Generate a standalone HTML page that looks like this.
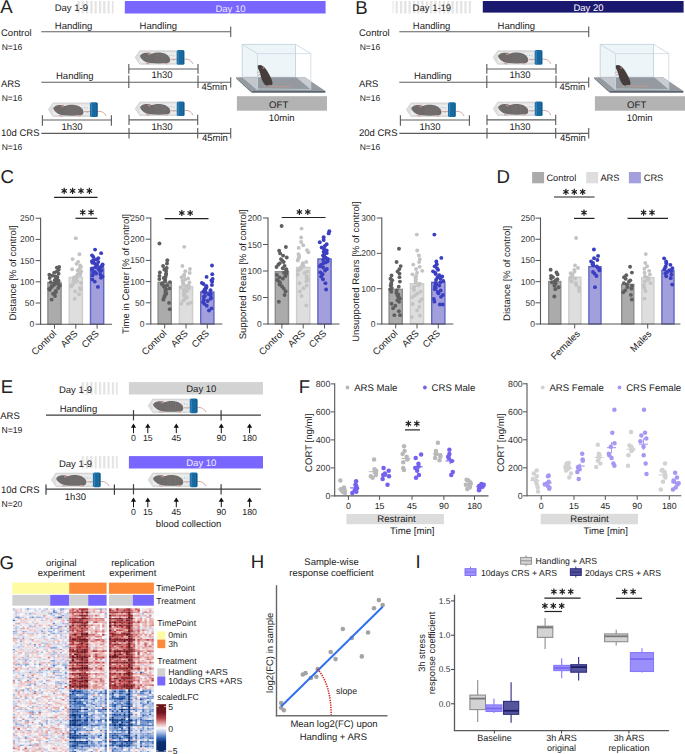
<!DOCTYPE html>
<html><head><meta charset="utf-8"><style>
html,body{margin:0;padding:0;background:#fff;width:685px;height:754px;overflow:hidden}
svg{display:block}
#wrap{width:685px;height:754px}
text{font-family:"Liberation Sans",sans-serif;text-rendering:geometricPrecision}
</style></head><body><div id="wrap">
<svg width="685" height="754" viewBox="0 0 685 754">
<defs>
<symbol id="tube" overflow="visible">
 <path d="M0.2,7.2 L4.8,0.5 L42,0.5 L42,14 L4.8,14 Z" fill="#dedede" stroke="#cacaca" stroke-width="0.6"/>
 <path d="M4.8,2 L41.5,2 L41.5,12.6 L4.8,12.6 Z" fill="#ebebeb"/>
 <path d="M36,9.2 L42,9.2 M49.4,9 C53.5,8.6 56.3,10 57.8,13.6" stroke="#c98d86" stroke-width="0.8" fill="none"/>
 <path d="M5,5.6 C6.5,3.8 8.5,2.6 11,2.6 C13,2.5 14.5,3.2 16.5,3.6 C19,2.6 22,2.3 25,2.4 C29,2.6 32.5,4.2 34.5,7 C36,9.5 35.5,12 33,12.8 C27,13.4 20,13.4 15,12.8 C11.5,12.3 8.5,10.8 7,9 C6,8 5.2,7 5,5.6 Z" fill="#6f6b6b"/>
 <path d="M20,3.6 v8.8 M22.5,3.2 v9.4 M25,3.1 v9.5 M27.5,3.4 v9.2 M30,4.2 v8.3" stroke="#7a7676" stroke-width="0.7"/>
 <circle cx="14.3" cy="3.7" r="1.4" fill="#b08a88"/>
 <path d="M11,13.1 L14.5,13.7 M29,13 L32.5,13.7" stroke="#d0a29c" stroke-width="1.1"/>
 <rect x="41.8" y="-0.1" width="7.8" height="14.7" rx="1.6" fill="#1b6ea6"/>
 <rect x="42.7" y="0.6" width="1.1" height="13.3" fill="#3686bc"/>
 <path d="M45,1 v12.6 M46.6,1 v12.6" stroke="#17618f" stroke-width="0.5"/>
 <rect x="48" y="0.6" width="1.1" height="13.3" fill="#145a88"/>
 <path d="M34,5 v1.2 M36.5,4.6 v1.2 M39,5 v1.2 M39,9.4 v1.2" stroke="#7fa6c2" stroke-width="0.6"/>
</symbol>
<symbol id="oft" overflow="visible">
 <polygon points="242.2,44.4 295.5,44.4 295.5,77.2 242.2,77.2" fill="#eef5f9" stroke="#b5c8d6" stroke-width="0.7"/>
 <polygon points="236.1,77.2 305,77.2 325.4,91.1 251.7,91.1" fill="#959aa0"/>
 <polygon points="242.4,77.3 258,77.3 258,90 257,90" fill="#c3c7cc"/>
 <polygon points="296.2,77.3 305,77.3 310.8,81.2 310.8,89.6" fill="#c9cdd1"/>
 <polygon points="251.7,91.1 325.4,91.1 325.4,92.7 251.7,92.7" fill="#5b636c"/>
 <polygon points="236.1,77.2 251.7,91.1 251.7,92.7 236.1,78.6" fill="#6d747b"/>
 <path d="M257.2,66 C258.5,64.5 261,64.6 263,66.2 C265.5,68 267.5,71 269.5,75 C271.5,79 273,82 272.4,84.6 C271,86 267,86 265,85 C262.5,82 261,77.5 260,73.5 C259.5,71 258,69 257.2,66 Z" fill="#463e3c"/>
 <circle cx="263.4" cy="67.9" r="1.1" fill="#9b6f6a"/>
 <path d="M259.8,71.5 L256.8,72.9 M260.4,74 L257.8,75.6" stroke="#c9958d" stroke-width="0.9"/>
 <path d="M268,85.3 C275,86.8 283,86.6 291.1,86.2" stroke="#c9958d" stroke-width="0.8" fill="none"/>
 <path d="M266,85.2 L263.5,87.5" stroke="#c9958d" stroke-width="0.9"/>
 <polygon points="257.5,53.6 310.8,53.6 310.8,89.6 257.5,88.9" fill="none" stroke="#c4d4e0" stroke-width="0.7"/>
 <path d="M242.2,44.4 L257.5,53.6 M295.5,44.4 L310.8,53.6 M242.2,77.2 L257.5,88.9" stroke="#bccdd9" stroke-width="0.7" fill="none"/>
</symbol>
<pattern id="stripes" width="4.3" height="20" patternUnits="userSpaceOnUse"><rect x="0" y="0" width="2.2" height="20" fill="#e3e3e3"/></pattern>

<filter id="gblur" filterUnits="userSpaceOnUse" x="0" y="0" width="685" height="754"><feConvolveMatrix order="3" kernelMatrix="0.012 0.065 0.012 0.065 0.692 0.065 0.012 0.065 0.012" edgeMode="duplicate" preserveAlpha="false"/></filter>
<filter id="hblur" x="-0.02" y="-0.02" width="1.04" height="1.04"><feGaussianBlur stdDeviation="0.35 0.25"/></filter>
<linearGradient id="lfc" x1="0" y1="0" x2="0" y2="1">
 <stop offset="0" stop-color="#6a1218"/><stop offset="0.18" stop-color="#701820"/><stop offset="0.3" stop-color="#b84448"/>
 <stop offset="0.42" stop-color="#e8b4b4"/><stop offset="0.5" stop-color="#fbfafc"/><stop offset="0.6" stop-color="#a8bce4"/>
 <stop offset="0.72" stop-color="#2c5cb0"/><stop offset="0.8" stop-color="#0c3070"/><stop offset="1" stop-color="#0a2a6a"/>
</linearGradient>
<pattern id="hmnoise" width="24" height="6" patternUnits="userSpaceOnUse">
 <rect x="0" y="0" width="24" height="1" fill="#ffffff" opacity="0.35"/>
 <rect x="3" y="2" width="9" height="1" fill="#ffffff" opacity="0.3"/>
 <rect x="14" y="3" width="8" height="1" fill="#ffffff" opacity="0.3"/>
 <rect x="0" y="4" width="5" height="1" fill="#ffffff" opacity="0.25"/>
</pattern>
</defs>
<rect width="685" height="754" fill="#fff"/>
<text x="0.30" y="12.70" font-size="18.6" text-anchor="start" fill="#222" >A</text>
<rect x="77.20" y="1.00" width="36.40" height="12.50" fill="url(#stripes)" />
<text x="54.70" y="11.20" font-size="9.5" text-anchor="start" fill="#222" >Day 1-9</text>
<rect x="124.80" y="1.00" width="200.80" height="12.50" fill="#7866fe" />
<text x="230.50" y="11.50" font-size="9.5" text-anchor="middle" fill="#ece9ff" >Day 10</text>
<text x="1.00" y="35.60" font-size="9.5" text-anchor="start" fill="#222" >Control</text>
<text x="1.70" y="49.80" font-size="8.5" text-anchor="start" fill="#222" >N=16</text>
<text x="54.80" y="28.60" font-size="9.5" text-anchor="start" fill="#222" >Handling</text>
<text x="139.60" y="28.60" font-size="9.5" text-anchor="start" fill="#222" >Handling</text>
<line x1="41.30" y1="31.70" x2="230.70" y2="31.70" stroke="#5e5e5e" stroke-width="1.15" />
<line x1="230.70" y1="26.40" x2="230.70" y2="36.90" stroke="#5e5e5e" stroke-width="1.15" />
<text x="0.90" y="86.60" font-size="9.5" text-anchor="start" fill="#222" >ARS</text>
<text x="1.70" y="100.60" font-size="8.5" text-anchor="start" fill="#222" >N=16</text>
<text x="56.00" y="78.80" font-size="9.5" text-anchor="start" fill="#222" >Handling</text>
<use href="#tube" x="134.9" y="50.2"/>
<line x1="128.80" y1="69.00" x2="198.00" y2="69.00" stroke="#5e5e5e" stroke-width="1.15" />
<line x1="128.80" y1="64.00" x2="128.80" y2="73.80" stroke="#5e5e5e" stroke-width="1.15" />
<line x1="198.00" y1="64.00" x2="198.00" y2="73.80" stroke="#5e5e5e" stroke-width="1.15" />
<text x="162.00" y="78.00" font-size="9.5" text-anchor="middle" fill="#222" >1h30</text>
<line x1="41.30" y1="82.20" x2="230.70" y2="82.20" stroke="#5e5e5e" stroke-width="1.15" />
<line x1="128.80" y1="75.50" x2="128.80" y2="88.00" stroke="#5e5e5e" stroke-width="1.15" />
<line x1="198.00" y1="75.50" x2="198.00" y2="88.00" stroke="#5e5e5e" stroke-width="1.15" />
<line x1="230.70" y1="77.20" x2="230.70" y2="87.40" stroke="#5e5e5e" stroke-width="1.15" />
<text x="201.50" y="90.30" font-size="9.5" text-anchor="start" fill="#222" >45min</text>
<text x="1.00" y="136.30" font-size="9.5" text-anchor="start" fill="#222" >10d CRS</text>
<text x="1.70" y="149.70" font-size="8.5" text-anchor="start" fill="#222" >N=16</text>
<use href="#tube" x="48.2" y="102.4"/>
<use href="#tube" x="135.0" y="101.5"/>
<line x1="42.40" y1="120.00" x2="111.40" y2="120.00" stroke="#5e5e5e" stroke-width="1.15" />
<line x1="42.40" y1="115.20" x2="42.40" y2="125.70" stroke="#5e5e5e" stroke-width="1.15" />
<line x1="111.40" y1="115.20" x2="111.40" y2="125.70" stroke="#5e5e5e" stroke-width="1.15" />
<text x="72.00" y="130.40" font-size="9.5" text-anchor="middle" fill="#222" >1h30</text>
<line x1="129.00" y1="119.80" x2="197.70" y2="119.80" stroke="#5e5e5e" stroke-width="1.15" />
<line x1="129.00" y1="114.70" x2="129.00" y2="125.10" stroke="#5e5e5e" stroke-width="1.15" />
<line x1="197.70" y1="114.70" x2="197.70" y2="125.10" stroke="#5e5e5e" stroke-width="1.15" />
<text x="162.00" y="130.40" font-size="9.5" text-anchor="middle" fill="#222" >1h30</text>
<line x1="41.30" y1="133.30" x2="230.70" y2="133.30" stroke="#5e5e5e" stroke-width="1.15" />
<line x1="129.00" y1="128.00" x2="129.00" y2="138.40" stroke="#5e5e5e" stroke-width="1.15" />
<line x1="197.70" y1="128.00" x2="197.70" y2="138.40" stroke="#5e5e5e" stroke-width="1.15" />
<line x1="230.70" y1="128.00" x2="230.70" y2="138.40" stroke="#5e5e5e" stroke-width="1.15" />
<text x="202.00" y="141.20" font-size="9.5" text-anchor="start" fill="#222" >45min</text>
<use href="#oft" x="0.0" y="0"/>
<rect x="236.90" y="96.20" width="90.10" height="14.50" fill="#b3b3b3" />
<text x="278.70" y="107.60" font-size="9.6" text-anchor="middle" fill="#222" >OFT</text>
<text x="281.60" y="121.00" font-size="9.5" text-anchor="middle" fill="#222" >10min</text>
<text x="355.30" y="13.60" font-size="18.6" text-anchor="start" fill="#222" >B</text>
<rect x="392.60" y="1.00" width="78.60" height="12.50" fill="url(#stripes)" />
<text x="412.60" y="11.20" font-size="9.5" text-anchor="start" fill="#222" >Day 1-19</text>
<rect x="482.80" y="1.00" width="200.80" height="11.60" fill="#1b196f" />
<text x="588.50" y="11.00" font-size="9.5" text-anchor="middle" fill="#ffffff" >Day 20</text>
<text x="359.00" y="35.60" font-size="9.5" text-anchor="start" fill="#222" >Control</text>
<text x="359.70" y="49.80" font-size="8.5" text-anchor="start" fill="#222" >N=16</text>
<text x="412.80" y="28.60" font-size="9.5" text-anchor="start" fill="#222" >Handling</text>
<text x="497.60" y="28.60" font-size="9.5" text-anchor="start" fill="#222" >Handling</text>
<line x1="399.30" y1="31.70" x2="588.70" y2="31.70" stroke="#5e5e5e" stroke-width="1.15" />
<line x1="588.70" y1="26.40" x2="588.70" y2="36.90" stroke="#5e5e5e" stroke-width="1.15" />
<text x="358.90" y="86.60" font-size="9.5" text-anchor="start" fill="#222" >ARS</text>
<text x="359.70" y="100.60" font-size="8.5" text-anchor="start" fill="#222" >N=16</text>
<text x="414.00" y="78.80" font-size="9.5" text-anchor="start" fill="#222" >Handling</text>
<use href="#tube" x="492.9" y="50.2"/>
<line x1="486.80" y1="69.00" x2="556.00" y2="69.00" stroke="#5e5e5e" stroke-width="1.15" />
<line x1="486.80" y1="64.00" x2="486.80" y2="73.80" stroke="#5e5e5e" stroke-width="1.15" />
<line x1="556.00" y1="64.00" x2="556.00" y2="73.80" stroke="#5e5e5e" stroke-width="1.15" />
<text x="520.00" y="78.00" font-size="9.5" text-anchor="middle" fill="#222" >1h30</text>
<line x1="399.30" y1="82.20" x2="588.70" y2="82.20" stroke="#5e5e5e" stroke-width="1.15" />
<line x1="486.80" y1="75.50" x2="486.80" y2="88.00" stroke="#5e5e5e" stroke-width="1.15" />
<line x1="556.00" y1="75.50" x2="556.00" y2="88.00" stroke="#5e5e5e" stroke-width="1.15" />
<line x1="588.70" y1="77.20" x2="588.70" y2="87.40" stroke="#5e5e5e" stroke-width="1.15" />
<text x="559.50" y="90.30" font-size="9.5" text-anchor="start" fill="#222" >45min</text>
<text x="359.00" y="136.30" font-size="9.5" text-anchor="start" fill="#222" >20d CRS</text>
<text x="359.70" y="149.70" font-size="8.5" text-anchor="start" fill="#222" >N=16</text>
<use href="#tube" x="406.2" y="102.4"/>
<use href="#tube" x="493.0" y="101.5"/>
<line x1="400.40" y1="120.00" x2="469.40" y2="120.00" stroke="#5e5e5e" stroke-width="1.15" />
<line x1="400.40" y1="115.20" x2="400.40" y2="125.70" stroke="#5e5e5e" stroke-width="1.15" />
<line x1="469.40" y1="115.20" x2="469.40" y2="125.70" stroke="#5e5e5e" stroke-width="1.15" />
<text x="430.00" y="130.40" font-size="9.5" text-anchor="middle" fill="#222" >1h30</text>
<line x1="487.00" y1="119.80" x2="555.70" y2="119.80" stroke="#5e5e5e" stroke-width="1.15" />
<line x1="487.00" y1="114.70" x2="487.00" y2="125.10" stroke="#5e5e5e" stroke-width="1.15" />
<line x1="555.70" y1="114.70" x2="555.70" y2="125.10" stroke="#5e5e5e" stroke-width="1.15" />
<text x="520.00" y="130.40" font-size="9.5" text-anchor="middle" fill="#222" >1h30</text>
<line x1="399.30" y1="133.30" x2="588.70" y2="133.30" stroke="#5e5e5e" stroke-width="1.15" />
<line x1="487.00" y1="128.00" x2="487.00" y2="138.40" stroke="#5e5e5e" stroke-width="1.15" />
<line x1="555.70" y1="128.00" x2="555.70" y2="138.40" stroke="#5e5e5e" stroke-width="1.15" />
<line x1="588.70" y1="128.00" x2="588.70" y2="138.40" stroke="#5e5e5e" stroke-width="1.15" />
<text x="560.00" y="141.20" font-size="9.5" text-anchor="start" fill="#222" >45min</text>
<use href="#oft" x="358.0" y="0"/>
<rect x="594.90" y="96.20" width="90.10" height="14.50" fill="#b3b3b3" />
<text x="636.70" y="107.60" font-size="9.6" text-anchor="middle" fill="#222" >OFT</text>
<text x="639.60" y="121.00" font-size="9.5" text-anchor="middle" fill="#222" >10min</text>
<text x="0.60" y="182.70" font-size="18.6" text-anchor="start" fill="#222" >C</text>
<rect x="47.90" y="282.50" width="13.20" height="41.70" fill="#ababab" stroke="#8c8c8c" stroke-width="1.4"/>
<rect x="69.20" y="277.41" width="13.20" height="46.79" fill="#dedede" stroke="#cdcdcd" stroke-width="1.4"/>
<rect x="90.50" y="268.08" width="13.20" height="56.12" fill="#a39fdd" stroke="#5f67c3" stroke-width="1.4"/>
<circle cx="51.62" cy="299.61" r="1.95" fill="#5f5f5f" />
<circle cx="54.99" cy="296.01" r="1.95" fill="#5f5f5f" />
<circle cx="53.07" cy="293.82" r="1.95" fill="#5f5f5f" />
<circle cx="55.64" cy="292.23" r="1.95" fill="#5f5f5f" />
<circle cx="55.88" cy="290.94" r="1.95" fill="#5f5f5f" />
<circle cx="49.72" cy="289.83" r="1.95" fill="#5f5f5f" />
<circle cx="49.14" cy="288.84" r="1.95" fill="#5f5f5f" />
<circle cx="58.21" cy="287.94" r="1.95" fill="#5f5f5f" />
<circle cx="51.85" cy="287.11" r="1.95" fill="#5f5f5f" />
<circle cx="51.58" cy="286.32" r="1.95" fill="#5f5f5f" />
<circle cx="59.95" cy="285.57" r="1.95" fill="#5f5f5f" />
<circle cx="54.17" cy="284.85" r="1.95" fill="#5f5f5f" />
<circle cx="58.20" cy="284.15" r="1.95" fill="#5f5f5f" />
<circle cx="54.24" cy="283.47" r="1.95" fill="#5f5f5f" />
<circle cx="56.03" cy="282.80" r="1.95" fill="#5f5f5f" />
<circle cx="50.66" cy="282.13" r="1.95" fill="#5f5f5f" />
<circle cx="55.98" cy="281.47" r="1.95" fill="#5f5f5f" />
<circle cx="58.55" cy="280.80" r="1.95" fill="#5f5f5f" />
<circle cx="54.75" cy="280.13" r="1.95" fill="#5f5f5f" />
<circle cx="57.15" cy="279.45" r="1.95" fill="#5f5f5f" />
<circle cx="56.39" cy="278.75" r="1.95" fill="#5f5f5f" />
<circle cx="49.70" cy="278.03" r="1.95" fill="#5f5f5f" />
<circle cx="57.34" cy="277.28" r="1.95" fill="#5f5f5f" />
<circle cx="55.50" cy="276.49" r="1.95" fill="#5f5f5f" />
<circle cx="52.31" cy="275.66" r="1.95" fill="#5f5f5f" />
<circle cx="49.34" cy="274.76" r="1.95" fill="#5f5f5f" />
<circle cx="58.52" cy="273.77" r="1.95" fill="#5f5f5f" />
<circle cx="54.20" cy="272.66" r="1.95" fill="#5f5f5f" />
<circle cx="56.91" cy="271.37" r="1.95" fill="#5f5f5f" />
<circle cx="58.67" cy="269.78" r="1.95" fill="#5f5f5f" />
<circle cx="56.86" cy="267.59" r="1.95" fill="#5f5f5f" />
<circle cx="59.13" cy="266.96" r="1.95" fill="#5f5f5f" />
<circle cx="74.64" cy="298.76" r="1.95" fill="#c3c3c3" />
<circle cx="79.11" cy="294.32" r="1.95" fill="#c3c3c3" />
<circle cx="75.19" cy="291.56" r="1.95" fill="#c3c3c3" />
<circle cx="80.59" cy="289.55" r="1.95" fill="#c3c3c3" />
<circle cx="79.97" cy="287.92" r="1.95" fill="#c3c3c3" />
<circle cx="71.37" cy="286.52" r="1.95" fill="#c3c3c3" />
<circle cx="71.80" cy="285.27" r="1.95" fill="#c3c3c3" />
<circle cx="72.69" cy="284.13" r="1.95" fill="#c3c3c3" />
<circle cx="80.92" cy="283.07" r="1.95" fill="#c3c3c3" />
<circle cx="75.10" cy="282.07" r="1.95" fill="#c3c3c3" />
<circle cx="77.19" cy="281.12" r="1.95" fill="#c3c3c3" />
<circle cx="73.61" cy="280.20" r="1.95" fill="#c3c3c3" />
<circle cx="75.88" cy="279.31" r="1.95" fill="#c3c3c3" />
<circle cx="74.54" cy="278.43" r="1.95" fill="#c3c3c3" />
<circle cx="74.16" cy="277.57" r="1.95" fill="#c3c3c3" />
<circle cx="76.74" cy="276.71" r="1.95" fill="#c3c3c3" />
<circle cx="76.73" cy="275.85" r="1.95" fill="#c3c3c3" />
<circle cx="80.25" cy="274.99" r="1.95" fill="#c3c3c3" />
<circle cx="77.80" cy="274.11" r="1.95" fill="#c3c3c3" />
<circle cx="80.52" cy="273.22" r="1.95" fill="#c3c3c3" />
<circle cx="79.72" cy="272.30" r="1.95" fill="#c3c3c3" />
<circle cx="81.20" cy="271.35" r="1.95" fill="#c3c3c3" />
<circle cx="77.68" cy="270.35" r="1.95" fill="#c3c3c3" />
<circle cx="72.09" cy="269.29" r="1.95" fill="#c3c3c3" />
<circle cx="79.77" cy="268.15" r="1.95" fill="#c3c3c3" />
<circle cx="80.91" cy="266.90" r="1.95" fill="#c3c3c3" />
<circle cx="80.25" cy="265.50" r="1.95" fill="#c3c3c3" />
<circle cx="76.56" cy="263.87" r="1.95" fill="#c3c3c3" />
<circle cx="78.15" cy="261.86" r="1.95" fill="#c3c3c3" />
<circle cx="72.62" cy="259.11" r="1.95" fill="#c3c3c3" />
<circle cx="79.45" cy="254.24" r="1.95" fill="#c3c3c3" />
<circle cx="75.80" cy="238.13" r="1.95" fill="#c3c3c3" />
<circle cx="97.91" cy="286.89" r="1.95" fill="#3a3ec0" />
<circle cx="94.73" cy="281.60" r="1.95" fill="#3a3ec0" />
<circle cx="92.30" cy="279.41" r="1.95" fill="#3a3ec0" />
<circle cx="100.99" cy="277.81" r="1.95" fill="#3a3ec0" />
<circle cx="102.49" cy="276.52" r="1.95" fill="#3a3ec0" />
<circle cx="92.57" cy="275.41" r="1.95" fill="#3a3ec0" />
<circle cx="100.41" cy="274.43" r="1.95" fill="#3a3ec0" />
<circle cx="96.12" cy="273.53" r="1.95" fill="#3a3ec0" />
<circle cx="93.26" cy="272.69" r="1.95" fill="#3a3ec0" />
<circle cx="94.83" cy="271.91" r="1.95" fill="#3a3ec0" />
<circle cx="100.06" cy="271.16" r="1.95" fill="#3a3ec0" />
<circle cx="101.20" cy="270.44" r="1.95" fill="#3a3ec0" />
<circle cx="92.09" cy="269.74" r="1.95" fill="#3a3ec0" />
<circle cx="98.36" cy="269.06" r="1.95" fill="#3a3ec0" />
<circle cx="92.09" cy="268.38" r="1.95" fill="#3a3ec0" />
<circle cx="99.50" cy="267.72" r="1.95" fill="#3a3ec0" />
<circle cx="95.24" cy="267.05" r="1.95" fill="#3a3ec0" />
<circle cx="101.29" cy="266.39" r="1.95" fill="#3a3ec0" />
<circle cx="102.39" cy="265.71" r="1.95" fill="#3a3ec0" />
<circle cx="97.16" cy="265.03" r="1.95" fill="#3a3ec0" />
<circle cx="102.58" cy="264.33" r="1.95" fill="#3a3ec0" />
<circle cx="95.01" cy="263.61" r="1.95" fill="#3a3ec0" />
<circle cx="92.45" cy="262.86" r="1.95" fill="#3a3ec0" />
<circle cx="98.20" cy="262.07" r="1.95" fill="#3a3ec0" />
<circle cx="91.95" cy="261.24" r="1.95" fill="#3a3ec0" />
<circle cx="93.77" cy="260.34" r="1.95" fill="#3a3ec0" />
<circle cx="96.09" cy="259.36" r="1.95" fill="#3a3ec0" />
<circle cx="98.32" cy="258.25" r="1.95" fill="#3a3ec0" />
<circle cx="93.32" cy="256.95" r="1.95" fill="#3a3ec0" />
<circle cx="92.07" cy="255.36" r="1.95" fill="#3a3ec0" />
<circle cx="101.15" cy="253.17" r="1.95" fill="#3a3ec0" />
<circle cx="95.05" cy="249.58" r="1.95" fill="#3a3ec0" />
<line x1="40.60" y1="217.70" x2="40.60" y2="324.70" stroke="#555" stroke-width="1.1" />
<line x1="40.60" y1="324.20" x2="112.10" y2="324.20" stroke="#555" stroke-width="1.1" />
<line x1="35.60" y1="324.20" x2="40.60" y2="324.20" stroke="#555" stroke-width="1" />
<text x="34.30" y="327.20" font-size="8.5" text-anchor="end" fill="#333" >0</text>
<line x1="35.60" y1="303.00" x2="40.60" y2="303.00" stroke="#555" stroke-width="1" />
<text x="34.30" y="306.00" font-size="8.5" text-anchor="end" fill="#333" >50</text>
<line x1="35.60" y1="281.80" x2="40.60" y2="281.80" stroke="#555" stroke-width="1" />
<text x="34.30" y="284.80" font-size="8.5" text-anchor="end" fill="#333" >100</text>
<line x1="35.60" y1="260.60" x2="40.60" y2="260.60" stroke="#555" stroke-width="1" />
<text x="34.30" y="263.60" font-size="8.5" text-anchor="end" fill="#333" >150</text>
<line x1="35.60" y1="239.40" x2="40.60" y2="239.40" stroke="#555" stroke-width="1" />
<text x="34.30" y="242.40" font-size="8.5" text-anchor="end" fill="#333" >200</text>
<line x1="35.60" y1="218.20" x2="40.60" y2="218.20" stroke="#555" stroke-width="1" />
<text x="34.30" y="221.20" font-size="8.5" text-anchor="end" fill="#333" >250</text>
<line x1="54.50" y1="324.20" x2="54.50" y2="328.70" stroke="#555" stroke-width="1" />
<line x1="75.80" y1="324.20" x2="75.80" y2="328.70" stroke="#555" stroke-width="1" />
<line x1="97.10" y1="324.20" x2="97.10" y2="328.70" stroke="#555" stroke-width="1" />
<text x="57.00" y="334.20" font-size="9.5" text-anchor="end" fill="#222" transform="rotate(-45 57.00 334.20)">Control</text>
<text x="78.30" y="334.20" font-size="9.5" text-anchor="end" fill="#222" transform="rotate(-45 78.30 334.20)">ARS</text>
<text x="99.60" y="334.20" font-size="9.5" text-anchor="end" fill="#222" transform="rotate(-45 99.60 334.20)">CRS</text>
<text x="16.20" y="272.90" font-size="9.5" text-anchor="middle" fill="#222" transform="rotate(-90 16.20 272.90)">Distance [% of control]</text>
<rect x="158.10" y="282.30" width="13.20" height="41.70" fill="#ababab" stroke="#8c8c8c" stroke-width="1.4"/>
<rect x="179.40" y="286.54" width="13.20" height="37.46" fill="#dedede" stroke="#cdcdcd" stroke-width="1.4"/>
<rect x="200.70" y="292.05" width="13.20" height="31.95" fill="#a39fdd" stroke="#5f67c3" stroke-width="1.4"/>
<circle cx="169.75" cy="309.16" r="1.95" fill="#5f5f5f" />
<circle cx="169.06" cy="302.92" r="1.95" fill="#5f5f5f" />
<circle cx="163.36" cy="299.63" r="1.95" fill="#5f5f5f" />
<circle cx="164.26" cy="297.24" r="1.95" fill="#5f5f5f" />
<circle cx="164.92" cy="295.31" r="1.95" fill="#5f5f5f" />
<circle cx="166.28" cy="293.64" r="1.95" fill="#5f5f5f" />
<circle cx="165.75" cy="292.16" r="1.95" fill="#5f5f5f" />
<circle cx="165.35" cy="290.82" r="1.95" fill="#5f5f5f" />
<circle cx="166.02" cy="289.56" r="1.95" fill="#5f5f5f" />
<circle cx="169.55" cy="288.38" r="1.95" fill="#5f5f5f" />
<circle cx="164.78" cy="287.26" r="1.95" fill="#5f5f5f" />
<circle cx="163.94" cy="286.18" r="1.95" fill="#5f5f5f" />
<circle cx="167.12" cy="285.13" r="1.95" fill="#5f5f5f" />
<circle cx="161.81" cy="284.11" r="1.95" fill="#5f5f5f" />
<circle cx="162.51" cy="283.10" r="1.95" fill="#5f5f5f" />
<circle cx="169.96" cy="282.10" r="1.95" fill="#5f5f5f" />
<circle cx="164.93" cy="281.10" r="1.95" fill="#5f5f5f" />
<circle cx="165.23" cy="280.10" r="1.95" fill="#5f5f5f" />
<circle cx="159.33" cy="279.09" r="1.95" fill="#5f5f5f" />
<circle cx="163.77" cy="278.07" r="1.95" fill="#5f5f5f" />
<circle cx="165.58" cy="277.02" r="1.95" fill="#5f5f5f" />
<circle cx="159.42" cy="275.94" r="1.95" fill="#5f5f5f" />
<circle cx="165.97" cy="274.82" r="1.95" fill="#5f5f5f" />
<circle cx="166.15" cy="273.64" r="1.95" fill="#5f5f5f" />
<circle cx="159.86" cy="272.38" r="1.95" fill="#5f5f5f" />
<circle cx="166.10" cy="271.04" r="1.95" fill="#5f5f5f" />
<circle cx="164.33" cy="269.56" r="1.95" fill="#5f5f5f" />
<circle cx="166.67" cy="267.89" r="1.95" fill="#5f5f5f" />
<circle cx="163.08" cy="265.96" r="1.95" fill="#5f5f5f" />
<circle cx="166.98" cy="263.57" r="1.95" fill="#5f5f5f" />
<circle cx="167.32" cy="260.28" r="1.95" fill="#5f5f5f" />
<circle cx="159.44" cy="243.44" r="1.95" fill="#5f5f5f" />
<circle cx="181.17" cy="303.65" r="1.95" fill="#c3c3c3" />
<circle cx="187.94" cy="303.65" r="1.95" fill="#c3c3c3" />
<circle cx="191.10" cy="302.67" r="1.95" fill="#c3c3c3" />
<circle cx="183.26" cy="300.44" r="1.95" fill="#c3c3c3" />
<circle cx="185.52" cy="298.63" r="1.95" fill="#c3c3c3" />
<circle cx="187.02" cy="297.08" r="1.95" fill="#c3c3c3" />
<circle cx="184.02" cy="295.70" r="1.95" fill="#c3c3c3" />
<circle cx="184.50" cy="294.44" r="1.95" fill="#c3c3c3" />
<circle cx="183.94" cy="293.27" r="1.95" fill="#c3c3c3" />
<circle cx="184.56" cy="292.17" r="1.95" fill="#c3c3c3" />
<circle cx="187.05" cy="291.12" r="1.95" fill="#c3c3c3" />
<circle cx="183.80" cy="290.12" r="1.95" fill="#c3c3c3" />
<circle cx="184.65" cy="289.14" r="1.95" fill="#c3c3c3" />
<circle cx="189.00" cy="288.18" r="1.95" fill="#c3c3c3" />
<circle cx="180.80" cy="287.24" r="1.95" fill="#c3c3c3" />
<circle cx="186.76" cy="286.31" r="1.95" fill="#c3c3c3" />
<circle cx="188.59" cy="285.37" r="1.95" fill="#c3c3c3" />
<circle cx="183.91" cy="284.44" r="1.95" fill="#c3c3c3" />
<circle cx="182.95" cy="283.50" r="1.95" fill="#c3c3c3" />
<circle cx="189.34" cy="282.54" r="1.95" fill="#c3c3c3" />
<circle cx="183.13" cy="281.56" r="1.95" fill="#c3c3c3" />
<circle cx="182.56" cy="280.56" r="1.95" fill="#c3c3c3" />
<circle cx="185.29" cy="279.51" r="1.95" fill="#c3c3c3" />
<circle cx="188.18" cy="278.41" r="1.95" fill="#c3c3c3" />
<circle cx="181.62" cy="277.24" r="1.95" fill="#c3c3c3" />
<circle cx="184.04" cy="275.98" r="1.95" fill="#c3c3c3" />
<circle cx="184.17" cy="274.60" r="1.95" fill="#c3c3c3" />
<circle cx="189.67" cy="273.05" r="1.95" fill="#c3c3c3" />
<circle cx="185.32" cy="271.24" r="1.95" fill="#c3c3c3" />
<circle cx="189.91" cy="269.01" r="1.95" fill="#c3c3c3" />
<circle cx="182.36" cy="265.94" r="1.95" fill="#c3c3c3" />
<circle cx="184.20" cy="246.83" r="1.95" fill="#c3c3c3" />
<circle cx="208.95" cy="310.43" r="1.95" fill="#3a3ec0" />
<circle cx="211.53" cy="308.41" r="1.95" fill="#3a3ec0" />
<circle cx="206.76" cy="305.78" r="1.95" fill="#3a3ec0" />
<circle cx="204.28" cy="303.87" r="1.95" fill="#3a3ec0" />
<circle cx="203.13" cy="302.32" r="1.95" fill="#3a3ec0" />
<circle cx="207.63" cy="300.99" r="1.95" fill="#3a3ec0" />
<circle cx="203.90" cy="299.80" r="1.95" fill="#3a3ec0" />
<circle cx="210.67" cy="298.72" r="1.95" fill="#3a3ec0" />
<circle cx="211.02" cy="297.72" r="1.95" fill="#3a3ec0" />
<circle cx="203.82" cy="296.78" r="1.95" fill="#3a3ec0" />
<circle cx="204.86" cy="295.88" r="1.95" fill="#3a3ec0" />
<circle cx="210.68" cy="295.02" r="1.95" fill="#3a3ec0" />
<circle cx="208.86" cy="294.18" r="1.95" fill="#3a3ec0" />
<circle cx="210.67" cy="293.36" r="1.95" fill="#3a3ec0" />
<circle cx="205.60" cy="292.55" r="1.95" fill="#3a3ec0" />
<circle cx="203.23" cy="291.75" r="1.95" fill="#3a3ec0" />
<circle cx="205.01" cy="290.95" r="1.95" fill="#3a3ec0" />
<circle cx="210.53" cy="290.15" r="1.95" fill="#3a3ec0" />
<circle cx="204.78" cy="289.35" r="1.95" fill="#3a3ec0" />
<circle cx="205.61" cy="288.53" r="1.95" fill="#3a3ec0" />
<circle cx="206.39" cy="287.69" r="1.95" fill="#3a3ec0" />
<circle cx="206.42" cy="286.82" r="1.95" fill="#3a3ec0" />
<circle cx="206.30" cy="285.92" r="1.95" fill="#3a3ec0" />
<circle cx="211.93" cy="284.98" r="1.95" fill="#3a3ec0" />
<circle cx="203.52" cy="283.98" r="1.95" fill="#3a3ec0" />
<circle cx="201.85" cy="282.90" r="1.95" fill="#3a3ec0" />
<circle cx="212.18" cy="281.72" r="1.95" fill="#3a3ec0" />
<circle cx="211.48" cy="280.39" r="1.95" fill="#3a3ec0" />
<circle cx="212.66" cy="278.84" r="1.95" fill="#3a3ec0" />
<circle cx="206.58" cy="276.92" r="1.95" fill="#3a3ec0" />
<circle cx="212.25" cy="274.30" r="1.95" fill="#3a3ec0" />
<circle cx="212.00" cy="265.49" r="1.95" fill="#3a3ec0" />
<line x1="150.80" y1="217.50" x2="150.80" y2="324.50" stroke="#555" stroke-width="1.1" />
<line x1="150.80" y1="324.00" x2="222.30" y2="324.00" stroke="#555" stroke-width="1.1" />
<line x1="145.80" y1="324.00" x2="150.80" y2="324.00" stroke="#555" stroke-width="1" />
<text x="144.50" y="327.00" font-size="8.5" text-anchor="end" fill="#333" >0</text>
<line x1="145.80" y1="302.80" x2="150.80" y2="302.80" stroke="#555" stroke-width="1" />
<text x="144.50" y="305.80" font-size="8.5" text-anchor="end" fill="#333" >50</text>
<line x1="145.80" y1="281.60" x2="150.80" y2="281.60" stroke="#555" stroke-width="1" />
<text x="144.50" y="284.60" font-size="8.5" text-anchor="end" fill="#333" >100</text>
<line x1="145.80" y1="260.40" x2="150.80" y2="260.40" stroke="#555" stroke-width="1" />
<text x="144.50" y="263.40" font-size="8.5" text-anchor="end" fill="#333" >150</text>
<line x1="145.80" y1="239.20" x2="150.80" y2="239.20" stroke="#555" stroke-width="1" />
<text x="144.50" y="242.20" font-size="8.5" text-anchor="end" fill="#333" >200</text>
<line x1="145.80" y1="218.00" x2="150.80" y2="218.00" stroke="#555" stroke-width="1" />
<text x="144.50" y="221.00" font-size="8.5" text-anchor="end" fill="#333" >250</text>
<line x1="164.70" y1="324.00" x2="164.70" y2="328.50" stroke="#555" stroke-width="1" />
<line x1="186.00" y1="324.00" x2="186.00" y2="328.50" stroke="#555" stroke-width="1" />
<line x1="207.30" y1="324.00" x2="207.30" y2="328.50" stroke="#555" stroke-width="1" />
<text x="167.20" y="334.00" font-size="9.5" text-anchor="end" fill="#222" transform="rotate(-45 167.20 334.00)">Control</text>
<text x="188.50" y="334.00" font-size="9.5" text-anchor="end" fill="#222" transform="rotate(-45 188.50 334.00)">ARS</text>
<text x="209.80" y="334.00" font-size="9.5" text-anchor="end" fill="#222" transform="rotate(-45 209.80 334.00)">CRS</text>
<text x="128.50" y="274.00" font-size="9.5" text-anchor="middle" fill="#222" transform="rotate(-90 128.50 274.00)">Time in Center [% of control]</text>
<rect x="275.30" y="271.70" width="13.20" height="52.30" fill="#ababab" stroke="#8c8c8c" stroke-width="1.4"/>
<rect x="296.60" y="267.46" width="13.20" height="56.54" fill="#dedede" stroke="#cdcdcd" stroke-width="1.4"/>
<rect x="317.90" y="258.98" width="13.20" height="65.02" fill="#a39fdd" stroke="#5f67c3" stroke-width="1.4"/>
<circle cx="278.84" cy="301.74" r="1.95" fill="#5f5f5f" />
<circle cx="284.60" cy="294.98" r="1.95" fill="#5f5f5f" />
<circle cx="285.60" cy="291.29" r="1.95" fill="#5f5f5f" />
<circle cx="283.69" cy="288.60" r="1.95" fill="#5f5f5f" />
<circle cx="282.11" cy="286.42" r="1.95" fill="#5f5f5f" />
<circle cx="279.58" cy="284.55" r="1.95" fill="#5f5f5f" />
<circle cx="280.15" cy="282.88" r="1.95" fill="#5f5f5f" />
<circle cx="278.90" cy="281.37" r="1.95" fill="#5f5f5f" />
<circle cx="277.15" cy="279.96" r="1.95" fill="#5f5f5f" />
<circle cx="282.88" cy="278.63" r="1.95" fill="#5f5f5f" />
<circle cx="279.56" cy="277.37" r="1.95" fill="#5f5f5f" />
<circle cx="285.31" cy="276.15" r="1.95" fill="#5f5f5f" />
<circle cx="276.90" cy="274.97" r="1.95" fill="#5f5f5f" />
<circle cx="286.34" cy="273.82" r="1.95" fill="#5f5f5f" />
<circle cx="284.03" cy="272.69" r="1.95" fill="#5f5f5f" />
<circle cx="286.56" cy="271.56" r="1.95" fill="#5f5f5f" />
<circle cx="286.26" cy="270.44" r="1.95" fill="#5f5f5f" />
<circle cx="286.30" cy="269.31" r="1.95" fill="#5f5f5f" />
<circle cx="282.75" cy="268.18" r="1.95" fill="#5f5f5f" />
<circle cx="276.54" cy="267.03" r="1.95" fill="#5f5f5f" />
<circle cx="284.60" cy="265.85" r="1.95" fill="#5f5f5f" />
<circle cx="278.29" cy="264.63" r="1.95" fill="#5f5f5f" />
<circle cx="279.70" cy="263.37" r="1.95" fill="#5f5f5f" />
<circle cx="283.69" cy="262.04" r="1.95" fill="#5f5f5f" />
<circle cx="282.17" cy="260.63" r="1.95" fill="#5f5f5f" />
<circle cx="280.95" cy="259.12" r="1.95" fill="#5f5f5f" />
<circle cx="286.73" cy="257.45" r="1.95" fill="#5f5f5f" />
<circle cx="283.13" cy="255.58" r="1.95" fill="#5f5f5f" />
<circle cx="280.15" cy="253.40" r="1.95" fill="#5f5f5f" />
<circle cx="279.18" cy="250.71" r="1.95" fill="#5f5f5f" />
<circle cx="285.88" cy="247.02" r="1.95" fill="#5f5f5f" />
<circle cx="281.65" cy="225.95" r="1.95" fill="#5f5f5f" />
<circle cx="306.31" cy="305.45" r="1.95" fill="#c3c3c3" />
<circle cx="301.57" cy="296.07" r="1.95" fill="#c3c3c3" />
<circle cx="299.87" cy="291.56" r="1.95" fill="#c3c3c3" />
<circle cx="303.58" cy="288.27" r="1.95" fill="#c3c3c3" />
<circle cx="306.68" cy="285.61" r="1.95" fill="#c3c3c3" />
<circle cx="299.58" cy="283.32" r="1.95" fill="#c3c3c3" />
<circle cx="306.41" cy="281.29" r="1.95" fill="#c3c3c3" />
<circle cx="307.84" cy="279.43" r="1.95" fill="#c3c3c3" />
<circle cx="306.57" cy="277.71" r="1.95" fill="#c3c3c3" />
<circle cx="306.76" cy="276.09" r="1.95" fill="#c3c3c3" />
<circle cx="297.78" cy="274.54" r="1.95" fill="#c3c3c3" />
<circle cx="304.61" cy="273.06" r="1.95" fill="#c3c3c3" />
<circle cx="307.19" cy="271.62" r="1.95" fill="#c3c3c3" />
<circle cx="298.25" cy="270.21" r="1.95" fill="#c3c3c3" />
<circle cx="300.69" cy="268.82" r="1.95" fill="#c3c3c3" />
<circle cx="300.65" cy="267.45" r="1.95" fill="#c3c3c3" />
<circle cx="303.50" cy="266.07" r="1.95" fill="#c3c3c3" />
<circle cx="302.35" cy="264.70" r="1.95" fill="#c3c3c3" />
<circle cx="302.90" cy="263.31" r="1.95" fill="#c3c3c3" />
<circle cx="306.24" cy="261.90" r="1.95" fill="#c3c3c3" />
<circle cx="297.72" cy="260.46" r="1.95" fill="#c3c3c3" />
<circle cx="298.30" cy="258.98" r="1.95" fill="#c3c3c3" />
<circle cx="299.10" cy="257.43" r="1.95" fill="#c3c3c3" />
<circle cx="299.07" cy="255.81" r="1.95" fill="#c3c3c3" />
<circle cx="298.45" cy="254.09" r="1.95" fill="#c3c3c3" />
<circle cx="308.42" cy="252.23" r="1.95" fill="#c3c3c3" />
<circle cx="307.10" cy="250.20" r="1.95" fill="#c3c3c3" />
<circle cx="298.65" cy="247.91" r="1.95" fill="#c3c3c3" />
<circle cx="303.22" cy="245.25" r="1.95" fill="#c3c3c3" />
<circle cx="301.17" cy="241.96" r="1.95" fill="#c3c3c3" />
<circle cx="301.16" cy="237.45" r="1.95" fill="#c3c3c3" />
<circle cx="301.56" cy="228.60" r="1.95" fill="#c3c3c3" />
<circle cx="326.12" cy="289.55" r="1.95" fill="#3a3ec0" />
<circle cx="325.45" cy="283.15" r="1.95" fill="#3a3ec0" />
<circle cx="322.97" cy="279.32" r="1.95" fill="#3a3ec0" />
<circle cx="321.10" cy="276.53" r="1.95" fill="#3a3ec0" />
<circle cx="322.62" cy="274.27" r="1.95" fill="#3a3ec0" />
<circle cx="320.36" cy="272.33" r="1.95" fill="#3a3ec0" />
<circle cx="325.11" cy="270.60" r="1.95" fill="#3a3ec0" />
<circle cx="326.88" cy="269.03" r="1.95" fill="#3a3ec0" />
<circle cx="323.18" cy="267.57" r="1.95" fill="#3a3ec0" />
<circle cx="319.88" cy="266.20" r="1.95" fill="#3a3ec0" />
<circle cx="320.96" cy="264.89" r="1.95" fill="#3a3ec0" />
<circle cx="323.11" cy="263.62" r="1.95" fill="#3a3ec0" />
<circle cx="325.65" cy="262.40" r="1.95" fill="#3a3ec0" />
<circle cx="327.61" cy="261.20" r="1.95" fill="#3a3ec0" />
<circle cx="323.18" cy="260.03" r="1.95" fill="#3a3ec0" />
<circle cx="327.81" cy="258.86" r="1.95" fill="#3a3ec0" />
<circle cx="325.85" cy="257.70" r="1.95" fill="#3a3ec0" />
<circle cx="323.75" cy="256.53" r="1.95" fill="#3a3ec0" />
<circle cx="323.10" cy="255.36" r="1.95" fill="#3a3ec0" />
<circle cx="324.46" cy="254.16" r="1.95" fill="#3a3ec0" />
<circle cx="326.73" cy="252.94" r="1.95" fill="#3a3ec0" />
<circle cx="323.63" cy="251.67" r="1.95" fill="#3a3ec0" />
<circle cx="326.64" cy="250.36" r="1.95" fill="#3a3ec0" />
<circle cx="324.07" cy="248.99" r="1.95" fill="#3a3ec0" />
<circle cx="321.70" cy="247.53" r="1.95" fill="#3a3ec0" />
<circle cx="324.89" cy="245.96" r="1.95" fill="#3a3ec0" />
<circle cx="326.65" cy="244.23" r="1.95" fill="#3a3ec0" />
<circle cx="319.79" cy="242.29" r="1.95" fill="#3a3ec0" />
<circle cx="323.67" cy="240.03" r="1.95" fill="#3a3ec0" />
<circle cx="323.68" cy="237.24" r="1.95" fill="#3a3ec0" />
<circle cx="328.68" cy="233.41" r="1.95" fill="#3a3ec0" />
<circle cx="329.30" cy="231.25" r="1.95" fill="#3a3ec0" />
<line x1="268.00" y1="217.50" x2="268.00" y2="324.50" stroke="#555" stroke-width="1.1" />
<line x1="268.00" y1="324.00" x2="339.50" y2="324.00" stroke="#555" stroke-width="1.1" />
<line x1="263.00" y1="324.00" x2="268.00" y2="324.00" stroke="#555" stroke-width="1" />
<text x="261.70" y="327.00" font-size="8.5" text-anchor="end" fill="#333" >0</text>
<line x1="263.00" y1="297.50" x2="268.00" y2="297.50" stroke="#555" stroke-width="1" />
<text x="261.70" y="300.50" font-size="8.5" text-anchor="end" fill="#333" >50</text>
<line x1="263.00" y1="271.00" x2="268.00" y2="271.00" stroke="#555" stroke-width="1" />
<text x="261.70" y="274.00" font-size="8.5" text-anchor="end" fill="#333" >100</text>
<line x1="263.00" y1="244.50" x2="268.00" y2="244.50" stroke="#555" stroke-width="1" />
<text x="261.70" y="247.50" font-size="8.5" text-anchor="end" fill="#333" >150</text>
<line x1="263.00" y1="218.00" x2="268.00" y2="218.00" stroke="#555" stroke-width="1" />
<text x="261.70" y="221.00" font-size="8.5" text-anchor="end" fill="#333" >200</text>
<line x1="281.90" y1="324.00" x2="281.90" y2="328.50" stroke="#555" stroke-width="1" />
<line x1="303.20" y1="324.00" x2="303.20" y2="328.50" stroke="#555" stroke-width="1" />
<line x1="324.50" y1="324.00" x2="324.50" y2="328.50" stroke="#555" stroke-width="1" />
<text x="284.40" y="334.00" font-size="9.5" text-anchor="end" fill="#222" transform="rotate(-45 284.40 334.00)">Control</text>
<text x="305.70" y="334.00" font-size="9.5" text-anchor="end" fill="#222" transform="rotate(-45 305.70 334.00)">ARS</text>
<text x="327.00" y="334.00" font-size="9.5" text-anchor="end" fill="#222" transform="rotate(-45 327.00 334.00)">CRS</text>
<text x="246.50" y="274.30" font-size="9.5" text-anchor="middle" fill="#222" transform="rotate(-90 246.50 274.30)">Supported Rears [% of control]</text>
<rect x="389.10" y="289.37" width="13.20" height="34.63" fill="#ababab" stroke="#8c8c8c" stroke-width="1.4"/>
<rect x="410.40" y="283.71" width="13.20" height="40.29" fill="#dedede" stroke="#cdcdcd" stroke-width="1.4"/>
<rect x="431.70" y="282.30" width="13.20" height="41.70" fill="#a39fdd" stroke="#5f67c3" stroke-width="1.4"/>
<circle cx="394.32" cy="315.17" r="1.95" fill="#5f5f5f" />
<circle cx="400.08" cy="315.17" r="1.95" fill="#5f5f5f" />
<circle cx="398.90" cy="311.21" r="1.95" fill="#5f5f5f" />
<circle cx="393.08" cy="308.22" r="1.95" fill="#5f5f5f" />
<circle cx="395.31" cy="305.80" r="1.95" fill="#5f5f5f" />
<circle cx="391.55" cy="303.72" r="1.95" fill="#5f5f5f" />
<circle cx="399.15" cy="301.87" r="1.95" fill="#5f5f5f" />
<circle cx="397.49" cy="300.19" r="1.95" fill="#5f5f5f" />
<circle cx="399.96" cy="298.62" r="1.95" fill="#5f5f5f" />
<circle cx="398.92" cy="297.15" r="1.95" fill="#5f5f5f" />
<circle cx="397.54" cy="295.74" r="1.95" fill="#5f5f5f" />
<circle cx="398.27" cy="294.39" r="1.95" fill="#5f5f5f" />
<circle cx="396.40" cy="293.08" r="1.95" fill="#5f5f5f" />
<circle cx="391.33" cy="291.80" r="1.95" fill="#5f5f5f" />
<circle cx="396.67" cy="290.54" r="1.95" fill="#5f5f5f" />
<circle cx="390.25" cy="289.29" r="1.95" fill="#5f5f5f" />
<circle cx="391.78" cy="288.04" r="1.95" fill="#5f5f5f" />
<circle cx="398.72" cy="286.79" r="1.95" fill="#5f5f5f" />
<circle cx="390.69" cy="285.53" r="1.95" fill="#5f5f5f" />
<circle cx="391.21" cy="284.25" r="1.95" fill="#5f5f5f" />
<circle cx="391.29" cy="282.94" r="1.95" fill="#5f5f5f" />
<circle cx="399.89" cy="281.59" r="1.95" fill="#5f5f5f" />
<circle cx="392.17" cy="280.19" r="1.95" fill="#5f5f5f" />
<circle cx="390.46" cy="278.71" r="1.95" fill="#5f5f5f" />
<circle cx="399.46" cy="277.15" r="1.95" fill="#5f5f5f" />
<circle cx="391.53" cy="275.46" r="1.95" fill="#5f5f5f" />
<circle cx="399.48" cy="273.61" r="1.95" fill="#5f5f5f" />
<circle cx="397.61" cy="271.53" r="1.95" fill="#5f5f5f" />
<circle cx="399.40" cy="269.11" r="1.95" fill="#5f5f5f" />
<circle cx="400.68" cy="266.12" r="1.95" fill="#5f5f5f" />
<circle cx="396.57" cy="262.02" r="1.95" fill="#5f5f5f" />
<circle cx="398.99" cy="248.74" r="1.95" fill="#5f5f5f" />
<circle cx="411.90" cy="316.93" r="1.95" fill="#c3c3c3" />
<circle cx="419.94" cy="315.58" r="1.95" fill="#c3c3c3" />
<circle cx="417.12" cy="310.57" r="1.95" fill="#c3c3c3" />
<circle cx="419.37" cy="306.91" r="1.95" fill="#c3c3c3" />
<circle cx="412.67" cy="303.95" r="1.95" fill="#c3c3c3" />
<circle cx="419.74" cy="301.41" r="1.95" fill="#c3c3c3" />
<circle cx="421.78" cy="299.15" r="1.95" fill="#c3c3c3" />
<circle cx="412.17" cy="297.09" r="1.95" fill="#c3c3c3" />
<circle cx="415.07" cy="295.18" r="1.95" fill="#c3c3c3" />
<circle cx="417.70" cy="293.38" r="1.95" fill="#c3c3c3" />
<circle cx="420.61" cy="291.66" r="1.95" fill="#c3c3c3" />
<circle cx="414.16" cy="290.01" r="1.95" fill="#c3c3c3" />
<circle cx="413.48" cy="288.41" r="1.95" fill="#c3c3c3" />
<circle cx="414.25" cy="286.84" r="1.95" fill="#c3c3c3" />
<circle cx="418.28" cy="285.30" r="1.95" fill="#c3c3c3" />
<circle cx="419.79" cy="283.77" r="1.95" fill="#c3c3c3" />
<circle cx="415.83" cy="282.25" r="1.95" fill="#c3c3c3" />
<circle cx="415.54" cy="280.72" r="1.95" fill="#c3c3c3" />
<circle cx="415.86" cy="279.18" r="1.95" fill="#c3c3c3" />
<circle cx="415.35" cy="277.62" r="1.95" fill="#c3c3c3" />
<circle cx="416.10" cy="276.01" r="1.95" fill="#c3c3c3" />
<circle cx="412.42" cy="274.36" r="1.95" fill="#c3c3c3" />
<circle cx="417.00" cy="272.65" r="1.95" fill="#c3c3c3" />
<circle cx="422.20" cy="270.85" r="1.95" fill="#c3c3c3" />
<circle cx="416.04" cy="268.93" r="1.95" fill="#c3c3c3" />
<circle cx="419.72" cy="266.87" r="1.95" fill="#c3c3c3" />
<circle cx="413.27" cy="264.61" r="1.95" fill="#c3c3c3" />
<circle cx="419.10" cy="262.07" r="1.95" fill="#c3c3c3" />
<circle cx="419.82" cy="259.11" r="1.95" fill="#c3c3c3" />
<circle cx="418.91" cy="255.46" r="1.95" fill="#c3c3c3" />
<circle cx="417.19" cy="250.44" r="1.95" fill="#c3c3c3" />
<circle cx="416.82" cy="234.61" r="1.95" fill="#c3c3c3" />
<circle cx="439.87" cy="304.57" r="1.95" fill="#3a3ec0" />
<circle cx="442.67" cy="304.57" r="1.95" fill="#3a3ec0" />
<circle cx="434.44" cy="301.64" r="1.95" fill="#3a3ec0" />
<circle cx="433.85" cy="298.98" r="1.95" fill="#3a3ec0" />
<circle cx="441.03" cy="296.83" r="1.95" fill="#3a3ec0" />
<circle cx="442.88" cy="294.98" r="1.95" fill="#3a3ec0" />
<circle cx="438.49" cy="293.34" r="1.95" fill="#3a3ec0" />
<circle cx="437.67" cy="291.84" r="1.95" fill="#3a3ec0" />
<circle cx="440.71" cy="290.45" r="1.95" fill="#3a3ec0" />
<circle cx="434.85" cy="289.14" r="1.95" fill="#3a3ec0" />
<circle cx="435.74" cy="287.89" r="1.95" fill="#3a3ec0" />
<circle cx="434.99" cy="286.69" r="1.95" fill="#3a3ec0" />
<circle cx="439.24" cy="285.52" r="1.95" fill="#3a3ec0" />
<circle cx="436.26" cy="284.39" r="1.95" fill="#3a3ec0" />
<circle cx="435.36" cy="283.26" r="1.95" fill="#3a3ec0" />
<circle cx="440.40" cy="282.15" r="1.95" fill="#3a3ec0" />
<circle cx="443.29" cy="281.05" r="1.95" fill="#3a3ec0" />
<circle cx="436.05" cy="279.94" r="1.95" fill="#3a3ec0" />
<circle cx="440.56" cy="278.81" r="1.95" fill="#3a3ec0" />
<circle cx="437.35" cy="277.68" r="1.95" fill="#3a3ec0" />
<circle cx="442.19" cy="276.51" r="1.95" fill="#3a3ec0" />
<circle cx="439.23" cy="275.31" r="1.95" fill="#3a3ec0" />
<circle cx="435.74" cy="274.06" r="1.95" fill="#3a3ec0" />
<circle cx="435.19" cy="272.75" r="1.95" fill="#3a3ec0" />
<circle cx="433.05" cy="271.36" r="1.95" fill="#3a3ec0" />
<circle cx="438.07" cy="269.86" r="1.95" fill="#3a3ec0" />
<circle cx="437.01" cy="268.22" r="1.95" fill="#3a3ec0" />
<circle cx="434.69" cy="266.37" r="1.95" fill="#3a3ec0" />
<circle cx="436.77" cy="264.22" r="1.95" fill="#3a3ec0" />
<circle cx="436.34" cy="261.56" r="1.95" fill="#3a3ec0" />
<circle cx="441.32" cy="257.91" r="1.95" fill="#3a3ec0" />
<circle cx="434.38" cy="234.61" r="1.95" fill="#3a3ec0" />
<line x1="381.80" y1="217.50" x2="381.80" y2="324.50" stroke="#555" stroke-width="1.1" />
<line x1="381.80" y1="324.00" x2="453.30" y2="324.00" stroke="#555" stroke-width="1.1" />
<line x1="376.80" y1="324.00" x2="381.80" y2="324.00" stroke="#555" stroke-width="1" />
<text x="375.50" y="327.00" font-size="8.5" text-anchor="end" fill="#333" >0</text>
<line x1="376.80" y1="288.67" x2="381.80" y2="288.67" stroke="#555" stroke-width="1" />
<text x="375.50" y="291.67" font-size="8.5" text-anchor="end" fill="#333" >100</text>
<line x1="376.80" y1="253.33" x2="381.80" y2="253.33" stroke="#555" stroke-width="1" />
<text x="375.50" y="256.33" font-size="8.5" text-anchor="end" fill="#333" >200</text>
<line x1="376.80" y1="218.00" x2="381.80" y2="218.00" stroke="#555" stroke-width="1" />
<text x="375.50" y="221.00" font-size="8.5" text-anchor="end" fill="#333" >300</text>
<line x1="395.70" y1="324.00" x2="395.70" y2="328.50" stroke="#555" stroke-width="1" />
<line x1="417.00" y1="324.00" x2="417.00" y2="328.50" stroke="#555" stroke-width="1" />
<line x1="438.30" y1="324.00" x2="438.30" y2="328.50" stroke="#555" stroke-width="1" />
<text x="398.20" y="334.00" font-size="9.5" text-anchor="end" fill="#222" transform="rotate(-45 398.20 334.00)">Control</text>
<text x="419.50" y="334.00" font-size="9.5" text-anchor="end" fill="#222" transform="rotate(-45 419.50 334.00)">ARS</text>
<text x="440.80" y="334.00" font-size="9.5" text-anchor="end" fill="#222" transform="rotate(-45 440.80 334.00)">CRS</text>
<text x="358.80" y="271.60" font-size="9.5" text-anchor="middle" fill="#222" transform="rotate(-90 358.80 271.60)">Unsupported Rears [% of control]</text>
<path d="M64.20,187.80L64.20,194.00M61.52,189.35L66.88,192.45M66.88,189.35L61.52,192.45" stroke="#222" stroke-width="1.2" fill="none"/>
<circle cx="64.20" cy="190.90" r="1.1" fill="#222" />
<path d="M72.60,187.80L72.60,194.00M69.92,189.35L75.28,192.45M75.28,189.35L69.92,192.45" stroke="#222" stroke-width="1.2" fill="none"/>
<circle cx="72.60" cy="190.90" r="1.1" fill="#222" />
<path d="M81.00,187.80L81.00,194.00M78.32,189.35L83.68,192.45M83.68,189.35L78.32,192.45" stroke="#222" stroke-width="1.2" fill="none"/>
<circle cx="81.00" cy="190.90" r="1.1" fill="#222" />
<path d="M89.40,187.80L89.40,194.00M86.72,189.35L92.08,192.45M92.08,189.35L86.72,192.45" stroke="#222" stroke-width="1.2" fill="none"/>
<circle cx="89.40" cy="190.90" r="1.1" fill="#222" />
<line x1="54.10" y1="197.30" x2="97.60" y2="197.30" stroke="#222" stroke-width="1.2" />
<path d="M82.70,209.30L82.70,215.50M80.02,210.85L85.38,213.95M85.38,210.85L80.02,213.95" stroke="#222" stroke-width="1.2" fill="none"/>
<circle cx="82.70" cy="212.40" r="1.1" fill="#222" />
<path d="M91.10,209.30L91.10,215.50M88.42,210.85L93.78,213.95M93.78,210.85L88.42,213.95" stroke="#222" stroke-width="1.2" fill="none"/>
<circle cx="91.10" cy="212.40" r="1.1" fill="#222" />
<line x1="75.50" y1="218.30" x2="97.30" y2="218.30" stroke="#222" stroke-width="1.2" />
<path d="M181.80,209.90L181.80,216.10M179.12,211.45L184.48,214.55M184.48,211.45L179.12,214.55" stroke="#222" stroke-width="1.2" fill="none"/>
<circle cx="181.80" cy="213.00" r="1.1" fill="#222" />
<path d="M190.20,209.90L190.20,216.10M187.52,211.45L192.88,214.55M192.88,211.45L187.52,214.55" stroke="#222" stroke-width="1.2" fill="none"/>
<circle cx="190.20" cy="213.00" r="1.1" fill="#222" />
<line x1="164.70" y1="218.70" x2="208.50" y2="218.70" stroke="#222" stroke-width="1.2" />
<path d="M299.40,208.90L299.40,215.10M296.72,210.45L302.08,213.55M302.08,210.45L296.72,213.55" stroke="#222" stroke-width="1.2" fill="none"/>
<circle cx="299.40" cy="212.00" r="1.1" fill="#222" />
<path d="M307.80,208.90L307.80,215.10M305.12,210.45L310.48,213.55M310.48,210.45L305.12,213.55" stroke="#222" stroke-width="1.2" fill="none"/>
<circle cx="307.80" cy="212.00" r="1.1" fill="#222" />
<line x1="281.70" y1="217.50" x2="325.50" y2="217.50" stroke="#222" stroke-width="1.2" />
<text x="496.50" y="183.00" font-size="18.6" text-anchor="start" fill="#222" >D</text>
<rect x="532.10" y="172.00" width="12.00" height="11.30" fill="#ababab" />
<text x="546.40" y="181.30" font-size="9.3" text-anchor="start" fill="#222" >Control</text>
<rect x="586.20" y="172.00" width="12.00" height="11.30" fill="#dedede" />
<text x="600.40" y="181.30" font-size="9.3" text-anchor="start" fill="#222" >ARS</text>
<rect x="628.90" y="172.00" width="12.00" height="11.30" fill="#a39fdd" />
<text x="643.70" y="181.30" font-size="9.3" text-anchor="start" fill="#222" >CRS</text>
<rect x="548.70" y="281.49" width="12.10" height="42.51" fill="#ababab" stroke="#8c8c8c" stroke-width="1.4"/>
<circle cx="554.32" cy="296.47" r="1.95" fill="#5f5f5f" />
<circle cx="555.29" cy="289.17" r="1.95" fill="#5f5f5f" />
<circle cx="558.57" cy="287.21" r="1.95" fill="#5f5f5f" />
<circle cx="554.44" cy="285.73" r="1.95" fill="#5f5f5f" />
<circle cx="554.82" cy="284.47" r="1.95" fill="#5f5f5f" />
<circle cx="555.54" cy="283.35" r="1.95" fill="#5f5f5f" />
<circle cx="551.91" cy="282.30" r="1.95" fill="#5f5f5f" />
<circle cx="554.86" cy="281.29" r="1.95" fill="#5f5f5f" />
<circle cx="555.92" cy="280.29" r="1.95" fill="#5f5f5f" />
<circle cx="557.39" cy="279.29" r="1.95" fill="#5f5f5f" />
<circle cx="551.10" cy="278.24" r="1.95" fill="#5f5f5f" />
<circle cx="552.98" cy="277.11" r="1.95" fill="#5f5f5f" />
<circle cx="551.07" cy="275.86" r="1.95" fill="#5f5f5f" />
<circle cx="557.54" cy="274.38" r="1.95" fill="#5f5f5f" />
<circle cx="556.49" cy="272.42" r="1.95" fill="#5f5f5f" />
<circle cx="550.63" cy="269.78" r="1.95" fill="#5f5f5f" />
<rect x="568.80" y="277.26" width="12.10" height="46.74" fill="#dedede" stroke="#cdcdcd" stroke-width="1.4"/>
<circle cx="579.19" cy="290.96" r="1.95" fill="#c3c3c3" />
<circle cx="579.03" cy="287.72" r="1.95" fill="#c3c3c3" />
<circle cx="576.24" cy="285.11" r="1.95" fill="#c3c3c3" />
<circle cx="575.89" cy="283.13" r="1.95" fill="#c3c3c3" />
<circle cx="571.77" cy="281.46" r="1.95" fill="#c3c3c3" />
<circle cx="570.49" cy="279.96" r="1.95" fill="#c3c3c3" />
<circle cx="575.11" cy="278.57" r="1.95" fill="#c3c3c3" />
<circle cx="570.89" cy="277.22" r="1.95" fill="#c3c3c3" />
<circle cx="572.06" cy="275.89" r="1.95" fill="#c3c3c3" />
<circle cx="572.53" cy="274.55" r="1.95" fill="#c3c3c3" />
<circle cx="570.62" cy="273.15" r="1.95" fill="#c3c3c3" />
<circle cx="574.53" cy="271.65" r="1.95" fill="#c3c3c3" />
<circle cx="574.31" cy="269.98" r="1.95" fill="#c3c3c3" />
<circle cx="577.93" cy="268.00" r="1.95" fill="#c3c3c3" />
<circle cx="575.02" cy="265.39" r="1.95" fill="#c3c3c3" />
<circle cx="576.11" cy="238.01" r="1.95" fill="#c3c3c3" />
<rect x="588.90" y="266.67" width="12.10" height="57.33" fill="#a39fdd" stroke="#5f67c3" stroke-width="1.4"/>
<circle cx="594.95" cy="287.15" r="1.95" fill="#3a3ec0" />
<circle cx="596.41" cy="276.02" r="1.95" fill="#3a3ec0" />
<circle cx="594.57" cy="273.67" r="1.95" fill="#3a3ec0" />
<circle cx="592.95" cy="271.89" r="1.95" fill="#3a3ec0" />
<circle cx="599.43" cy="270.38" r="1.95" fill="#3a3ec0" />
<circle cx="599.41" cy="269.03" r="1.95" fill="#3a3ec0" />
<circle cx="598.01" cy="267.78" r="1.95" fill="#3a3ec0" />
<circle cx="596.82" cy="266.56" r="1.95" fill="#3a3ec0" />
<circle cx="593.29" cy="265.37" r="1.95" fill="#3a3ec0" />
<circle cx="592.52" cy="264.16" r="1.95" fill="#3a3ec0" />
<circle cx="593.05" cy="262.90" r="1.95" fill="#3a3ec0" />
<circle cx="591.08" cy="261.55" r="1.95" fill="#3a3ec0" />
<circle cx="597.35" cy="260.05" r="1.95" fill="#3a3ec0" />
<circle cx="594.05" cy="258.27" r="1.95" fill="#3a3ec0" />
<circle cx="598.07" cy="255.92" r="1.95" fill="#3a3ec0" />
<circle cx="593.93" cy="249.45" r="1.95" fill="#3a3ec0" />
<rect x="621.70" y="284.46" width="12.10" height="39.54" fill="#ababab" stroke="#8c8c8c" stroke-width="1.4"/>
<circle cx="631.87" cy="299.43" r="1.95" fill="#5f5f5f" />
<circle cx="630.88" cy="294.92" r="1.95" fill="#5f5f5f" />
<circle cx="623.25" cy="292.31" r="1.95" fill="#5f5f5f" />
<circle cx="625.14" cy="290.34" r="1.95" fill="#5f5f5f" />
<circle cx="631.44" cy="288.66" r="1.95" fill="#5f5f5f" />
<circle cx="627.48" cy="287.17" r="1.95" fill="#5f5f5f" />
<circle cx="632.07" cy="285.77" r="1.95" fill="#5f5f5f" />
<circle cx="626.83" cy="284.42" r="1.95" fill="#5f5f5f" />
<circle cx="623.91" cy="283.09" r="1.95" fill="#5f5f5f" />
<circle cx="628.92" cy="281.75" r="1.95" fill="#5f5f5f" />
<circle cx="630.26" cy="280.35" r="1.95" fill="#5f5f5f" />
<circle cx="625.68" cy="278.85" r="1.95" fill="#5f5f5f" />
<circle cx="624.03" cy="277.18" r="1.95" fill="#5f5f5f" />
<circle cx="626.24" cy="275.20" r="1.95" fill="#5f5f5f" />
<circle cx="631.93" cy="272.59" r="1.95" fill="#5f5f5f" />
<circle cx="630.07" cy="266.81" r="1.95" fill="#5f5f5f" />
<rect x="641.80" y="277.68" width="12.10" height="46.32" fill="#dedede" stroke="#cdcdcd" stroke-width="1.4"/>
<circle cx="644.41" cy="298.58" r="1.95" fill="#c3c3c3" />
<circle cx="645.57" cy="290.94" r="1.95" fill="#c3c3c3" />
<circle cx="644.26" cy="287.68" r="1.95" fill="#c3c3c3" />
<circle cx="643.89" cy="285.20" r="1.95" fill="#c3c3c3" />
<circle cx="650.52" cy="283.11" r="1.95" fill="#c3c3c3" />
<circle cx="644.95" cy="281.24" r="1.95" fill="#c3c3c3" />
<circle cx="648.38" cy="279.49" r="1.95" fill="#c3c3c3" />
<circle cx="647.38" cy="277.81" r="1.95" fill="#c3c3c3" />
<circle cx="645.07" cy="276.15" r="1.95" fill="#c3c3c3" />
<circle cx="649.94" cy="274.47" r="1.95" fill="#c3c3c3" />
<circle cx="644.53" cy="272.72" r="1.95" fill="#c3c3c3" />
<circle cx="649.14" cy="270.85" r="1.95" fill="#c3c3c3" />
<circle cx="644.40" cy="268.76" r="1.95" fill="#c3c3c3" />
<circle cx="647.14" cy="266.28" r="1.95" fill="#c3c3c3" />
<circle cx="645.27" cy="263.02" r="1.95" fill="#c3c3c3" />
<circle cx="645.78" cy="254.11" r="1.95" fill="#c3c3c3" />
<rect x="661.90" y="270.48" width="12.10" height="53.52" fill="#a39fdd" stroke="#5f67c3" stroke-width="1.4"/>
<circle cx="672.19" cy="284.61" r="1.95" fill="#3a3ec0" />
<circle cx="670.68" cy="278.15" r="1.95" fill="#3a3ec0" />
<circle cx="666.19" cy="276.20" r="1.95" fill="#3a3ec0" />
<circle cx="671.41" cy="274.71" r="1.95" fill="#3a3ec0" />
<circle cx="665.35" cy="273.46" r="1.95" fill="#3a3ec0" />
<circle cx="667.00" cy="272.34" r="1.95" fill="#3a3ec0" />
<circle cx="671.14" cy="271.29" r="1.95" fill="#3a3ec0" />
<circle cx="669.23" cy="270.28" r="1.95" fill="#3a3ec0" />
<circle cx="664.35" cy="269.28" r="1.95" fill="#3a3ec0" />
<circle cx="672.35" cy="268.27" r="1.95" fill="#3a3ec0" />
<circle cx="665.37" cy="267.22" r="1.95" fill="#3a3ec0" />
<circle cx="665.77" cy="266.10" r="1.95" fill="#3a3ec0" />
<circle cx="670.40" cy="264.85" r="1.95" fill="#3a3ec0" />
<circle cx="666.41" cy="263.36" r="1.95" fill="#3a3ec0" />
<circle cx="666.12" cy="261.40" r="1.95" fill="#3a3ec0" />
<circle cx="664.11" cy="258.34" r="1.95" fill="#3a3ec0" />
<line x1="540.50" y1="217.60" x2="540.50" y2="324.50" stroke="#555" stroke-width="1.1" />
<line x1="540.50" y1="324.00" x2="680.40" y2="324.00" stroke="#555" stroke-width="1.1" />
<line x1="535.50" y1="324.00" x2="540.50" y2="324.00" stroke="#555" stroke-width="1" />
<text x="534.90" y="327.00" font-size="8.5" text-anchor="end" fill="#333" >0</text>
<line x1="535.50" y1="302.82" x2="540.50" y2="302.82" stroke="#555" stroke-width="1" />
<text x="534.90" y="305.82" font-size="8.5" text-anchor="end" fill="#333" >50</text>
<line x1="535.50" y1="281.64" x2="540.50" y2="281.64" stroke="#555" stroke-width="1" />
<text x="534.90" y="284.64" font-size="8.5" text-anchor="end" fill="#333" >100</text>
<line x1="535.50" y1="260.46" x2="540.50" y2="260.46" stroke="#555" stroke-width="1" />
<text x="534.90" y="263.46" font-size="8.5" text-anchor="end" fill="#333" >150</text>
<line x1="535.50" y1="239.28" x2="540.50" y2="239.28" stroke="#555" stroke-width="1" />
<text x="534.90" y="242.28" font-size="8.5" text-anchor="end" fill="#333" >200</text>
<line x1="535.50" y1="218.10" x2="540.50" y2="218.10" stroke="#555" stroke-width="1" />
<text x="534.90" y="221.10" font-size="8.5" text-anchor="end" fill="#333" >250</text>
<line x1="574.70" y1="324.00" x2="574.70" y2="328.50" stroke="#555" stroke-width="1" />
<line x1="647.70" y1="324.00" x2="647.70" y2="328.50" stroke="#555" stroke-width="1" />
<text x="580.50" y="334.50" font-size="9.5" text-anchor="end" fill="#222" transform="rotate(-45 580.50 334.50)">Females</text>
<text x="652.00" y="334.50" font-size="9.5" text-anchor="end" fill="#222" transform="rotate(-45 652.00 334.50)">Males</text>
<text x="510.3" y="273.4" font-size="9.5" text-anchor="middle" fill="#222" transform="rotate(-90 510.3 273.4)">Distance [% of control]</text>
<path d="M565.90,188.80L565.90,195.00M563.22,190.35L568.58,193.45M568.58,190.35L563.22,193.45" stroke="#222" stroke-width="1.2" fill="none"/>
<circle cx="565.90" cy="191.90" r="1.1" fill="#222" />
<path d="M574.30,188.80L574.30,195.00M571.62,190.35L576.98,193.45M576.98,190.35L571.62,193.45" stroke="#222" stroke-width="1.2" fill="none"/>
<circle cx="574.30" cy="191.90" r="1.1" fill="#222" />
<path d="M582.70,188.80L582.70,195.00M580.02,190.35L585.38,193.45M585.38,190.35L580.02,193.45" stroke="#222" stroke-width="1.2" fill="none"/>
<circle cx="582.70" cy="191.90" r="1.1" fill="#222" />
<line x1="554.00" y1="197.00" x2="594.50" y2="197.00" stroke="#222" stroke-width="1.2" />
<path d="M584.00,209.50L584.00,215.70M581.32,211.05L586.68,214.15M586.68,211.05L581.32,214.15" stroke="#222" stroke-width="1.2" fill="none"/>
<circle cx="584.00" cy="212.60" r="1.1" fill="#222" />
<line x1="574.00" y1="218.40" x2="594.50" y2="218.40" stroke="#222" stroke-width="1.2" />
<path d="M643.60,209.50L643.60,215.70M640.92,211.05L646.28,214.15M646.28,211.05L640.92,214.15" stroke="#222" stroke-width="1.2" fill="none"/>
<circle cx="643.60" cy="212.60" r="1.1" fill="#222" />
<path d="M652.00,209.50L652.00,215.70M649.32,211.05L654.68,214.15M654.68,211.05L649.32,214.15" stroke="#222" stroke-width="1.2" fill="none"/>
<circle cx="652.00" cy="212.60" r="1.1" fill="#222" />
<line x1="627.50" y1="218.40" x2="668.00" y2="218.40" stroke="#222" stroke-width="1.2" />
<text x="0.80" y="392.90" font-size="18.6" text-anchor="start" fill="#222" >E</text>
<rect x="80.70" y="382.10" width="37.00" height="12.40" fill="url(#stripes)" />
<text x="58.90" y="392.70" font-size="9.5" text-anchor="start" fill="#222" >Day 1-9</text>
<rect x="128.90" y="382.10" width="134.10" height="12.40" fill="#d3d3d3" />
<text x="201.30" y="392.40" font-size="9.5" text-anchor="middle" fill="#222" >Day 10</text>
<use href="#tube" x="148" y="398.6"/>
<line x1="46.00" y1="415.20" x2="260.90" y2="415.20" stroke="#3c3c3c" stroke-width="1.2" />
<line x1="133.50" y1="410.20" x2="133.50" y2="420.40" stroke="#3c3c3c" stroke-width="1.2" />
<line x1="221.10" y1="410.20" x2="221.10" y2="420.40" stroke="#3c3c3c" stroke-width="1.2" />
<text x="0.20" y="418.80" font-size="9.5" text-anchor="start" fill="#222" >ARS</text>
<text x="1.60" y="432.60" font-size="8.6" text-anchor="start" fill="#222" >N=19</text>
<path d="M130.90,427.80 L133.50,423.40 L136.10,427.80 Z" fill="#111"/>
<line x1="133.50" y1="426.40" x2="133.50" y2="433.20" stroke="#111" stroke-width="1" />
<text x="133.50" y="441.30" font-size="8.8" text-anchor="middle" fill="#222" >0</text>
<path d="M145.20,427.80 L147.80,423.40 L150.40,427.80 Z" fill="#111"/>
<line x1="147.80" y1="426.40" x2="147.80" y2="433.20" stroke="#111" stroke-width="1" />
<text x="147.80" y="441.30" font-size="8.8" text-anchor="middle" fill="#222" >15</text>
<path d="M173.70,427.80 L176.30,423.40 L178.90,427.80 Z" fill="#111"/>
<line x1="176.30" y1="426.40" x2="176.30" y2="433.20" stroke="#111" stroke-width="1" />
<text x="176.30" y="441.30" font-size="8.8" text-anchor="middle" fill="#222" >45</text>
<path d="M218.70,427.80 L221.30,423.40 L223.90,427.80 Z" fill="#111"/>
<line x1="221.30" y1="426.40" x2="221.30" y2="433.20" stroke="#111" stroke-width="1" />
<text x="221.30" y="441.30" font-size="8.8" text-anchor="middle" fill="#222" >90</text>
<path d="M247.00,427.80 L249.60,423.40 L252.20,427.80 Z" fill="#111"/>
<line x1="249.60" y1="426.40" x2="249.60" y2="433.20" stroke="#111" stroke-width="1" />
<text x="249.60" y="441.30" font-size="8.8" text-anchor="middle" fill="#222" >180</text>
<text x="59.70" y="412.10" font-size="9.5" text-anchor="start" fill="#222" >Handling</text>
<rect x="80.70" y="456.10" width="37.00" height="12.40" fill="url(#stripes)" />
<text x="58.90" y="466.70" font-size="9.5" text-anchor="start" fill="#222" >Day 1-9</text>
<rect x="128.90" y="456.10" width="134.10" height="12.40" fill="#7866fe" />
<text x="201.30" y="466.40" font-size="9.5" text-anchor="middle" fill="#f0eeff" >Day 10</text>
<use href="#tube" x="148" y="472.6"/>
<line x1="46.00" y1="489.20" x2="260.90" y2="489.20" stroke="#3c3c3c" stroke-width="1.2" />
<line x1="133.50" y1="484.20" x2="133.50" y2="494.40" stroke="#3c3c3c" stroke-width="1.2" />
<line x1="221.10" y1="484.20" x2="221.10" y2="494.40" stroke="#3c3c3c" stroke-width="1.2" />
<text x="1.00" y="492.80" font-size="9.5" text-anchor="start" fill="#222" >10d CRS</text>
<text x="1.60" y="507.40" font-size="8.6" text-anchor="start" fill="#222" >N=20</text>
<path d="M130.90,501.80 L133.50,497.40 L136.10,501.80 Z" fill="#111"/>
<line x1="133.50" y1="500.40" x2="133.50" y2="507.20" stroke="#111" stroke-width="1" />
<text x="133.50" y="515.30" font-size="8.8" text-anchor="middle" fill="#222" >0</text>
<path d="M145.20,501.80 L147.80,497.40 L150.40,501.80 Z" fill="#111"/>
<line x1="147.80" y1="500.40" x2="147.80" y2="507.20" stroke="#111" stroke-width="1" />
<text x="147.80" y="515.30" font-size="8.8" text-anchor="middle" fill="#222" >15</text>
<path d="M173.70,501.80 L176.30,497.40 L178.90,501.80 Z" fill="#111"/>
<line x1="176.30" y1="500.40" x2="176.30" y2="507.20" stroke="#111" stroke-width="1" />
<text x="176.30" y="515.30" font-size="8.8" text-anchor="middle" fill="#222" >45</text>
<path d="M218.70,501.80 L221.30,497.40 L223.90,501.80 Z" fill="#111"/>
<line x1="221.30" y1="500.40" x2="221.30" y2="507.20" stroke="#111" stroke-width="1" />
<text x="221.30" y="515.30" font-size="8.8" text-anchor="middle" fill="#222" >90</text>
<path d="M247.00,501.80 L249.60,497.40 L252.20,501.80 Z" fill="#111"/>
<line x1="249.60" y1="500.40" x2="249.60" y2="507.20" stroke="#111" stroke-width="1" />
<text x="249.60" y="515.30" font-size="8.8" text-anchor="middle" fill="#222" >180</text>
<use href="#tube" x="51.1" y="472.6"/>
<line x1="46.00" y1="484.60" x2="46.00" y2="494.80" stroke="#3c3c3c" stroke-width="1.2" />
<line x1="114.40" y1="484.60" x2="114.40" y2="494.80" stroke="#3c3c3c" stroke-width="1.2" />
<text x="75.40" y="500.30" font-size="9.5" text-anchor="middle" fill="#222" >1h30</text>
<text x="188.60" y="527.20" font-size="9.5" text-anchor="middle" fill="#222" >blood collection</text>
<text x="298.80" y="392.60" font-size="18.6" text-anchor="start" fill="#222" >F</text>
<line x1="334.70" y1="496.40" x2="334.70" y2="383.30" stroke="#555" stroke-width="1.1" />
<line x1="334.70" y1="495.90" x2="488.50" y2="495.90" stroke="#555" stroke-width="1.1" />
<line x1="330.70" y1="495.90" x2="334.70" y2="495.90" stroke="#555" stroke-width="1" />
<text x="330.40" y="499.00" font-size="8.8" text-anchor="end" fill="#333" >0</text>
<line x1="330.70" y1="467.90" x2="334.70" y2="467.90" stroke="#555" stroke-width="1" />
<text x="330.40" y="471.00" font-size="8.8" text-anchor="end" fill="#333" >200</text>
<line x1="330.70" y1="439.90" x2="334.70" y2="439.90" stroke="#555" stroke-width="1" />
<text x="330.40" y="443.00" font-size="8.8" text-anchor="end" fill="#333" >400</text>
<line x1="330.70" y1="411.90" x2="334.70" y2="411.90" stroke="#555" stroke-width="1" />
<text x="330.40" y="415.00" font-size="8.8" text-anchor="end" fill="#333" >600</text>
<line x1="330.70" y1="383.90" x2="334.70" y2="383.90" stroke="#555" stroke-width="1" />
<text x="330.40" y="387.00" font-size="8.8" text-anchor="end" fill="#333" >800</text>
<line x1="348.40" y1="495.90" x2="348.40" y2="499.90" stroke="#555" stroke-width="1" />
<text x="348.40" y="509.00" font-size="8.8" text-anchor="middle" fill="#222" >0</text>
<line x1="379.60" y1="495.90" x2="379.60" y2="499.90" stroke="#555" stroke-width="1" />
<text x="379.60" y="509.00" font-size="8.8" text-anchor="middle" fill="#222" >15</text>
<line x1="412.00" y1="495.90" x2="412.00" y2="499.90" stroke="#555" stroke-width="1" />
<text x="412.00" y="509.00" font-size="8.8" text-anchor="middle" fill="#222" >45</text>
<line x1="443.90" y1="495.90" x2="443.90" y2="499.90" stroke="#555" stroke-width="1" />
<text x="443.90" y="509.00" font-size="8.8" text-anchor="middle" fill="#222" >90</text>
<line x1="474.50" y1="495.90" x2="474.50" y2="499.90" stroke="#555" stroke-width="1" />
<text x="474.50" y="509.00" font-size="8.8" text-anchor="middle" fill="#222" >180</text>
<circle cx="347.50" cy="387.50" r="1.9" fill="#b9b9b9" />
<text x="354.20" y="391.00" font-size="9.6" text-anchor="start" fill="#222" >ARS Male</text>
<circle cx="424.90" cy="387.50" r="1.9" fill="#7462ee" />
<text x="431.60" y="391.00" font-size="9.6" text-anchor="start" fill="#222" >CRS Male</text>
<circle cx="344.92" cy="493.10" r="2.25" fill="#b9b9b9" />
<circle cx="342.55" cy="491.70" r="2.25" fill="#b9b9b9" />
<circle cx="344.74" cy="491.00" r="2.25" fill="#b9b9b9" />
<circle cx="341.69" cy="490.30" r="2.25" fill="#b9b9b9" />
<circle cx="341.30" cy="489.60" r="2.25" fill="#b9b9b9" />
<circle cx="341.22" cy="488.90" r="2.25" fill="#b9b9b9" />
<circle cx="344.00" cy="487.50" r="2.25" fill="#b9b9b9" />
<circle cx="340.34" cy="480.50" r="2.25" fill="#b9b9b9" />
<line x1="337.70" y1="489.07" x2="346.70" y2="489.07" stroke="#b9b9b9" stroke-width="1.1" />
<line x1="342.20" y1="487.80" x2="342.20" y2="490.35" stroke="#b9b9b9" stroke-width="1" />
<circle cx="352.33" cy="493.10" r="2.25" fill="#7462ee" />
<circle cx="356.34" cy="491.70" r="2.25" fill="#7462ee" />
<circle cx="354.82" cy="490.30" r="2.25" fill="#7462ee" />
<circle cx="356.98" cy="488.20" r="2.25" fill="#7462ee" />
<circle cx="356.25" cy="486.10" r="2.25" fill="#7462ee" />
<circle cx="355.46" cy="484.70" r="2.25" fill="#7462ee" />
<circle cx="356.12" cy="481.20" r="2.25" fill="#7462ee" />
<line x1="350.10" y1="487.90" x2="359.10" y2="487.90" stroke="#7462ee" stroke-width="1.1" />
<line x1="354.60" y1="486.43" x2="354.60" y2="489.37" stroke="#7462ee" stroke-width="1" />
<circle cx="372.61" cy="477.70" r="2.25" fill="#b9b9b9" />
<circle cx="370.86" cy="476.30" r="2.25" fill="#b9b9b9" />
<circle cx="375.90" cy="474.90" r="2.25" fill="#b9b9b9" />
<circle cx="376.00" cy="473.50" r="2.25" fill="#b9b9b9" />
<circle cx="376.11" cy="470.70" r="2.25" fill="#b9b9b9" />
<circle cx="374.55" cy="469.30" r="2.25" fill="#b9b9b9" />
<circle cx="374.08" cy="459.50" r="2.25" fill="#b9b9b9" />
<line x1="368.90" y1="471.70" x2="377.90" y2="471.70" stroke="#b9b9b9" stroke-width="1.1" />
<line x1="373.40" y1="469.55" x2="373.40" y2="473.85" stroke="#b9b9b9" stroke-width="1" />
<circle cx="387.53" cy="484.70" r="2.25" fill="#7462ee" />
<circle cx="382.64" cy="479.10" r="2.25" fill="#7462ee" />
<circle cx="389.00" cy="476.30" r="2.25" fill="#7462ee" />
<circle cx="383.25" cy="474.90" r="2.25" fill="#7462ee" />
<circle cx="384.95" cy="473.50" r="2.25" fill="#7462ee" />
<circle cx="388.72" cy="470.70" r="2.25" fill="#7462ee" />
<circle cx="383.56" cy="467.90" r="2.25" fill="#7462ee" />
<line x1="381.30" y1="475.30" x2="390.30" y2="475.30" stroke="#7462ee" stroke-width="1.1" />
<line x1="385.80" y1="473.37" x2="385.80" y2="477.23" stroke="#7462ee" stroke-width="1" />
<circle cx="403.97" cy="470.00" r="2.25" fill="#b9b9b9" />
<circle cx="403.15" cy="467.90" r="2.25" fill="#b9b9b9" />
<circle cx="403.22" cy="462.30" r="2.25" fill="#b9b9b9" />
<circle cx="407.50" cy="459.50" r="2.25" fill="#b9b9b9" />
<circle cx="406.67" cy="456.70" r="2.25" fill="#b9b9b9" />
<circle cx="402.61" cy="453.90" r="2.25" fill="#b9b9b9" />
<circle cx="404.56" cy="451.10" r="2.25" fill="#b9b9b9" />
<circle cx="404.07" cy="446.20" r="2.25" fill="#b9b9b9" />
<line x1="401.30" y1="458.45" x2="410.30" y2="458.45" stroke="#b9b9b9" stroke-width="1.1" />
<line x1="405.80" y1="455.75" x2="405.80" y2="461.15" stroke="#b9b9b9" stroke-width="1" />
<circle cx="416.02" cy="477.70" r="2.25" fill="#7462ee" />
<circle cx="418.94" cy="474.90" r="2.25" fill="#7462ee" />
<circle cx="417.16" cy="470.70" r="2.25" fill="#7462ee" />
<circle cx="415.33" cy="467.90" r="2.25" fill="#7462ee" />
<circle cx="418.57" cy="466.50" r="2.25" fill="#7462ee" />
<circle cx="418.42" cy="463.70" r="2.25" fill="#7462ee" />
<circle cx="415.67" cy="458.10" r="2.25" fill="#7462ee" />
<circle cx="421.12" cy="454.60" r="2.25" fill="#7462ee" />
<line x1="413.70" y1="466.76" x2="422.70" y2="466.76" stroke="#7462ee" stroke-width="1.1" />
<line x1="418.20" y1="464.16" x2="418.20" y2="469.37" stroke="#7462ee" stroke-width="1" />
<circle cx="439.52" cy="460.20" r="2.25" fill="#b9b9b9" />
<circle cx="435.09" cy="458.10" r="2.25" fill="#b9b9b9" />
<circle cx="440.41" cy="456.70" r="2.25" fill="#b9b9b9" />
<circle cx="440.18" cy="455.30" r="2.25" fill="#b9b9b9" />
<circle cx="435.65" cy="453.90" r="2.25" fill="#b9b9b9" />
<circle cx="435.97" cy="451.10" r="2.25" fill="#b9b9b9" />
<circle cx="437.88" cy="442.70" r="2.25" fill="#b9b9b9" />
<line x1="433.20" y1="454.00" x2="442.20" y2="454.00" stroke="#b9b9b9" stroke-width="1.1" />
<line x1="437.70" y1="451.98" x2="437.70" y2="456.02" stroke="#b9b9b9" stroke-width="1" />
<circle cx="451.23" cy="474.90" r="2.25" fill="#7462ee" />
<circle cx="452.81" cy="472.10" r="2.25" fill="#7462ee" />
<circle cx="451.78" cy="460.90" r="2.25" fill="#7462ee" />
<circle cx="448.74" cy="458.10" r="2.25" fill="#7462ee" />
<circle cx="448.14" cy="456.70" r="2.25" fill="#7462ee" />
<circle cx="449.38" cy="453.90" r="2.25" fill="#7462ee" />
<circle cx="449.38" cy="449.70" r="2.25" fill="#7462ee" />
<line x1="445.60" y1="460.90" x2="454.60" y2="460.90" stroke="#7462ee" stroke-width="1.1" />
<line x1="450.10" y1="457.64" x2="450.10" y2="464.16" stroke="#7462ee" stroke-width="1" />
<circle cx="467.22" cy="488.90" r="2.25" fill="#b9b9b9" />
<circle cx="469.70" cy="487.50" r="2.25" fill="#b9b9b9" />
<circle cx="470.10" cy="486.10" r="2.25" fill="#b9b9b9" />
<circle cx="465.94" cy="484.70" r="2.25" fill="#b9b9b9" />
<circle cx="470.69" cy="483.30" r="2.25" fill="#b9b9b9" />
<circle cx="469.85" cy="481.90" r="2.25" fill="#b9b9b9" />
<circle cx="468.36" cy="480.50" r="2.25" fill="#b9b9b9" />
<circle cx="466.63" cy="479.80" r="2.25" fill="#b9b9b9" />
<line x1="463.80" y1="484.09" x2="472.80" y2="484.09" stroke="#b9b9b9" stroke-width="1.1" />
<line x1="468.30" y1="483.00" x2="468.30" y2="485.18" stroke="#b9b9b9" stroke-width="1" />
<circle cx="479.00" cy="490.30" r="2.25" fill="#7462ee" />
<circle cx="479.10" cy="488.90" r="2.25" fill="#7462ee" />
<circle cx="480.30" cy="487.50" r="2.25" fill="#7462ee" />
<circle cx="482.47" cy="486.80" r="2.25" fill="#7462ee" />
<circle cx="479.20" cy="486.10" r="2.25" fill="#7462ee" />
<circle cx="480.83" cy="485.40" r="2.25" fill="#7462ee" />
<circle cx="483.74" cy="484.70" r="2.25" fill="#7462ee" />
<circle cx="481.44" cy="484.00" r="2.25" fill="#7462ee" />
<line x1="476.20" y1="486.71" x2="485.20" y2="486.71" stroke="#7462ee" stroke-width="1.1" />
<line x1="480.70" y1="486.01" x2="480.70" y2="487.42" stroke="#7462ee" stroke-width="1" />
<text x="311.50" y="442.75" font-size="9.6" text-anchor="middle" fill="#222" transform="rotate(-90 311.50 442.75)">CORT [ng/ml]</text>
<rect x="346.40" y="514.00" width="97.50" height="10.20" fill="#dcdcdc" />
<text x="396.50" y="522.30" font-size="9.6" text-anchor="middle" fill="#222" >Restraint</text>
<text x="390.10" y="533.90" font-size="9.6" text-anchor="start" fill="#222" >Time [min]</text>
<path d="M408.40,420.50L408.40,426.70M405.72,422.05L411.08,425.15M411.08,422.05L405.72,425.15" stroke="#222" stroke-width="1.2" fill="none"/>
<circle cx="408.40" cy="423.60" r="1.1" fill="#222" />
<path d="M416.80,420.50L416.80,426.70M414.12,422.05L419.48,425.15M419.48,422.05L414.12,425.15" stroke="#222" stroke-width="1.2" fill="none"/>
<circle cx="416.80" cy="423.60" r="1.1" fill="#222" />
<line x1="405.00" y1="429.90" x2="420.00" y2="429.90" stroke="#222" stroke-width="1.2" />
<line x1="527.00" y1="496.30" x2="527.00" y2="383.30" stroke="#555" stroke-width="1.1" />
<line x1="527.00" y1="495.80" x2="681.30" y2="495.80" stroke="#555" stroke-width="1.1" />
<line x1="523.00" y1="495.80" x2="527.00" y2="495.80" stroke="#555" stroke-width="1" />
<text x="522.70" y="498.90" font-size="8.8" text-anchor="end" fill="#333" >0</text>
<line x1="523.00" y1="467.80" x2="527.00" y2="467.80" stroke="#555" stroke-width="1" />
<text x="522.70" y="470.90" font-size="8.8" text-anchor="end" fill="#333" >200</text>
<line x1="523.00" y1="439.80" x2="527.00" y2="439.80" stroke="#555" stroke-width="1" />
<text x="522.70" y="442.90" font-size="8.8" text-anchor="end" fill="#333" >400</text>
<line x1="523.00" y1="411.80" x2="527.00" y2="411.80" stroke="#555" stroke-width="1" />
<text x="522.70" y="414.90" font-size="8.8" text-anchor="end" fill="#333" >600</text>
<line x1="523.00" y1="383.80" x2="527.00" y2="383.80" stroke="#555" stroke-width="1" />
<text x="522.70" y="386.90" font-size="8.8" text-anchor="end" fill="#333" >800</text>
<line x1="541.20" y1="495.80" x2="541.20" y2="499.80" stroke="#555" stroke-width="1" />
<text x="541.20" y="509.00" font-size="8.8" text-anchor="middle" fill="#222" >0</text>
<line x1="574.00" y1="495.80" x2="574.00" y2="499.80" stroke="#555" stroke-width="1" />
<text x="574.00" y="509.00" font-size="8.8" text-anchor="middle" fill="#222" >15</text>
<line x1="605.30" y1="495.80" x2="605.30" y2="499.80" stroke="#555" stroke-width="1" />
<text x="605.30" y="509.00" font-size="8.8" text-anchor="middle" fill="#222" >45</text>
<line x1="637.20" y1="495.80" x2="637.20" y2="499.80" stroke="#555" stroke-width="1" />
<text x="637.20" y="509.00" font-size="8.8" text-anchor="middle" fill="#222" >90</text>
<line x1="669.30" y1="495.80" x2="669.30" y2="499.80" stroke="#555" stroke-width="1" />
<text x="669.30" y="509.00" font-size="8.8" text-anchor="middle" fill="#222" >180</text>
<circle cx="542.70" cy="387.50" r="1.9" fill="#d2d2d2" />
<text x="549.40" y="391.00" font-size="9.6" text-anchor="start" fill="#222" >ARS Female</text>
<circle cx="619.50" cy="387.50" r="1.9" fill="#a597f3" />
<text x="626.20" y="391.00" font-size="9.6" text-anchor="start" fill="#222" >CRS Female</text>
<circle cx="538.06" cy="491.60" r="2.25" fill="#d2d2d2" />
<circle cx="537.75" cy="487.40" r="2.25" fill="#d2d2d2" />
<circle cx="536.84" cy="484.60" r="2.25" fill="#d2d2d2" />
<circle cx="536.13" cy="481.80" r="2.25" fill="#d2d2d2" />
<circle cx="536.11" cy="480.40" r="2.25" fill="#d2d2d2" />
<circle cx="532.83" cy="479.00" r="2.25" fill="#d2d2d2" />
<circle cx="536.75" cy="476.20" r="2.25" fill="#d2d2d2" />
<circle cx="533.80" cy="473.40" r="2.25" fill="#d2d2d2" />
<circle cx="536.66" cy="470.60" r="2.25" fill="#d2d2d2" />
<line x1="530.50" y1="480.56" x2="539.50" y2="480.56" stroke="#d2d2d2" stroke-width="1.1" />
<line x1="535.00" y1="478.45" x2="535.00" y2="482.66" stroke="#d2d2d2" stroke-width="1" />
<circle cx="549.21" cy="488.80" r="2.25" fill="#a597f3" />
<circle cx="549.43" cy="487.40" r="2.25" fill="#a597f3" />
<circle cx="547.83" cy="486.00" r="2.25" fill="#a597f3" />
<circle cx="544.81" cy="484.60" r="2.25" fill="#a597f3" />
<circle cx="547.20" cy="483.20" r="2.25" fill="#a597f3" />
<circle cx="548.75" cy="481.80" r="2.25" fill="#a597f3" />
<circle cx="547.99" cy="476.20" r="2.25" fill="#a597f3" />
<circle cx="548.67" cy="475.50" r="2.25" fill="#a597f3" />
<line x1="542.90" y1="482.94" x2="551.90" y2="482.94" stroke="#a597f3" stroke-width="1.1" />
<line x1="547.40" y1="481.31" x2="547.40" y2="484.56" stroke="#a597f3" stroke-width="1" />
<circle cx="569.25" cy="477.60" r="2.25" fill="#d2d2d2" />
<circle cx="570.95" cy="473.40" r="2.25" fill="#d2d2d2" />
<circle cx="566.03" cy="470.60" r="2.25" fill="#d2d2d2" />
<circle cx="567.54" cy="469.20" r="2.25" fill="#d2d2d2" />
<circle cx="569.19" cy="467.80" r="2.25" fill="#d2d2d2" />
<circle cx="565.49" cy="466.40" r="2.25" fill="#d2d2d2" />
<circle cx="568.01" cy="465.00" r="2.25" fill="#d2d2d2" />
<circle cx="566.61" cy="463.60" r="2.25" fill="#d2d2d2" />
<circle cx="568.80" cy="462.90" r="2.25" fill="#d2d2d2" />
<line x1="563.30" y1="468.50" x2="572.30" y2="468.50" stroke="#d2d2d2" stroke-width="1.1" />
<line x1="567.80" y1="466.99" x2="567.80" y2="470.01" stroke="#d2d2d2" stroke-width="1" />
<circle cx="578.73" cy="479.00" r="2.25" fill="#a597f3" />
<circle cx="577.31" cy="472.00" r="2.25" fill="#a597f3" />
<circle cx="579.56" cy="469.20" r="2.25" fill="#a597f3" />
<circle cx="578.05" cy="467.80" r="2.25" fill="#a597f3" />
<circle cx="579.06" cy="466.40" r="2.25" fill="#a597f3" />
<circle cx="582.78" cy="460.80" r="2.25" fill="#a597f3" />
<circle cx="582.64" cy="459.40" r="2.25" fill="#a597f3" />
<circle cx="582.21" cy="453.80" r="2.25" fill="#a597f3" />
<line x1="575.70" y1="466.05" x2="584.70" y2="466.05" stroke="#a597f3" stroke-width="1.1" />
<line x1="580.20" y1="463.43" x2="580.20" y2="468.67" stroke="#a597f3" stroke-width="1" />
<circle cx="596.19" cy="467.10" r="2.25" fill="#d2d2d2" />
<circle cx="600.40" cy="463.60" r="2.25" fill="#d2d2d2" />
<circle cx="597.91" cy="460.80" r="2.25" fill="#d2d2d2" />
<circle cx="599.02" cy="458.00" r="2.25" fill="#d2d2d2" />
<circle cx="598.61" cy="456.60" r="2.25" fill="#d2d2d2" />
<circle cx="599.48" cy="455.20" r="2.25" fill="#d2d2d2" />
<circle cx="598.83" cy="453.80" r="2.25" fill="#d2d2d2" />
<circle cx="597.80" cy="444.70" r="2.25" fill="#d2d2d2" />
<line x1="594.60" y1="457.48" x2="603.60" y2="457.48" stroke="#d2d2d2" stroke-width="1.1" />
<line x1="599.10" y1="455.22" x2="599.10" y2="459.73" stroke="#d2d2d2" stroke-width="1" />
<circle cx="614.41" cy="465.70" r="2.25" fill="#a597f3" />
<circle cx="613.41" cy="463.60" r="2.25" fill="#a597f3" />
<circle cx="611.54" cy="458.00" r="2.25" fill="#a597f3" />
<circle cx="609.25" cy="455.20" r="2.25" fill="#a597f3" />
<circle cx="608.80" cy="453.80" r="2.25" fill="#a597f3" />
<circle cx="610.81" cy="446.80" r="2.25" fill="#a597f3" />
<circle cx="614.47" cy="443.30" r="2.25" fill="#a597f3" />
<circle cx="612.32" cy="432.80" r="2.25" fill="#a597f3" />
<circle cx="614.39" cy="409.70" r="2.25" fill="#a597f3" />
<line x1="607.00" y1="447.66" x2="616.00" y2="447.66" stroke="#a597f3" stroke-width="1.1" />
<line x1="611.50" y1="442.14" x2="611.50" y2="453.17" stroke="#a597f3" stroke-width="1" />
<circle cx="627.96" cy="465.70" r="2.25" fill="#d2d2d2" />
<circle cx="628.45" cy="455.20" r="2.25" fill="#d2d2d2" />
<circle cx="631.37" cy="451.00" r="2.25" fill="#d2d2d2" />
<circle cx="632.76" cy="449.60" r="2.25" fill="#d2d2d2" />
<circle cx="631.72" cy="448.20" r="2.25" fill="#d2d2d2" />
<circle cx="631.21" cy="446.80" r="2.25" fill="#d2d2d2" />
<circle cx="629.44" cy="445.40" r="2.25" fill="#d2d2d2" />
<circle cx="631.04" cy="432.10" r="2.25" fill="#d2d2d2" />
<line x1="626.50" y1="449.25" x2="635.50" y2="449.25" stroke="#d2d2d2" stroke-width="1.1" />
<line x1="631.00" y1="446.12" x2="631.00" y2="452.38" stroke="#d2d2d2" stroke-width="1" />
<circle cx="646.53" cy="474.10" r="2.25" fill="#a597f3" />
<circle cx="645.63" cy="463.60" r="2.25" fill="#a597f3" />
<circle cx="643.69" cy="455.20" r="2.25" fill="#a597f3" />
<circle cx="643.53" cy="446.80" r="2.25" fill="#a597f3" />
<circle cx="640.34" cy="441.20" r="2.25" fill="#a597f3" />
<circle cx="646.27" cy="438.40" r="2.25" fill="#a597f3" />
<circle cx="641.31" cy="435.60" r="2.25" fill="#a597f3" />
<circle cx="645.04" cy="432.80" r="2.25" fill="#a597f3" />
<circle cx="643.98" cy="409.70" r="2.25" fill="#a597f3" />
<line x1="638.90" y1="444.16" x2="647.90" y2="444.16" stroke="#a597f3" stroke-width="1.1" />
<line x1="643.40" y1="438.24" x2="643.40" y2="450.07" stroke="#a597f3" stroke-width="1" />
<circle cx="660.81" cy="489.50" r="2.25" fill="#d2d2d2" />
<circle cx="662.94" cy="481.80" r="2.25" fill="#d2d2d2" />
<circle cx="665.43" cy="477.60" r="2.25" fill="#d2d2d2" />
<circle cx="665.25" cy="474.80" r="2.25" fill="#d2d2d2" />
<circle cx="664.60" cy="472.00" r="2.25" fill="#d2d2d2" />
<circle cx="661.71" cy="470.60" r="2.25" fill="#d2d2d2" />
<circle cx="662.42" cy="469.90" r="2.25" fill="#d2d2d2" />
<circle cx="665.07" cy="463.60" r="2.25" fill="#d2d2d2" />
<line x1="658.60" y1="474.98" x2="667.60" y2="474.98" stroke="#d2d2d2" stroke-width="1.1" />
<line x1="663.10" y1="472.33" x2="663.10" y2="477.62" stroke="#d2d2d2" stroke-width="1" />
<circle cx="672.95" cy="489.50" r="2.25" fill="#a597f3" />
<circle cx="675.74" cy="487.40" r="2.25" fill="#a597f3" />
<circle cx="677.57" cy="484.60" r="2.25" fill="#a597f3" />
<circle cx="678.65" cy="483.20" r="2.25" fill="#a597f3" />
<circle cx="674.04" cy="481.80" r="2.25" fill="#a597f3" />
<circle cx="673.61" cy="480.40" r="2.25" fill="#a597f3" />
<circle cx="676.95" cy="477.60" r="2.25" fill="#a597f3" />
<circle cx="675.12" cy="472.70" r="2.25" fill="#a597f3" />
<line x1="671.00" y1="482.15" x2="680.00" y2="482.15" stroke="#a597f3" stroke-width="1.1" />
<line x1="675.50" y1="480.37" x2="675.50" y2="483.93" stroke="#a597f3" stroke-width="1" />
<text x="503.80" y="442.70" font-size="9.6" text-anchor="middle" fill="#222" transform="rotate(-90 503.80 442.70)">CORT [ng/ml]</text>
<rect x="540.70" y="513.80" width="97.30" height="10.50" fill="#dcdcdc" />
<text x="589.50" y="522.30" font-size="9.6" text-anchor="middle" fill="#222" >Restraint</text>
<text x="583.40" y="533.90" font-size="9.6" text-anchor="start" fill="#222" >Time [min]</text>
<text x="-0.50" y="569.00" font-size="18.6" text-anchor="start" fill="#222" >G</text>
<text x="61.30" y="565.70" font-size="9.5" text-anchor="middle" fill="#222" >original</text>
<text x="61.30" y="575.90" font-size="9.5" text-anchor="middle" fill="#222" >experiment</text>
<text x="132.80" y="565.70" font-size="9.5" text-anchor="middle" fill="#222" >replication</text>
<text x="132.80" y="575.90" font-size="9.5" text-anchor="middle" fill="#222" >experiment</text>
<rect x="12.30" y="582.60" width="56.90" height="11.20" fill="#fffba2" />
<rect x="69.20" y="582.60" width="37.40" height="11.20" fill="#fd8a3b" />
<rect x="108.90" y="582.60" width="45.00" height="11.20" fill="#fd8a3b" />
<rect x="12.30" y="594.90" width="37.90" height="10.80" fill="#d0d0d0" />
<rect x="50.20" y="594.90" width="19.00" height="10.80" fill="#7866fd" />
<rect x="69.20" y="594.90" width="19.00" height="10.80" fill="#d0d0d0" />
<rect x="88.20" y="594.90" width="18.40" height="10.80" fill="#7866fd" />
<rect x="108.90" y="594.90" width="23.90" height="10.80" fill="#d0d0d0" />
<rect x="132.80" y="594.90" width="21.10" height="10.80" fill="#7866fd" />
<text x="156.20" y="591.10" font-size="8.7" text-anchor="start" fill="#222" >TimePoint</text>
<text x="156.20" y="603.60" font-size="8.7" text-anchor="start" fill="#222" >Treatment</text>
<g filter="url(#hblur)"><path fill="#0a2a6e" d="M128.1 692.4h2.4v1.7h-2.4zM128.1 705.4h2.4v1.7h-2.4zM128.1 729.7h2.4v1.7h-2.4zM128.1 734.6h2.4v1.7h-2.4z"/>
<path fill="#0a2b6f" d="M69.2 741.0h2.4v1.7h-2.4zM85.8 741.0h2.4v1.7h-2.4zM128.1 702.2h2.4v1.7h-2.4zM128.1 710.3h2.4v1.7h-2.4zM128.1 731.3h2.4v1.7h-2.4z"/>
<path fill="#0a2c70" d="M69.2 720.0h2.4v1.7h-2.4zM74.0 724.8h2.4v1.7h-2.4zM76.3 720.0h2.4v1.7h-2.4zM128.1 689.2h2.4v1.7h-2.4zM128.1 690.8h2.4v1.7h-2.4zM128.1 694.1h2.4v1.7h-2.4zM128.1 703.8h2.4v1.7h-2.4zM128.1 721.6h2.4v1.7h-2.4zM128.1 724.8h2.4v1.7h-2.4zM128.1 736.2h2.4v1.7h-2.4zM128.1 739.4h2.4v1.7h-2.4z"/>
<path fill="#0b2d72" d="M118.6 724.8h2.4v1.7h-2.4zM128.1 695.7h2.4v1.7h-2.4zM128.1 708.6h2.4v1.7h-2.4zM128.1 713.5h2.4v1.7h-2.4zM128.1 715.1h2.4v1.7h-2.4zM128.1 716.7h2.4v1.7h-2.4zM128.1 723.2h2.4v1.7h-2.4zM128.1 728.1h2.4v1.7h-2.4zM128.1 737.8h2.4v1.7h-2.4z"/>
<path fill="#0b2e73" d="M69.2 736.2h2.4v1.7h-2.4zM71.6 720.0h2.4v1.7h-2.4zM71.6 723.2h2.4v1.7h-2.4zM74.0 720.0h2.4v1.7h-2.4zM76.3 734.6h2.4v1.7h-2.4zM76.3 741.0h2.4v1.7h-2.4zM81.1 741.0h2.4v1.7h-2.4zM111.5 718.4h2.4v1.7h-2.4zM121.0 718.4h2.4v1.7h-2.4zM128.1 697.3h2.4v1.7h-2.4zM128.1 698.9h2.4v1.7h-2.4zM128.1 711.9h2.4v1.7h-2.4zM128.1 718.4h2.4v1.7h-2.4zM128.1 720.0h2.4v1.7h-2.4zM128.1 732.9h2.4v1.7h-2.4zM128.1 741.0h2.4v1.7h-2.4zM130.4 720.0h2.4v1.7h-2.4z"/>
<path fill="#0b2f75" d="M69.2 723.2h2.4v1.7h-2.4zM71.6 708.6h2.4v1.7h-2.4zM71.6 736.2h2.4v1.7h-2.4zM74.0 716.7h2.4v1.7h-2.4zM74.0 741.0h2.4v1.7h-2.4zM78.7 708.6h2.4v1.7h-2.4zM104.4 708.6h2.4v1.7h-2.4zM111.5 692.4h2.4v1.7h-2.4zM111.5 716.7h2.4v1.7h-2.4zM111.5 720.0h2.4v1.7h-2.4zM111.5 741.0h2.4v1.7h-2.4zM113.8 724.8h2.4v1.7h-2.4zM121.0 708.6h2.4v1.7h-2.4zM123.3 724.8h2.4v1.7h-2.4zM123.3 744.3h2.4v1.7h-2.4zM128.1 700.5h2.4v1.7h-2.4zM128.1 707.0h2.4v1.7h-2.4zM128.1 726.5h2.4v1.7h-2.4z"/>
<path fill="#0e337a" d="M69.2 724.8h2.4v1.7h-2.4zM71.6 690.8h2.4v1.7h-2.4zM71.6 715.1h2.4v1.7h-2.4zM74.0 700.5h2.4v1.7h-2.4zM74.0 713.5h2.4v1.7h-2.4zM74.0 715.1h2.4v1.7h-2.4zM74.0 734.6h2.4v1.7h-2.4zM76.3 724.8h2.4v1.7h-2.4zM78.7 723.2h2.4v1.7h-2.4zM78.7 724.8h2.4v1.7h-2.4zM78.7 741.0h2.4v1.7h-2.4zM83.5 708.6h2.4v1.7h-2.4zM83.5 734.6h2.4v1.7h-2.4zM85.8 708.6h2.4v1.7h-2.4zM116.2 720.0h2.4v1.7h-2.4zM118.6 723.2h2.4v1.7h-2.4zM121.0 697.3h2.4v1.7h-2.4zM123.3 708.6h2.4v1.7h-2.4zM123.3 713.5h2.4v1.7h-2.4zM123.3 741.0h2.4v1.7h-2.4zM125.7 741.0h2.4v1.7h-2.4zM128.1 744.3h2.4v1.7h-2.4z"/>
<path fill="#143d86" d="M69.2 694.1h2.4v1.7h-2.4zM69.2 708.6h2.4v1.7h-2.4zM69.2 729.7h2.4v1.7h-2.4zM69.2 732.9h2.4v1.7h-2.4zM69.2 734.6h2.4v1.7h-2.4zM71.6 713.5h2.4v1.7h-2.4zM74.0 708.6h2.4v1.7h-2.4zM74.0 718.4h2.4v1.7h-2.4zM74.0 721.6h2.4v1.7h-2.4zM74.0 723.2h2.4v1.7h-2.4zM76.3 690.8h2.4v1.7h-2.4zM76.3 710.3h2.4v1.7h-2.4zM76.3 736.2h2.4v1.7h-2.4zM78.7 690.8h2.4v1.7h-2.4zM78.7 720.0h2.4v1.7h-2.4zM81.1 697.3h2.4v1.7h-2.4zM83.5 720.0h2.4v1.7h-2.4zM85.8 720.0h2.4v1.7h-2.4zM104.4 692.4h2.4v1.7h-2.4zM111.5 721.6h2.4v1.7h-2.4zM111.5 734.6h2.4v1.7h-2.4zM113.8 713.5h2.4v1.7h-2.4zM113.8 723.2h2.4v1.7h-2.4zM113.8 741.0h2.4v1.7h-2.4zM118.6 737.8h2.4v1.7h-2.4zM118.6 744.3h2.4v1.7h-2.4zM121.0 721.6h2.4v1.7h-2.4zM121.0 724.8h2.4v1.7h-2.4zM123.3 715.1h2.4v1.7h-2.4zM130.4 723.2h2.4v1.7h-2.4zM130.4 724.8h2.4v1.7h-2.4zM130.4 741.0h2.4v1.7h-2.4z"/>
<path fill="#1b4692" d="M69.2 700.5h2.4v1.7h-2.4zM69.2 715.1h2.4v1.7h-2.4zM69.2 721.6h2.4v1.7h-2.4zM71.6 724.8h2.4v1.7h-2.4zM71.6 741.0h2.4v1.7h-2.4zM71.6 745.9h2.4v1.7h-2.4zM74.0 689.2h2.4v1.7h-2.4zM74.0 697.3h2.4v1.7h-2.4zM74.0 729.7h2.4v1.7h-2.4zM74.0 736.2h2.4v1.7h-2.4zM74.0 737.8h2.4v1.7h-2.4zM74.0 744.3h2.4v1.7h-2.4zM76.3 697.3h2.4v1.7h-2.4zM76.3 708.6h2.4v1.7h-2.4zM76.3 742.7h2.4v1.7h-2.4zM78.7 715.1h2.4v1.7h-2.4zM78.7 716.7h2.4v1.7h-2.4zM81.1 723.2h2.4v1.7h-2.4zM81.1 745.9h2.4v1.7h-2.4zM85.8 713.5h2.4v1.7h-2.4zM85.8 718.4h2.4v1.7h-2.4zM85.8 723.2h2.4v1.7h-2.4zM104.4 720.0h2.4v1.7h-2.4zM104.4 736.2h2.4v1.7h-2.4zM111.5 695.7h2.4v1.7h-2.4zM111.5 744.3h2.4v1.7h-2.4zM113.8 690.8h2.4v1.7h-2.4zM116.2 721.6h2.4v1.7h-2.4zM116.2 734.6h2.4v1.7h-2.4zM118.6 708.6h2.4v1.7h-2.4zM118.6 713.5h2.4v1.7h-2.4zM118.6 720.0h2.4v1.7h-2.4zM121.0 710.3h2.4v1.7h-2.4zM121.0 745.9h2.4v1.7h-2.4zM123.3 697.3h2.4v1.7h-2.4zM123.3 734.6h2.4v1.7h-2.4zM125.7 734.6h2.4v1.7h-2.4zM139.8 698.9h2.4v1.7h-2.4z"/>
<path fill="#21509e" d="M69.2 697.3h2.4v1.7h-2.4zM69.2 705.4h2.4v1.7h-2.4zM69.2 713.5h2.4v1.7h-2.4zM69.2 716.7h2.4v1.7h-2.4zM69.2 737.8h2.4v1.7h-2.4zM71.6 744.3h2.4v1.7h-2.4zM74.0 698.9h2.4v1.7h-2.4zM74.0 731.3h2.4v1.7h-2.4zM74.0 745.9h2.4v1.7h-2.4zM76.3 692.4h2.4v1.7h-2.4zM76.3 713.5h2.4v1.7h-2.4zM76.3 723.2h2.4v1.7h-2.4zM76.3 744.3h2.4v1.7h-2.4zM78.7 736.2h2.4v1.7h-2.4zM83.5 713.5h2.4v1.7h-2.4zM83.5 741.0h2.4v1.7h-2.4zM85.8 716.7h2.4v1.7h-2.4zM85.8 734.6h2.4v1.7h-2.4zM90.5 718.4h2.4v1.7h-2.4zM109.1 718.4h2.4v1.7h-2.4zM109.1 741.0h2.4v1.7h-2.4zM111.5 697.3h2.4v1.7h-2.4zM111.5 710.3h2.4v1.7h-2.4zM113.8 720.0h2.4v1.7h-2.4zM116.2 710.3h2.4v1.7h-2.4zM116.2 718.4h2.4v1.7h-2.4zM116.2 724.8h2.4v1.7h-2.4zM116.2 736.2h2.4v1.7h-2.4zM116.2 744.3h2.4v1.7h-2.4zM118.6 692.4h2.4v1.7h-2.4zM118.6 698.9h2.4v1.7h-2.4zM118.6 745.9h2.4v1.7h-2.4zM121.0 690.8h2.4v1.7h-2.4zM121.0 720.0h2.4v1.7h-2.4zM121.0 723.2h2.4v1.7h-2.4zM121.0 741.0h2.4v1.7h-2.4zM123.3 718.4h2.4v1.7h-2.4zM125.7 736.2h2.4v1.7h-2.4zM125.7 745.9h2.4v1.7h-2.4zM130.4 713.5h2.4v1.7h-2.4zM135.1 734.6h2.4v1.7h-2.4zM149.1 713.5h2.4v1.7h-2.4z"/>
<path fill="#285aaa" d="M69.2 690.8h2.4v1.7h-2.4zM69.2 695.7h2.4v1.7h-2.4zM69.2 702.2h2.4v1.7h-2.4zM69.2 745.9h2.4v1.7h-2.4zM71.6 692.4h2.4v1.7h-2.4zM71.6 721.6h2.4v1.7h-2.4zM71.6 734.6h2.4v1.7h-2.4zM71.6 737.8h2.4v1.7h-2.4zM74.0 690.8h2.4v1.7h-2.4zM74.0 732.9h2.4v1.7h-2.4zM74.0 747.5h2.4v1.7h-2.4zM74.0 750.8h2.4v1.1h-2.4zM76.3 702.2h2.4v1.7h-2.4zM76.3 715.1h2.4v1.7h-2.4zM78.7 692.4h2.4v1.7h-2.4zM78.7 697.3h2.4v1.7h-2.4zM78.7 700.5h2.4v1.7h-2.4zM78.7 702.2h2.4v1.7h-2.4zM78.7 713.5h2.4v1.7h-2.4zM78.7 732.9h2.4v1.7h-2.4zM81.1 721.6h2.4v1.7h-2.4zM81.1 734.6h2.4v1.7h-2.4zM81.1 742.7h2.4v1.7h-2.4zM83.5 697.3h2.4v1.7h-2.4zM83.5 715.1h2.4v1.7h-2.4zM83.5 724.8h2.4v1.7h-2.4zM83.5 742.7h2.4v1.7h-2.4zM85.8 697.3h2.4v1.7h-2.4zM85.8 737.8h2.4v1.7h-2.4zM85.8 742.7h2.4v1.7h-2.4zM90.5 720.0h2.4v1.7h-2.4zM90.5 724.8h2.4v1.7h-2.4zM97.5 720.0h2.4v1.7h-2.4zM97.5 736.2h2.4v1.7h-2.4zM99.8 734.6h2.4v1.7h-2.4zM102.1 708.6h2.4v1.7h-2.4zM104.4 698.9h2.4v1.7h-2.4zM104.4 732.9h2.4v1.7h-2.4zM104.4 741.0h2.4v1.7h-2.4zM104.4 744.3h2.4v1.7h-2.4zM104.4 745.9h2.4v1.7h-2.4zM109.1 708.6h2.4v1.7h-2.4zM111.5 713.5h2.4v1.7h-2.4zM111.5 723.2h2.4v1.7h-2.4zM111.5 724.8h2.4v1.7h-2.4zM111.5 736.2h2.4v1.7h-2.4zM111.5 737.8h2.4v1.7h-2.4zM113.8 697.3h2.4v1.7h-2.4zM113.8 703.8h2.4v1.7h-2.4zM113.8 705.4h2.4v1.7h-2.4zM113.8 718.4h2.4v1.7h-2.4zM113.8 721.6h2.4v1.7h-2.4zM113.8 732.9h2.4v1.7h-2.4zM113.8 742.7h2.4v1.7h-2.4zM116.2 697.3h2.4v1.7h-2.4zM116.2 715.1h2.4v1.7h-2.4zM116.2 741.0h2.4v1.7h-2.4zM118.6 690.8h2.4v1.7h-2.4zM118.6 697.3h2.4v1.7h-2.4zM118.6 726.5h2.4v1.7h-2.4zM121.0 728.1h2.4v1.7h-2.4zM121.0 742.7h2.4v1.7h-2.4zM121.0 744.3h2.4v1.7h-2.4zM123.3 690.8h2.4v1.7h-2.4zM123.3 716.7h2.4v1.7h-2.4zM123.3 720.0h2.4v1.7h-2.4zM123.3 729.7h2.4v1.7h-2.4zM123.3 736.2h2.4v1.7h-2.4zM125.7 694.1h2.4v1.7h-2.4zM125.7 702.2h2.4v1.7h-2.4zM125.7 708.6h2.4v1.7h-2.4zM125.7 721.6h2.4v1.7h-2.4zM125.7 724.8h2.4v1.7h-2.4zM125.7 742.7h2.4v1.7h-2.4zM139.8 741.0h2.4v1.7h-2.4zM139.8 745.9h2.4v1.7h-2.4zM142.1 715.1h2.4v1.7h-2.4zM144.4 745.9h2.4v1.7h-2.4zM149.1 720.0h2.4v1.7h-2.4z"/>
<path fill="#3c69b3" d="M57.3 616.3h2.4v1.7h-2.4zM59.7 616.3h2.4v1.7h-2.4zM69.2 689.2h2.4v1.7h-2.4zM69.2 726.5h2.4v1.7h-2.4zM69.2 744.3h2.4v1.7h-2.4zM71.6 694.1h2.4v1.7h-2.4zM71.6 697.3h2.4v1.7h-2.4zM71.6 700.5h2.4v1.7h-2.4zM71.6 710.3h2.4v1.7h-2.4zM71.6 711.9h2.4v1.7h-2.4zM71.6 729.7h2.4v1.7h-2.4zM71.6 732.9h2.4v1.7h-2.4zM74.0 702.2h2.4v1.7h-2.4zM74.0 710.3h2.4v1.7h-2.4zM74.0 742.7h2.4v1.7h-2.4zM76.3 700.5h2.4v1.7h-2.4zM76.3 711.9h2.4v1.7h-2.4zM76.3 718.4h2.4v1.7h-2.4zM76.3 721.6h2.4v1.7h-2.4zM76.3 728.1h2.4v1.7h-2.4zM76.3 729.7h2.4v1.7h-2.4zM76.3 737.8h2.4v1.7h-2.4zM78.7 705.4h2.4v1.7h-2.4zM78.7 718.4h2.4v1.7h-2.4zM78.7 734.6h2.4v1.7h-2.4zM78.7 742.7h2.4v1.7h-2.4zM81.1 702.2h2.4v1.7h-2.4zM81.1 703.8h2.4v1.7h-2.4zM81.1 724.8h2.4v1.7h-2.4zM83.5 703.8h2.4v1.7h-2.4zM83.5 705.4h2.4v1.7h-2.4zM83.5 718.4h2.4v1.7h-2.4zM83.5 721.6h2.4v1.7h-2.4zM83.5 723.2h2.4v1.7h-2.4zM85.8 694.1h2.4v1.7h-2.4zM85.8 702.2h2.4v1.7h-2.4zM85.8 721.6h2.4v1.7h-2.4zM85.8 724.8h2.4v1.7h-2.4zM88.2 745.9h2.4v1.7h-2.4zM90.5 715.1h2.4v1.7h-2.4zM90.5 741.0h2.4v1.7h-2.4zM92.8 698.9h2.4v1.7h-2.4zM97.5 708.6h2.4v1.7h-2.4zM104.4 690.8h2.4v1.7h-2.4zM104.4 702.2h2.4v1.7h-2.4zM104.4 713.5h2.4v1.7h-2.4zM104.4 715.1h2.4v1.7h-2.4zM104.4 718.4h2.4v1.7h-2.4zM104.4 729.7h2.4v1.7h-2.4zM104.4 734.6h2.4v1.7h-2.4zM104.4 737.8h2.4v1.7h-2.4zM109.1 723.2h2.4v1.7h-2.4zM109.1 724.8h2.4v1.7h-2.4zM109.1 744.3h2.4v1.7h-2.4zM111.5 694.1h2.4v1.7h-2.4zM111.5 742.7h2.4v1.7h-2.4zM113.8 700.5h2.4v1.7h-2.4zM113.8 708.6h2.4v1.7h-2.4zM113.8 715.1h2.4v1.7h-2.4zM113.8 734.6h2.4v1.7h-2.4zM113.8 737.8h2.4v1.7h-2.4zM116.2 698.9h2.4v1.7h-2.4zM116.2 713.5h2.4v1.7h-2.4zM116.2 729.7h2.4v1.7h-2.4zM118.6 695.7h2.4v1.7h-2.4zM118.6 736.2h2.4v1.7h-2.4zM118.6 741.0h2.4v1.7h-2.4zM121.0 692.4h2.4v1.7h-2.4zM121.0 695.7h2.4v1.7h-2.4zM121.0 698.9h2.4v1.7h-2.4zM121.0 705.4h2.4v1.7h-2.4zM121.0 729.7h2.4v1.7h-2.4zM123.3 695.7h2.4v1.7h-2.4zM123.3 705.4h2.4v1.7h-2.4zM123.3 723.2h2.4v1.7h-2.4zM125.7 705.4h2.4v1.7h-2.4zM125.7 744.3h2.4v1.7h-2.4zM128.1 742.7h2.4v1.7h-2.4zM128.1 745.9h2.4v1.7h-2.4zM130.4 705.4h2.4v1.7h-2.4zM130.4 718.4h2.4v1.7h-2.4zM130.4 736.2h2.4v1.7h-2.4zM130.4 737.8h2.4v1.7h-2.4zM130.4 742.7h2.4v1.7h-2.4zM132.8 708.6h2.4v1.7h-2.4zM135.1 720.0h2.4v1.7h-2.4zM135.1 736.2h2.4v1.7h-2.4zM139.8 671.4h2.4v1.7h-2.4zM139.8 690.8h2.4v1.7h-2.4zM139.8 718.4h2.4v1.7h-2.4zM139.8 729.7h2.4v1.7h-2.4zM142.1 690.8h2.4v1.7h-2.4zM142.1 736.2h2.4v1.7h-2.4zM144.4 720.0h2.4v1.7h-2.4zM146.7 720.0h2.4v1.7h-2.4zM149.1 724.8h2.4v1.7h-2.4zM149.1 737.8h2.4v1.7h-2.4zM151.4 741.0h2.4v1.7h-2.4z"/>
<path fill="#5078bc" d="M12.8 619.5h2.4v1.7h-2.4zM52.6 664.9h2.4v1.7h-2.4zM64.5 666.5h2.4v1.7h-2.4zM69.2 710.3h2.4v1.7h-2.4zM71.6 703.8h2.4v1.7h-2.4zM71.6 716.7h2.4v1.7h-2.4zM71.6 718.4h2.4v1.7h-2.4zM71.6 728.1h2.4v1.7h-2.4zM71.6 750.8h2.4v1.1h-2.4zM74.0 692.4h2.4v1.7h-2.4zM74.0 703.8h2.4v1.7h-2.4zM74.0 705.4h2.4v1.7h-2.4zM74.0 739.4h2.4v1.7h-2.4zM76.3 695.7h2.4v1.7h-2.4zM76.3 703.8h2.4v1.7h-2.4zM76.3 716.7h2.4v1.7h-2.4zM76.3 745.9h2.4v1.7h-2.4zM78.7 689.2h2.4v1.7h-2.4zM78.7 703.8h2.4v1.7h-2.4zM78.7 728.1h2.4v1.7h-2.4zM78.7 737.8h2.4v1.7h-2.4zM81.1 690.8h2.4v1.7h-2.4zM81.1 692.4h2.4v1.7h-2.4zM81.1 700.5h2.4v1.7h-2.4zM81.1 713.5h2.4v1.7h-2.4zM81.1 736.2h2.4v1.7h-2.4zM83.5 692.4h2.4v1.7h-2.4zM83.5 711.9h2.4v1.7h-2.4zM83.5 736.2h2.4v1.7h-2.4zM83.5 749.1h2.4v1.7h-2.4zM85.8 692.4h2.4v1.7h-2.4zM85.8 715.1h2.4v1.7h-2.4zM85.8 729.7h2.4v1.7h-2.4zM85.8 744.3h2.4v1.7h-2.4zM90.5 729.7h2.4v1.7h-2.4zM90.5 742.7h2.4v1.7h-2.4zM92.8 703.8h2.4v1.7h-2.4zM92.8 724.8h2.4v1.7h-2.4zM95.1 705.4h2.4v1.7h-2.4zM95.1 724.8h2.4v1.7h-2.4zM97.5 724.8h2.4v1.7h-2.4zM97.5 734.6h2.4v1.7h-2.4zM97.5 741.0h2.4v1.7h-2.4zM99.8 718.4h2.4v1.7h-2.4zM99.8 720.0h2.4v1.7h-2.4zM99.8 729.7h2.4v1.7h-2.4zM104.4 689.2h2.4v1.7h-2.4zM104.4 723.2h2.4v1.7h-2.4zM104.4 724.8h2.4v1.7h-2.4zM104.4 739.4h2.4v1.7h-2.4zM109.1 720.0h2.4v1.7h-2.4zM109.1 732.9h2.4v1.7h-2.4zM109.1 736.2h2.4v1.7h-2.4zM111.5 702.2h2.4v1.7h-2.4zM111.5 703.8h2.4v1.7h-2.4zM111.5 705.4h2.4v1.7h-2.4zM111.5 715.1h2.4v1.7h-2.4zM111.5 749.1h2.4v1.7h-2.4zM111.5 750.8h2.4v1.1h-2.4zM113.8 726.5h2.4v1.7h-2.4zM113.8 747.5h2.4v1.7h-2.4zM116.2 703.8h2.4v1.7h-2.4zM116.2 723.2h2.4v1.7h-2.4zM118.6 702.2h2.4v1.7h-2.4zM118.6 715.1h2.4v1.7h-2.4zM118.6 718.4h2.4v1.7h-2.4zM118.6 729.7h2.4v1.7h-2.4zM121.0 703.8h2.4v1.7h-2.4zM121.0 715.1h2.4v1.7h-2.4zM121.0 726.5h2.4v1.7h-2.4zM121.0 734.6h2.4v1.7h-2.4zM121.0 737.8h2.4v1.7h-2.4zM123.3 702.2h2.4v1.7h-2.4zM123.3 711.9h2.4v1.7h-2.4zM123.3 721.6h2.4v1.7h-2.4zM125.7 703.8h2.4v1.7h-2.4zM125.7 715.1h2.4v1.7h-2.4zM125.7 720.0h2.4v1.7h-2.4zM130.4 690.8h2.4v1.7h-2.4zM130.4 698.9h2.4v1.7h-2.4zM130.4 703.8h2.4v1.7h-2.4zM130.4 708.6h2.4v1.7h-2.4zM132.8 741.0h2.4v1.7h-2.4zM135.1 718.4h2.4v1.7h-2.4zM135.1 721.6h2.4v1.7h-2.4zM135.1 737.8h2.4v1.7h-2.4zM139.8 692.4h2.4v1.7h-2.4zM139.8 702.2h2.4v1.7h-2.4zM139.8 742.7h2.4v1.7h-2.4zM142.1 708.6h2.4v1.7h-2.4zM142.1 710.3h2.4v1.7h-2.4zM142.1 720.0h2.4v1.7h-2.4zM142.1 723.2h2.4v1.7h-2.4zM142.1 741.0h2.4v1.7h-2.4zM144.4 690.8h2.4v1.7h-2.4zM146.7 697.3h2.4v1.7h-2.4zM146.7 700.5h2.4v1.7h-2.4zM146.7 702.2h2.4v1.7h-2.4zM146.7 721.6h2.4v1.7h-2.4zM146.7 724.8h2.4v1.7h-2.4zM146.7 728.1h2.4v1.7h-2.4zM146.7 741.0h2.4v1.7h-2.4zM149.1 690.8h2.4v1.7h-2.4zM149.1 692.4h2.4v1.7h-2.4zM151.4 720.0h2.4v1.7h-2.4zM151.4 737.8h2.4v1.7h-2.4zM151.4 742.7h2.4v1.7h-2.4z"/>
<path fill="#6488c5" d="M29.2 744.3h2.4v1.7h-2.4zM31.5 616.3h2.4v1.7h-2.4zM38.5 663.3h2.4v1.7h-2.4zM50.2 627.6h2.4v1.7h-2.4zM52.6 622.8h2.4v1.7h-2.4zM64.5 682.7h2.4v1.7h-2.4zM69.2 703.8h2.4v1.7h-2.4zM69.2 711.9h2.4v1.7h-2.4zM69.2 728.1h2.4v1.7h-2.4zM69.2 731.3h2.4v1.7h-2.4zM69.2 747.5h2.4v1.7h-2.4zM71.6 689.2h2.4v1.7h-2.4zM71.6 695.7h2.4v1.7h-2.4zM71.6 742.7h2.4v1.7h-2.4zM74.0 694.1h2.4v1.7h-2.4zM74.0 695.7h2.4v1.7h-2.4zM74.0 711.9h2.4v1.7h-2.4zM74.0 726.5h2.4v1.7h-2.4zM76.3 689.2h2.4v1.7h-2.4zM76.3 705.4h2.4v1.7h-2.4zM76.3 747.5h2.4v1.7h-2.4zM78.7 698.9h2.4v1.7h-2.4zM78.7 707.0h2.4v1.7h-2.4zM78.7 711.9h2.4v1.7h-2.4zM78.7 721.6h2.4v1.7h-2.4zM78.7 729.7h2.4v1.7h-2.4zM78.7 745.9h2.4v1.7h-2.4zM81.1 689.2h2.4v1.7h-2.4zM81.1 695.7h2.4v1.7h-2.4zM81.1 705.4h2.4v1.7h-2.4zM81.1 708.6h2.4v1.7h-2.4zM81.1 718.4h2.4v1.7h-2.4zM81.1 720.0h2.4v1.7h-2.4zM83.5 694.1h2.4v1.7h-2.4zM83.5 695.7h2.4v1.7h-2.4zM83.5 698.9h2.4v1.7h-2.4zM83.5 728.1h2.4v1.7h-2.4zM83.5 744.3h2.4v1.7h-2.4zM83.5 745.9h2.4v1.7h-2.4zM85.8 690.8h2.4v1.7h-2.4zM85.8 695.7h2.4v1.7h-2.4zM85.8 700.5h2.4v1.7h-2.4zM85.8 711.9h2.4v1.7h-2.4zM85.8 736.2h2.4v1.7h-2.4zM85.8 745.9h2.4v1.7h-2.4zM88.2 716.7h2.4v1.7h-2.4zM88.2 744.3h2.4v1.7h-2.4zM90.5 689.2h2.4v1.7h-2.4zM90.5 698.9h2.4v1.7h-2.4zM90.5 702.2h2.4v1.7h-2.4zM90.5 736.2h2.4v1.7h-2.4zM90.5 750.8h2.4v1.1h-2.4zM92.8 720.0h2.4v1.7h-2.4zM92.8 736.2h2.4v1.7h-2.4zM95.1 697.3h2.4v1.7h-2.4zM97.5 692.4h2.4v1.7h-2.4zM97.5 710.3h2.4v1.7h-2.4zM99.8 690.8h2.4v1.7h-2.4zM99.8 692.4h2.4v1.7h-2.4zM99.8 708.6h2.4v1.7h-2.4zM99.8 710.3h2.4v1.7h-2.4zM99.8 741.0h2.4v1.7h-2.4zM99.8 744.3h2.4v1.7h-2.4zM104.4 749.1h2.4v1.7h-2.4zM109.1 697.3h2.4v1.7h-2.4zM109.1 734.6h2.4v1.7h-2.4zM111.5 690.8h2.4v1.7h-2.4zM111.5 729.7h2.4v1.7h-2.4zM111.5 732.9h2.4v1.7h-2.4zM111.5 745.9h2.4v1.7h-2.4zM113.8 698.9h2.4v1.7h-2.4zM113.8 728.1h2.4v1.7h-2.4zM113.8 736.2h2.4v1.7h-2.4zM113.8 744.3h2.4v1.7h-2.4zM116.2 702.2h2.4v1.7h-2.4zM116.2 716.7h2.4v1.7h-2.4zM116.2 726.5h2.4v1.7h-2.4zM116.2 728.1h2.4v1.7h-2.4zM116.2 732.9h2.4v1.7h-2.4zM118.6 689.2h2.4v1.7h-2.4zM118.6 700.5h2.4v1.7h-2.4zM118.6 732.9h2.4v1.7h-2.4zM118.6 739.4h2.4v1.7h-2.4zM121.0 689.2h2.4v1.7h-2.4zM121.0 700.5h2.4v1.7h-2.4zM121.0 747.5h2.4v1.7h-2.4zM123.3 745.9h2.4v1.7h-2.4zM125.7 700.5h2.4v1.7h-2.4zM128.1 749.1h2.4v1.7h-2.4zM130.4 695.7h2.4v1.7h-2.4zM130.4 729.7h2.4v1.7h-2.4zM130.4 744.3h2.4v1.7h-2.4zM132.8 724.8h2.4v1.7h-2.4zM135.1 697.3h2.4v1.7h-2.4zM135.1 723.2h2.4v1.7h-2.4zM135.1 724.8h2.4v1.7h-2.4zM135.1 741.0h2.4v1.7h-2.4zM137.4 724.8h2.4v1.7h-2.4zM139.8 697.3h2.4v1.7h-2.4zM139.8 716.7h2.4v1.7h-2.4zM139.8 720.0h2.4v1.7h-2.4zM139.8 723.2h2.4v1.7h-2.4zM139.8 724.8h2.4v1.7h-2.4zM139.8 736.2h2.4v1.7h-2.4zM139.8 737.8h2.4v1.7h-2.4zM139.8 744.3h2.4v1.7h-2.4zM142.1 689.2h2.4v1.7h-2.4zM142.1 692.4h2.4v1.7h-2.4zM142.1 698.9h2.4v1.7h-2.4zM142.1 703.8h2.4v1.7h-2.4zM142.1 705.4h2.4v1.7h-2.4zM142.1 713.5h2.4v1.7h-2.4zM142.1 724.8h2.4v1.7h-2.4zM144.4 703.8h2.4v1.7h-2.4zM144.4 723.2h2.4v1.7h-2.4zM144.4 724.8h2.4v1.7h-2.4zM144.4 741.0h2.4v1.7h-2.4zM146.7 732.9h2.4v1.7h-2.4zM146.7 745.9h2.4v1.7h-2.4zM149.1 710.3h2.4v1.7h-2.4zM149.1 736.2h2.4v1.7h-2.4zM149.1 741.0h2.4v1.7h-2.4zM151.4 695.7h2.4v1.7h-2.4zM151.4 708.6h2.4v1.7h-2.4zM151.4 723.2h2.4v1.7h-2.4zM151.4 724.8h2.4v1.7h-2.4zM151.4 736.2h2.4v1.7h-2.4z"/>
<path fill="#7897ce" d="M12.8 648.7h2.4v1.7h-2.4zM15.1 616.3h2.4v1.7h-2.4zM17.5 616.3h2.4v1.7h-2.4zM17.5 663.3h2.4v1.7h-2.4zM22.2 637.4h2.4v1.7h-2.4zM22.2 674.6h2.4v1.7h-2.4zM22.2 689.2h2.4v1.7h-2.4zM24.5 736.2h2.4v1.7h-2.4zM24.5 737.8h2.4v1.7h-2.4zM26.8 608.2h2.4v1.7h-2.4zM26.8 679.5h2.4v1.7h-2.4zM29.2 671.4h2.4v1.7h-2.4zM31.5 711.9h2.4v1.7h-2.4zM31.5 721.6h2.4v1.7h-2.4zM33.8 643.8h2.4v1.7h-2.4zM33.8 690.8h2.4v1.7h-2.4zM38.5 669.8h2.4v1.7h-2.4zM43.2 682.7h2.4v1.7h-2.4zM50.2 613.1h2.4v1.7h-2.4zM50.2 647.1h2.4v1.7h-2.4zM50.2 716.7h2.4v1.7h-2.4zM52.6 609.8h2.4v1.7h-2.4zM52.6 611.4h2.4v1.7h-2.4zM52.6 632.5h2.4v1.7h-2.4zM52.6 647.1h2.4v1.7h-2.4zM52.6 671.4h2.4v1.7h-2.4zM55.0 611.4h2.4v1.7h-2.4zM57.3 681.1h2.4v1.7h-2.4zM59.7 630.9h2.4v1.7h-2.4zM59.7 682.7h2.4v1.7h-2.4zM62.1 608.2h2.4v1.7h-2.4zM62.1 614.7h2.4v1.7h-2.4zM64.5 626.0h2.4v1.7h-2.4zM64.5 671.4h2.4v1.7h-2.4zM64.5 673.0h2.4v1.7h-2.4zM66.8 736.2h2.4v1.7h-2.4zM69.2 698.9h2.4v1.7h-2.4zM69.2 718.4h2.4v1.7h-2.4zM69.2 742.7h2.4v1.7h-2.4zM69.2 750.8h2.4v1.1h-2.4zM71.6 698.9h2.4v1.7h-2.4zM71.6 702.2h2.4v1.7h-2.4zM71.6 747.5h2.4v1.7h-2.4zM71.6 749.1h2.4v1.7h-2.4zM74.0 707.0h2.4v1.7h-2.4zM76.3 698.9h2.4v1.7h-2.4zM76.3 707.0h2.4v1.7h-2.4zM76.3 726.5h2.4v1.7h-2.4zM78.7 710.3h2.4v1.7h-2.4zM78.7 749.1h2.4v1.7h-2.4zM81.1 711.9h2.4v1.7h-2.4zM81.1 716.7h2.4v1.7h-2.4zM81.1 737.8h2.4v1.7h-2.4zM81.1 744.3h2.4v1.7h-2.4zM81.1 747.5h2.4v1.7h-2.4zM83.5 690.8h2.4v1.7h-2.4zM83.5 700.5h2.4v1.7h-2.4zM83.5 716.7h2.4v1.7h-2.4zM83.5 737.8h2.4v1.7h-2.4zM85.8 698.9h2.4v1.7h-2.4zM88.2 692.4h2.4v1.7h-2.4zM88.2 723.2h2.4v1.7h-2.4zM88.2 732.9h2.4v1.7h-2.4zM88.2 739.4h2.4v1.7h-2.4zM90.5 703.8h2.4v1.7h-2.4zM90.5 708.6h2.4v1.7h-2.4zM90.5 710.3h2.4v1.7h-2.4zM90.5 734.6h2.4v1.7h-2.4zM90.5 744.3h2.4v1.7h-2.4zM92.8 695.7h2.4v1.7h-2.4zM92.8 713.5h2.4v1.7h-2.4zM92.8 721.6h2.4v1.7h-2.4zM92.8 737.8h2.4v1.7h-2.4zM92.8 742.7h2.4v1.7h-2.4zM92.8 744.3h2.4v1.7h-2.4zM92.8 745.9h2.4v1.7h-2.4zM95.1 708.6h2.4v1.7h-2.4zM95.1 723.2h2.4v1.7h-2.4zM97.5 723.2h2.4v1.7h-2.4zM97.5 742.7h2.4v1.7h-2.4zM99.8 705.4h2.4v1.7h-2.4zM99.8 723.2h2.4v1.7h-2.4zM102.1 692.4h2.4v1.7h-2.4zM102.1 718.4h2.4v1.7h-2.4zM102.1 739.4h2.4v1.7h-2.4zM104.4 694.1h2.4v1.7h-2.4zM104.4 695.7h2.4v1.7h-2.4zM104.4 697.3h2.4v1.7h-2.4zM104.4 700.5h2.4v1.7h-2.4zM104.4 705.4h2.4v1.7h-2.4zM104.4 710.3h2.4v1.7h-2.4zM104.4 726.5h2.4v1.7h-2.4zM104.4 731.3h2.4v1.7h-2.4zM104.4 747.5h2.4v1.7h-2.4zM109.1 692.4h2.4v1.7h-2.4zM109.1 694.1h2.4v1.7h-2.4zM109.1 698.9h2.4v1.7h-2.4zM109.1 703.8h2.4v1.7h-2.4zM109.1 713.5h2.4v1.7h-2.4zM109.1 716.7h2.4v1.7h-2.4zM111.5 698.9h2.4v1.7h-2.4zM111.5 728.1h2.4v1.7h-2.4zM113.8 689.2h2.4v1.7h-2.4zM113.8 692.4h2.4v1.7h-2.4zM113.8 695.7h2.4v1.7h-2.4zM113.8 707.0h2.4v1.7h-2.4zM113.8 711.9h2.4v1.7h-2.4zM113.8 716.7h2.4v1.7h-2.4zM113.8 749.1h2.4v1.7h-2.4zM116.2 700.5h2.4v1.7h-2.4zM116.2 711.9h2.4v1.7h-2.4zM116.2 737.8h2.4v1.7h-2.4zM116.2 745.9h2.4v1.7h-2.4zM116.2 749.1h2.4v1.7h-2.4zM118.6 694.1h2.4v1.7h-2.4zM118.6 703.8h2.4v1.7h-2.4zM118.6 716.7h2.4v1.7h-2.4zM118.6 742.7h2.4v1.7h-2.4zM118.6 750.8h2.4v1.1h-2.4zM121.0 716.7h2.4v1.7h-2.4zM121.0 732.9h2.4v1.7h-2.4zM123.3 689.2h2.4v1.7h-2.4zM123.3 692.4h2.4v1.7h-2.4zM123.3 698.9h2.4v1.7h-2.4zM123.3 742.7h2.4v1.7h-2.4zM125.7 692.4h2.4v1.7h-2.4zM125.7 698.9h2.4v1.7h-2.4zM125.7 713.5h2.4v1.7h-2.4zM125.7 723.2h2.4v1.7h-2.4zM125.7 729.7h2.4v1.7h-2.4zM125.7 737.8h2.4v1.7h-2.4zM130.4 692.4h2.4v1.7h-2.4zM130.4 702.2h2.4v1.7h-2.4zM130.4 732.9h2.4v1.7h-2.4zM132.8 720.0h2.4v1.7h-2.4zM132.8 723.2h2.4v1.7h-2.4zM132.8 744.3h2.4v1.7h-2.4zM135.1 690.8h2.4v1.7h-2.4zM135.1 708.6h2.4v1.7h-2.4zM135.1 710.3h2.4v1.7h-2.4zM135.1 713.5h2.4v1.7h-2.4zM135.1 747.5h2.4v1.7h-2.4zM139.8 721.6h2.4v1.7h-2.4zM142.1 697.3h2.4v1.7h-2.4zM142.1 721.6h2.4v1.7h-2.4zM142.1 726.5h2.4v1.7h-2.4zM142.1 728.1h2.4v1.7h-2.4zM144.4 697.3h2.4v1.7h-2.4zM144.4 713.5h2.4v1.7h-2.4zM144.4 715.1h2.4v1.7h-2.4zM144.4 721.6h2.4v1.7h-2.4zM144.4 734.6h2.4v1.7h-2.4zM146.7 715.1h2.4v1.7h-2.4zM146.7 723.2h2.4v1.7h-2.4zM146.7 734.6h2.4v1.7h-2.4zM146.7 736.2h2.4v1.7h-2.4zM146.7 739.4h2.4v1.7h-2.4zM146.7 744.3h2.4v1.7h-2.4zM146.7 750.8h2.4v1.1h-2.4zM149.1 689.2h2.4v1.7h-2.4zM149.1 695.7h2.4v1.7h-2.4zM149.1 700.5h2.4v1.7h-2.4zM149.1 721.6h2.4v1.7h-2.4zM149.1 732.9h2.4v1.7h-2.4zM151.4 702.2h2.4v1.7h-2.4zM151.4 710.3h2.4v1.7h-2.4zM151.4 715.1h2.4v1.7h-2.4zM151.4 721.6h2.4v1.7h-2.4zM151.4 728.1h2.4v1.7h-2.4zM151.4 745.9h2.4v1.7h-2.4z"/>
<path fill="#8ca6d8" d="M12.8 630.9h2.4v1.7h-2.4zM12.8 669.8h2.4v1.7h-2.4zM12.8 679.5h2.4v1.7h-2.4zM15.1 689.2h2.4v1.7h-2.4zM15.1 723.2h2.4v1.7h-2.4zM17.5 679.5h2.4v1.7h-2.4zM19.8 640.6h2.4v1.7h-2.4zM19.8 744.3h2.4v1.7h-2.4zM22.2 630.9h2.4v1.7h-2.4zM24.5 660.0h2.4v1.7h-2.4zM24.5 663.3h2.4v1.7h-2.4zM24.5 664.9h2.4v1.7h-2.4zM24.5 697.3h2.4v1.7h-2.4zM24.5 708.6h2.4v1.7h-2.4zM26.8 663.3h2.4v1.7h-2.4zM26.8 720.0h2.4v1.7h-2.4zM29.2 613.1h2.4v1.7h-2.4zM29.2 677.9h2.4v1.7h-2.4zM31.5 710.3h2.4v1.7h-2.4zM31.5 716.7h2.4v1.7h-2.4zM36.2 616.3h2.4v1.7h-2.4zM40.9 630.9h2.4v1.7h-2.4zM40.9 723.2h2.4v1.7h-2.4zM40.9 724.8h2.4v1.7h-2.4zM43.2 627.6h2.4v1.7h-2.4zM43.2 632.5h2.4v1.7h-2.4zM45.5 679.5h2.4v1.7h-2.4zM45.5 720.0h2.4v1.7h-2.4zM45.5 741.0h2.4v1.7h-2.4zM47.9 634.1h2.4v1.7h-2.4zM50.2 626.0h2.4v1.7h-2.4zM50.2 630.9h2.4v1.7h-2.4zM50.2 660.0h2.4v1.7h-2.4zM52.6 660.0h2.4v1.7h-2.4zM52.6 692.4h2.4v1.7h-2.4zM52.6 710.3h2.4v1.7h-2.4zM55.0 647.1h2.4v1.7h-2.4zM57.3 626.0h2.4v1.7h-2.4zM57.3 669.8h2.4v1.7h-2.4zM57.3 687.6h2.4v1.7h-2.4zM59.7 608.2h2.4v1.7h-2.4zM59.7 626.0h2.4v1.7h-2.4zM59.7 648.7h2.4v1.7h-2.4zM59.7 721.6h2.4v1.7h-2.4zM62.1 687.6h2.4v1.7h-2.4zM62.1 708.6h2.4v1.7h-2.4zM64.5 664.9h2.4v1.7h-2.4zM64.5 668.1h2.4v1.7h-2.4zM64.5 676.2h2.4v1.7h-2.4zM66.8 619.5h2.4v1.7h-2.4zM66.8 630.9h2.4v1.7h-2.4zM66.8 724.8h2.4v1.7h-2.4zM69.2 692.4h2.4v1.7h-2.4zM69.2 707.0h2.4v1.7h-2.4zM71.6 705.4h2.4v1.7h-2.4zM71.6 707.0h2.4v1.7h-2.4zM74.0 728.1h2.4v1.7h-2.4zM78.7 695.7h2.4v1.7h-2.4zM78.7 726.5h2.4v1.7h-2.4zM78.7 744.3h2.4v1.7h-2.4zM81.1 726.5h2.4v1.7h-2.4zM81.1 728.1h2.4v1.7h-2.4zM81.1 729.7h2.4v1.7h-2.4zM81.1 749.1h2.4v1.7h-2.4zM83.5 689.2h2.4v1.7h-2.4zM83.5 710.3h2.4v1.7h-2.4zM83.5 729.7h2.4v1.7h-2.4zM83.5 732.9h2.4v1.7h-2.4zM85.8 689.2h2.4v1.7h-2.4zM85.8 707.0h2.4v1.7h-2.4zM85.8 710.3h2.4v1.7h-2.4zM88.2 702.2h2.4v1.7h-2.4zM88.2 710.3h2.4v1.7h-2.4zM88.2 715.1h2.4v1.7h-2.4zM88.2 721.6h2.4v1.7h-2.4zM88.2 729.7h2.4v1.7h-2.4zM88.2 736.2h2.4v1.7h-2.4zM88.2 741.0h2.4v1.7h-2.4zM90.5 713.5h2.4v1.7h-2.4zM90.5 716.7h2.4v1.7h-2.4zM90.5 723.2h2.4v1.7h-2.4zM90.5 726.5h2.4v1.7h-2.4zM90.5 728.1h2.4v1.7h-2.4zM90.5 737.8h2.4v1.7h-2.4zM92.8 692.4h2.4v1.7h-2.4zM92.8 700.5h2.4v1.7h-2.4zM92.8 708.6h2.4v1.7h-2.4zM92.8 710.3h2.4v1.7h-2.4zM92.8 716.7h2.4v1.7h-2.4zM95.1 690.8h2.4v1.7h-2.4zM95.1 744.3h2.4v1.7h-2.4zM97.5 694.1h2.4v1.7h-2.4zM97.5 700.5h2.4v1.7h-2.4zM97.5 713.5h2.4v1.7h-2.4zM97.5 721.6h2.4v1.7h-2.4zM99.8 608.2h2.4v1.7h-2.4zM99.8 697.3h2.4v1.7h-2.4zM99.8 702.2h2.4v1.7h-2.4zM99.8 721.6h2.4v1.7h-2.4zM99.8 745.9h2.4v1.7h-2.4zM99.8 750.8h2.4v1.1h-2.4zM102.1 700.5h2.4v1.7h-2.4zM102.1 710.3h2.4v1.7h-2.4zM102.1 711.9h2.4v1.7h-2.4zM102.1 713.5h2.4v1.7h-2.4zM102.1 723.2h2.4v1.7h-2.4zM104.4 613.1h2.4v1.7h-2.4zM104.4 703.8h2.4v1.7h-2.4zM104.4 707.0h2.4v1.7h-2.4zM104.4 716.7h2.4v1.7h-2.4zM104.4 721.6h2.4v1.7h-2.4zM104.4 750.8h2.4v1.1h-2.4zM109.1 705.4h2.4v1.7h-2.4zM109.1 728.1h2.4v1.7h-2.4zM111.5 689.2h2.4v1.7h-2.4zM111.5 708.6h2.4v1.7h-2.4zM111.5 726.5h2.4v1.7h-2.4zM111.5 731.3h2.4v1.7h-2.4zM111.5 747.5h2.4v1.7h-2.4zM113.8 729.7h2.4v1.7h-2.4zM113.8 750.8h2.4v1.1h-2.4zM116.2 690.8h2.4v1.7h-2.4zM116.2 692.4h2.4v1.7h-2.4zM116.2 742.7h2.4v1.7h-2.4zM116.2 750.8h2.4v1.1h-2.4zM118.6 711.9h2.4v1.7h-2.4zM118.6 734.6h2.4v1.7h-2.4zM121.0 694.1h2.4v1.7h-2.4zM121.0 707.0h2.4v1.7h-2.4zM121.0 711.9h2.4v1.7h-2.4zM121.0 713.5h2.4v1.7h-2.4zM121.0 731.3h2.4v1.7h-2.4zM121.0 739.4h2.4v1.7h-2.4zM121.0 749.1h2.4v1.7h-2.4zM123.3 694.1h2.4v1.7h-2.4zM123.3 700.5h2.4v1.7h-2.4zM123.3 703.8h2.4v1.7h-2.4zM123.3 710.3h2.4v1.7h-2.4zM123.3 731.3h2.4v1.7h-2.4zM123.3 732.9h2.4v1.7h-2.4zM123.3 737.8h2.4v1.7h-2.4zM123.3 750.8h2.4v1.1h-2.4zM125.7 695.7h2.4v1.7h-2.4zM125.7 697.3h2.4v1.7h-2.4zM125.7 710.3h2.4v1.7h-2.4zM125.7 711.9h2.4v1.7h-2.4zM125.7 716.7h2.4v1.7h-2.4zM125.7 726.5h2.4v1.7h-2.4zM125.7 732.9h2.4v1.7h-2.4zM128.1 747.5h2.4v1.7h-2.4zM128.1 750.8h2.4v1.1h-2.4zM130.4 694.1h2.4v1.7h-2.4zM130.4 711.9h2.4v1.7h-2.4zM130.4 728.1h2.4v1.7h-2.4zM135.1 698.9h2.4v1.7h-2.4zM135.1 707.0h2.4v1.7h-2.4zM135.1 729.7h2.4v1.7h-2.4zM135.1 739.4h2.4v1.7h-2.4zM135.1 744.3h2.4v1.7h-2.4zM135.1 745.9h2.4v1.7h-2.4zM137.4 692.4h2.4v1.7h-2.4zM139.8 694.1h2.4v1.7h-2.4zM139.8 711.9h2.4v1.7h-2.4zM139.8 731.3h2.4v1.7h-2.4zM139.8 734.6h2.4v1.7h-2.4zM139.8 750.8h2.4v1.1h-2.4zM142.1 671.4h2.4v1.7h-2.4zM142.1 694.1h2.4v1.7h-2.4zM142.1 702.2h2.4v1.7h-2.4zM142.1 718.4h2.4v1.7h-2.4zM142.1 729.7h2.4v1.7h-2.4zM142.1 732.9h2.4v1.7h-2.4zM142.1 734.6h2.4v1.7h-2.4zM142.1 737.8h2.4v1.7h-2.4zM144.4 689.2h2.4v1.7h-2.4zM144.4 694.1h2.4v1.7h-2.4zM144.4 708.6h2.4v1.7h-2.4zM144.4 736.2h2.4v1.7h-2.4zM144.4 742.7h2.4v1.7h-2.4zM146.7 689.2h2.4v1.7h-2.4zM146.7 737.8h2.4v1.7h-2.4zM146.7 742.7h2.4v1.7h-2.4zM149.1 697.3h2.4v1.7h-2.4zM149.1 705.4h2.4v1.7h-2.4zM149.1 708.6h2.4v1.7h-2.4zM149.1 711.9h2.4v1.7h-2.4zM149.1 728.1h2.4v1.7h-2.4zM149.1 734.6h2.4v1.7h-2.4zM149.1 745.9h2.4v1.7h-2.4zM151.4 697.3h2.4v1.7h-2.4zM151.4 703.8h2.4v1.7h-2.4zM151.4 734.6h2.4v1.7h-2.4z"/>
<path fill="#a2b6df" d="M12.8 694.1h2.4v1.7h-2.4zM12.8 713.5h2.4v1.7h-2.4zM12.8 720.0h2.4v1.7h-2.4zM12.8 728.1h2.4v1.7h-2.4zM12.8 741.0h2.4v1.7h-2.4zM15.1 622.8h2.4v1.7h-2.4zM15.1 627.6h2.4v1.7h-2.4zM15.1 630.9h2.4v1.7h-2.4zM15.1 637.4h2.4v1.7h-2.4zM15.1 663.3h2.4v1.7h-2.4zM15.1 697.3h2.4v1.7h-2.4zM15.1 721.6h2.4v1.7h-2.4zM17.5 658.4h2.4v1.7h-2.4zM17.5 723.2h2.4v1.7h-2.4zM17.5 737.8h2.4v1.7h-2.4zM19.8 664.9h2.4v1.7h-2.4zM19.8 720.0h2.4v1.7h-2.4zM19.8 724.8h2.4v1.7h-2.4zM22.2 656.8h2.4v1.7h-2.4zM22.2 724.8h2.4v1.7h-2.4zM22.2 744.3h2.4v1.7h-2.4zM24.5 630.9h2.4v1.7h-2.4zM24.5 658.4h2.4v1.7h-2.4zM24.5 720.0h2.4v1.7h-2.4zM26.8 655.2h2.4v1.7h-2.4zM26.8 676.2h2.4v1.7h-2.4zM26.8 684.3h2.4v1.7h-2.4zM26.8 687.6h2.4v1.7h-2.4zM26.8 689.2h2.4v1.7h-2.4zM26.8 729.7h2.4v1.7h-2.4zM29.2 616.3h2.4v1.7h-2.4zM29.2 624.4h2.4v1.7h-2.4zM29.2 626.0h2.4v1.7h-2.4zM29.2 660.0h2.4v1.7h-2.4zM29.2 682.7h2.4v1.7h-2.4zM29.2 684.3h2.4v1.7h-2.4zM29.2 710.3h2.4v1.7h-2.4zM29.2 715.1h2.4v1.7h-2.4zM29.2 716.7h2.4v1.7h-2.4zM29.2 729.7h2.4v1.7h-2.4zM29.2 741.0h2.4v1.7h-2.4zM31.5 705.4h2.4v1.7h-2.4zM33.8 645.5h2.4v1.7h-2.4zM33.8 663.3h2.4v1.7h-2.4zM33.8 682.7h2.4v1.7h-2.4zM33.8 684.3h2.4v1.7h-2.4zM33.8 702.2h2.4v1.7h-2.4zM33.8 718.4h2.4v1.7h-2.4zM36.2 632.5h2.4v1.7h-2.4zM36.2 647.1h2.4v1.7h-2.4zM36.2 671.4h2.4v1.7h-2.4zM36.2 698.9h2.4v1.7h-2.4zM36.2 716.7h2.4v1.7h-2.4zM38.5 616.3h2.4v1.7h-2.4zM38.5 689.2h2.4v1.7h-2.4zM38.5 710.3h2.4v1.7h-2.4zM38.5 721.6h2.4v1.7h-2.4zM38.5 723.2h2.4v1.7h-2.4zM40.9 642.2h2.4v1.7h-2.4zM40.9 651.9h2.4v1.7h-2.4zM40.9 671.4h2.4v1.7h-2.4zM43.2 635.7h2.4v1.7h-2.4zM43.2 645.5h2.4v1.7h-2.4zM43.2 658.4h2.4v1.7h-2.4zM45.5 608.2h2.4v1.7h-2.4zM45.5 669.8h2.4v1.7h-2.4zM45.5 721.6h2.4v1.7h-2.4zM45.5 723.2h2.4v1.7h-2.4zM45.5 734.6h2.4v1.7h-2.4zM47.9 630.9h2.4v1.7h-2.4zM47.9 703.8h2.4v1.7h-2.4zM47.9 729.7h2.4v1.7h-2.4zM50.2 632.5h2.4v1.7h-2.4zM50.2 637.4h2.4v1.7h-2.4zM50.2 653.6h2.4v1.7h-2.4zM50.2 666.5h2.4v1.7h-2.4zM50.2 676.2h2.4v1.7h-2.4zM50.2 721.6h2.4v1.7h-2.4zM52.6 614.7h2.4v1.7h-2.4zM52.6 629.3h2.4v1.7h-2.4zM52.6 637.4h2.4v1.7h-2.4zM52.6 663.3h2.4v1.7h-2.4zM52.6 669.8h2.4v1.7h-2.4zM55.0 616.3h2.4v1.7h-2.4zM55.0 624.4h2.4v1.7h-2.4zM55.0 627.6h2.4v1.7h-2.4zM55.0 651.9h2.4v1.7h-2.4zM55.0 669.8h2.4v1.7h-2.4zM55.0 674.6h2.4v1.7h-2.4zM57.3 613.1h2.4v1.7h-2.4zM57.3 627.6h2.4v1.7h-2.4zM57.3 632.5h2.4v1.7h-2.4zM57.3 655.2h2.4v1.7h-2.4zM57.3 663.3h2.4v1.7h-2.4zM57.3 674.6h2.4v1.7h-2.4zM57.3 682.7h2.4v1.7h-2.4zM57.3 710.3h2.4v1.7h-2.4zM57.3 724.8h2.4v1.7h-2.4zM59.7 609.8h2.4v1.7h-2.4zM59.7 634.1h2.4v1.7h-2.4zM59.7 651.9h2.4v1.7h-2.4zM59.7 674.6h2.4v1.7h-2.4zM62.1 622.8h2.4v1.7h-2.4zM62.1 663.3h2.4v1.7h-2.4zM62.1 664.9h2.4v1.7h-2.4zM62.1 681.1h2.4v1.7h-2.4zM62.1 692.4h2.4v1.7h-2.4zM62.1 734.6h2.4v1.7h-2.4zM64.5 642.2h2.4v1.7h-2.4zM64.5 645.5h2.4v1.7h-2.4zM64.5 663.3h2.4v1.7h-2.4zM64.5 720.0h2.4v1.7h-2.4zM66.8 622.8h2.4v1.7h-2.4zM66.8 645.5h2.4v1.7h-2.4zM69.2 739.4h2.4v1.7h-2.4zM69.2 749.1h2.4v1.7h-2.4zM71.6 726.5h2.4v1.7h-2.4zM71.6 739.4h2.4v1.7h-2.4zM76.3 731.3h2.4v1.7h-2.4zM78.7 694.1h2.4v1.7h-2.4zM78.7 747.5h2.4v1.7h-2.4zM81.1 694.1h2.4v1.7h-2.4zM81.1 750.8h2.4v1.1h-2.4zM83.5 707.0h2.4v1.7h-2.4zM85.8 705.4h2.4v1.7h-2.4zM85.8 732.9h2.4v1.7h-2.4zM85.8 739.4h2.4v1.7h-2.4zM88.2 690.8h2.4v1.7h-2.4zM88.2 705.4h2.4v1.7h-2.4zM88.2 707.0h2.4v1.7h-2.4zM88.2 720.0h2.4v1.7h-2.4zM88.2 724.8h2.4v1.7h-2.4zM90.5 692.4h2.4v1.7h-2.4zM90.5 694.1h2.4v1.7h-2.4zM90.5 721.6h2.4v1.7h-2.4zM90.5 745.9h2.4v1.7h-2.4zM92.8 690.8h2.4v1.7h-2.4zM92.8 697.3h2.4v1.7h-2.4zM92.8 707.0h2.4v1.7h-2.4zM92.8 711.9h2.4v1.7h-2.4zM92.8 718.4h2.4v1.7h-2.4zM92.8 734.6h2.4v1.7h-2.4zM92.8 741.0h2.4v1.7h-2.4zM92.8 749.1h2.4v1.7h-2.4zM95.1 702.2h2.4v1.7h-2.4zM95.1 703.8h2.4v1.7h-2.4zM95.1 720.0h2.4v1.7h-2.4zM95.1 732.9h2.4v1.7h-2.4zM95.1 734.6h2.4v1.7h-2.4zM97.5 608.2h2.4v1.7h-2.4zM97.5 705.4h2.4v1.7h-2.4zM97.5 715.1h2.4v1.7h-2.4zM97.5 728.1h2.4v1.7h-2.4zM99.8 695.7h2.4v1.7h-2.4zM99.8 698.9h2.4v1.7h-2.4zM99.8 700.5h2.4v1.7h-2.4zM99.8 703.8h2.4v1.7h-2.4zM99.8 713.5h2.4v1.7h-2.4zM99.8 715.1h2.4v1.7h-2.4zM99.8 716.7h2.4v1.7h-2.4zM99.8 724.8h2.4v1.7h-2.4zM99.8 732.9h2.4v1.7h-2.4zM99.8 737.8h2.4v1.7h-2.4zM99.8 742.7h2.4v1.7h-2.4zM102.1 716.7h2.4v1.7h-2.4zM102.1 726.5h2.4v1.7h-2.4zM104.4 608.2h2.4v1.7h-2.4zM104.4 616.3h2.4v1.7h-2.4zM104.4 728.1h2.4v1.7h-2.4zM109.1 690.8h2.4v1.7h-2.4zM109.1 710.3h2.4v1.7h-2.4zM109.1 726.5h2.4v1.7h-2.4zM109.1 729.7h2.4v1.7h-2.4zM109.1 737.8h2.4v1.7h-2.4zM109.1 745.9h2.4v1.7h-2.4zM111.5 707.0h2.4v1.7h-2.4zM111.5 711.9h2.4v1.7h-2.4zM111.5 739.4h2.4v1.7h-2.4zM113.8 710.3h2.4v1.7h-2.4zM116.2 689.2h2.4v1.7h-2.4zM116.2 705.4h2.4v1.7h-2.4zM116.2 708.6h2.4v1.7h-2.4zM116.2 731.3h2.4v1.7h-2.4zM116.2 739.4h2.4v1.7h-2.4zM116.2 747.5h2.4v1.7h-2.4zM118.6 747.5h2.4v1.7h-2.4zM118.6 749.1h2.4v1.7h-2.4zM121.0 736.2h2.4v1.7h-2.4zM123.3 728.1h2.4v1.7h-2.4zM125.7 728.1h2.4v1.7h-2.4zM125.7 750.8h2.4v1.1h-2.4zM130.4 689.2h2.4v1.7h-2.4zM130.4 700.5h2.4v1.7h-2.4zM130.4 715.1h2.4v1.7h-2.4zM130.4 721.6h2.4v1.7h-2.4zM130.4 739.4h2.4v1.7h-2.4zM130.4 745.9h2.4v1.7h-2.4zM130.4 747.5h2.4v1.7h-2.4zM132.8 692.4h2.4v1.7h-2.4zM132.8 734.6h2.4v1.7h-2.4zM132.8 736.2h2.4v1.7h-2.4zM135.1 671.4h2.4v1.7h-2.4zM135.1 689.2h2.4v1.7h-2.4zM135.1 692.4h2.4v1.7h-2.4zM135.1 732.9h2.4v1.7h-2.4zM135.1 750.8h2.4v1.1h-2.4zM137.4 708.6h2.4v1.7h-2.4zM137.4 716.7h2.4v1.7h-2.4zM137.4 718.4h2.4v1.7h-2.4zM137.4 747.5h2.4v1.7h-2.4zM139.8 708.6h2.4v1.7h-2.4zM139.8 713.5h2.4v1.7h-2.4zM139.8 728.1h2.4v1.7h-2.4zM139.8 732.9h2.4v1.7h-2.4zM142.1 613.1h2.4v1.7h-2.4zM142.1 700.5h2.4v1.7h-2.4zM142.1 711.9h2.4v1.7h-2.4zM142.1 716.7h2.4v1.7h-2.4zM142.1 744.3h2.4v1.7h-2.4zM142.1 745.9h2.4v1.7h-2.4zM142.1 749.1h2.4v1.7h-2.4zM144.4 698.9h2.4v1.7h-2.4zM144.4 710.3h2.4v1.7h-2.4zM144.4 711.9h2.4v1.7h-2.4zM144.4 718.4h2.4v1.7h-2.4zM144.4 732.9h2.4v1.7h-2.4zM144.4 744.3h2.4v1.7h-2.4zM146.7 690.8h2.4v1.7h-2.4zM146.7 694.1h2.4v1.7h-2.4zM146.7 695.7h2.4v1.7h-2.4zM146.7 708.6h2.4v1.7h-2.4zM146.7 711.9h2.4v1.7h-2.4zM146.7 716.7h2.4v1.7h-2.4zM149.1 698.9h2.4v1.7h-2.4zM149.1 703.8h2.4v1.7h-2.4zM149.1 707.0h2.4v1.7h-2.4zM149.1 729.7h2.4v1.7h-2.4zM149.1 742.7h2.4v1.7h-2.4zM151.4 694.1h2.4v1.7h-2.4zM151.4 705.4h2.4v1.7h-2.4zM151.4 718.4h2.4v1.7h-2.4zM151.4 731.3h2.4v1.7h-2.4zM151.4 732.9h2.4v1.7h-2.4z"/>
<path fill="#b7c6e5" d="M12.8 608.2h2.4v1.7h-2.4zM12.8 632.5h2.4v1.7h-2.4zM12.8 651.9h2.4v1.7h-2.4zM12.8 700.5h2.4v1.7h-2.4zM12.8 703.8h2.4v1.7h-2.4zM12.8 732.9h2.4v1.7h-2.4zM12.8 734.6h2.4v1.7h-2.4zM12.8 739.4h2.4v1.7h-2.4zM12.8 745.9h2.4v1.7h-2.4zM15.1 613.1h2.4v1.7h-2.4zM15.1 626.0h2.4v1.7h-2.4zM15.1 629.3h2.4v1.7h-2.4zM15.1 632.5h2.4v1.7h-2.4zM15.1 660.0h2.4v1.7h-2.4zM15.1 664.9h2.4v1.7h-2.4zM15.1 690.8h2.4v1.7h-2.4zM15.1 702.2h2.4v1.7h-2.4zM15.1 708.6h2.4v1.7h-2.4zM15.1 724.8h2.4v1.7h-2.4zM17.5 637.4h2.4v1.7h-2.4zM17.5 645.5h2.4v1.7h-2.4zM17.5 647.1h2.4v1.7h-2.4zM17.5 673.0h2.4v1.7h-2.4zM17.5 677.9h2.4v1.7h-2.4zM17.5 697.3h2.4v1.7h-2.4zM17.5 705.4h2.4v1.7h-2.4zM17.5 708.6h2.4v1.7h-2.4zM17.5 739.4h2.4v1.7h-2.4zM19.8 617.9h2.4v1.7h-2.4zM19.8 627.6h2.4v1.7h-2.4zM19.8 643.8h2.4v1.7h-2.4zM19.8 708.6h2.4v1.7h-2.4zM19.8 716.7h2.4v1.7h-2.4zM19.8 723.2h2.4v1.7h-2.4zM19.8 729.7h2.4v1.7h-2.4zM22.2 616.3h2.4v1.7h-2.4zM22.2 635.7h2.4v1.7h-2.4zM22.2 663.3h2.4v1.7h-2.4zM22.2 690.8h2.4v1.7h-2.4zM24.5 613.1h2.4v1.7h-2.4zM24.5 651.9h2.4v1.7h-2.4zM24.5 687.6h2.4v1.7h-2.4zM24.5 723.2h2.4v1.7h-2.4zM24.5 741.0h2.4v1.7h-2.4zM26.8 632.5h2.4v1.7h-2.4zM26.8 658.4h2.4v1.7h-2.4zM26.8 697.3h2.4v1.7h-2.4zM26.8 705.4h2.4v1.7h-2.4zM26.8 724.8h2.4v1.7h-2.4zM26.8 726.5h2.4v1.7h-2.4zM26.8 749.1h2.4v1.7h-2.4zM29.2 639.0h2.4v1.7h-2.4zM29.2 642.2h2.4v1.7h-2.4zM29.2 643.8h2.4v1.7h-2.4zM29.2 666.5h2.4v1.7h-2.4zM29.2 690.8h2.4v1.7h-2.4zM29.2 707.0h2.4v1.7h-2.4zM29.2 713.5h2.4v1.7h-2.4zM29.2 724.8h2.4v1.7h-2.4zM29.2 734.6h2.4v1.7h-2.4zM31.5 621.2h2.4v1.7h-2.4zM31.5 626.0h2.4v1.7h-2.4zM31.5 632.5h2.4v1.7h-2.4zM31.5 650.3h2.4v1.7h-2.4zM31.5 676.2h2.4v1.7h-2.4zM31.5 689.2h2.4v1.7h-2.4zM31.5 692.4h2.4v1.7h-2.4zM31.5 697.3h2.4v1.7h-2.4zM31.5 745.9h2.4v1.7h-2.4zM33.8 624.4h2.4v1.7h-2.4zM33.8 666.5h2.4v1.7h-2.4zM33.8 711.9h2.4v1.7h-2.4zM33.8 742.7h2.4v1.7h-2.4zM33.8 744.3h2.4v1.7h-2.4zM36.2 622.8h2.4v1.7h-2.4zM36.2 651.9h2.4v1.7h-2.4zM36.2 697.3h2.4v1.7h-2.4zM36.2 705.4h2.4v1.7h-2.4zM36.2 713.5h2.4v1.7h-2.4zM36.2 729.7h2.4v1.7h-2.4zM36.2 736.2h2.4v1.7h-2.4zM36.2 742.7h2.4v1.7h-2.4zM38.5 608.2h2.4v1.7h-2.4zM38.5 645.5h2.4v1.7h-2.4zM38.5 664.9h2.4v1.7h-2.4zM38.5 671.4h2.4v1.7h-2.4zM38.5 681.1h2.4v1.7h-2.4zM38.5 692.4h2.4v1.7h-2.4zM38.5 703.8h2.4v1.7h-2.4zM38.5 741.0h2.4v1.7h-2.4zM38.5 749.1h2.4v1.7h-2.4zM40.9 619.5h2.4v1.7h-2.4zM40.9 629.3h2.4v1.7h-2.4zM40.9 681.1h2.4v1.7h-2.4zM40.9 690.8h2.4v1.7h-2.4zM40.9 692.4h2.4v1.7h-2.4zM40.9 695.7h2.4v1.7h-2.4zM40.9 729.7h2.4v1.7h-2.4zM43.2 616.3h2.4v1.7h-2.4zM43.2 630.9h2.4v1.7h-2.4zM43.2 642.2h2.4v1.7h-2.4zM43.2 648.7h2.4v1.7h-2.4zM43.2 708.6h2.4v1.7h-2.4zM43.2 734.6h2.4v1.7h-2.4zM43.2 749.1h2.4v1.7h-2.4zM45.5 642.2h2.4v1.7h-2.4zM45.5 650.3h2.4v1.7h-2.4zM45.5 663.3h2.4v1.7h-2.4zM45.5 716.7h2.4v1.7h-2.4zM45.5 749.1h2.4v1.7h-2.4zM47.9 613.1h2.4v1.7h-2.4zM47.9 700.5h2.4v1.7h-2.4zM47.9 708.6h2.4v1.7h-2.4zM47.9 737.8h2.4v1.7h-2.4zM50.2 643.8h2.4v1.7h-2.4zM50.2 655.2h2.4v1.7h-2.4zM50.2 663.3h2.4v1.7h-2.4zM50.2 708.6h2.4v1.7h-2.4zM50.2 710.3h2.4v1.7h-2.4zM50.2 724.8h2.4v1.7h-2.4zM52.6 608.2h2.4v1.7h-2.4zM52.6 627.6h2.4v1.7h-2.4zM52.6 642.2h2.4v1.7h-2.4zM52.6 651.9h2.4v1.7h-2.4zM52.6 653.6h2.4v1.7h-2.4zM52.6 656.8h2.4v1.7h-2.4zM52.6 661.7h2.4v1.7h-2.4zM52.6 666.5h2.4v1.7h-2.4zM52.6 676.2h2.4v1.7h-2.4zM55.0 663.3h2.4v1.7h-2.4zM55.0 664.9h2.4v1.7h-2.4zM55.0 671.4h2.4v1.7h-2.4zM55.0 681.1h2.4v1.7h-2.4zM55.0 682.7h2.4v1.7h-2.4zM55.0 697.3h2.4v1.7h-2.4zM55.0 710.3h2.4v1.7h-2.4zM55.0 711.9h2.4v1.7h-2.4zM55.0 720.0h2.4v1.7h-2.4zM55.0 737.8h2.4v1.7h-2.4zM57.3 629.3h2.4v1.7h-2.4zM57.3 630.9h2.4v1.7h-2.4zM57.3 642.2h2.4v1.7h-2.4zM57.3 643.8h2.4v1.7h-2.4zM57.3 671.4h2.4v1.7h-2.4zM57.3 708.6h2.4v1.7h-2.4zM57.3 718.4h2.4v1.7h-2.4zM57.3 720.0h2.4v1.7h-2.4zM57.3 736.2h2.4v1.7h-2.4zM57.3 744.3h2.4v1.7h-2.4zM59.7 613.1h2.4v1.7h-2.4zM59.7 617.9h2.4v1.7h-2.4zM59.7 637.4h2.4v1.7h-2.4zM59.7 668.1h2.4v1.7h-2.4zM59.7 671.4h2.4v1.7h-2.4zM59.7 676.2h2.4v1.7h-2.4zM59.7 684.3h2.4v1.7h-2.4zM59.7 687.6h2.4v1.7h-2.4zM59.7 690.8h2.4v1.7h-2.4zM59.7 697.3h2.4v1.7h-2.4zM59.7 729.7h2.4v1.7h-2.4zM59.7 736.2h2.4v1.7h-2.4zM62.1 629.3h2.4v1.7h-2.4zM62.1 655.2h2.4v1.7h-2.4zM62.1 658.4h2.4v1.7h-2.4zM62.1 677.9h2.4v1.7h-2.4zM62.1 718.4h2.4v1.7h-2.4zM64.5 608.2h2.4v1.7h-2.4zM64.5 616.3h2.4v1.7h-2.4zM64.5 622.8h2.4v1.7h-2.4zM64.5 632.5h2.4v1.7h-2.4zM64.5 635.7h2.4v1.7h-2.4zM64.5 637.4h2.4v1.7h-2.4zM64.5 653.6h2.4v1.7h-2.4zM64.5 661.7h2.4v1.7h-2.4zM64.5 697.3h2.4v1.7h-2.4zM64.5 716.7h2.4v1.7h-2.4zM64.5 723.2h2.4v1.7h-2.4zM64.5 724.8h2.4v1.7h-2.4zM64.5 728.1h2.4v1.7h-2.4zM66.8 613.1h2.4v1.7h-2.4zM66.8 617.9h2.4v1.7h-2.4zM66.8 624.4h2.4v1.7h-2.4zM66.8 627.6h2.4v1.7h-2.4zM66.8 643.8h2.4v1.7h-2.4zM66.8 656.8h2.4v1.7h-2.4zM66.8 660.0h2.4v1.7h-2.4zM66.8 684.3h2.4v1.7h-2.4zM66.8 723.2h2.4v1.7h-2.4zM66.8 726.5h2.4v1.7h-2.4zM66.8 749.1h2.4v1.7h-2.4zM71.6 731.3h2.4v1.7h-2.4zM76.3 732.9h2.4v1.7h-2.4zM76.3 749.1h2.4v1.7h-2.4zM78.7 739.4h2.4v1.7h-2.4zM81.1 715.1h2.4v1.7h-2.4zM83.5 747.5h2.4v1.7h-2.4zM85.8 703.8h2.4v1.7h-2.4zM85.8 726.5h2.4v1.7h-2.4zM85.8 731.3h2.4v1.7h-2.4zM85.8 747.5h2.4v1.7h-2.4zM85.8 749.1h2.4v1.7h-2.4zM88.2 694.1h2.4v1.7h-2.4zM88.2 698.9h2.4v1.7h-2.4zM88.2 718.4h2.4v1.7h-2.4zM88.2 726.5h2.4v1.7h-2.4zM88.2 734.6h2.4v1.7h-2.4zM88.2 742.7h2.4v1.7h-2.4zM88.2 750.8h2.4v1.1h-2.4zM90.5 616.3h2.4v1.7h-2.4zM90.5 697.3h2.4v1.7h-2.4zM90.5 700.5h2.4v1.7h-2.4zM90.5 705.4h2.4v1.7h-2.4zM90.5 707.0h2.4v1.7h-2.4zM92.8 647.1h2.4v1.7h-2.4zM92.8 715.1h2.4v1.7h-2.4zM92.8 723.2h2.4v1.7h-2.4zM92.8 726.5h2.4v1.7h-2.4zM95.1 689.2h2.4v1.7h-2.4zM95.1 695.7h2.4v1.7h-2.4zM95.1 698.9h2.4v1.7h-2.4zM95.1 713.5h2.4v1.7h-2.4zM95.1 718.4h2.4v1.7h-2.4zM95.1 736.2h2.4v1.7h-2.4zM95.1 741.0h2.4v1.7h-2.4zM95.1 745.9h2.4v1.7h-2.4zM97.5 690.8h2.4v1.7h-2.4zM97.5 695.7h2.4v1.7h-2.4zM97.5 702.2h2.4v1.7h-2.4zM97.5 703.8h2.4v1.7h-2.4zM97.5 718.4h2.4v1.7h-2.4zM97.5 726.5h2.4v1.7h-2.4zM97.5 744.3h2.4v1.7h-2.4zM97.5 745.9h2.4v1.7h-2.4zM97.5 747.5h2.4v1.7h-2.4zM99.8 711.9h2.4v1.7h-2.4zM99.8 736.2h2.4v1.7h-2.4zM102.1 690.8h2.4v1.7h-2.4zM102.1 694.1h2.4v1.7h-2.4zM102.1 697.3h2.4v1.7h-2.4zM102.1 702.2h2.4v1.7h-2.4zM102.1 724.8h2.4v1.7h-2.4zM102.1 741.0h2.4v1.7h-2.4zM102.1 744.3h2.4v1.7h-2.4zM102.1 745.9h2.4v1.7h-2.4zM104.4 622.8h2.4v1.7h-2.4zM104.4 634.1h2.4v1.7h-2.4zM104.4 642.2h2.4v1.7h-2.4zM104.4 671.4h2.4v1.7h-2.4zM104.4 674.6h2.4v1.7h-2.4zM104.4 682.7h2.4v1.7h-2.4zM104.4 711.9h2.4v1.7h-2.4zM104.4 742.7h2.4v1.7h-2.4zM109.1 695.7h2.4v1.7h-2.4zM109.1 702.2h2.4v1.7h-2.4zM109.1 715.1h2.4v1.7h-2.4zM109.1 742.7h2.4v1.7h-2.4zM111.5 700.5h2.4v1.7h-2.4zM113.8 702.2h2.4v1.7h-2.4zM116.2 707.0h2.4v1.7h-2.4zM118.6 705.4h2.4v1.7h-2.4zM118.6 707.0h2.4v1.7h-2.4zM118.6 710.3h2.4v1.7h-2.4zM118.6 721.6h2.4v1.7h-2.4zM118.6 728.1h2.4v1.7h-2.4zM121.0 702.2h2.4v1.7h-2.4zM121.0 750.8h2.4v1.1h-2.4zM123.3 739.4h2.4v1.7h-2.4zM125.7 690.8h2.4v1.7h-2.4zM125.7 707.0h2.4v1.7h-2.4zM130.4 697.3h2.4v1.7h-2.4zM130.4 716.7h2.4v1.7h-2.4zM130.4 726.5h2.4v1.7h-2.4zM130.4 734.6h2.4v1.7h-2.4zM132.8 695.7h2.4v1.7h-2.4zM132.8 716.7h2.4v1.7h-2.4zM132.8 718.4h2.4v1.7h-2.4zM132.8 728.1h2.4v1.7h-2.4zM132.8 742.7h2.4v1.7h-2.4zM135.1 627.6h2.4v1.7h-2.4zM135.1 630.9h2.4v1.7h-2.4zM135.1 695.7h2.4v1.7h-2.4zM135.1 702.2h2.4v1.7h-2.4zM135.1 703.8h2.4v1.7h-2.4zM135.1 705.4h2.4v1.7h-2.4zM135.1 715.1h2.4v1.7h-2.4zM135.1 716.7h2.4v1.7h-2.4zM137.4 728.1h2.4v1.7h-2.4zM137.4 732.9h2.4v1.7h-2.4zM137.4 737.8h2.4v1.7h-2.4zM139.8 616.3h2.4v1.7h-2.4zM139.8 700.5h2.4v1.7h-2.4zM139.8 705.4h2.4v1.7h-2.4zM139.8 715.1h2.4v1.7h-2.4zM142.1 663.3h2.4v1.7h-2.4zM142.1 707.0h2.4v1.7h-2.4zM142.1 739.4h2.4v1.7h-2.4zM142.1 750.8h2.4v1.1h-2.4zM144.4 674.6h2.4v1.7h-2.4zM144.4 702.2h2.4v1.7h-2.4zM144.4 716.7h2.4v1.7h-2.4zM144.4 729.7h2.4v1.7h-2.4zM144.4 731.3h2.4v1.7h-2.4zM144.4 737.8h2.4v1.7h-2.4zM146.7 692.4h2.4v1.7h-2.4zM146.7 703.8h2.4v1.7h-2.4zM146.7 705.4h2.4v1.7h-2.4zM146.7 726.5h2.4v1.7h-2.4zM146.7 729.7h2.4v1.7h-2.4zM146.7 747.5h2.4v1.7h-2.4zM149.1 616.3h2.4v1.7h-2.4zM149.1 702.2h2.4v1.7h-2.4zM149.1 715.1h2.4v1.7h-2.4zM149.1 744.3h2.4v1.7h-2.4zM151.4 637.4h2.4v1.7h-2.4zM151.4 726.5h2.4v1.7h-2.4zM151.4 744.3h2.4v1.7h-2.4zM151.4 747.5h2.4v1.7h-2.4z"/>
<path fill="#cdd6eb" d="M12.8 609.8h2.4v1.7h-2.4zM12.8 617.9h2.4v1.7h-2.4zM12.8 627.6h2.4v1.7h-2.4zM12.8 634.1h2.4v1.7h-2.4zM12.8 645.5h2.4v1.7h-2.4zM12.8 650.3h2.4v1.7h-2.4zM12.8 671.4h2.4v1.7h-2.4zM12.8 673.0h2.4v1.7h-2.4zM12.8 676.2h2.4v1.7h-2.4zM12.8 695.7h2.4v1.7h-2.4zM12.8 702.2h2.4v1.7h-2.4zM12.8 705.4h2.4v1.7h-2.4zM12.8 708.6h2.4v1.7h-2.4zM12.8 715.1h2.4v1.7h-2.4zM12.8 718.4h2.4v1.7h-2.4zM12.8 750.8h2.4v1.1h-2.4zM15.1 614.7h2.4v1.7h-2.4zM15.1 619.5h2.4v1.7h-2.4zM15.1 647.1h2.4v1.7h-2.4zM15.1 671.4h2.4v1.7h-2.4zM15.1 703.8h2.4v1.7h-2.4zM15.1 718.4h2.4v1.7h-2.4zM15.1 720.0h2.4v1.7h-2.4zM15.1 736.2h2.4v1.7h-2.4zM15.1 737.8h2.4v1.7h-2.4zM15.1 744.3h2.4v1.7h-2.4zM17.5 611.4h2.4v1.7h-2.4zM17.5 626.0h2.4v1.7h-2.4zM17.5 634.1h2.4v1.7h-2.4zM17.5 635.7h2.4v1.7h-2.4zM17.5 642.2h2.4v1.7h-2.4zM17.5 653.6h2.4v1.7h-2.4zM17.5 671.4h2.4v1.7h-2.4zM17.5 682.7h2.4v1.7h-2.4zM17.5 729.7h2.4v1.7h-2.4zM17.5 736.2h2.4v1.7h-2.4zM17.5 741.0h2.4v1.7h-2.4zM17.5 744.3h2.4v1.7h-2.4zM19.8 608.2h2.4v1.7h-2.4zM19.8 609.8h2.4v1.7h-2.4zM19.8 616.3h2.4v1.7h-2.4zM19.8 619.5h2.4v1.7h-2.4zM19.8 624.4h2.4v1.7h-2.4zM19.8 629.3h2.4v1.7h-2.4zM19.8 645.5h2.4v1.7h-2.4zM19.8 663.3h2.4v1.7h-2.4zM19.8 674.6h2.4v1.7h-2.4zM19.8 677.9h2.4v1.7h-2.4zM19.8 679.5h2.4v1.7h-2.4zM19.8 702.2h2.4v1.7h-2.4zM19.8 741.0h2.4v1.7h-2.4zM22.2 648.7h2.4v1.7h-2.4zM22.2 660.0h2.4v1.7h-2.4zM22.2 668.1h2.4v1.7h-2.4zM22.2 673.0h2.4v1.7h-2.4zM22.2 676.2h2.4v1.7h-2.4zM22.2 677.9h2.4v1.7h-2.4zM22.2 692.4h2.4v1.7h-2.4zM22.2 708.6h2.4v1.7h-2.4zM22.2 736.2h2.4v1.7h-2.4zM24.5 608.2h2.4v1.7h-2.4zM24.5 622.8h2.4v1.7h-2.4zM24.5 647.1h2.4v1.7h-2.4zM24.5 655.2h2.4v1.7h-2.4zM24.5 668.1h2.4v1.7h-2.4zM24.5 702.2h2.4v1.7h-2.4zM24.5 710.3h2.4v1.7h-2.4zM24.5 713.5h2.4v1.7h-2.4zM24.5 729.7h2.4v1.7h-2.4zM24.5 745.9h2.4v1.7h-2.4zM26.8 622.8h2.4v1.7h-2.4zM26.8 651.9h2.4v1.7h-2.4zM26.8 653.6h2.4v1.7h-2.4zM26.8 656.8h2.4v1.7h-2.4zM26.8 671.4h2.4v1.7h-2.4zM26.8 692.4h2.4v1.7h-2.4zM26.8 708.6h2.4v1.7h-2.4zM26.8 710.3h2.4v1.7h-2.4zM26.8 723.2h2.4v1.7h-2.4zM26.8 736.2h2.4v1.7h-2.4zM26.8 741.0h2.4v1.7h-2.4zM26.8 744.3h2.4v1.7h-2.4zM29.2 608.2h2.4v1.7h-2.4zM29.2 632.5h2.4v1.7h-2.4zM29.2 648.7h2.4v1.7h-2.4zM29.2 669.8h2.4v1.7h-2.4zM29.2 679.5h2.4v1.7h-2.4zM31.5 611.4h2.4v1.7h-2.4zM31.5 613.1h2.4v1.7h-2.4zM31.5 666.5h2.4v1.7h-2.4zM31.5 669.8h2.4v1.7h-2.4zM31.5 671.4h2.4v1.7h-2.4zM31.5 736.2h2.4v1.7h-2.4zM33.8 608.2h2.4v1.7h-2.4zM33.8 609.8h2.4v1.7h-2.4zM33.8 616.3h2.4v1.7h-2.4zM33.8 637.4h2.4v1.7h-2.4zM33.8 640.6h2.4v1.7h-2.4zM33.8 656.8h2.4v1.7h-2.4zM33.8 705.4h2.4v1.7h-2.4zM33.8 713.5h2.4v1.7h-2.4zM36.2 609.8h2.4v1.7h-2.4zM36.2 627.6h2.4v1.7h-2.4zM36.2 630.9h2.4v1.7h-2.4zM36.2 686.0h2.4v1.7h-2.4zM36.2 690.8h2.4v1.7h-2.4zM36.2 700.5h2.4v1.7h-2.4zM36.2 710.3h2.4v1.7h-2.4zM36.2 728.1h2.4v1.7h-2.4zM38.5 626.0h2.4v1.7h-2.4zM38.5 629.3h2.4v1.7h-2.4zM38.5 637.4h2.4v1.7h-2.4zM38.5 647.1h2.4v1.7h-2.4zM38.5 660.0h2.4v1.7h-2.4zM38.5 673.0h2.4v1.7h-2.4zM38.5 708.6h2.4v1.7h-2.4zM38.5 744.3h2.4v1.7h-2.4zM38.5 745.9h2.4v1.7h-2.4zM40.9 609.8h2.4v1.7h-2.4zM40.9 611.4h2.4v1.7h-2.4zM40.9 616.3h2.4v1.7h-2.4zM40.9 617.9h2.4v1.7h-2.4zM40.9 635.7h2.4v1.7h-2.4zM40.9 645.5h2.4v1.7h-2.4zM40.9 669.8h2.4v1.7h-2.4zM40.9 674.6h2.4v1.7h-2.4zM40.9 679.5h2.4v1.7h-2.4zM40.9 684.3h2.4v1.7h-2.4zM40.9 711.9h2.4v1.7h-2.4zM40.9 716.7h2.4v1.7h-2.4zM40.9 720.0h2.4v1.7h-2.4zM40.9 726.5h2.4v1.7h-2.4zM40.9 728.1h2.4v1.7h-2.4zM40.9 732.9h2.4v1.7h-2.4zM43.2 608.2h2.4v1.7h-2.4zM43.2 619.5h2.4v1.7h-2.4zM43.2 639.0h2.4v1.7h-2.4zM43.2 643.8h2.4v1.7h-2.4zM43.2 664.9h2.4v1.7h-2.4zM43.2 669.8h2.4v1.7h-2.4zM43.2 687.6h2.4v1.7h-2.4zM43.2 700.5h2.4v1.7h-2.4zM43.2 703.8h2.4v1.7h-2.4zM43.2 718.4h2.4v1.7h-2.4zM43.2 732.9h2.4v1.7h-2.4zM43.2 741.0h2.4v1.7h-2.4zM43.2 747.5h2.4v1.7h-2.4zM45.5 647.1h2.4v1.7h-2.4zM45.5 673.0h2.4v1.7h-2.4zM45.5 674.6h2.4v1.7h-2.4zM45.5 676.2h2.4v1.7h-2.4zM45.5 686.0h2.4v1.7h-2.4zM45.5 687.6h2.4v1.7h-2.4zM47.9 617.9h2.4v1.7h-2.4zM47.9 627.6h2.4v1.7h-2.4zM47.9 629.3h2.4v1.7h-2.4zM47.9 640.6h2.4v1.7h-2.4zM47.9 669.8h2.4v1.7h-2.4zM47.9 681.1h2.4v1.7h-2.4zM47.9 694.1h2.4v1.7h-2.4zM47.9 734.6h2.4v1.7h-2.4zM47.9 739.4h2.4v1.7h-2.4zM47.9 742.7h2.4v1.7h-2.4zM50.2 608.2h2.4v1.7h-2.4zM50.2 611.4h2.4v1.7h-2.4zM50.2 614.7h2.4v1.7h-2.4zM50.2 624.4h2.4v1.7h-2.4zM50.2 648.7h2.4v1.7h-2.4zM50.2 664.9h2.4v1.7h-2.4zM50.2 669.8h2.4v1.7h-2.4zM50.2 671.4h2.4v1.7h-2.4zM50.2 674.6h2.4v1.7h-2.4zM50.2 687.6h2.4v1.7h-2.4zM50.2 711.9h2.4v1.7h-2.4zM50.2 720.0h2.4v1.7h-2.4zM50.2 732.9h2.4v1.7h-2.4zM50.2 736.2h2.4v1.7h-2.4zM50.2 739.4h2.4v1.7h-2.4zM50.2 750.8h2.4v1.1h-2.4zM52.6 613.1h2.4v1.7h-2.4zM52.6 616.3h2.4v1.7h-2.4zM52.6 621.2h2.4v1.7h-2.4zM52.6 639.0h2.4v1.7h-2.4zM52.6 645.5h2.4v1.7h-2.4zM52.6 658.4h2.4v1.7h-2.4zM52.6 718.4h2.4v1.7h-2.4zM52.6 721.6h2.4v1.7h-2.4zM52.6 732.9h2.4v1.7h-2.4zM52.6 736.2h2.4v1.7h-2.4zM52.6 742.7h2.4v1.7h-2.4zM55.0 609.8h2.4v1.7h-2.4zM55.0 613.1h2.4v1.7h-2.4zM55.0 632.5h2.4v1.7h-2.4zM55.0 634.1h2.4v1.7h-2.4zM55.0 645.5h2.4v1.7h-2.4zM55.0 648.7h2.4v1.7h-2.4zM55.0 653.6h2.4v1.7h-2.4zM55.0 660.0h2.4v1.7h-2.4zM55.0 690.8h2.4v1.7h-2.4zM55.0 723.2h2.4v1.7h-2.4zM55.0 729.7h2.4v1.7h-2.4zM55.0 739.4h2.4v1.7h-2.4zM55.0 741.0h2.4v1.7h-2.4zM57.3 608.2h2.4v1.7h-2.4zM57.3 647.1h2.4v1.7h-2.4zM57.3 666.5h2.4v1.7h-2.4zM57.3 673.0h2.4v1.7h-2.4zM57.3 677.9h2.4v1.7h-2.4zM57.3 684.3h2.4v1.7h-2.4zM57.3 697.3h2.4v1.7h-2.4zM57.3 713.5h2.4v1.7h-2.4zM59.7 621.2h2.4v1.7h-2.4zM59.7 632.5h2.4v1.7h-2.4zM59.7 635.7h2.4v1.7h-2.4zM59.7 643.8h2.4v1.7h-2.4zM59.7 660.0h2.4v1.7h-2.4zM59.7 677.9h2.4v1.7h-2.4zM59.7 686.0h2.4v1.7h-2.4zM59.7 692.4h2.4v1.7h-2.4zM59.7 702.2h2.4v1.7h-2.4zM59.7 710.3h2.4v1.7h-2.4zM59.7 716.7h2.4v1.7h-2.4zM59.7 720.0h2.4v1.7h-2.4zM59.7 723.2h2.4v1.7h-2.4zM59.7 734.6h2.4v1.7h-2.4zM59.7 741.0h2.4v1.7h-2.4zM62.1 609.8h2.4v1.7h-2.4zM62.1 611.4h2.4v1.7h-2.4zM62.1 630.9h2.4v1.7h-2.4zM62.1 635.7h2.4v1.7h-2.4zM62.1 640.6h2.4v1.7h-2.4zM62.1 642.2h2.4v1.7h-2.4zM62.1 645.5h2.4v1.7h-2.4zM62.1 647.1h2.4v1.7h-2.4zM62.1 653.6h2.4v1.7h-2.4zM62.1 656.8h2.4v1.7h-2.4zM62.1 661.7h2.4v1.7h-2.4zM62.1 674.6h2.4v1.7h-2.4zM62.1 682.7h2.4v1.7h-2.4zM62.1 720.0h2.4v1.7h-2.4zM62.1 723.2h2.4v1.7h-2.4zM64.5 613.1h2.4v1.7h-2.4zM64.5 614.7h2.4v1.7h-2.4zM64.5 617.9h2.4v1.7h-2.4zM64.5 629.3h2.4v1.7h-2.4zM64.5 647.1h2.4v1.7h-2.4zM64.5 677.9h2.4v1.7h-2.4zM64.5 679.5h2.4v1.7h-2.4zM64.5 731.3h2.4v1.7h-2.4zM64.5 742.7h2.4v1.7h-2.4zM66.8 608.2h2.4v1.7h-2.4zM66.8 611.4h2.4v1.7h-2.4zM66.8 614.7h2.4v1.7h-2.4zM66.8 616.3h2.4v1.7h-2.4zM66.8 629.3h2.4v1.7h-2.4zM66.8 632.5h2.4v1.7h-2.4zM66.8 639.0h2.4v1.7h-2.4zM66.8 640.6h2.4v1.7h-2.4zM66.8 647.1h2.4v1.7h-2.4zM66.8 650.3h2.4v1.7h-2.4zM66.8 655.2h2.4v1.7h-2.4zM66.8 658.4h2.4v1.7h-2.4zM66.8 663.3h2.4v1.7h-2.4zM66.8 669.8h2.4v1.7h-2.4zM66.8 673.0h2.4v1.7h-2.4zM66.8 682.7h2.4v1.7h-2.4zM66.8 700.5h2.4v1.7h-2.4zM66.8 713.5h2.4v1.7h-2.4zM66.8 720.0h2.4v1.7h-2.4zM66.8 734.6h2.4v1.7h-2.4zM66.8 741.0h2.4v1.7h-2.4zM66.8 742.7h2.4v1.7h-2.4zM66.8 744.3h2.4v1.7h-2.4zM74.0 749.1h2.4v1.7h-2.4zM76.3 694.1h2.4v1.7h-2.4zM76.3 739.4h2.4v1.7h-2.4zM76.3 750.8h2.4v1.1h-2.4zM78.7 731.3h2.4v1.7h-2.4zM81.1 698.9h2.4v1.7h-2.4zM81.1 710.3h2.4v1.7h-2.4zM81.1 732.9h2.4v1.7h-2.4zM83.5 702.2h2.4v1.7h-2.4zM83.5 750.8h2.4v1.1h-2.4zM85.8 728.1h2.4v1.7h-2.4zM88.2 613.1h2.4v1.7h-2.4zM88.2 697.3h2.4v1.7h-2.4zM88.2 700.5h2.4v1.7h-2.4zM88.2 703.8h2.4v1.7h-2.4zM88.2 711.9h2.4v1.7h-2.4zM88.2 728.1h2.4v1.7h-2.4zM90.5 645.5h2.4v1.7h-2.4zM90.5 664.9h2.4v1.7h-2.4zM90.5 669.8h2.4v1.7h-2.4zM90.5 711.9h2.4v1.7h-2.4zM90.5 732.9h2.4v1.7h-2.4zM90.5 739.4h2.4v1.7h-2.4zM90.5 747.5h2.4v1.7h-2.4zM92.8 689.2h2.4v1.7h-2.4zM92.8 702.2h2.4v1.7h-2.4zM92.8 729.7h2.4v1.7h-2.4zM92.8 747.5h2.4v1.7h-2.4zM95.1 715.1h2.4v1.7h-2.4zM95.1 728.1h2.4v1.7h-2.4zM95.1 742.7h2.4v1.7h-2.4zM97.5 613.1h2.4v1.7h-2.4zM97.5 627.6h2.4v1.7h-2.4zM97.5 698.9h2.4v1.7h-2.4zM97.5 707.0h2.4v1.7h-2.4zM97.5 716.7h2.4v1.7h-2.4zM97.5 731.3h2.4v1.7h-2.4zM97.5 737.8h2.4v1.7h-2.4zM99.8 660.0h2.4v1.7h-2.4zM99.8 728.1h2.4v1.7h-2.4zM102.1 689.2h2.4v1.7h-2.4zM102.1 698.9h2.4v1.7h-2.4zM102.1 721.6h2.4v1.7h-2.4zM102.1 728.1h2.4v1.7h-2.4zM102.1 729.7h2.4v1.7h-2.4zM102.1 736.2h2.4v1.7h-2.4zM102.1 737.8h2.4v1.7h-2.4zM102.1 749.1h2.4v1.7h-2.4zM102.1 750.8h2.4v1.1h-2.4zM104.4 609.8h2.4v1.7h-2.4zM104.4 627.6h2.4v1.7h-2.4zM104.4 630.9h2.4v1.7h-2.4zM104.4 637.4h2.4v1.7h-2.4zM104.4 639.0h2.4v1.7h-2.4zM104.4 648.7h2.4v1.7h-2.4zM104.4 658.4h2.4v1.7h-2.4zM104.4 660.0h2.4v1.7h-2.4zM109.1 689.2h2.4v1.7h-2.4zM109.1 700.5h2.4v1.7h-2.4zM113.8 694.1h2.4v1.7h-2.4zM113.8 731.3h2.4v1.7h-2.4zM113.8 745.9h2.4v1.7h-2.4zM116.2 694.1h2.4v1.7h-2.4zM116.2 695.7h2.4v1.7h-2.4zM118.6 731.3h2.4v1.7h-2.4zM123.3 747.5h2.4v1.7h-2.4zM125.7 749.1h2.4v1.7h-2.4zM130.4 731.3h2.4v1.7h-2.4zM130.4 750.8h2.4v1.1h-2.4zM132.8 689.2h2.4v1.7h-2.4zM132.8 700.5h2.4v1.7h-2.4zM132.8 702.2h2.4v1.7h-2.4zM132.8 710.3h2.4v1.7h-2.4zM132.8 731.3h2.4v1.7h-2.4zM132.8 732.9h2.4v1.7h-2.4zM132.8 745.9h2.4v1.7h-2.4zM135.1 700.5h2.4v1.7h-2.4zM135.1 731.3h2.4v1.7h-2.4zM135.1 742.7h2.4v1.7h-2.4zM137.4 720.0h2.4v1.7h-2.4zM137.4 734.6h2.4v1.7h-2.4zM137.4 736.2h2.4v1.7h-2.4zM139.8 613.1h2.4v1.7h-2.4zM139.8 703.8h2.4v1.7h-2.4zM139.8 739.4h2.4v1.7h-2.4zM139.8 749.1h2.4v1.7h-2.4zM142.1 627.6h2.4v1.7h-2.4zM142.1 664.9h2.4v1.7h-2.4zM142.1 695.7h2.4v1.7h-2.4zM142.1 731.3h2.4v1.7h-2.4zM142.1 742.7h2.4v1.7h-2.4zM144.4 627.6h2.4v1.7h-2.4zM144.4 635.7h2.4v1.7h-2.4zM144.4 692.4h2.4v1.7h-2.4zM144.4 728.1h2.4v1.7h-2.4zM144.4 749.1h2.4v1.7h-2.4zM144.4 750.8h2.4v1.1h-2.4zM146.7 613.1h2.4v1.7h-2.4zM146.7 630.9h2.4v1.7h-2.4zM146.7 676.2h2.4v1.7h-2.4zM146.7 707.0h2.4v1.7h-2.4zM146.7 710.3h2.4v1.7h-2.4zM146.7 713.5h2.4v1.7h-2.4zM146.7 718.4h2.4v1.7h-2.4zM146.7 731.3h2.4v1.7h-2.4zM149.1 663.3h2.4v1.7h-2.4zM149.1 716.7h2.4v1.7h-2.4zM149.1 723.2h2.4v1.7h-2.4zM151.4 627.6h2.4v1.7h-2.4zM151.4 629.3h2.4v1.7h-2.4zM151.4 651.9h2.4v1.7h-2.4zM151.4 666.5h2.4v1.7h-2.4zM151.4 689.2h2.4v1.7h-2.4zM151.4 690.8h2.4v1.7h-2.4zM151.4 707.0h2.4v1.7h-2.4zM151.4 711.9h2.4v1.7h-2.4zM151.4 713.5h2.4v1.7h-2.4zM151.4 716.7h2.4v1.7h-2.4zM151.4 739.4h2.4v1.7h-2.4z"/>
<path fill="#e2e6f1" d="M12.8 613.1h2.4v1.7h-2.4zM12.8 616.3h2.4v1.7h-2.4zM12.8 626.0h2.4v1.7h-2.4zM12.8 647.1h2.4v1.7h-2.4zM12.8 660.0h2.4v1.7h-2.4zM12.8 664.9h2.4v1.7h-2.4zM12.8 686.0h2.4v1.7h-2.4zM12.8 723.2h2.4v1.7h-2.4zM12.8 724.8h2.4v1.7h-2.4zM12.8 731.3h2.4v1.7h-2.4zM12.8 737.8h2.4v1.7h-2.4zM15.1 624.4h2.4v1.7h-2.4zM15.1 643.8h2.4v1.7h-2.4zM15.1 645.5h2.4v1.7h-2.4zM15.1 653.6h2.4v1.7h-2.4zM15.1 682.7h2.4v1.7h-2.4zM15.1 686.0h2.4v1.7h-2.4zM15.1 687.6h2.4v1.7h-2.4zM15.1 694.1h2.4v1.7h-2.4zM15.1 698.9h2.4v1.7h-2.4zM15.1 710.3h2.4v1.7h-2.4zM15.1 713.5h2.4v1.7h-2.4zM15.1 742.7h2.4v1.7h-2.4zM17.5 613.1h2.4v1.7h-2.4zM17.5 627.6h2.4v1.7h-2.4zM17.5 632.5h2.4v1.7h-2.4zM17.5 639.0h2.4v1.7h-2.4zM17.5 648.7h2.4v1.7h-2.4zM17.5 676.2h2.4v1.7h-2.4zM17.5 687.6h2.4v1.7h-2.4zM17.5 689.2h2.4v1.7h-2.4zM17.5 698.9h2.4v1.7h-2.4zM17.5 716.7h2.4v1.7h-2.4zM17.5 742.7h2.4v1.7h-2.4zM19.8 622.8h2.4v1.7h-2.4zM19.8 632.5h2.4v1.7h-2.4zM19.8 642.2h2.4v1.7h-2.4zM19.8 647.1h2.4v1.7h-2.4zM19.8 653.6h2.4v1.7h-2.4zM19.8 660.0h2.4v1.7h-2.4zM19.8 671.4h2.4v1.7h-2.4zM19.8 673.0h2.4v1.7h-2.4zM19.8 690.8h2.4v1.7h-2.4zM19.8 697.3h2.4v1.7h-2.4zM19.8 700.5h2.4v1.7h-2.4zM19.8 703.8h2.4v1.7h-2.4zM19.8 710.3h2.4v1.7h-2.4zM19.8 726.5h2.4v1.7h-2.4zM19.8 734.6h2.4v1.7h-2.4zM22.2 611.4h2.4v1.7h-2.4zM22.2 634.1h2.4v1.7h-2.4zM22.2 643.8h2.4v1.7h-2.4zM22.2 647.1h2.4v1.7h-2.4zM22.2 671.4h2.4v1.7h-2.4zM22.2 700.5h2.4v1.7h-2.4zM22.2 747.5h2.4v1.7h-2.4zM24.5 616.3h2.4v1.7h-2.4zM24.5 627.6h2.4v1.7h-2.4zM24.5 637.4h2.4v1.7h-2.4zM24.5 643.8h2.4v1.7h-2.4zM24.5 669.8h2.4v1.7h-2.4zM24.5 673.0h2.4v1.7h-2.4zM24.5 682.7h2.4v1.7h-2.4zM24.5 698.9h2.4v1.7h-2.4zM24.5 700.5h2.4v1.7h-2.4zM24.5 715.1h2.4v1.7h-2.4zM24.5 718.4h2.4v1.7h-2.4zM24.5 731.3h2.4v1.7h-2.4zM24.5 742.7h2.4v1.7h-2.4zM26.8 609.8h2.4v1.7h-2.4zM26.8 611.4h2.4v1.7h-2.4zM26.8 613.1h2.4v1.7h-2.4zM26.8 614.7h2.4v1.7h-2.4zM26.8 617.9h2.4v1.7h-2.4zM26.8 619.5h2.4v1.7h-2.4zM26.8 624.4h2.4v1.7h-2.4zM26.8 629.3h2.4v1.7h-2.4zM26.8 634.1h2.4v1.7h-2.4zM26.8 639.0h2.4v1.7h-2.4zM26.8 648.7h2.4v1.7h-2.4zM26.8 660.0h2.4v1.7h-2.4zM26.8 664.9h2.4v1.7h-2.4zM26.8 669.8h2.4v1.7h-2.4zM26.8 673.0h2.4v1.7h-2.4zM26.8 690.8h2.4v1.7h-2.4zM26.8 695.7h2.4v1.7h-2.4zM26.8 713.5h2.4v1.7h-2.4zM26.8 716.7h2.4v1.7h-2.4zM26.8 718.4h2.4v1.7h-2.4zM26.8 747.5h2.4v1.7h-2.4zM29.2 611.4h2.4v1.7h-2.4zM29.2 614.7h2.4v1.7h-2.4zM29.2 619.5h2.4v1.7h-2.4zM29.2 630.9h2.4v1.7h-2.4zM29.2 663.3h2.4v1.7h-2.4zM29.2 720.0h2.4v1.7h-2.4zM29.2 728.1h2.4v1.7h-2.4zM29.2 736.2h2.4v1.7h-2.4zM31.5 608.2h2.4v1.7h-2.4zM31.5 614.7h2.4v1.7h-2.4zM31.5 617.9h2.4v1.7h-2.4zM31.5 622.8h2.4v1.7h-2.4zM31.5 627.6h2.4v1.7h-2.4zM31.5 648.7h2.4v1.7h-2.4zM31.5 658.4h2.4v1.7h-2.4zM31.5 661.7h2.4v1.7h-2.4zM31.5 728.1h2.4v1.7h-2.4zM31.5 734.6h2.4v1.7h-2.4zM33.8 632.5h2.4v1.7h-2.4zM33.8 655.2h2.4v1.7h-2.4zM33.8 668.1h2.4v1.7h-2.4zM33.8 671.4h2.4v1.7h-2.4zM33.8 676.2h2.4v1.7h-2.4zM33.8 679.5h2.4v1.7h-2.4zM33.8 686.0h2.4v1.7h-2.4zM33.8 689.2h2.4v1.7h-2.4zM33.8 694.1h2.4v1.7h-2.4zM33.8 710.3h2.4v1.7h-2.4zM33.8 720.0h2.4v1.7h-2.4zM33.8 724.8h2.4v1.7h-2.4zM33.8 734.6h2.4v1.7h-2.4zM36.2 613.1h2.4v1.7h-2.4zM36.2 614.7h2.4v1.7h-2.4zM36.2 626.0h2.4v1.7h-2.4zM36.2 629.3h2.4v1.7h-2.4zM36.2 634.1h2.4v1.7h-2.4zM36.2 635.7h2.4v1.7h-2.4zM36.2 658.4h2.4v1.7h-2.4zM36.2 660.0h2.4v1.7h-2.4zM36.2 663.3h2.4v1.7h-2.4zM36.2 668.1h2.4v1.7h-2.4zM36.2 676.2h2.4v1.7h-2.4zM36.2 682.7h2.4v1.7h-2.4zM36.2 718.4h2.4v1.7h-2.4zM36.2 734.6h2.4v1.7h-2.4zM36.2 747.5h2.4v1.7h-2.4zM38.5 613.1h2.4v1.7h-2.4zM38.5 614.7h2.4v1.7h-2.4zM38.5 619.5h2.4v1.7h-2.4zM38.5 651.9h2.4v1.7h-2.4zM38.5 653.6h2.4v1.7h-2.4zM38.5 658.4h2.4v1.7h-2.4zM38.5 666.5h2.4v1.7h-2.4zM38.5 677.9h2.4v1.7h-2.4zM38.5 687.6h2.4v1.7h-2.4zM40.9 613.1h2.4v1.7h-2.4zM40.9 622.8h2.4v1.7h-2.4zM40.9 626.0h2.4v1.7h-2.4zM40.9 634.1h2.4v1.7h-2.4zM40.9 637.4h2.4v1.7h-2.4zM40.9 639.0h2.4v1.7h-2.4zM40.9 640.6h2.4v1.7h-2.4zM40.9 647.1h2.4v1.7h-2.4zM40.9 656.8h2.4v1.7h-2.4zM40.9 658.4h2.4v1.7h-2.4zM40.9 664.9h2.4v1.7h-2.4zM40.9 673.0h2.4v1.7h-2.4zM40.9 676.2h2.4v1.7h-2.4zM40.9 682.7h2.4v1.7h-2.4zM40.9 686.0h2.4v1.7h-2.4zM40.9 694.1h2.4v1.7h-2.4zM40.9 703.8h2.4v1.7h-2.4zM40.9 708.6h2.4v1.7h-2.4zM40.9 710.3h2.4v1.7h-2.4zM40.9 718.4h2.4v1.7h-2.4zM43.2 611.4h2.4v1.7h-2.4zM43.2 613.1h2.4v1.7h-2.4zM43.2 621.2h2.4v1.7h-2.4zM43.2 634.1h2.4v1.7h-2.4zM43.2 653.6h2.4v1.7h-2.4zM43.2 671.4h2.4v1.7h-2.4zM43.2 684.3h2.4v1.7h-2.4zM43.2 690.8h2.4v1.7h-2.4zM43.2 711.9h2.4v1.7h-2.4zM43.2 716.7h2.4v1.7h-2.4zM43.2 724.8h2.4v1.7h-2.4zM43.2 729.7h2.4v1.7h-2.4zM43.2 742.7h2.4v1.7h-2.4zM43.2 744.3h2.4v1.7h-2.4zM45.5 609.8h2.4v1.7h-2.4zM45.5 611.4h2.4v1.7h-2.4zM45.5 613.1h2.4v1.7h-2.4zM45.5 614.7h2.4v1.7h-2.4zM45.5 629.3h2.4v1.7h-2.4zM45.5 635.7h2.4v1.7h-2.4zM45.5 637.4h2.4v1.7h-2.4zM45.5 640.6h2.4v1.7h-2.4zM45.5 661.7h2.4v1.7h-2.4zM45.5 668.1h2.4v1.7h-2.4zM45.5 671.4h2.4v1.7h-2.4zM45.5 682.7h2.4v1.7h-2.4zM45.5 705.4h2.4v1.7h-2.4zM45.5 715.1h2.4v1.7h-2.4zM45.5 728.1h2.4v1.7h-2.4zM45.5 750.8h2.4v1.1h-2.4zM47.9 621.2h2.4v1.7h-2.4zM47.9 639.0h2.4v1.7h-2.4zM47.9 658.4h2.4v1.7h-2.4zM47.9 684.3h2.4v1.7h-2.4zM47.9 692.4h2.4v1.7h-2.4zM47.9 720.0h2.4v1.7h-2.4zM47.9 732.9h2.4v1.7h-2.4zM47.9 741.0h2.4v1.7h-2.4zM50.2 629.3h2.4v1.7h-2.4zM50.2 650.3h2.4v1.7h-2.4zM50.2 677.9h2.4v1.7h-2.4zM50.2 681.1h2.4v1.7h-2.4zM50.2 689.2h2.4v1.7h-2.4zM50.2 700.5h2.4v1.7h-2.4zM50.2 705.4h2.4v1.7h-2.4zM50.2 718.4h2.4v1.7h-2.4zM50.2 723.2h2.4v1.7h-2.4zM50.2 728.1h2.4v1.7h-2.4zM50.2 731.3h2.4v1.7h-2.4zM50.2 737.8h2.4v1.7h-2.4zM50.2 741.0h2.4v1.7h-2.4zM50.2 744.3h2.4v1.7h-2.4zM50.2 745.9h2.4v1.7h-2.4zM52.6 619.5h2.4v1.7h-2.4zM52.6 630.9h2.4v1.7h-2.4zM52.6 643.8h2.4v1.7h-2.4zM52.6 681.1h2.4v1.7h-2.4zM52.6 684.3h2.4v1.7h-2.4zM52.6 686.0h2.4v1.7h-2.4zM52.6 694.1h2.4v1.7h-2.4zM52.6 695.7h2.4v1.7h-2.4zM52.6 715.1h2.4v1.7h-2.4zM52.6 720.0h2.4v1.7h-2.4zM52.6 723.2h2.4v1.7h-2.4zM55.0 619.5h2.4v1.7h-2.4zM55.0 622.8h2.4v1.7h-2.4zM55.0 637.4h2.4v1.7h-2.4zM55.0 642.2h2.4v1.7h-2.4zM55.0 650.3h2.4v1.7h-2.4zM55.0 658.4h2.4v1.7h-2.4zM55.0 676.2h2.4v1.7h-2.4zM55.0 732.9h2.4v1.7h-2.4zM55.0 742.7h2.4v1.7h-2.4zM55.0 744.3h2.4v1.7h-2.4zM55.0 750.8h2.4v1.1h-2.4zM57.3 614.7h2.4v1.7h-2.4zM57.3 622.8h2.4v1.7h-2.4zM57.3 624.4h2.4v1.7h-2.4zM57.3 637.4h2.4v1.7h-2.4zM57.3 650.3h2.4v1.7h-2.4zM57.3 651.9h2.4v1.7h-2.4zM57.3 658.4h2.4v1.7h-2.4zM57.3 660.0h2.4v1.7h-2.4zM57.3 705.4h2.4v1.7h-2.4zM57.3 721.6h2.4v1.7h-2.4zM57.3 726.5h2.4v1.7h-2.4zM57.3 734.6h2.4v1.7h-2.4zM57.3 742.7h2.4v1.7h-2.4zM59.7 619.5h2.4v1.7h-2.4zM59.7 622.8h2.4v1.7h-2.4zM59.7 624.4h2.4v1.7h-2.4zM59.7 645.5h2.4v1.7h-2.4zM59.7 661.7h2.4v1.7h-2.4zM59.7 664.9h2.4v1.7h-2.4zM59.7 673.0h2.4v1.7h-2.4zM59.7 679.5h2.4v1.7h-2.4zM59.7 689.2h2.4v1.7h-2.4zM59.7 705.4h2.4v1.7h-2.4zM59.7 711.9h2.4v1.7h-2.4zM59.7 715.1h2.4v1.7h-2.4zM59.7 744.3h2.4v1.7h-2.4zM59.7 745.9h2.4v1.7h-2.4zM62.1 613.1h2.4v1.7h-2.4zM62.1 624.4h2.4v1.7h-2.4zM62.1 637.4h2.4v1.7h-2.4zM62.1 660.0h2.4v1.7h-2.4zM62.1 673.0h2.4v1.7h-2.4zM62.1 689.2h2.4v1.7h-2.4zM62.1 695.7h2.4v1.7h-2.4zM62.1 731.3h2.4v1.7h-2.4zM64.5 619.5h2.4v1.7h-2.4zM64.5 640.6h2.4v1.7h-2.4zM64.5 648.7h2.4v1.7h-2.4zM64.5 658.4h2.4v1.7h-2.4zM64.5 669.8h2.4v1.7h-2.4zM64.5 674.6h2.4v1.7h-2.4zM64.5 687.6h2.4v1.7h-2.4zM64.5 713.5h2.4v1.7h-2.4zM64.5 734.6h2.4v1.7h-2.4zM64.5 736.2h2.4v1.7h-2.4zM64.5 741.0h2.4v1.7h-2.4zM64.5 747.5h2.4v1.7h-2.4zM66.8 661.7h2.4v1.7h-2.4zM66.8 674.6h2.4v1.7h-2.4zM66.8 681.1h2.4v1.7h-2.4zM66.8 692.4h2.4v1.7h-2.4zM66.8 694.1h2.4v1.7h-2.4zM66.8 721.6h2.4v1.7h-2.4zM81.1 731.3h2.4v1.7h-2.4zM81.1 739.4h2.4v1.7h-2.4zM83.5 739.4h2.4v1.7h-2.4zM88.2 630.9h2.4v1.7h-2.4zM88.2 689.2h2.4v1.7h-2.4zM88.2 695.7h2.4v1.7h-2.4zM88.2 708.6h2.4v1.7h-2.4zM88.2 713.5h2.4v1.7h-2.4zM88.2 737.8h2.4v1.7h-2.4zM90.5 613.1h2.4v1.7h-2.4zM90.5 622.8h2.4v1.7h-2.4zM90.5 637.4h2.4v1.7h-2.4zM90.5 647.1h2.4v1.7h-2.4zM90.5 660.0h2.4v1.7h-2.4zM90.5 690.8h2.4v1.7h-2.4zM90.5 695.7h2.4v1.7h-2.4zM92.8 705.4h2.4v1.7h-2.4zM92.8 731.3h2.4v1.7h-2.4zM92.8 732.9h2.4v1.7h-2.4zM92.8 739.4h2.4v1.7h-2.4zM92.8 750.8h2.4v1.1h-2.4zM95.1 609.8h2.4v1.7h-2.4zM95.1 692.4h2.4v1.7h-2.4zM95.1 700.5h2.4v1.7h-2.4zM95.1 716.7h2.4v1.7h-2.4zM95.1 747.5h2.4v1.7h-2.4zM97.5 663.3h2.4v1.7h-2.4zM97.5 689.2h2.4v1.7h-2.4zM97.5 697.3h2.4v1.7h-2.4zM97.5 711.9h2.4v1.7h-2.4zM97.5 732.9h2.4v1.7h-2.4zM99.8 613.1h2.4v1.7h-2.4zM99.8 634.1h2.4v1.7h-2.4zM99.8 689.2h2.4v1.7h-2.4zM99.8 726.5h2.4v1.7h-2.4zM102.1 609.8h2.4v1.7h-2.4zM102.1 705.4h2.4v1.7h-2.4zM102.1 715.1h2.4v1.7h-2.4zM102.1 732.9h2.4v1.7h-2.4zM102.1 734.6h2.4v1.7h-2.4zM102.1 742.7h2.4v1.7h-2.4zM104.4 647.1h2.4v1.7h-2.4zM104.4 666.5h2.4v1.7h-2.4zM104.4 669.8h2.4v1.7h-2.4zM104.4 679.5h2.4v1.7h-2.4zM104.4 686.0h2.4v1.7h-2.4zM104.4 687.6h2.4v1.7h-2.4zM109.1 749.1h2.4v1.7h-2.4zM113.8 739.4h2.4v1.7h-2.4zM123.3 726.5h2.4v1.7h-2.4zM125.7 718.4h2.4v1.7h-2.4zM125.7 731.3h2.4v1.7h-2.4zM125.7 747.5h2.4v1.7h-2.4zM130.4 707.0h2.4v1.7h-2.4zM130.4 710.3h2.4v1.7h-2.4zM132.8 616.3h2.4v1.7h-2.4zM132.8 690.8h2.4v1.7h-2.4zM132.8 703.8h2.4v1.7h-2.4zM132.8 729.7h2.4v1.7h-2.4zM132.8 737.8h2.4v1.7h-2.4zM135.1 613.1h2.4v1.7h-2.4zM135.1 660.0h2.4v1.7h-2.4zM135.1 681.1h2.4v1.7h-2.4zM135.1 694.1h2.4v1.7h-2.4zM135.1 726.5h2.4v1.7h-2.4zM135.1 728.1h2.4v1.7h-2.4zM137.4 700.5h2.4v1.7h-2.4zM137.4 702.2h2.4v1.7h-2.4zM137.4 703.8h2.4v1.7h-2.4zM137.4 705.4h2.4v1.7h-2.4zM137.4 710.3h2.4v1.7h-2.4zM137.4 723.2h2.4v1.7h-2.4zM137.4 729.7h2.4v1.7h-2.4zM137.4 731.3h2.4v1.7h-2.4zM137.4 742.7h2.4v1.7h-2.4zM137.4 744.3h2.4v1.7h-2.4zM139.8 609.8h2.4v1.7h-2.4zM139.8 622.8h2.4v1.7h-2.4zM139.8 626.0h2.4v1.7h-2.4zM139.8 627.6h2.4v1.7h-2.4zM139.8 651.9h2.4v1.7h-2.4zM139.8 687.6h2.4v1.7h-2.4zM139.8 695.7h2.4v1.7h-2.4zM139.8 710.3h2.4v1.7h-2.4zM139.8 726.5h2.4v1.7h-2.4zM142.1 608.2h2.4v1.7h-2.4zM142.1 637.4h2.4v1.7h-2.4zM142.1 677.9h2.4v1.7h-2.4zM142.1 679.5h2.4v1.7h-2.4zM144.4 616.3h2.4v1.7h-2.4zM144.4 700.5h2.4v1.7h-2.4zM144.4 726.5h2.4v1.7h-2.4zM146.7 626.0h2.4v1.7h-2.4zM146.7 627.6h2.4v1.7h-2.4zM146.7 634.1h2.4v1.7h-2.4zM146.7 698.9h2.4v1.7h-2.4zM149.1 643.8h2.4v1.7h-2.4zM149.1 694.1h2.4v1.7h-2.4zM149.1 718.4h2.4v1.7h-2.4zM149.1 726.5h2.4v1.7h-2.4zM149.1 747.5h2.4v1.7h-2.4zM149.1 749.1h2.4v1.7h-2.4zM149.1 750.8h2.4v1.1h-2.4zM151.4 613.1h2.4v1.7h-2.4zM151.4 669.8h2.4v1.7h-2.4zM151.4 671.4h2.4v1.7h-2.4zM151.4 729.7h2.4v1.7h-2.4z"/>
<path fill="#f8f6f8" d="M12.8 611.4h2.4v1.7h-2.4zM12.8 622.8h2.4v1.7h-2.4zM12.8 642.2h2.4v1.7h-2.4zM12.8 674.6h2.4v1.7h-2.4zM12.8 684.3h2.4v1.7h-2.4zM12.8 687.6h2.4v1.7h-2.4zM12.8 749.1h2.4v1.7h-2.4zM15.1 617.9h2.4v1.7h-2.4zM15.1 635.7h2.4v1.7h-2.4zM15.1 648.7h2.4v1.7h-2.4zM15.1 651.9h2.4v1.7h-2.4zM15.1 658.4h2.4v1.7h-2.4zM15.1 673.0h2.4v1.7h-2.4zM15.1 679.5h2.4v1.7h-2.4zM15.1 681.1h2.4v1.7h-2.4zM15.1 684.3h2.4v1.7h-2.4zM15.1 707.0h2.4v1.7h-2.4zM15.1 732.9h2.4v1.7h-2.4zM17.5 619.5h2.4v1.7h-2.4zM17.5 621.2h2.4v1.7h-2.4zM17.5 624.4h2.4v1.7h-2.4zM17.5 640.6h2.4v1.7h-2.4zM17.5 643.8h2.4v1.7h-2.4zM17.5 668.1h2.4v1.7h-2.4zM17.5 695.7h2.4v1.7h-2.4zM17.5 703.8h2.4v1.7h-2.4zM17.5 710.3h2.4v1.7h-2.4zM17.5 715.1h2.4v1.7h-2.4zM17.5 718.4h2.4v1.7h-2.4zM17.5 732.9h2.4v1.7h-2.4zM17.5 734.6h2.4v1.7h-2.4zM17.5 750.8h2.4v1.1h-2.4zM19.8 613.1h2.4v1.7h-2.4zM19.8 614.7h2.4v1.7h-2.4zM19.8 626.0h2.4v1.7h-2.4zM19.8 655.2h2.4v1.7h-2.4zM19.8 661.7h2.4v1.7h-2.4zM19.8 669.8h2.4v1.7h-2.4zM19.8 687.6h2.4v1.7h-2.4zM19.8 692.4h2.4v1.7h-2.4zM19.8 705.4h2.4v1.7h-2.4zM19.8 711.9h2.4v1.7h-2.4zM19.8 713.5h2.4v1.7h-2.4zM19.8 718.4h2.4v1.7h-2.4zM19.8 728.1h2.4v1.7h-2.4zM19.8 736.2h2.4v1.7h-2.4zM19.8 739.4h2.4v1.7h-2.4zM19.8 742.7h2.4v1.7h-2.4zM19.8 747.5h2.4v1.7h-2.4zM19.8 749.1h2.4v1.7h-2.4zM19.8 750.8h2.4v1.1h-2.4zM22.2 608.2h2.4v1.7h-2.4zM22.2 609.8h2.4v1.7h-2.4zM22.2 613.1h2.4v1.7h-2.4zM22.2 624.4h2.4v1.7h-2.4zM22.2 651.9h2.4v1.7h-2.4zM22.2 653.6h2.4v1.7h-2.4zM22.2 664.9h2.4v1.7h-2.4zM22.2 666.5h2.4v1.7h-2.4zM22.2 669.8h2.4v1.7h-2.4zM22.2 679.5h2.4v1.7h-2.4zM22.2 681.1h2.4v1.7h-2.4zM22.2 686.0h2.4v1.7h-2.4zM22.2 687.6h2.4v1.7h-2.4zM22.2 697.3h2.4v1.7h-2.4zM22.2 703.8h2.4v1.7h-2.4zM22.2 705.4h2.4v1.7h-2.4zM22.2 715.1h2.4v1.7h-2.4zM22.2 720.0h2.4v1.7h-2.4zM22.2 739.4h2.4v1.7h-2.4zM22.2 742.7h2.4v1.7h-2.4zM22.2 745.9h2.4v1.7h-2.4zM22.2 750.8h2.4v1.1h-2.4zM24.5 626.0h2.4v1.7h-2.4zM24.5 634.1h2.4v1.7h-2.4zM24.5 640.6h2.4v1.7h-2.4zM24.5 645.5h2.4v1.7h-2.4zM24.5 666.5h2.4v1.7h-2.4zM24.5 674.6h2.4v1.7h-2.4zM24.5 679.5h2.4v1.7h-2.4zM24.5 690.8h2.4v1.7h-2.4zM24.5 705.4h2.4v1.7h-2.4zM24.5 716.7h2.4v1.7h-2.4zM24.5 724.8h2.4v1.7h-2.4zM24.5 734.6h2.4v1.7h-2.4zM24.5 739.4h2.4v1.7h-2.4zM26.8 616.3h2.4v1.7h-2.4zM26.8 642.2h2.4v1.7h-2.4zM26.8 686.0h2.4v1.7h-2.4zM26.8 698.9h2.4v1.7h-2.4zM26.8 707.0h2.4v1.7h-2.4zM26.8 715.1h2.4v1.7h-2.4zM26.8 728.1h2.4v1.7h-2.4zM26.8 742.7h2.4v1.7h-2.4zM29.2 609.8h2.4v1.7h-2.4zM29.2 621.2h2.4v1.7h-2.4zM29.2 640.6h2.4v1.7h-2.4zM29.2 655.2h2.4v1.7h-2.4zM29.2 658.4h2.4v1.7h-2.4zM29.2 661.7h2.4v1.7h-2.4zM29.2 668.1h2.4v1.7h-2.4zM29.2 674.6h2.4v1.7h-2.4zM29.2 697.3h2.4v1.7h-2.4zM29.2 705.4h2.4v1.7h-2.4zM29.2 708.6h2.4v1.7h-2.4zM29.2 718.4h2.4v1.7h-2.4zM29.2 723.2h2.4v1.7h-2.4zM29.2 745.9h2.4v1.7h-2.4zM31.5 609.8h2.4v1.7h-2.4zM31.5 637.4h2.4v1.7h-2.4zM31.5 642.2h2.4v1.7h-2.4zM31.5 660.0h2.4v1.7h-2.4zM31.5 663.3h2.4v1.7h-2.4zM31.5 664.9h2.4v1.7h-2.4zM31.5 684.3h2.4v1.7h-2.4zM31.5 686.0h2.4v1.7h-2.4zM31.5 687.6h2.4v1.7h-2.4zM31.5 698.9h2.4v1.7h-2.4zM31.5 700.5h2.4v1.7h-2.4zM31.5 715.1h2.4v1.7h-2.4zM31.5 724.8h2.4v1.7h-2.4zM31.5 731.3h2.4v1.7h-2.4zM31.5 741.0h2.4v1.7h-2.4zM33.8 614.7h2.4v1.7h-2.4zM33.8 621.2h2.4v1.7h-2.4zM33.8 635.7h2.4v1.7h-2.4zM33.8 639.0h2.4v1.7h-2.4zM33.8 647.1h2.4v1.7h-2.4zM33.8 653.6h2.4v1.7h-2.4zM33.8 658.4h2.4v1.7h-2.4zM33.8 674.6h2.4v1.7h-2.4zM33.8 695.7h2.4v1.7h-2.4zM33.8 700.5h2.4v1.7h-2.4zM33.8 721.6h2.4v1.7h-2.4zM33.8 728.1h2.4v1.7h-2.4zM33.8 732.9h2.4v1.7h-2.4zM33.8 737.8h2.4v1.7h-2.4zM33.8 739.4h2.4v1.7h-2.4zM33.8 741.0h2.4v1.7h-2.4zM36.2 608.2h2.4v1.7h-2.4zM36.2 619.5h2.4v1.7h-2.4zM36.2 645.5h2.4v1.7h-2.4zM36.2 648.7h2.4v1.7h-2.4zM36.2 661.7h2.4v1.7h-2.4zM36.2 664.9h2.4v1.7h-2.4zM36.2 666.5h2.4v1.7h-2.4zM36.2 679.5h2.4v1.7h-2.4zM36.2 689.2h2.4v1.7h-2.4zM36.2 695.7h2.4v1.7h-2.4zM36.2 711.9h2.4v1.7h-2.4zM36.2 720.0h2.4v1.7h-2.4zM36.2 721.6h2.4v1.7h-2.4zM36.2 724.8h2.4v1.7h-2.4zM36.2 726.5h2.4v1.7h-2.4zM36.2 732.9h2.4v1.7h-2.4zM36.2 741.0h2.4v1.7h-2.4zM38.5 609.8h2.4v1.7h-2.4zM38.5 621.2h2.4v1.7h-2.4zM38.5 634.1h2.4v1.7h-2.4zM38.5 635.7h2.4v1.7h-2.4zM38.5 648.7h2.4v1.7h-2.4zM38.5 655.2h2.4v1.7h-2.4zM38.5 682.7h2.4v1.7h-2.4zM38.5 694.1h2.4v1.7h-2.4zM38.5 695.7h2.4v1.7h-2.4zM38.5 698.9h2.4v1.7h-2.4zM38.5 702.2h2.4v1.7h-2.4zM38.5 720.0h2.4v1.7h-2.4zM38.5 724.8h2.4v1.7h-2.4zM40.9 608.2h2.4v1.7h-2.4zM40.9 643.8h2.4v1.7h-2.4zM40.9 648.7h2.4v1.7h-2.4zM40.9 653.6h2.4v1.7h-2.4zM40.9 655.2h2.4v1.7h-2.4zM40.9 677.9h2.4v1.7h-2.4zM40.9 689.2h2.4v1.7h-2.4zM40.9 713.5h2.4v1.7h-2.4zM40.9 736.2h2.4v1.7h-2.4zM40.9 741.0h2.4v1.7h-2.4zM43.2 617.9h2.4v1.7h-2.4zM43.2 624.4h2.4v1.7h-2.4zM43.2 626.0h2.4v1.7h-2.4zM43.2 650.3h2.4v1.7h-2.4zM43.2 651.9h2.4v1.7h-2.4zM43.2 656.8h2.4v1.7h-2.4zM43.2 660.0h2.4v1.7h-2.4zM43.2 663.3h2.4v1.7h-2.4zM43.2 673.0h2.4v1.7h-2.4zM43.2 674.6h2.4v1.7h-2.4zM43.2 679.5h2.4v1.7h-2.4zM43.2 681.1h2.4v1.7h-2.4zM43.2 692.4h2.4v1.7h-2.4zM43.2 698.9h2.4v1.7h-2.4zM43.2 707.0h2.4v1.7h-2.4zM43.2 710.3h2.4v1.7h-2.4zM43.2 723.2h2.4v1.7h-2.4zM43.2 728.1h2.4v1.7h-2.4zM43.2 737.8h2.4v1.7h-2.4zM43.2 739.4h2.4v1.7h-2.4zM43.2 745.9h2.4v1.7h-2.4zM45.5 692.4h2.4v1.7h-2.4zM45.5 694.1h2.4v1.7h-2.4zM45.5 700.5h2.4v1.7h-2.4zM45.5 724.8h2.4v1.7h-2.4zM45.5 739.4h2.4v1.7h-2.4zM45.5 745.9h2.4v1.7h-2.4zM47.9 608.2h2.4v1.7h-2.4zM47.9 614.7h2.4v1.7h-2.4zM47.9 622.8h2.4v1.7h-2.4zM47.9 632.5h2.4v1.7h-2.4zM47.9 635.7h2.4v1.7h-2.4zM47.9 637.4h2.4v1.7h-2.4zM47.9 648.7h2.4v1.7h-2.4zM47.9 660.0h2.4v1.7h-2.4zM47.9 663.3h2.4v1.7h-2.4zM47.9 664.9h2.4v1.7h-2.4zM47.9 671.4h2.4v1.7h-2.4zM47.9 674.6h2.4v1.7h-2.4zM47.9 677.9h2.4v1.7h-2.4zM47.9 682.7h2.4v1.7h-2.4zM47.9 690.8h2.4v1.7h-2.4zM47.9 697.3h2.4v1.7h-2.4zM47.9 702.2h2.4v1.7h-2.4zM47.9 707.0h2.4v1.7h-2.4zM47.9 713.5h2.4v1.7h-2.4zM47.9 715.1h2.4v1.7h-2.4zM47.9 718.4h2.4v1.7h-2.4zM47.9 721.6h2.4v1.7h-2.4zM47.9 726.5h2.4v1.7h-2.4zM47.9 731.3h2.4v1.7h-2.4zM47.9 744.3h2.4v1.7h-2.4zM47.9 745.9h2.4v1.7h-2.4zM47.9 747.5h2.4v1.7h-2.4zM47.9 749.1h2.4v1.7h-2.4zM50.2 609.8h2.4v1.7h-2.4zM50.2 635.7h2.4v1.7h-2.4zM50.2 656.8h2.4v1.7h-2.4zM50.2 658.4h2.4v1.7h-2.4zM50.2 673.0h2.4v1.7h-2.4zM50.2 682.7h2.4v1.7h-2.4zM50.2 692.4h2.4v1.7h-2.4zM50.2 702.2h2.4v1.7h-2.4zM50.2 713.5h2.4v1.7h-2.4zM50.2 749.1h2.4v1.7h-2.4zM52.6 674.6h2.4v1.7h-2.4zM52.6 679.5h2.4v1.7h-2.4zM52.6 682.7h2.4v1.7h-2.4zM52.6 697.3h2.4v1.7h-2.4zM52.6 698.9h2.4v1.7h-2.4zM52.6 703.8h2.4v1.7h-2.4zM52.6 708.6h2.4v1.7h-2.4zM52.6 711.9h2.4v1.7h-2.4zM52.6 745.9h2.4v1.7h-2.4zM55.0 608.2h2.4v1.7h-2.4zM55.0 614.7h2.4v1.7h-2.4zM55.0 621.2h2.4v1.7h-2.4zM55.0 626.0h2.4v1.7h-2.4zM55.0 629.3h2.4v1.7h-2.4zM55.0 630.9h2.4v1.7h-2.4zM55.0 640.6h2.4v1.7h-2.4zM55.0 655.2h2.4v1.7h-2.4zM55.0 666.5h2.4v1.7h-2.4zM55.0 677.9h2.4v1.7h-2.4zM55.0 687.6h2.4v1.7h-2.4zM55.0 713.5h2.4v1.7h-2.4zM55.0 736.2h2.4v1.7h-2.4zM57.3 609.8h2.4v1.7h-2.4zM57.3 619.5h2.4v1.7h-2.4zM57.3 634.1h2.4v1.7h-2.4zM57.3 635.7h2.4v1.7h-2.4zM57.3 645.5h2.4v1.7h-2.4zM57.3 664.9h2.4v1.7h-2.4zM57.3 679.5h2.4v1.7h-2.4zM57.3 692.4h2.4v1.7h-2.4zM57.3 695.7h2.4v1.7h-2.4zM57.3 698.9h2.4v1.7h-2.4zM57.3 716.7h2.4v1.7h-2.4zM57.3 737.8h2.4v1.7h-2.4zM57.3 749.1h2.4v1.7h-2.4zM59.7 639.0h2.4v1.7h-2.4zM59.7 647.1h2.4v1.7h-2.4zM59.7 666.5h2.4v1.7h-2.4zM59.7 669.8h2.4v1.7h-2.4zM59.7 695.7h2.4v1.7h-2.4zM59.7 707.0h2.4v1.7h-2.4zM59.7 708.6h2.4v1.7h-2.4zM59.7 718.4h2.4v1.7h-2.4zM59.7 724.8h2.4v1.7h-2.4zM59.7 726.5h2.4v1.7h-2.4zM59.7 732.9h2.4v1.7h-2.4zM59.7 749.1h2.4v1.7h-2.4zM62.1 651.9h2.4v1.7h-2.4zM62.1 666.5h2.4v1.7h-2.4zM62.1 668.1h2.4v1.7h-2.4zM62.1 671.4h2.4v1.7h-2.4zM62.1 686.0h2.4v1.7h-2.4zM62.1 690.8h2.4v1.7h-2.4zM62.1 697.3h2.4v1.7h-2.4zM62.1 700.5h2.4v1.7h-2.4zM62.1 705.4h2.4v1.7h-2.4zM62.1 707.0h2.4v1.7h-2.4zM62.1 724.8h2.4v1.7h-2.4zM62.1 726.5h2.4v1.7h-2.4zM62.1 728.1h2.4v1.7h-2.4zM62.1 741.0h2.4v1.7h-2.4zM62.1 750.8h2.4v1.1h-2.4zM64.5 609.8h2.4v1.7h-2.4zM64.5 611.4h2.4v1.7h-2.4zM64.5 621.2h2.4v1.7h-2.4zM64.5 627.6h2.4v1.7h-2.4zM64.5 630.9h2.4v1.7h-2.4zM64.5 639.0h2.4v1.7h-2.4zM64.5 650.3h2.4v1.7h-2.4zM64.5 684.3h2.4v1.7h-2.4zM64.5 690.8h2.4v1.7h-2.4zM64.5 698.9h2.4v1.7h-2.4zM64.5 702.2h2.4v1.7h-2.4zM64.5 708.6h2.4v1.7h-2.4zM64.5 711.9h2.4v1.7h-2.4zM64.5 721.6h2.4v1.7h-2.4zM64.5 744.3h2.4v1.7h-2.4zM66.8 609.8h2.4v1.7h-2.4zM66.8 634.1h2.4v1.7h-2.4zM66.8 637.4h2.4v1.7h-2.4zM66.8 642.2h2.4v1.7h-2.4zM66.8 671.4h2.4v1.7h-2.4zM66.8 679.5h2.4v1.7h-2.4zM66.8 690.8h2.4v1.7h-2.4zM66.8 697.3h2.4v1.7h-2.4zM66.8 705.4h2.4v1.7h-2.4zM66.8 728.1h2.4v1.7h-2.4zM66.8 729.7h2.4v1.7h-2.4zM66.8 745.9h2.4v1.7h-2.4zM78.7 750.8h2.4v1.1h-2.4zM83.5 726.5h2.4v1.7h-2.4zM88.2 622.8h2.4v1.7h-2.4zM88.2 749.1h2.4v1.7h-2.4zM90.5 621.2h2.4v1.7h-2.4zM90.5 642.2h2.4v1.7h-2.4zM90.5 671.4h2.4v1.7h-2.4zM90.5 682.7h2.4v1.7h-2.4zM90.5 749.1h2.4v1.7h-2.4zM92.8 626.0h2.4v1.7h-2.4zM92.8 627.6h2.4v1.7h-2.4zM92.8 671.4h2.4v1.7h-2.4zM92.8 674.6h2.4v1.7h-2.4zM92.8 728.1h2.4v1.7h-2.4zM95.1 637.4h2.4v1.7h-2.4zM95.1 664.9h2.4v1.7h-2.4zM95.1 710.3h2.4v1.7h-2.4zM95.1 711.9h2.4v1.7h-2.4zM95.1 721.6h2.4v1.7h-2.4zM95.1 726.5h2.4v1.7h-2.4zM95.1 731.3h2.4v1.7h-2.4zM97.5 609.8h2.4v1.7h-2.4zM97.5 632.5h2.4v1.7h-2.4zM97.5 671.4h2.4v1.7h-2.4zM97.5 729.7h2.4v1.7h-2.4zM97.5 739.4h2.4v1.7h-2.4zM99.8 614.7h2.4v1.7h-2.4zM99.8 622.8h2.4v1.7h-2.4zM99.8 624.4h2.4v1.7h-2.4zM99.8 626.0h2.4v1.7h-2.4zM99.8 627.6h2.4v1.7h-2.4zM99.8 632.5h2.4v1.7h-2.4zM99.8 645.5h2.4v1.7h-2.4zM99.8 694.1h2.4v1.7h-2.4zM99.8 707.0h2.4v1.7h-2.4zM99.8 739.4h2.4v1.7h-2.4zM99.8 747.5h2.4v1.7h-2.4zM102.1 613.1h2.4v1.7h-2.4zM102.1 616.3h2.4v1.7h-2.4zM102.1 627.6h2.4v1.7h-2.4zM102.1 635.7h2.4v1.7h-2.4zM102.1 637.4h2.4v1.7h-2.4zM102.1 658.4h2.4v1.7h-2.4zM102.1 720.0h2.4v1.7h-2.4zM102.1 747.5h2.4v1.7h-2.4zM104.4 617.9h2.4v1.7h-2.4zM104.4 619.5h2.4v1.7h-2.4zM104.4 632.5h2.4v1.7h-2.4zM104.4 635.7h2.4v1.7h-2.4zM104.4 643.8h2.4v1.7h-2.4zM104.4 651.9h2.4v1.7h-2.4zM104.4 684.3h2.4v1.7h-2.4zM109.1 721.6h2.4v1.7h-2.4zM111.5 616.3h2.4v1.7h-2.4zM123.3 707.0h2.4v1.7h-2.4zM123.3 749.1h2.4v1.7h-2.4zM125.7 689.2h2.4v1.7h-2.4zM130.4 749.1h2.4v1.7h-2.4zM132.8 613.1h2.4v1.7h-2.4zM132.8 671.4h2.4v1.7h-2.4zM132.8 674.6h2.4v1.7h-2.4zM132.8 705.4h2.4v1.7h-2.4zM132.8 721.6h2.4v1.7h-2.4zM132.8 726.5h2.4v1.7h-2.4zM135.1 617.9h2.4v1.7h-2.4zM135.1 642.2h2.4v1.7h-2.4zM135.1 647.1h2.4v1.7h-2.4zM135.1 651.9h2.4v1.7h-2.4zM135.1 711.9h2.4v1.7h-2.4zM135.1 749.1h2.4v1.7h-2.4zM137.4 690.8h2.4v1.7h-2.4zM137.4 695.7h2.4v1.7h-2.4zM137.4 711.9h2.4v1.7h-2.4zM137.4 713.5h2.4v1.7h-2.4zM137.4 721.6h2.4v1.7h-2.4zM137.4 741.0h2.4v1.7h-2.4zM137.4 745.9h2.4v1.7h-2.4zM139.8 608.2h2.4v1.7h-2.4zM139.8 611.4h2.4v1.7h-2.4zM139.8 624.4h2.4v1.7h-2.4zM139.8 648.7h2.4v1.7h-2.4zM139.8 653.6h2.4v1.7h-2.4zM139.8 658.4h2.4v1.7h-2.4zM139.8 681.1h2.4v1.7h-2.4zM139.8 689.2h2.4v1.7h-2.4zM142.1 616.3h2.4v1.7h-2.4zM142.1 619.5h2.4v1.7h-2.4zM142.1 634.1h2.4v1.7h-2.4zM142.1 669.8h2.4v1.7h-2.4zM142.1 676.2h2.4v1.7h-2.4zM144.4 613.1h2.4v1.7h-2.4zM144.4 630.9h2.4v1.7h-2.4zM144.4 695.7h2.4v1.7h-2.4zM146.7 609.8h2.4v1.7h-2.4zM146.7 614.7h2.4v1.7h-2.4zM146.7 617.9h2.4v1.7h-2.4zM146.7 619.5h2.4v1.7h-2.4zM146.7 637.4h2.4v1.7h-2.4zM146.7 651.9h2.4v1.7h-2.4zM146.7 669.8h2.4v1.7h-2.4zM146.7 686.0h2.4v1.7h-2.4zM146.7 749.1h2.4v1.7h-2.4zM149.1 632.5h2.4v1.7h-2.4zM149.1 642.2h2.4v1.7h-2.4zM149.1 739.4h2.4v1.7h-2.4zM151.4 614.7h2.4v1.7h-2.4zM151.4 616.3h2.4v1.7h-2.4zM151.4 660.0h2.4v1.7h-2.4zM151.4 664.9h2.4v1.7h-2.4zM151.4 673.0h2.4v1.7h-2.4zM151.4 682.7h2.4v1.7h-2.4zM151.4 692.4h2.4v1.7h-2.4zM151.4 698.9h2.4v1.7h-2.4zM151.4 700.5h2.4v1.7h-2.4zM151.4 749.1h2.4v1.7h-2.4zM151.4 750.8h2.4v1.1h-2.4z"/>
<path fill="#f3e4e5" d="M12.8 614.7h2.4v1.7h-2.4zM12.8 621.2h2.4v1.7h-2.4zM12.8 629.3h2.4v1.7h-2.4zM12.8 635.7h2.4v1.7h-2.4zM12.8 643.8h2.4v1.7h-2.4zM12.8 668.1h2.4v1.7h-2.4zM12.8 677.9h2.4v1.7h-2.4zM12.8 690.8h2.4v1.7h-2.4zM12.8 692.4h2.4v1.7h-2.4zM12.8 698.9h2.4v1.7h-2.4zM12.8 711.9h2.4v1.7h-2.4zM12.8 729.7h2.4v1.7h-2.4zM15.1 608.2h2.4v1.7h-2.4zM15.1 621.2h2.4v1.7h-2.4zM15.1 640.6h2.4v1.7h-2.4zM15.1 666.5h2.4v1.7h-2.4zM15.1 692.4h2.4v1.7h-2.4zM15.1 700.5h2.4v1.7h-2.4zM15.1 711.9h2.4v1.7h-2.4zM15.1 728.1h2.4v1.7h-2.4zM15.1 739.4h2.4v1.7h-2.4zM15.1 741.0h2.4v1.7h-2.4zM15.1 745.9h2.4v1.7h-2.4zM15.1 749.1h2.4v1.7h-2.4zM15.1 750.8h2.4v1.1h-2.4zM17.5 608.2h2.4v1.7h-2.4zM17.5 609.8h2.4v1.7h-2.4zM17.5 614.7h2.4v1.7h-2.4zM17.5 629.3h2.4v1.7h-2.4zM17.5 630.9h2.4v1.7h-2.4zM17.5 650.3h2.4v1.7h-2.4zM17.5 655.2h2.4v1.7h-2.4zM17.5 656.8h2.4v1.7h-2.4zM17.5 660.0h2.4v1.7h-2.4zM17.5 664.9h2.4v1.7h-2.4zM17.5 674.6h2.4v1.7h-2.4zM17.5 681.1h2.4v1.7h-2.4zM17.5 702.2h2.4v1.7h-2.4zM17.5 721.6h2.4v1.7h-2.4zM17.5 731.3h2.4v1.7h-2.4zM19.8 630.9h2.4v1.7h-2.4zM19.8 635.7h2.4v1.7h-2.4zM19.8 637.4h2.4v1.7h-2.4zM19.8 650.3h2.4v1.7h-2.4zM19.8 676.2h2.4v1.7h-2.4zM19.8 698.9h2.4v1.7h-2.4zM19.8 721.6h2.4v1.7h-2.4zM19.8 732.9h2.4v1.7h-2.4zM19.8 745.9h2.4v1.7h-2.4zM22.2 614.7h2.4v1.7h-2.4zM22.2 617.9h2.4v1.7h-2.4zM22.2 622.8h2.4v1.7h-2.4zM22.2 629.3h2.4v1.7h-2.4zM22.2 655.2h2.4v1.7h-2.4zM22.2 694.1h2.4v1.7h-2.4zM22.2 695.7h2.4v1.7h-2.4zM22.2 702.2h2.4v1.7h-2.4zM22.2 710.3h2.4v1.7h-2.4zM22.2 711.9h2.4v1.7h-2.4zM22.2 716.7h2.4v1.7h-2.4zM22.2 721.6h2.4v1.7h-2.4zM22.2 729.7h2.4v1.7h-2.4zM22.2 737.8h2.4v1.7h-2.4zM22.2 741.0h2.4v1.7h-2.4zM24.5 609.8h2.4v1.7h-2.4zM24.5 611.4h2.4v1.7h-2.4zM24.5 614.7h2.4v1.7h-2.4zM24.5 624.4h2.4v1.7h-2.4zM24.5 629.3h2.4v1.7h-2.4zM24.5 632.5h2.4v1.7h-2.4zM24.5 635.7h2.4v1.7h-2.4zM24.5 639.0h2.4v1.7h-2.4zM24.5 642.2h2.4v1.7h-2.4zM24.5 648.7h2.4v1.7h-2.4zM24.5 650.3h2.4v1.7h-2.4zM24.5 676.2h2.4v1.7h-2.4zM24.5 677.9h2.4v1.7h-2.4zM24.5 686.0h2.4v1.7h-2.4zM24.5 689.2h2.4v1.7h-2.4zM24.5 692.4h2.4v1.7h-2.4zM24.5 703.8h2.4v1.7h-2.4zM24.5 711.9h2.4v1.7h-2.4zM24.5 732.9h2.4v1.7h-2.4zM24.5 744.3h2.4v1.7h-2.4zM26.8 621.2h2.4v1.7h-2.4zM26.8 626.0h2.4v1.7h-2.4zM26.8 630.9h2.4v1.7h-2.4zM26.8 635.7h2.4v1.7h-2.4zM26.8 637.4h2.4v1.7h-2.4zM26.8 640.6h2.4v1.7h-2.4zM26.8 647.1h2.4v1.7h-2.4zM26.8 666.5h2.4v1.7h-2.4zM26.8 677.9h2.4v1.7h-2.4zM26.8 700.5h2.4v1.7h-2.4zM26.8 703.8h2.4v1.7h-2.4zM26.8 734.6h2.4v1.7h-2.4zM26.8 739.4h2.4v1.7h-2.4zM26.8 745.9h2.4v1.7h-2.4zM29.2 622.8h2.4v1.7h-2.4zM29.2 627.6h2.4v1.7h-2.4zM29.2 635.7h2.4v1.7h-2.4zM29.2 645.5h2.4v1.7h-2.4zM29.2 647.1h2.4v1.7h-2.4zM29.2 650.3h2.4v1.7h-2.4zM29.2 653.6h2.4v1.7h-2.4zM29.2 664.9h2.4v1.7h-2.4zM29.2 686.0h2.4v1.7h-2.4zM29.2 692.4h2.4v1.7h-2.4zM29.2 695.7h2.4v1.7h-2.4zM29.2 721.6h2.4v1.7h-2.4zM29.2 749.1h2.4v1.7h-2.4zM29.2 750.8h2.4v1.1h-2.4zM31.5 619.5h2.4v1.7h-2.4zM31.5 624.4h2.4v1.7h-2.4zM31.5 630.9h2.4v1.7h-2.4zM31.5 635.7h2.4v1.7h-2.4zM31.5 645.5h2.4v1.7h-2.4zM31.5 656.8h2.4v1.7h-2.4zM31.5 677.9h2.4v1.7h-2.4zM31.5 681.1h2.4v1.7h-2.4zM31.5 703.8h2.4v1.7h-2.4zM31.5 708.6h2.4v1.7h-2.4zM31.5 726.5h2.4v1.7h-2.4zM31.5 729.7h2.4v1.7h-2.4zM31.5 732.9h2.4v1.7h-2.4zM31.5 737.8h2.4v1.7h-2.4zM31.5 742.7h2.4v1.7h-2.4zM33.8 611.4h2.4v1.7h-2.4zM33.8 627.6h2.4v1.7h-2.4zM33.8 634.1h2.4v1.7h-2.4zM33.8 642.2h2.4v1.7h-2.4zM33.8 650.3h2.4v1.7h-2.4zM33.8 664.9h2.4v1.7h-2.4zM33.8 677.9h2.4v1.7h-2.4zM33.8 697.3h2.4v1.7h-2.4zM33.8 698.9h2.4v1.7h-2.4zM33.8 703.8h2.4v1.7h-2.4zM33.8 707.0h2.4v1.7h-2.4zM33.8 708.6h2.4v1.7h-2.4zM33.8 715.1h2.4v1.7h-2.4zM33.8 726.5h2.4v1.7h-2.4zM33.8 729.7h2.4v1.7h-2.4zM36.2 611.4h2.4v1.7h-2.4zM36.2 617.9h2.4v1.7h-2.4zM36.2 624.4h2.4v1.7h-2.4zM36.2 637.4h2.4v1.7h-2.4zM36.2 639.0h2.4v1.7h-2.4zM36.2 642.2h2.4v1.7h-2.4zM36.2 643.8h2.4v1.7h-2.4zM36.2 669.8h2.4v1.7h-2.4zM36.2 673.0h2.4v1.7h-2.4zM36.2 674.6h2.4v1.7h-2.4zM36.2 681.1h2.4v1.7h-2.4zM36.2 687.6h2.4v1.7h-2.4zM36.2 702.2h2.4v1.7h-2.4zM36.2 708.6h2.4v1.7h-2.4zM36.2 715.1h2.4v1.7h-2.4zM36.2 723.2h2.4v1.7h-2.4zM36.2 750.8h2.4v1.1h-2.4zM38.5 611.4h2.4v1.7h-2.4zM38.5 617.9h2.4v1.7h-2.4zM38.5 622.8h2.4v1.7h-2.4zM38.5 627.6h2.4v1.7h-2.4zM38.5 630.9h2.4v1.7h-2.4zM38.5 632.5h2.4v1.7h-2.4zM38.5 639.0h2.4v1.7h-2.4zM38.5 642.2h2.4v1.7h-2.4zM38.5 650.3h2.4v1.7h-2.4zM38.5 676.2h2.4v1.7h-2.4zM38.5 679.5h2.4v1.7h-2.4zM38.5 684.3h2.4v1.7h-2.4zM38.5 705.4h2.4v1.7h-2.4zM38.5 715.1h2.4v1.7h-2.4zM38.5 716.7h2.4v1.7h-2.4zM38.5 731.3h2.4v1.7h-2.4zM38.5 736.2h2.4v1.7h-2.4zM38.5 750.8h2.4v1.1h-2.4zM40.9 614.7h2.4v1.7h-2.4zM40.9 621.2h2.4v1.7h-2.4zM40.9 627.6h2.4v1.7h-2.4zM40.9 660.0h2.4v1.7h-2.4zM40.9 666.5h2.4v1.7h-2.4zM40.9 687.6h2.4v1.7h-2.4zM40.9 697.3h2.4v1.7h-2.4zM40.9 700.5h2.4v1.7h-2.4zM40.9 702.2h2.4v1.7h-2.4zM40.9 705.4h2.4v1.7h-2.4zM40.9 715.1h2.4v1.7h-2.4zM40.9 721.6h2.4v1.7h-2.4zM40.9 737.8h2.4v1.7h-2.4zM40.9 742.7h2.4v1.7h-2.4zM40.9 744.3h2.4v1.7h-2.4zM40.9 745.9h2.4v1.7h-2.4zM43.2 622.8h2.4v1.7h-2.4zM43.2 629.3h2.4v1.7h-2.4zM43.2 640.6h2.4v1.7h-2.4zM43.2 676.2h2.4v1.7h-2.4zM43.2 689.2h2.4v1.7h-2.4zM43.2 694.1h2.4v1.7h-2.4zM43.2 697.3h2.4v1.7h-2.4zM43.2 702.2h2.4v1.7h-2.4zM43.2 713.5h2.4v1.7h-2.4zM43.2 715.1h2.4v1.7h-2.4zM43.2 731.3h2.4v1.7h-2.4zM43.2 750.8h2.4v1.1h-2.4zM45.5 616.3h2.4v1.7h-2.4zM45.5 621.2h2.4v1.7h-2.4zM45.5 622.8h2.4v1.7h-2.4zM45.5 626.0h2.4v1.7h-2.4zM45.5 627.6h2.4v1.7h-2.4zM45.5 630.9h2.4v1.7h-2.4zM45.5 632.5h2.4v1.7h-2.4zM45.5 634.1h2.4v1.7h-2.4zM45.5 651.9h2.4v1.7h-2.4zM45.5 655.2h2.4v1.7h-2.4zM45.5 656.8h2.4v1.7h-2.4zM45.5 658.4h2.4v1.7h-2.4zM45.5 660.0h2.4v1.7h-2.4zM45.5 677.9h2.4v1.7h-2.4zM45.5 698.9h2.4v1.7h-2.4zM45.5 708.6h2.4v1.7h-2.4zM45.5 710.3h2.4v1.7h-2.4zM45.5 713.5h2.4v1.7h-2.4zM45.5 744.3h2.4v1.7h-2.4zM45.5 747.5h2.4v1.7h-2.4zM47.9 609.8h2.4v1.7h-2.4zM47.9 616.3h2.4v1.7h-2.4zM47.9 619.5h2.4v1.7h-2.4zM47.9 626.0h2.4v1.7h-2.4zM47.9 650.3h2.4v1.7h-2.4zM47.9 655.2h2.4v1.7h-2.4zM47.9 673.0h2.4v1.7h-2.4zM47.9 687.6h2.4v1.7h-2.4zM47.9 711.9h2.4v1.7h-2.4zM47.9 723.2h2.4v1.7h-2.4zM47.9 724.8h2.4v1.7h-2.4zM47.9 736.2h2.4v1.7h-2.4zM50.2 616.3h2.4v1.7h-2.4zM50.2 617.9h2.4v1.7h-2.4zM50.2 622.8h2.4v1.7h-2.4zM50.2 634.1h2.4v1.7h-2.4zM50.2 639.0h2.4v1.7h-2.4zM50.2 642.2h2.4v1.7h-2.4zM50.2 645.5h2.4v1.7h-2.4zM50.2 661.7h2.4v1.7h-2.4zM50.2 679.5h2.4v1.7h-2.4zM50.2 686.0h2.4v1.7h-2.4zM50.2 694.1h2.4v1.7h-2.4zM50.2 695.7h2.4v1.7h-2.4zM50.2 715.1h2.4v1.7h-2.4zM52.6 626.0h2.4v1.7h-2.4zM52.6 634.1h2.4v1.7h-2.4zM52.6 635.7h2.4v1.7h-2.4zM52.6 648.7h2.4v1.7h-2.4zM52.6 668.1h2.4v1.7h-2.4zM52.6 689.2h2.4v1.7h-2.4zM52.6 702.2h2.4v1.7h-2.4zM52.6 713.5h2.4v1.7h-2.4zM52.6 724.8h2.4v1.7h-2.4zM52.6 729.7h2.4v1.7h-2.4zM52.6 734.6h2.4v1.7h-2.4zM52.6 737.8h2.4v1.7h-2.4zM52.6 741.0h2.4v1.7h-2.4zM52.6 749.1h2.4v1.7h-2.4zM52.6 750.8h2.4v1.1h-2.4zM55.0 661.7h2.4v1.7h-2.4zM55.0 673.0h2.4v1.7h-2.4zM55.0 679.5h2.4v1.7h-2.4zM55.0 698.9h2.4v1.7h-2.4zM55.0 705.4h2.4v1.7h-2.4zM55.0 718.4h2.4v1.7h-2.4zM55.0 721.6h2.4v1.7h-2.4zM55.0 724.8h2.4v1.7h-2.4zM55.0 726.5h2.4v1.7h-2.4zM55.0 734.6h2.4v1.7h-2.4zM57.3 621.2h2.4v1.7h-2.4zM57.3 639.0h2.4v1.7h-2.4zM57.3 676.2h2.4v1.7h-2.4zM57.3 686.0h2.4v1.7h-2.4zM57.3 700.5h2.4v1.7h-2.4zM57.3 703.8h2.4v1.7h-2.4zM57.3 711.9h2.4v1.7h-2.4zM57.3 731.3h2.4v1.7h-2.4zM57.3 745.9h2.4v1.7h-2.4zM57.3 747.5h2.4v1.7h-2.4zM59.7 640.6h2.4v1.7h-2.4zM59.7 642.2h2.4v1.7h-2.4zM59.7 650.3h2.4v1.7h-2.4zM59.7 656.8h2.4v1.7h-2.4zM59.7 663.3h2.4v1.7h-2.4zM59.7 700.5h2.4v1.7h-2.4zM59.7 742.7h2.4v1.7h-2.4zM62.1 627.6h2.4v1.7h-2.4zM62.1 643.8h2.4v1.7h-2.4zM62.1 648.7h2.4v1.7h-2.4zM62.1 676.2h2.4v1.7h-2.4zM62.1 679.5h2.4v1.7h-2.4zM62.1 684.3h2.4v1.7h-2.4zM62.1 702.2h2.4v1.7h-2.4zM62.1 710.3h2.4v1.7h-2.4zM62.1 711.9h2.4v1.7h-2.4zM62.1 715.1h2.4v1.7h-2.4zM62.1 721.6h2.4v1.7h-2.4zM62.1 729.7h2.4v1.7h-2.4zM62.1 739.4h2.4v1.7h-2.4zM62.1 744.3h2.4v1.7h-2.4zM62.1 747.5h2.4v1.7h-2.4zM64.5 634.1h2.4v1.7h-2.4zM64.5 651.9h2.4v1.7h-2.4zM64.5 689.2h2.4v1.7h-2.4zM64.5 737.8h2.4v1.7h-2.4zM66.8 626.0h2.4v1.7h-2.4zM66.8 635.7h2.4v1.7h-2.4zM66.8 648.7h2.4v1.7h-2.4zM66.8 651.9h2.4v1.7h-2.4zM66.8 653.6h2.4v1.7h-2.4zM66.8 676.2h2.4v1.7h-2.4zM66.8 686.0h2.4v1.7h-2.4zM66.8 707.0h2.4v1.7h-2.4zM66.8 737.8h2.4v1.7h-2.4zM66.8 750.8h2.4v1.1h-2.4zM81.1 707.0h2.4v1.7h-2.4zM85.8 671.4h2.4v1.7h-2.4zM85.8 750.8h2.4v1.1h-2.4zM88.2 632.5h2.4v1.7h-2.4zM88.2 664.9h2.4v1.7h-2.4zM88.2 681.1h2.4v1.7h-2.4zM90.5 626.0h2.4v1.7h-2.4zM90.5 648.7h2.4v1.7h-2.4zM90.5 655.2h2.4v1.7h-2.4zM90.5 656.8h2.4v1.7h-2.4zM90.5 681.1h2.4v1.7h-2.4zM90.5 731.3h2.4v1.7h-2.4zM92.8 613.1h2.4v1.7h-2.4zM92.8 616.3h2.4v1.7h-2.4zM92.8 643.8h2.4v1.7h-2.4zM92.8 645.5h2.4v1.7h-2.4zM92.8 658.4h2.4v1.7h-2.4zM92.8 676.2h2.4v1.7h-2.4zM92.8 682.7h2.4v1.7h-2.4zM95.1 613.1h2.4v1.7h-2.4zM95.1 616.3h2.4v1.7h-2.4zM95.1 622.8h2.4v1.7h-2.4zM95.1 671.4h2.4v1.7h-2.4zM95.1 694.1h2.4v1.7h-2.4zM95.1 707.0h2.4v1.7h-2.4zM95.1 729.7h2.4v1.7h-2.4zM95.1 737.8h2.4v1.7h-2.4zM95.1 739.4h2.4v1.7h-2.4zM97.5 616.3h2.4v1.7h-2.4zM97.5 622.8h2.4v1.7h-2.4zM97.5 640.6h2.4v1.7h-2.4zM97.5 643.8h2.4v1.7h-2.4zM97.5 648.7h2.4v1.7h-2.4zM97.5 658.4h2.4v1.7h-2.4zM97.5 676.2h2.4v1.7h-2.4zM97.5 749.1h2.4v1.7h-2.4zM97.5 750.8h2.4v1.1h-2.4zM99.8 616.3h2.4v1.7h-2.4zM99.8 629.3h2.4v1.7h-2.4zM99.8 648.7h2.4v1.7h-2.4zM99.8 749.1h2.4v1.7h-2.4zM102.1 614.7h2.4v1.7h-2.4zM102.1 660.0h2.4v1.7h-2.4zM102.1 663.3h2.4v1.7h-2.4zM102.1 671.4h2.4v1.7h-2.4zM104.4 663.3h2.4v1.7h-2.4zM104.4 664.9h2.4v1.7h-2.4zM104.4 668.1h2.4v1.7h-2.4zM104.4 673.0h2.4v1.7h-2.4zM104.4 677.9h2.4v1.7h-2.4zM104.4 681.1h2.4v1.7h-2.4zM109.1 707.0h2.4v1.7h-2.4zM109.1 711.9h2.4v1.7h-2.4zM109.1 731.3h2.4v1.7h-2.4zM109.1 750.8h2.4v1.1h-2.4zM111.5 682.7h2.4v1.7h-2.4zM118.6 642.2h2.4v1.7h-2.4zM125.7 739.4h2.4v1.7h-2.4zM132.8 694.1h2.4v1.7h-2.4zM132.8 698.9h2.4v1.7h-2.4zM132.8 711.9h2.4v1.7h-2.4zM132.8 747.5h2.4v1.7h-2.4zM132.8 750.8h2.4v1.1h-2.4zM135.1 616.3h2.4v1.7h-2.4zM135.1 619.5h2.4v1.7h-2.4zM135.1 643.8h2.4v1.7h-2.4zM135.1 653.6h2.4v1.7h-2.4zM135.1 655.2h2.4v1.7h-2.4zM135.1 663.3h2.4v1.7h-2.4zM135.1 669.8h2.4v1.7h-2.4zM137.4 616.3h2.4v1.7h-2.4zM137.4 671.4h2.4v1.7h-2.4zM137.4 674.6h2.4v1.7h-2.4zM137.4 697.3h2.4v1.7h-2.4zM137.4 715.1h2.4v1.7h-2.4zM137.4 739.4h2.4v1.7h-2.4zM137.4 750.8h2.4v1.1h-2.4zM139.8 630.9h2.4v1.7h-2.4zM139.8 635.7h2.4v1.7h-2.4zM139.8 642.2h2.4v1.7h-2.4zM139.8 643.8h2.4v1.7h-2.4zM139.8 674.6h2.4v1.7h-2.4zM139.8 676.2h2.4v1.7h-2.4zM139.8 707.0h2.4v1.7h-2.4zM142.1 609.8h2.4v1.7h-2.4zM142.1 617.9h2.4v1.7h-2.4zM142.1 642.2h2.4v1.7h-2.4zM142.1 658.4h2.4v1.7h-2.4zM142.1 666.5h2.4v1.7h-2.4zM144.4 608.2h2.4v1.7h-2.4zM144.4 632.5h2.4v1.7h-2.4zM144.4 640.6h2.4v1.7h-2.4zM144.4 663.3h2.4v1.7h-2.4zM144.4 671.4h2.4v1.7h-2.4zM144.4 707.0h2.4v1.7h-2.4zM144.4 739.4h2.4v1.7h-2.4zM144.4 747.5h2.4v1.7h-2.4zM146.7 622.8h2.4v1.7h-2.4zM146.7 660.0h2.4v1.7h-2.4zM146.7 671.4h2.4v1.7h-2.4zM146.7 677.9h2.4v1.7h-2.4zM146.7 687.6h2.4v1.7h-2.4zM149.1 629.3h2.4v1.7h-2.4zM149.1 630.9h2.4v1.7h-2.4zM149.1 664.9h2.4v1.7h-2.4zM149.1 686.0h2.4v1.7h-2.4zM149.1 731.3h2.4v1.7h-2.4zM151.4 608.2h2.4v1.7h-2.4zM151.4 609.8h2.4v1.7h-2.4zM151.4 626.0h2.4v1.7h-2.4zM151.4 634.1h2.4v1.7h-2.4zM151.4 663.3h2.4v1.7h-2.4zM151.4 687.6h2.4v1.7h-2.4z"/>
<path fill="#efd2d3" d="M12.8 653.6h2.4v1.7h-2.4zM12.8 655.2h2.4v1.7h-2.4zM12.8 689.2h2.4v1.7h-2.4zM12.8 736.2h2.4v1.7h-2.4zM12.8 744.3h2.4v1.7h-2.4zM15.1 634.1h2.4v1.7h-2.4zM15.1 655.2h2.4v1.7h-2.4zM15.1 656.8h2.4v1.7h-2.4zM15.1 661.7h2.4v1.7h-2.4zM15.1 669.8h2.4v1.7h-2.4zM15.1 674.6h2.4v1.7h-2.4zM15.1 695.7h2.4v1.7h-2.4zM15.1 715.1h2.4v1.7h-2.4zM15.1 716.7h2.4v1.7h-2.4zM15.1 729.7h2.4v1.7h-2.4zM17.5 661.7h2.4v1.7h-2.4zM17.5 684.3h2.4v1.7h-2.4zM17.5 686.0h2.4v1.7h-2.4zM17.5 707.0h2.4v1.7h-2.4zM17.5 713.5h2.4v1.7h-2.4zM17.5 724.8h2.4v1.7h-2.4zM17.5 726.5h2.4v1.7h-2.4zM19.8 611.4h2.4v1.7h-2.4zM19.8 621.2h2.4v1.7h-2.4zM19.8 656.8h2.4v1.7h-2.4zM19.8 658.4h2.4v1.7h-2.4zM19.8 684.3h2.4v1.7h-2.4zM19.8 686.0h2.4v1.7h-2.4zM19.8 694.1h2.4v1.7h-2.4zM19.8 715.1h2.4v1.7h-2.4zM19.8 731.3h2.4v1.7h-2.4zM19.8 737.8h2.4v1.7h-2.4zM22.2 619.5h2.4v1.7h-2.4zM22.2 621.2h2.4v1.7h-2.4zM22.2 626.0h2.4v1.7h-2.4zM22.2 640.6h2.4v1.7h-2.4zM22.2 642.2h2.4v1.7h-2.4zM22.2 650.3h2.4v1.7h-2.4zM22.2 684.3h2.4v1.7h-2.4zM22.2 707.0h2.4v1.7h-2.4zM22.2 713.5h2.4v1.7h-2.4zM22.2 723.2h2.4v1.7h-2.4zM22.2 728.1h2.4v1.7h-2.4zM22.2 732.9h2.4v1.7h-2.4zM22.2 734.6h2.4v1.7h-2.4zM24.5 619.5h2.4v1.7h-2.4zM24.5 621.2h2.4v1.7h-2.4zM24.5 656.8h2.4v1.7h-2.4zM24.5 671.4h2.4v1.7h-2.4zM24.5 684.3h2.4v1.7h-2.4zM24.5 707.0h2.4v1.7h-2.4zM24.5 726.5h2.4v1.7h-2.4zM26.8 645.5h2.4v1.7h-2.4zM26.8 650.3h2.4v1.7h-2.4zM26.8 661.7h2.4v1.7h-2.4zM26.8 674.6h2.4v1.7h-2.4zM26.8 682.7h2.4v1.7h-2.4zM26.8 702.2h2.4v1.7h-2.4zM26.8 731.3h2.4v1.7h-2.4zM29.2 617.9h2.4v1.7h-2.4zM29.2 637.4h2.4v1.7h-2.4zM29.2 689.2h2.4v1.7h-2.4zM29.2 694.1h2.4v1.7h-2.4zM29.2 698.9h2.4v1.7h-2.4zM29.2 732.9h2.4v1.7h-2.4zM29.2 737.8h2.4v1.7h-2.4zM29.2 742.7h2.4v1.7h-2.4zM29.2 747.5h2.4v1.7h-2.4zM31.5 629.3h2.4v1.7h-2.4zM31.5 640.6h2.4v1.7h-2.4zM31.5 643.8h2.4v1.7h-2.4zM31.5 647.1h2.4v1.7h-2.4zM31.5 653.6h2.4v1.7h-2.4zM31.5 655.2h2.4v1.7h-2.4zM31.5 668.1h2.4v1.7h-2.4zM31.5 673.0h2.4v1.7h-2.4zM31.5 679.5h2.4v1.7h-2.4zM31.5 690.8h2.4v1.7h-2.4zM31.5 694.1h2.4v1.7h-2.4zM31.5 718.4h2.4v1.7h-2.4zM31.5 720.0h2.4v1.7h-2.4zM31.5 723.2h2.4v1.7h-2.4zM31.5 747.5h2.4v1.7h-2.4zM31.5 749.1h2.4v1.7h-2.4zM33.8 617.9h2.4v1.7h-2.4zM33.8 619.5h2.4v1.7h-2.4zM33.8 629.3h2.4v1.7h-2.4zM33.8 661.7h2.4v1.7h-2.4zM33.8 669.8h2.4v1.7h-2.4zM33.8 687.6h2.4v1.7h-2.4zM33.8 716.7h2.4v1.7h-2.4zM33.8 723.2h2.4v1.7h-2.4zM33.8 745.9h2.4v1.7h-2.4zM33.8 747.5h2.4v1.7h-2.4zM36.2 621.2h2.4v1.7h-2.4zM36.2 655.2h2.4v1.7h-2.4zM36.2 656.8h2.4v1.7h-2.4zM36.2 684.3h2.4v1.7h-2.4zM36.2 692.4h2.4v1.7h-2.4zM36.2 703.8h2.4v1.7h-2.4zM36.2 707.0h2.4v1.7h-2.4zM36.2 737.8h2.4v1.7h-2.4zM36.2 745.9h2.4v1.7h-2.4zM38.5 640.6h2.4v1.7h-2.4zM38.5 661.7h2.4v1.7h-2.4zM38.5 668.1h2.4v1.7h-2.4zM38.5 674.6h2.4v1.7h-2.4zM38.5 690.8h2.4v1.7h-2.4zM38.5 718.4h2.4v1.7h-2.4zM38.5 729.7h2.4v1.7h-2.4zM40.9 624.4h2.4v1.7h-2.4zM40.9 632.5h2.4v1.7h-2.4zM40.9 650.3h2.4v1.7h-2.4zM40.9 698.9h2.4v1.7h-2.4zM40.9 707.0h2.4v1.7h-2.4zM40.9 739.4h2.4v1.7h-2.4zM40.9 749.1h2.4v1.7h-2.4zM43.2 647.1h2.4v1.7h-2.4zM43.2 655.2h2.4v1.7h-2.4zM43.2 677.9h2.4v1.7h-2.4zM43.2 686.0h2.4v1.7h-2.4zM43.2 721.6h2.4v1.7h-2.4zM45.5 619.5h2.4v1.7h-2.4zM45.5 624.4h2.4v1.7h-2.4zM45.5 645.5h2.4v1.7h-2.4zM45.5 653.6h2.4v1.7h-2.4zM45.5 664.9h2.4v1.7h-2.4zM45.5 666.5h2.4v1.7h-2.4zM45.5 681.1h2.4v1.7h-2.4zM45.5 689.2h2.4v1.7h-2.4zM45.5 690.8h2.4v1.7h-2.4zM45.5 697.3h2.4v1.7h-2.4zM45.5 703.8h2.4v1.7h-2.4zM45.5 711.9h2.4v1.7h-2.4zM45.5 718.4h2.4v1.7h-2.4zM45.5 736.2h2.4v1.7h-2.4zM47.9 642.2h2.4v1.7h-2.4zM47.9 647.1h2.4v1.7h-2.4zM47.9 653.6h2.4v1.7h-2.4zM47.9 686.0h2.4v1.7h-2.4zM47.9 689.2h2.4v1.7h-2.4zM47.9 710.3h2.4v1.7h-2.4zM50.2 621.2h2.4v1.7h-2.4zM50.2 640.6h2.4v1.7h-2.4zM50.2 651.9h2.4v1.7h-2.4zM50.2 668.1h2.4v1.7h-2.4zM50.2 684.3h2.4v1.7h-2.4zM50.2 697.3h2.4v1.7h-2.4zM50.2 707.0h2.4v1.7h-2.4zM50.2 729.7h2.4v1.7h-2.4zM50.2 747.5h2.4v1.7h-2.4zM52.6 617.9h2.4v1.7h-2.4zM52.6 677.9h2.4v1.7h-2.4zM52.6 705.4h2.4v1.7h-2.4zM52.6 731.3h2.4v1.7h-2.4zM52.6 739.4h2.4v1.7h-2.4zM52.6 744.3h2.4v1.7h-2.4zM55.0 643.8h2.4v1.7h-2.4zM55.0 656.8h2.4v1.7h-2.4zM55.0 692.4h2.4v1.7h-2.4zM55.0 694.1h2.4v1.7h-2.4zM55.0 695.7h2.4v1.7h-2.4zM55.0 700.5h2.4v1.7h-2.4zM55.0 703.8h2.4v1.7h-2.4zM55.0 745.9h2.4v1.7h-2.4zM57.3 611.4h2.4v1.7h-2.4zM57.3 689.2h2.4v1.7h-2.4zM57.3 690.8h2.4v1.7h-2.4zM57.3 694.1h2.4v1.7h-2.4zM57.3 715.1h2.4v1.7h-2.4zM57.3 741.0h2.4v1.7h-2.4zM57.3 750.8h2.4v1.1h-2.4zM59.7 653.6h2.4v1.7h-2.4zM59.7 655.2h2.4v1.7h-2.4zM59.7 658.4h2.4v1.7h-2.4zM59.7 681.1h2.4v1.7h-2.4zM59.7 694.1h2.4v1.7h-2.4zM59.7 698.9h2.4v1.7h-2.4zM59.7 728.1h2.4v1.7h-2.4zM59.7 737.8h2.4v1.7h-2.4zM59.7 739.4h2.4v1.7h-2.4zM62.1 616.3h2.4v1.7h-2.4zM62.1 617.9h2.4v1.7h-2.4zM62.1 626.0h2.4v1.7h-2.4zM62.1 632.5h2.4v1.7h-2.4zM62.1 634.1h2.4v1.7h-2.4zM62.1 639.0h2.4v1.7h-2.4zM62.1 669.8h2.4v1.7h-2.4zM62.1 703.8h2.4v1.7h-2.4zM62.1 716.7h2.4v1.7h-2.4zM62.1 742.7h2.4v1.7h-2.4zM62.1 745.9h2.4v1.7h-2.4zM64.5 643.8h2.4v1.7h-2.4zM64.5 655.2h2.4v1.7h-2.4zM64.5 681.1h2.4v1.7h-2.4zM64.5 692.4h2.4v1.7h-2.4zM64.5 694.1h2.4v1.7h-2.4zM64.5 695.7h2.4v1.7h-2.4zM64.5 700.5h2.4v1.7h-2.4zM64.5 703.8h2.4v1.7h-2.4zM64.5 710.3h2.4v1.7h-2.4zM64.5 715.1h2.4v1.7h-2.4zM64.5 718.4h2.4v1.7h-2.4zM64.5 726.5h2.4v1.7h-2.4zM64.5 732.9h2.4v1.7h-2.4zM64.5 745.9h2.4v1.7h-2.4zM64.5 749.1h2.4v1.7h-2.4zM66.8 621.2h2.4v1.7h-2.4zM66.8 666.5h2.4v1.7h-2.4zM66.8 689.2h2.4v1.7h-2.4zM66.8 702.2h2.4v1.7h-2.4zM66.8 703.8h2.4v1.7h-2.4zM66.8 716.7h2.4v1.7h-2.4zM66.8 747.5h2.4v1.7h-2.4zM69.2 658.4h2.4v1.7h-2.4zM69.2 671.4h2.4v1.7h-2.4zM71.6 687.6h2.4v1.7h-2.4zM78.7 616.3h2.4v1.7h-2.4zM83.5 731.3h2.4v1.7h-2.4zM88.2 609.8h2.4v1.7h-2.4zM88.2 627.6h2.4v1.7h-2.4zM88.2 640.6h2.4v1.7h-2.4zM88.2 642.2h2.4v1.7h-2.4zM88.2 645.5h2.4v1.7h-2.4zM88.2 671.4h2.4v1.7h-2.4zM90.5 608.2h2.4v1.7h-2.4zM90.5 611.4h2.4v1.7h-2.4zM90.5 643.8h2.4v1.7h-2.4zM90.5 653.6h2.4v1.7h-2.4zM90.5 663.3h2.4v1.7h-2.4zM90.5 674.6h2.4v1.7h-2.4zM90.5 676.2h2.4v1.7h-2.4zM90.5 684.3h2.4v1.7h-2.4zM90.5 687.6h2.4v1.7h-2.4zM92.8 622.8h2.4v1.7h-2.4zM92.8 632.5h2.4v1.7h-2.4zM92.8 635.7h2.4v1.7h-2.4zM92.8 642.2h2.4v1.7h-2.4zM92.8 651.9h2.4v1.7h-2.4zM92.8 663.3h2.4v1.7h-2.4zM92.8 666.5h2.4v1.7h-2.4zM92.8 668.1h2.4v1.7h-2.4zM95.1 611.4h2.4v1.7h-2.4zM95.1 642.2h2.4v1.7h-2.4zM95.1 682.7h2.4v1.7h-2.4zM97.5 637.4h2.4v1.7h-2.4zM97.5 642.2h2.4v1.7h-2.4zM97.5 645.5h2.4v1.7h-2.4zM97.5 651.9h2.4v1.7h-2.4zM97.5 660.0h2.4v1.7h-2.4zM97.5 669.8h2.4v1.7h-2.4zM97.5 679.5h2.4v1.7h-2.4zM97.5 684.3h2.4v1.7h-2.4zM99.8 642.2h2.4v1.7h-2.4zM99.8 671.4h2.4v1.7h-2.4zM99.8 674.6h2.4v1.7h-2.4zM99.8 676.2h2.4v1.7h-2.4zM99.8 684.3h2.4v1.7h-2.4zM99.8 687.6h2.4v1.7h-2.4zM99.8 731.3h2.4v1.7h-2.4zM102.1 645.5h2.4v1.7h-2.4zM102.1 666.5h2.4v1.7h-2.4zM102.1 676.2h2.4v1.7h-2.4zM102.1 686.0h2.4v1.7h-2.4zM102.1 695.7h2.4v1.7h-2.4zM102.1 703.8h2.4v1.7h-2.4zM104.4 624.4h2.4v1.7h-2.4zM104.4 626.0h2.4v1.7h-2.4zM104.4 629.3h2.4v1.7h-2.4zM104.4 653.6h2.4v1.7h-2.4zM111.5 622.8h2.4v1.7h-2.4zM111.5 626.0h2.4v1.7h-2.4zM111.5 663.3h2.4v1.7h-2.4zM121.0 616.3h2.4v1.7h-2.4zM123.3 616.3h2.4v1.7h-2.4zM132.8 622.8h2.4v1.7h-2.4zM132.8 713.5h2.4v1.7h-2.4zM132.8 715.1h2.4v1.7h-2.4zM132.8 749.1h2.4v1.7h-2.4zM135.1 626.0h2.4v1.7h-2.4zM135.1 639.0h2.4v1.7h-2.4zM135.1 640.6h2.4v1.7h-2.4zM135.1 645.5h2.4v1.7h-2.4zM135.1 674.6h2.4v1.7h-2.4zM135.1 682.7h2.4v1.7h-2.4zM137.4 663.3h2.4v1.7h-2.4zM137.4 689.2h2.4v1.7h-2.4zM137.4 707.0h2.4v1.7h-2.4zM137.4 749.1h2.4v1.7h-2.4zM139.8 614.7h2.4v1.7h-2.4zM139.8 632.5h2.4v1.7h-2.4zM139.8 640.6h2.4v1.7h-2.4zM139.8 647.1h2.4v1.7h-2.4zM139.8 660.0h2.4v1.7h-2.4zM139.8 664.9h2.4v1.7h-2.4zM139.8 666.5h2.4v1.7h-2.4zM139.8 669.8h2.4v1.7h-2.4zM139.8 679.5h2.4v1.7h-2.4zM139.8 682.7h2.4v1.7h-2.4zM139.8 747.5h2.4v1.7h-2.4zM142.1 626.0h2.4v1.7h-2.4zM142.1 635.7h2.4v1.7h-2.4zM142.1 645.5h2.4v1.7h-2.4zM142.1 648.7h2.4v1.7h-2.4zM142.1 656.8h2.4v1.7h-2.4zM142.1 668.1h2.4v1.7h-2.4zM142.1 684.3h2.4v1.7h-2.4zM142.1 747.5h2.4v1.7h-2.4zM144.4 609.8h2.4v1.7h-2.4zM144.4 637.4h2.4v1.7h-2.4zM144.4 650.3h2.4v1.7h-2.4zM144.4 653.6h2.4v1.7h-2.4zM144.4 655.2h2.4v1.7h-2.4zM144.4 658.4h2.4v1.7h-2.4zM144.4 660.0h2.4v1.7h-2.4zM144.4 686.0h2.4v1.7h-2.4zM144.4 705.4h2.4v1.7h-2.4zM146.7 608.2h2.4v1.7h-2.4zM146.7 621.2h2.4v1.7h-2.4zM146.7 624.4h2.4v1.7h-2.4zM146.7 632.5h2.4v1.7h-2.4zM146.7 640.6h2.4v1.7h-2.4zM146.7 663.3h2.4v1.7h-2.4zM146.7 664.9h2.4v1.7h-2.4zM146.7 668.1h2.4v1.7h-2.4zM146.7 673.0h2.4v1.7h-2.4zM149.1 613.1h2.4v1.7h-2.4zM149.1 647.1h2.4v1.7h-2.4zM149.1 648.7h2.4v1.7h-2.4zM149.1 669.8h2.4v1.7h-2.4zM149.1 681.1h2.4v1.7h-2.4zM151.4 645.5h2.4v1.7h-2.4zM151.4 648.7h2.4v1.7h-2.4zM151.4 653.6h2.4v1.7h-2.4zM151.4 676.2h2.4v1.7h-2.4zM151.4 681.1h2.4v1.7h-2.4zM151.4 686.0h2.4v1.7h-2.4z"/>
<path fill="#ebc0c1" d="M12.8 624.4h2.4v1.7h-2.4zM12.8 639.0h2.4v1.7h-2.4zM12.8 640.6h2.4v1.7h-2.4zM12.8 658.4h2.4v1.7h-2.4zM12.8 663.3h2.4v1.7h-2.4zM12.8 666.5h2.4v1.7h-2.4zM12.8 682.7h2.4v1.7h-2.4zM12.8 697.3h2.4v1.7h-2.4zM12.8 710.3h2.4v1.7h-2.4zM12.8 721.6h2.4v1.7h-2.4zM15.1 609.8h2.4v1.7h-2.4zM15.1 611.4h2.4v1.7h-2.4zM15.1 639.0h2.4v1.7h-2.4zM15.1 642.2h2.4v1.7h-2.4zM15.1 650.3h2.4v1.7h-2.4zM15.1 676.2h2.4v1.7h-2.4zM15.1 677.9h2.4v1.7h-2.4zM15.1 726.5h2.4v1.7h-2.4zM17.5 651.9h2.4v1.7h-2.4zM17.5 666.5h2.4v1.7h-2.4zM17.5 669.8h2.4v1.7h-2.4zM17.5 694.1h2.4v1.7h-2.4zM17.5 711.9h2.4v1.7h-2.4zM17.5 720.0h2.4v1.7h-2.4zM17.5 747.5h2.4v1.7h-2.4zM19.8 648.7h2.4v1.7h-2.4zM19.8 666.5h2.4v1.7h-2.4zM19.8 668.1h2.4v1.7h-2.4zM19.8 682.7h2.4v1.7h-2.4zM22.2 639.0h2.4v1.7h-2.4zM22.2 645.5h2.4v1.7h-2.4zM22.2 658.4h2.4v1.7h-2.4zM22.2 661.7h2.4v1.7h-2.4zM22.2 682.7h2.4v1.7h-2.4zM22.2 698.9h2.4v1.7h-2.4zM22.2 726.5h2.4v1.7h-2.4zM24.5 653.6h2.4v1.7h-2.4zM24.5 661.7h2.4v1.7h-2.4zM24.5 694.1h2.4v1.7h-2.4zM24.5 728.1h2.4v1.7h-2.4zM24.5 749.1h2.4v1.7h-2.4zM26.8 643.8h2.4v1.7h-2.4zM26.8 694.1h2.4v1.7h-2.4zM26.8 711.9h2.4v1.7h-2.4zM26.8 732.9h2.4v1.7h-2.4zM26.8 737.8h2.4v1.7h-2.4zM29.2 629.3h2.4v1.7h-2.4zM29.2 634.1h2.4v1.7h-2.4zM29.2 651.9h2.4v1.7h-2.4zM29.2 656.8h2.4v1.7h-2.4zM29.2 673.0h2.4v1.7h-2.4zM29.2 676.2h2.4v1.7h-2.4zM29.2 700.5h2.4v1.7h-2.4zM29.2 702.2h2.4v1.7h-2.4zM29.2 703.8h2.4v1.7h-2.4zM29.2 726.5h2.4v1.7h-2.4zM31.5 634.1h2.4v1.7h-2.4zM31.5 651.9h2.4v1.7h-2.4zM31.5 682.7h2.4v1.7h-2.4zM31.5 695.7h2.4v1.7h-2.4zM33.8 613.1h2.4v1.7h-2.4zM33.8 622.8h2.4v1.7h-2.4zM33.8 626.0h2.4v1.7h-2.4zM33.8 630.9h2.4v1.7h-2.4zM33.8 648.7h2.4v1.7h-2.4zM33.8 651.9h2.4v1.7h-2.4zM33.8 660.0h2.4v1.7h-2.4zM33.8 673.0h2.4v1.7h-2.4zM33.8 681.1h2.4v1.7h-2.4zM33.8 731.3h2.4v1.7h-2.4zM33.8 749.1h2.4v1.7h-2.4zM33.8 750.8h2.4v1.1h-2.4zM36.2 640.6h2.4v1.7h-2.4zM36.2 653.6h2.4v1.7h-2.4zM36.2 694.1h2.4v1.7h-2.4zM36.2 731.3h2.4v1.7h-2.4zM38.5 686.0h2.4v1.7h-2.4zM38.5 697.3h2.4v1.7h-2.4zM38.5 700.5h2.4v1.7h-2.4zM38.5 707.0h2.4v1.7h-2.4zM38.5 728.1h2.4v1.7h-2.4zM38.5 732.9h2.4v1.7h-2.4zM38.5 734.6h2.4v1.7h-2.4zM38.5 737.8h2.4v1.7h-2.4zM38.5 742.7h2.4v1.7h-2.4zM40.9 661.7h2.4v1.7h-2.4zM40.9 663.3h2.4v1.7h-2.4zM40.9 731.3h2.4v1.7h-2.4zM40.9 747.5h2.4v1.7h-2.4zM43.2 609.8h2.4v1.7h-2.4zM43.2 637.4h2.4v1.7h-2.4zM43.2 666.5h2.4v1.7h-2.4zM43.2 668.1h2.4v1.7h-2.4zM43.2 705.4h2.4v1.7h-2.4zM43.2 720.0h2.4v1.7h-2.4zM45.5 639.0h2.4v1.7h-2.4zM45.5 648.7h2.4v1.7h-2.4zM45.5 684.3h2.4v1.7h-2.4zM45.5 702.2h2.4v1.7h-2.4zM45.5 726.5h2.4v1.7h-2.4zM45.5 729.7h2.4v1.7h-2.4zM45.5 742.7h2.4v1.7h-2.4zM47.9 611.4h2.4v1.7h-2.4zM47.9 643.8h2.4v1.7h-2.4zM47.9 651.9h2.4v1.7h-2.4zM47.9 666.5h2.4v1.7h-2.4zM47.9 676.2h2.4v1.7h-2.4zM47.9 695.7h2.4v1.7h-2.4zM47.9 698.9h2.4v1.7h-2.4zM47.9 705.4h2.4v1.7h-2.4zM47.9 716.7h2.4v1.7h-2.4zM47.9 728.1h2.4v1.7h-2.4zM47.9 750.8h2.4v1.1h-2.4zM50.2 690.8h2.4v1.7h-2.4zM50.2 698.9h2.4v1.7h-2.4zM50.2 703.8h2.4v1.7h-2.4zM50.2 734.6h2.4v1.7h-2.4zM50.2 742.7h2.4v1.7h-2.4zM52.6 624.4h2.4v1.7h-2.4zM52.6 640.6h2.4v1.7h-2.4zM52.6 655.2h2.4v1.7h-2.4zM52.6 687.6h2.4v1.7h-2.4zM52.6 690.8h2.4v1.7h-2.4zM52.6 700.5h2.4v1.7h-2.4zM52.6 728.1h2.4v1.7h-2.4zM55.0 617.9h2.4v1.7h-2.4zM55.0 635.7h2.4v1.7h-2.4zM55.0 639.0h2.4v1.7h-2.4zM55.0 668.1h2.4v1.7h-2.4zM55.0 684.3h2.4v1.7h-2.4zM55.0 702.2h2.4v1.7h-2.4zM55.0 708.6h2.4v1.7h-2.4zM55.0 747.5h2.4v1.7h-2.4zM55.0 749.1h2.4v1.7h-2.4zM57.3 648.7h2.4v1.7h-2.4zM57.3 653.6h2.4v1.7h-2.4zM57.3 656.8h2.4v1.7h-2.4zM57.3 729.7h2.4v1.7h-2.4zM59.7 611.4h2.4v1.7h-2.4zM59.7 614.7h2.4v1.7h-2.4zM59.7 627.6h2.4v1.7h-2.4zM59.7 629.3h2.4v1.7h-2.4zM59.7 703.8h2.4v1.7h-2.4zM59.7 713.5h2.4v1.7h-2.4zM59.7 747.5h2.4v1.7h-2.4zM59.7 750.8h2.4v1.1h-2.4zM62.1 621.2h2.4v1.7h-2.4zM62.1 650.3h2.4v1.7h-2.4zM62.1 713.5h2.4v1.7h-2.4zM62.1 736.2h2.4v1.7h-2.4zM62.1 749.1h2.4v1.7h-2.4zM64.5 624.4h2.4v1.7h-2.4zM64.5 656.8h2.4v1.7h-2.4zM64.5 660.0h2.4v1.7h-2.4zM64.5 705.4h2.4v1.7h-2.4zM64.5 729.7h2.4v1.7h-2.4zM66.8 668.1h2.4v1.7h-2.4zM66.8 687.6h2.4v1.7h-2.4zM66.8 698.9h2.4v1.7h-2.4zM66.8 739.4h2.4v1.7h-2.4zM69.2 614.7h2.4v1.7h-2.4zM71.6 653.6h2.4v1.7h-2.4zM71.6 671.4h2.4v1.7h-2.4zM71.6 676.2h2.4v1.7h-2.4zM74.0 609.8h2.4v1.7h-2.4zM74.0 613.1h2.4v1.7h-2.4zM74.0 630.9h2.4v1.7h-2.4zM74.0 663.3h2.4v1.7h-2.4zM76.3 642.2h2.4v1.7h-2.4zM85.8 630.9h2.4v1.7h-2.4zM88.2 608.2h2.4v1.7h-2.4zM88.2 629.3h2.4v1.7h-2.4zM88.2 658.4h2.4v1.7h-2.4zM88.2 660.0h2.4v1.7h-2.4zM88.2 674.6h2.4v1.7h-2.4zM88.2 747.5h2.4v1.7h-2.4zM90.5 609.8h2.4v1.7h-2.4zM90.5 627.6h2.4v1.7h-2.4zM90.5 629.3h2.4v1.7h-2.4zM90.5 630.9h2.4v1.7h-2.4zM90.5 639.0h2.4v1.7h-2.4zM90.5 651.9h2.4v1.7h-2.4zM90.5 658.4h2.4v1.7h-2.4zM90.5 666.5h2.4v1.7h-2.4zM90.5 679.5h2.4v1.7h-2.4zM90.5 686.0h2.4v1.7h-2.4zM92.8 608.2h2.4v1.7h-2.4zM92.8 614.7h2.4v1.7h-2.4zM92.8 629.3h2.4v1.7h-2.4zM92.8 630.9h2.4v1.7h-2.4zM92.8 637.4h2.4v1.7h-2.4zM95.1 624.4h2.4v1.7h-2.4zM95.1 626.0h2.4v1.7h-2.4zM95.1 634.1h2.4v1.7h-2.4zM95.1 645.5h2.4v1.7h-2.4zM95.1 651.9h2.4v1.7h-2.4zM95.1 669.8h2.4v1.7h-2.4zM95.1 750.8h2.4v1.1h-2.4zM97.5 611.4h2.4v1.7h-2.4zM97.5 647.1h2.4v1.7h-2.4zM97.5 666.5h2.4v1.7h-2.4zM97.5 681.1h2.4v1.7h-2.4zM99.8 647.1h2.4v1.7h-2.4zM99.8 664.9h2.4v1.7h-2.4zM99.8 682.7h2.4v1.7h-2.4zM102.1 608.2h2.4v1.7h-2.4zM102.1 622.8h2.4v1.7h-2.4zM102.1 632.5h2.4v1.7h-2.4zM102.1 647.1h2.4v1.7h-2.4zM102.1 648.7h2.4v1.7h-2.4zM102.1 651.9h2.4v1.7h-2.4zM102.1 653.6h2.4v1.7h-2.4zM102.1 674.6h2.4v1.7h-2.4zM102.1 677.9h2.4v1.7h-2.4zM102.1 731.3h2.4v1.7h-2.4zM104.4 611.4h2.4v1.7h-2.4zM104.4 614.7h2.4v1.7h-2.4zM104.4 640.6h2.4v1.7h-2.4zM104.4 645.5h2.4v1.7h-2.4zM104.4 661.7h2.4v1.7h-2.4zM104.4 676.2h2.4v1.7h-2.4zM111.5 608.2h2.4v1.7h-2.4zM111.5 676.2h2.4v1.7h-2.4zM113.8 616.3h2.4v1.7h-2.4zM113.8 627.6h2.4v1.7h-2.4zM113.8 629.3h2.4v1.7h-2.4zM113.8 645.5h2.4v1.7h-2.4zM116.2 616.3h2.4v1.7h-2.4zM116.2 627.6h2.4v1.7h-2.4zM116.2 630.9h2.4v1.7h-2.4zM121.0 658.4h2.4v1.7h-2.4zM121.0 671.4h2.4v1.7h-2.4zM123.3 613.1h2.4v1.7h-2.4zM123.3 642.2h2.4v1.7h-2.4zM132.8 608.2h2.4v1.7h-2.4zM132.8 619.5h2.4v1.7h-2.4zM132.8 626.0h2.4v1.7h-2.4zM132.8 666.5h2.4v1.7h-2.4zM132.8 681.1h2.4v1.7h-2.4zM132.8 697.3h2.4v1.7h-2.4zM135.1 637.4h2.4v1.7h-2.4zM135.1 677.9h2.4v1.7h-2.4zM135.1 686.0h2.4v1.7h-2.4zM137.4 613.1h2.4v1.7h-2.4zM137.4 617.9h2.4v1.7h-2.4zM137.4 645.5h2.4v1.7h-2.4zM137.4 673.0h2.4v1.7h-2.4zM137.4 698.9h2.4v1.7h-2.4zM137.4 726.5h2.4v1.7h-2.4zM139.8 629.3h2.4v1.7h-2.4zM139.8 645.5h2.4v1.7h-2.4zM139.8 663.3h2.4v1.7h-2.4zM139.8 686.0h2.4v1.7h-2.4zM142.1 614.7h2.4v1.7h-2.4zM142.1 622.8h2.4v1.7h-2.4zM142.1 624.4h2.4v1.7h-2.4zM142.1 630.9h2.4v1.7h-2.4zM142.1 643.8h2.4v1.7h-2.4zM142.1 651.9h2.4v1.7h-2.4zM142.1 682.7h2.4v1.7h-2.4zM142.1 687.6h2.4v1.7h-2.4zM144.4 617.9h2.4v1.7h-2.4zM144.4 647.1h2.4v1.7h-2.4zM144.4 648.7h2.4v1.7h-2.4zM144.4 666.5h2.4v1.7h-2.4zM144.4 676.2h2.4v1.7h-2.4zM144.4 679.5h2.4v1.7h-2.4zM144.4 682.7h2.4v1.7h-2.4zM146.7 629.3h2.4v1.7h-2.4zM146.7 635.7h2.4v1.7h-2.4zM146.7 642.2h2.4v1.7h-2.4zM146.7 643.8h2.4v1.7h-2.4zM146.7 647.1h2.4v1.7h-2.4zM146.7 648.7h2.4v1.7h-2.4zM146.7 655.2h2.4v1.7h-2.4zM146.7 661.7h2.4v1.7h-2.4zM146.7 666.5h2.4v1.7h-2.4zM146.7 682.7h2.4v1.7h-2.4zM149.1 608.2h2.4v1.7h-2.4zM149.1 622.8h2.4v1.7h-2.4zM149.1 627.6h2.4v1.7h-2.4zM149.1 637.4h2.4v1.7h-2.4zM149.1 640.6h2.4v1.7h-2.4zM149.1 655.2h2.4v1.7h-2.4zM149.1 656.8h2.4v1.7h-2.4zM149.1 660.0h2.4v1.7h-2.4zM149.1 679.5h2.4v1.7h-2.4zM149.1 682.7h2.4v1.7h-2.4zM149.1 687.6h2.4v1.7h-2.4zM151.4 611.4h2.4v1.7h-2.4zM151.4 617.9h2.4v1.7h-2.4zM151.4 630.9h2.4v1.7h-2.4zM151.4 655.2h2.4v1.7h-2.4zM151.4 658.4h2.4v1.7h-2.4z"/>
<path fill="#e7aeae" d="M12.8 656.8h2.4v1.7h-2.4zM12.8 661.7h2.4v1.7h-2.4zM12.8 742.7h2.4v1.7h-2.4zM15.1 731.3h2.4v1.7h-2.4zM15.1 734.6h2.4v1.7h-2.4zM15.1 747.5h2.4v1.7h-2.4zM17.5 617.9h2.4v1.7h-2.4zM17.5 690.8h2.4v1.7h-2.4zM17.5 692.4h2.4v1.7h-2.4zM17.5 749.1h2.4v1.7h-2.4zM19.8 634.1h2.4v1.7h-2.4zM19.8 639.0h2.4v1.7h-2.4zM19.8 651.9h2.4v1.7h-2.4zM19.8 681.1h2.4v1.7h-2.4zM19.8 689.2h2.4v1.7h-2.4zM19.8 695.7h2.4v1.7h-2.4zM19.8 707.0h2.4v1.7h-2.4zM22.2 632.5h2.4v1.7h-2.4zM22.2 731.3h2.4v1.7h-2.4zM22.2 749.1h2.4v1.7h-2.4zM24.5 617.9h2.4v1.7h-2.4zM24.5 681.1h2.4v1.7h-2.4zM24.5 695.7h2.4v1.7h-2.4zM24.5 721.6h2.4v1.7h-2.4zM24.5 750.8h2.4v1.1h-2.4zM26.8 627.6h2.4v1.7h-2.4zM26.8 668.1h2.4v1.7h-2.4zM26.8 681.1h2.4v1.7h-2.4zM26.8 750.8h2.4v1.1h-2.4zM29.2 681.1h2.4v1.7h-2.4zM29.2 687.6h2.4v1.7h-2.4zM29.2 731.3h2.4v1.7h-2.4zM29.2 739.4h2.4v1.7h-2.4zM31.5 702.2h2.4v1.7h-2.4zM31.5 707.0h2.4v1.7h-2.4zM31.5 739.4h2.4v1.7h-2.4zM31.5 744.3h2.4v1.7h-2.4zM31.5 750.8h2.4v1.1h-2.4zM33.8 736.2h2.4v1.7h-2.4zM36.2 650.3h2.4v1.7h-2.4zM36.2 739.4h2.4v1.7h-2.4zM36.2 749.1h2.4v1.7h-2.4zM38.5 624.4h2.4v1.7h-2.4zM38.5 656.8h2.4v1.7h-2.4zM38.5 713.5h2.4v1.7h-2.4zM38.5 726.5h2.4v1.7h-2.4zM38.5 739.4h2.4v1.7h-2.4zM40.9 734.6h2.4v1.7h-2.4zM40.9 750.8h2.4v1.1h-2.4zM43.2 661.7h2.4v1.7h-2.4zM43.2 695.7h2.4v1.7h-2.4zM43.2 726.5h2.4v1.7h-2.4zM43.2 736.2h2.4v1.7h-2.4zM45.5 617.9h2.4v1.7h-2.4zM45.5 643.8h2.4v1.7h-2.4zM45.5 695.7h2.4v1.7h-2.4zM45.5 732.9h2.4v1.7h-2.4zM47.9 624.4h2.4v1.7h-2.4zM47.9 645.5h2.4v1.7h-2.4zM47.9 661.7h2.4v1.7h-2.4zM47.9 679.5h2.4v1.7h-2.4zM50.2 619.5h2.4v1.7h-2.4zM50.2 726.5h2.4v1.7h-2.4zM52.6 650.3h2.4v1.7h-2.4zM52.6 707.0h2.4v1.7h-2.4zM52.6 716.7h2.4v1.7h-2.4zM52.6 726.5h2.4v1.7h-2.4zM55.0 689.2h2.4v1.7h-2.4zM55.0 707.0h2.4v1.7h-2.4zM55.0 715.1h2.4v1.7h-2.4zM57.3 640.6h2.4v1.7h-2.4zM57.3 661.7h2.4v1.7h-2.4zM57.3 668.1h2.4v1.7h-2.4zM57.3 702.2h2.4v1.7h-2.4zM57.3 707.0h2.4v1.7h-2.4zM57.3 723.2h2.4v1.7h-2.4zM57.3 728.1h2.4v1.7h-2.4zM57.3 732.9h2.4v1.7h-2.4zM57.3 739.4h2.4v1.7h-2.4zM59.7 731.3h2.4v1.7h-2.4zM62.1 619.5h2.4v1.7h-2.4zM62.1 737.8h2.4v1.7h-2.4zM64.5 750.8h2.4v1.1h-2.4zM66.8 664.9h2.4v1.7h-2.4zM66.8 695.7h2.4v1.7h-2.4zM66.8 710.3h2.4v1.7h-2.4zM66.8 711.9h2.4v1.7h-2.4zM66.8 715.1h2.4v1.7h-2.4zM66.8 718.4h2.4v1.7h-2.4zM69.2 608.2h2.4v1.7h-2.4zM69.2 613.1h2.4v1.7h-2.4zM69.2 622.8h2.4v1.7h-2.4zM69.2 663.3h2.4v1.7h-2.4zM69.2 666.5h2.4v1.7h-2.4zM71.6 645.5h2.4v1.7h-2.4zM74.0 671.4h2.4v1.7h-2.4zM76.3 608.2h2.4v1.7h-2.4zM76.3 616.3h2.4v1.7h-2.4zM76.3 669.8h2.4v1.7h-2.4zM78.7 609.8h2.4v1.7h-2.4zM83.5 613.1h2.4v1.7h-2.4zM85.8 616.3h2.4v1.7h-2.4zM88.2 621.2h2.4v1.7h-2.4zM88.2 650.3h2.4v1.7h-2.4zM88.2 656.8h2.4v1.7h-2.4zM88.2 677.9h2.4v1.7h-2.4zM88.2 684.3h2.4v1.7h-2.4zM88.2 687.6h2.4v1.7h-2.4zM88.2 731.3h2.4v1.7h-2.4zM90.5 635.7h2.4v1.7h-2.4zM90.5 673.0h2.4v1.7h-2.4zM92.8 609.8h2.4v1.7h-2.4zM92.8 611.4h2.4v1.7h-2.4zM92.8 619.5h2.4v1.7h-2.4zM92.8 624.4h2.4v1.7h-2.4zM92.8 648.7h2.4v1.7h-2.4zM92.8 661.7h2.4v1.7h-2.4zM92.8 664.9h2.4v1.7h-2.4zM92.8 669.8h2.4v1.7h-2.4zM92.8 679.5h2.4v1.7h-2.4zM92.8 681.1h2.4v1.7h-2.4zM92.8 694.1h2.4v1.7h-2.4zM95.1 608.2h2.4v1.7h-2.4zM95.1 627.6h2.4v1.7h-2.4zM95.1 643.8h2.4v1.7h-2.4zM95.1 648.7h2.4v1.7h-2.4zM95.1 660.0h2.4v1.7h-2.4zM95.1 663.3h2.4v1.7h-2.4zM95.1 674.6h2.4v1.7h-2.4zM95.1 676.2h2.4v1.7h-2.4zM95.1 679.5h2.4v1.7h-2.4zM97.5 614.7h2.4v1.7h-2.4zM97.5 621.2h2.4v1.7h-2.4zM97.5 626.0h2.4v1.7h-2.4zM97.5 629.3h2.4v1.7h-2.4zM97.5 630.9h2.4v1.7h-2.4zM97.5 634.1h2.4v1.7h-2.4zM97.5 655.2h2.4v1.7h-2.4zM97.5 674.6h2.4v1.7h-2.4zM97.5 682.7h2.4v1.7h-2.4zM97.5 687.6h2.4v1.7h-2.4zM99.8 621.2h2.4v1.7h-2.4zM99.8 630.9h2.4v1.7h-2.4zM99.8 637.4h2.4v1.7h-2.4zM99.8 653.6h2.4v1.7h-2.4zM99.8 663.3h2.4v1.7h-2.4zM99.8 669.8h2.4v1.7h-2.4zM102.1 611.4h2.4v1.7h-2.4zM102.1 621.2h2.4v1.7h-2.4zM102.1 642.2h2.4v1.7h-2.4zM102.1 668.1h2.4v1.7h-2.4zM104.4 621.2h2.4v1.7h-2.4zM104.4 655.2h2.4v1.7h-2.4zM104.4 656.8h2.4v1.7h-2.4zM109.1 747.5h2.4v1.7h-2.4zM111.5 642.2h2.4v1.7h-2.4zM111.5 648.7h2.4v1.7h-2.4zM111.5 671.4h2.4v1.7h-2.4zM113.8 608.2h2.4v1.7h-2.4zM113.8 663.3h2.4v1.7h-2.4zM113.8 669.8h2.4v1.7h-2.4zM116.2 647.1h2.4v1.7h-2.4zM116.2 671.4h2.4v1.7h-2.4zM118.6 613.1h2.4v1.7h-2.4zM118.6 632.5h2.4v1.7h-2.4zM118.6 671.4h2.4v1.7h-2.4zM121.0 630.9h2.4v1.7h-2.4zM121.0 651.9h2.4v1.7h-2.4zM121.0 664.9h2.4v1.7h-2.4zM123.3 635.7h2.4v1.7h-2.4zM123.3 658.4h2.4v1.7h-2.4zM123.3 671.4h2.4v1.7h-2.4zM125.7 629.3h2.4v1.7h-2.4zM132.8 609.8h2.4v1.7h-2.4zM132.8 614.7h2.4v1.7h-2.4zM132.8 624.4h2.4v1.7h-2.4zM132.8 627.6h2.4v1.7h-2.4zM132.8 640.6h2.4v1.7h-2.4zM132.8 651.9h2.4v1.7h-2.4zM132.8 658.4h2.4v1.7h-2.4zM132.8 663.3h2.4v1.7h-2.4zM132.8 669.8h2.4v1.7h-2.4zM132.8 707.0h2.4v1.7h-2.4zM132.8 739.4h2.4v1.7h-2.4zM135.1 609.8h2.4v1.7h-2.4zM135.1 614.7h2.4v1.7h-2.4zM135.1 622.8h2.4v1.7h-2.4zM135.1 632.5h2.4v1.7h-2.4zM135.1 635.7h2.4v1.7h-2.4zM135.1 648.7h2.4v1.7h-2.4zM135.1 658.4h2.4v1.7h-2.4zM135.1 661.7h2.4v1.7h-2.4zM135.1 664.9h2.4v1.7h-2.4zM135.1 673.0h2.4v1.7h-2.4zM137.4 622.8h2.4v1.7h-2.4zM137.4 634.1h2.4v1.7h-2.4zM137.4 637.4h2.4v1.7h-2.4zM137.4 647.1h2.4v1.7h-2.4zM137.4 648.7h2.4v1.7h-2.4zM137.4 677.9h2.4v1.7h-2.4zM137.4 682.7h2.4v1.7h-2.4zM139.8 621.2h2.4v1.7h-2.4zM139.8 655.2h2.4v1.7h-2.4zM139.8 656.8h2.4v1.7h-2.4zM139.8 677.9h2.4v1.7h-2.4zM142.1 611.4h2.4v1.7h-2.4zM142.1 621.2h2.4v1.7h-2.4zM142.1 640.6h2.4v1.7h-2.4zM142.1 650.3h2.4v1.7h-2.4zM142.1 653.6h2.4v1.7h-2.4zM142.1 655.2h2.4v1.7h-2.4zM142.1 660.0h2.4v1.7h-2.4zM142.1 674.6h2.4v1.7h-2.4zM142.1 681.1h2.4v1.7h-2.4zM144.4 614.7h2.4v1.7h-2.4zM144.4 622.8h2.4v1.7h-2.4zM144.4 626.0h2.4v1.7h-2.4zM144.4 629.3h2.4v1.7h-2.4zM144.4 664.9h2.4v1.7h-2.4zM146.7 611.4h2.4v1.7h-2.4zM146.7 616.3h2.4v1.7h-2.4zM146.7 645.5h2.4v1.7h-2.4zM149.1 609.8h2.4v1.7h-2.4zM149.1 611.4h2.4v1.7h-2.4zM149.1 617.9h2.4v1.7h-2.4zM149.1 619.5h2.4v1.7h-2.4zM149.1 626.0h2.4v1.7h-2.4zM149.1 651.9h2.4v1.7h-2.4zM149.1 653.6h2.4v1.7h-2.4zM149.1 671.4h2.4v1.7h-2.4zM149.1 673.0h2.4v1.7h-2.4zM149.1 674.6h2.4v1.7h-2.4zM151.4 619.5h2.4v1.7h-2.4zM151.4 621.2h2.4v1.7h-2.4zM151.4 635.7h2.4v1.7h-2.4zM151.4 642.2h2.4v1.7h-2.4zM151.4 647.1h2.4v1.7h-2.4z"/>
<path fill="#e29c9c" d="M12.8 637.4h2.4v1.7h-2.4zM12.8 681.1h2.4v1.7h-2.4zM12.8 707.0h2.4v1.7h-2.4zM12.8 726.5h2.4v1.7h-2.4zM17.5 622.8h2.4v1.7h-2.4zM17.5 700.5h2.4v1.7h-2.4zM17.5 745.9h2.4v1.7h-2.4zM22.2 627.6h2.4v1.7h-2.4zM26.8 721.6h2.4v1.7h-2.4zM31.5 639.0h2.4v1.7h-2.4zM38.5 643.8h2.4v1.7h-2.4zM38.5 747.5h2.4v1.7h-2.4zM43.2 614.7h2.4v1.7h-2.4zM45.5 707.0h2.4v1.7h-2.4zM45.5 731.3h2.4v1.7h-2.4zM45.5 737.8h2.4v1.7h-2.4zM52.6 673.0h2.4v1.7h-2.4zM55.0 686.0h2.4v1.7h-2.4zM55.0 716.7h2.4v1.7h-2.4zM55.0 728.1h2.4v1.7h-2.4zM55.0 731.3h2.4v1.7h-2.4zM57.3 617.9h2.4v1.7h-2.4zM62.1 694.1h2.4v1.7h-2.4zM64.5 707.0h2.4v1.7h-2.4zM64.5 739.4h2.4v1.7h-2.4zM66.8 677.9h2.4v1.7h-2.4zM66.8 708.6h2.4v1.7h-2.4zM66.8 731.3h2.4v1.7h-2.4zM66.8 732.9h2.4v1.7h-2.4zM69.2 616.3h2.4v1.7h-2.4zM69.2 630.9h2.4v1.7h-2.4zM69.2 645.5h2.4v1.7h-2.4zM69.2 674.6h2.4v1.7h-2.4zM69.2 682.7h2.4v1.7h-2.4zM74.0 642.2h2.4v1.7h-2.4zM74.0 645.5h2.4v1.7h-2.4zM74.0 648.7h2.4v1.7h-2.4zM76.3 613.1h2.4v1.7h-2.4zM76.3 671.4h2.4v1.7h-2.4zM76.3 674.6h2.4v1.7h-2.4zM78.7 671.4h2.4v1.7h-2.4zM85.8 626.0h2.4v1.7h-2.4zM85.8 637.4h2.4v1.7h-2.4zM85.8 663.3h2.4v1.7h-2.4zM88.2 614.7h2.4v1.7h-2.4zM88.2 616.3h2.4v1.7h-2.4zM88.2 624.4h2.4v1.7h-2.4zM88.2 626.0h2.4v1.7h-2.4zM88.2 635.7h2.4v1.7h-2.4zM88.2 643.8h2.4v1.7h-2.4zM88.2 647.1h2.4v1.7h-2.4zM88.2 648.7h2.4v1.7h-2.4zM88.2 651.9h2.4v1.7h-2.4zM88.2 666.5h2.4v1.7h-2.4zM88.2 682.7h2.4v1.7h-2.4zM88.2 686.0h2.4v1.7h-2.4zM90.5 614.7h2.4v1.7h-2.4zM90.5 617.9h2.4v1.7h-2.4zM90.5 619.5h2.4v1.7h-2.4zM90.5 632.5h2.4v1.7h-2.4zM92.8 617.9h2.4v1.7h-2.4zM92.8 639.0h2.4v1.7h-2.4zM92.8 653.6h2.4v1.7h-2.4zM92.8 656.8h2.4v1.7h-2.4zM92.8 660.0h2.4v1.7h-2.4zM92.8 673.0h2.4v1.7h-2.4zM92.8 677.9h2.4v1.7h-2.4zM92.8 684.3h2.4v1.7h-2.4zM92.8 687.6h2.4v1.7h-2.4zM95.1 619.5h2.4v1.7h-2.4zM95.1 629.3h2.4v1.7h-2.4zM95.1 632.5h2.4v1.7h-2.4zM95.1 640.6h2.4v1.7h-2.4zM95.1 647.1h2.4v1.7h-2.4zM95.1 677.9h2.4v1.7h-2.4zM95.1 687.6h2.4v1.7h-2.4zM95.1 749.1h2.4v1.7h-2.4zM97.5 619.5h2.4v1.7h-2.4zM97.5 624.4h2.4v1.7h-2.4zM97.5 664.9h2.4v1.7h-2.4zM97.5 673.0h2.4v1.7h-2.4zM97.5 686.0h2.4v1.7h-2.4zM99.8 609.8h2.4v1.7h-2.4zM99.8 619.5h2.4v1.7h-2.4zM99.8 635.7h2.4v1.7h-2.4zM99.8 640.6h2.4v1.7h-2.4zM99.8 651.9h2.4v1.7h-2.4zM99.8 655.2h2.4v1.7h-2.4zM99.8 661.7h2.4v1.7h-2.4zM99.8 673.0h2.4v1.7h-2.4zM99.8 686.0h2.4v1.7h-2.4zM102.1 626.0h2.4v1.7h-2.4zM102.1 643.8h2.4v1.7h-2.4zM102.1 655.2h2.4v1.7h-2.4zM102.1 669.8h2.4v1.7h-2.4zM102.1 673.0h2.4v1.7h-2.4zM102.1 682.7h2.4v1.7h-2.4zM102.1 684.3h2.4v1.7h-2.4zM102.1 687.6h2.4v1.7h-2.4zM111.5 619.5h2.4v1.7h-2.4zM111.5 660.0h2.4v1.7h-2.4zM111.5 679.5h2.4v1.7h-2.4zM113.8 609.8h2.4v1.7h-2.4zM113.8 658.4h2.4v1.7h-2.4zM113.8 674.6h2.4v1.7h-2.4zM116.2 613.1h2.4v1.7h-2.4zM116.2 681.1h2.4v1.7h-2.4zM118.6 627.6h2.4v1.7h-2.4zM118.6 630.9h2.4v1.7h-2.4zM118.6 648.7h2.4v1.7h-2.4zM118.6 663.3h2.4v1.7h-2.4zM121.0 613.1h2.4v1.7h-2.4zM123.3 653.6h2.4v1.7h-2.4zM125.7 616.3h2.4v1.7h-2.4zM125.7 635.7h2.4v1.7h-2.4zM125.7 637.4h2.4v1.7h-2.4zM130.4 608.2h2.4v1.7h-2.4zM130.4 613.1h2.4v1.7h-2.4zM130.4 632.5h2.4v1.7h-2.4zM130.4 669.8h2.4v1.7h-2.4zM132.8 629.3h2.4v1.7h-2.4zM132.8 637.4h2.4v1.7h-2.4zM132.8 642.2h2.4v1.7h-2.4zM132.8 655.2h2.4v1.7h-2.4zM132.8 660.0h2.4v1.7h-2.4zM132.8 682.7h2.4v1.7h-2.4zM135.1 611.4h2.4v1.7h-2.4zM135.1 621.2h2.4v1.7h-2.4zM135.1 624.4h2.4v1.7h-2.4zM135.1 629.3h2.4v1.7h-2.4zM135.1 666.5h2.4v1.7h-2.4zM135.1 676.2h2.4v1.7h-2.4zM135.1 684.3h2.4v1.7h-2.4zM137.4 614.7h2.4v1.7h-2.4zM137.4 619.5h2.4v1.7h-2.4zM137.4 624.4h2.4v1.7h-2.4zM137.4 627.6h2.4v1.7h-2.4zM137.4 643.8h2.4v1.7h-2.4zM137.4 655.2h2.4v1.7h-2.4zM137.4 658.4h2.4v1.7h-2.4zM137.4 660.0h2.4v1.7h-2.4zM137.4 664.9h2.4v1.7h-2.4zM137.4 694.1h2.4v1.7h-2.4zM139.8 617.9h2.4v1.7h-2.4zM139.8 619.5h2.4v1.7h-2.4zM139.8 634.1h2.4v1.7h-2.4zM139.8 668.1h2.4v1.7h-2.4zM142.1 632.5h2.4v1.7h-2.4zM142.1 639.0h2.4v1.7h-2.4zM142.1 647.1h2.4v1.7h-2.4zM142.1 661.7h2.4v1.7h-2.4zM142.1 673.0h2.4v1.7h-2.4zM144.4 619.5h2.4v1.7h-2.4zM144.4 621.2h2.4v1.7h-2.4zM144.4 624.4h2.4v1.7h-2.4zM144.4 656.8h2.4v1.7h-2.4zM144.4 673.0h2.4v1.7h-2.4zM144.4 677.9h2.4v1.7h-2.4zM144.4 681.1h2.4v1.7h-2.4zM144.4 687.6h2.4v1.7h-2.4zM146.7 653.6h2.4v1.7h-2.4zM146.7 679.5h2.4v1.7h-2.4zM146.7 681.1h2.4v1.7h-2.4zM146.7 684.3h2.4v1.7h-2.4zM149.1 621.2h2.4v1.7h-2.4zM149.1 624.4h2.4v1.7h-2.4zM149.1 634.1h2.4v1.7h-2.4zM149.1 635.7h2.4v1.7h-2.4zM149.1 666.5h2.4v1.7h-2.4zM149.1 677.9h2.4v1.7h-2.4zM151.4 622.8h2.4v1.7h-2.4zM151.4 668.1h2.4v1.7h-2.4zM151.4 674.6h2.4v1.7h-2.4z"/>
<path fill="#da8989" d="M12.8 716.7h2.4v1.7h-2.4zM15.1 705.4h2.4v1.7h-2.4zM22.2 718.4h2.4v1.7h-2.4zM29.2 711.9h2.4v1.7h-2.4zM31.5 674.6h2.4v1.7h-2.4zM31.5 713.5h2.4v1.7h-2.4zM36.2 677.9h2.4v1.7h-2.4zM36.2 744.3h2.4v1.7h-2.4zM40.9 668.1h2.4v1.7h-2.4zM47.9 656.8h2.4v1.7h-2.4zM52.6 747.5h2.4v1.7h-2.4zM69.2 632.5h2.4v1.7h-2.4zM69.2 642.2h2.4v1.7h-2.4zM69.2 660.0h2.4v1.7h-2.4zM69.2 669.8h2.4v1.7h-2.4zM69.2 676.2h2.4v1.7h-2.4zM69.2 679.5h2.4v1.7h-2.4zM71.6 614.7h2.4v1.7h-2.4zM71.6 616.3h2.4v1.7h-2.4zM71.6 632.5h2.4v1.7h-2.4zM71.6 635.7h2.4v1.7h-2.4zM71.6 674.6h2.4v1.7h-2.4zM74.0 608.2h2.4v1.7h-2.4zM74.0 616.3h2.4v1.7h-2.4zM74.0 622.8h2.4v1.7h-2.4zM74.0 624.4h2.4v1.7h-2.4zM74.0 626.0h2.4v1.7h-2.4zM74.0 629.3h2.4v1.7h-2.4zM74.0 655.2h2.4v1.7h-2.4zM74.0 658.4h2.4v1.7h-2.4zM76.3 627.6h2.4v1.7h-2.4zM76.3 660.0h2.4v1.7h-2.4zM76.3 687.6h2.4v1.7h-2.4zM78.7 613.1h2.4v1.7h-2.4zM83.5 630.9h2.4v1.7h-2.4zM88.2 611.4h2.4v1.7h-2.4zM88.2 619.5h2.4v1.7h-2.4zM88.2 637.4h2.4v1.7h-2.4zM88.2 639.0h2.4v1.7h-2.4zM88.2 653.6h2.4v1.7h-2.4zM88.2 663.3h2.4v1.7h-2.4zM88.2 669.8h2.4v1.7h-2.4zM88.2 676.2h2.4v1.7h-2.4zM90.5 650.3h2.4v1.7h-2.4zM92.8 640.6h2.4v1.7h-2.4zM92.8 655.2h2.4v1.7h-2.4zM92.8 686.0h2.4v1.7h-2.4zM95.1 668.1h2.4v1.7h-2.4zM95.1 686.0h2.4v1.7h-2.4zM97.5 617.9h2.4v1.7h-2.4zM97.5 650.3h2.4v1.7h-2.4zM97.5 653.6h2.4v1.7h-2.4zM97.5 677.9h2.4v1.7h-2.4zM99.8 611.4h2.4v1.7h-2.4zM99.8 639.0h2.4v1.7h-2.4zM99.8 643.8h2.4v1.7h-2.4zM99.8 650.3h2.4v1.7h-2.4zM99.8 658.4h2.4v1.7h-2.4zM99.8 666.5h2.4v1.7h-2.4zM99.8 681.1h2.4v1.7h-2.4zM102.1 617.9h2.4v1.7h-2.4zM102.1 619.5h2.4v1.7h-2.4zM102.1 624.4h2.4v1.7h-2.4zM102.1 629.3h2.4v1.7h-2.4zM102.1 679.5h2.4v1.7h-2.4zM102.1 681.1h2.4v1.7h-2.4zM109.1 613.1h2.4v1.7h-2.4zM111.5 627.6h2.4v1.7h-2.4zM111.5 647.1h2.4v1.7h-2.4zM111.5 651.9h2.4v1.7h-2.4zM111.5 653.6h2.4v1.7h-2.4zM111.5 669.8h2.4v1.7h-2.4zM113.8 613.1h2.4v1.7h-2.4zM113.8 642.2h2.4v1.7h-2.4zM113.8 648.7h2.4v1.7h-2.4zM113.8 671.4h2.4v1.7h-2.4zM113.8 676.2h2.4v1.7h-2.4zM116.2 679.5h2.4v1.7h-2.4zM118.6 608.2h2.4v1.7h-2.4zM118.6 616.3h2.4v1.7h-2.4zM118.6 622.8h2.4v1.7h-2.4zM121.0 608.2h2.4v1.7h-2.4zM121.0 627.6h2.4v1.7h-2.4zM121.0 648.7h2.4v1.7h-2.4zM121.0 669.8h2.4v1.7h-2.4zM121.0 674.6h2.4v1.7h-2.4zM121.0 682.7h2.4v1.7h-2.4zM123.3 626.0h2.4v1.7h-2.4zM123.3 629.3h2.4v1.7h-2.4zM125.7 640.6h2.4v1.7h-2.4zM125.7 642.2h2.4v1.7h-2.4zM125.7 658.4h2.4v1.7h-2.4zM125.7 660.0h2.4v1.7h-2.4zM125.7 663.3h2.4v1.7h-2.4zM130.4 645.5h2.4v1.7h-2.4zM132.8 611.4h2.4v1.7h-2.4zM132.8 617.9h2.4v1.7h-2.4zM132.8 632.5h2.4v1.7h-2.4zM132.8 634.1h2.4v1.7h-2.4zM132.8 647.1h2.4v1.7h-2.4zM132.8 664.9h2.4v1.7h-2.4zM132.8 673.0h2.4v1.7h-2.4zM132.8 676.2h2.4v1.7h-2.4zM132.8 687.6h2.4v1.7h-2.4zM135.1 650.3h2.4v1.7h-2.4zM135.1 679.5h2.4v1.7h-2.4zM135.1 687.6h2.4v1.7h-2.4zM137.4 608.2h2.4v1.7h-2.4zM137.4 611.4h2.4v1.7h-2.4zM137.4 626.0h2.4v1.7h-2.4zM137.4 632.5h2.4v1.7h-2.4zM137.4 642.2h2.4v1.7h-2.4zM137.4 669.8h2.4v1.7h-2.4zM137.4 676.2h2.4v1.7h-2.4zM137.4 684.3h2.4v1.7h-2.4zM139.8 637.4h2.4v1.7h-2.4zM139.8 639.0h2.4v1.7h-2.4zM139.8 650.3h2.4v1.7h-2.4zM139.8 661.7h2.4v1.7h-2.4zM142.1 629.3h2.4v1.7h-2.4zM142.1 686.0h2.4v1.7h-2.4zM144.4 634.1h2.4v1.7h-2.4zM144.4 661.7h2.4v1.7h-2.4zM144.4 668.1h2.4v1.7h-2.4zM144.4 669.8h2.4v1.7h-2.4zM144.4 684.3h2.4v1.7h-2.4zM146.7 656.8h2.4v1.7h-2.4zM146.7 674.6h2.4v1.7h-2.4zM149.1 614.7h2.4v1.7h-2.4zM149.1 639.0h2.4v1.7h-2.4zM149.1 658.4h2.4v1.7h-2.4zM149.1 676.2h2.4v1.7h-2.4zM149.1 684.3h2.4v1.7h-2.4zM151.4 632.5h2.4v1.7h-2.4zM151.4 640.6h2.4v1.7h-2.4zM151.4 643.8h2.4v1.7h-2.4zM151.4 650.3h2.4v1.7h-2.4zM151.4 656.8h2.4v1.7h-2.4zM151.4 661.7h2.4v1.7h-2.4z"/>
<path fill="#d17677" d="M12.8 747.5h2.4v1.7h-2.4zM15.1 668.1h2.4v1.7h-2.4zM33.8 692.4h2.4v1.7h-2.4zM62.1 698.9h2.4v1.7h-2.4zM62.1 732.9h2.4v1.7h-2.4zM69.2 609.8h2.4v1.7h-2.4zM69.2 624.4h2.4v1.7h-2.4zM71.6 663.3h2.4v1.7h-2.4zM74.0 635.7h2.4v1.7h-2.4zM74.0 640.6h2.4v1.7h-2.4zM74.0 647.1h2.4v1.7h-2.4zM74.0 660.0h2.4v1.7h-2.4zM74.0 664.9h2.4v1.7h-2.4zM74.0 676.2h2.4v1.7h-2.4zM76.3 622.8h2.4v1.7h-2.4zM78.7 622.8h2.4v1.7h-2.4zM78.7 627.6h2.4v1.7h-2.4zM78.7 629.3h2.4v1.7h-2.4zM78.7 634.1h2.4v1.7h-2.4zM78.7 663.3h2.4v1.7h-2.4zM81.1 626.0h2.4v1.7h-2.4zM81.1 687.6h2.4v1.7h-2.4zM83.5 619.5h2.4v1.7h-2.4zM85.8 609.8h2.4v1.7h-2.4zM88.2 661.7h2.4v1.7h-2.4zM88.2 679.5h2.4v1.7h-2.4zM90.5 624.4h2.4v1.7h-2.4zM90.5 634.1h2.4v1.7h-2.4zM90.5 640.6h2.4v1.7h-2.4zM90.5 677.9h2.4v1.7h-2.4zM92.8 621.2h2.4v1.7h-2.4zM95.1 635.7h2.4v1.7h-2.4zM95.1 684.3h2.4v1.7h-2.4zM97.5 635.7h2.4v1.7h-2.4zM97.5 668.1h2.4v1.7h-2.4zM99.8 617.9h2.4v1.7h-2.4zM99.8 677.9h2.4v1.7h-2.4zM99.8 679.5h2.4v1.7h-2.4zM102.1 630.9h2.4v1.7h-2.4zM102.1 639.0h2.4v1.7h-2.4zM102.1 664.9h2.4v1.7h-2.4zM104.4 650.3h2.4v1.7h-2.4zM109.1 739.4h2.4v1.7h-2.4zM111.5 613.1h2.4v1.7h-2.4zM111.5 629.3h2.4v1.7h-2.4zM111.5 630.9h2.4v1.7h-2.4zM111.5 637.4h2.4v1.7h-2.4zM111.5 658.4h2.4v1.7h-2.4zM111.5 664.9h2.4v1.7h-2.4zM113.8 619.5h2.4v1.7h-2.4zM113.8 626.0h2.4v1.7h-2.4zM113.8 647.1h2.4v1.7h-2.4zM113.8 664.9h2.4v1.7h-2.4zM116.2 614.7h2.4v1.7h-2.4zM116.2 632.5h2.4v1.7h-2.4zM116.2 640.6h2.4v1.7h-2.4zM116.2 645.5h2.4v1.7h-2.4zM116.2 658.4h2.4v1.7h-2.4zM116.2 664.9h2.4v1.7h-2.4zM116.2 684.3h2.4v1.7h-2.4zM118.6 609.8h2.4v1.7h-2.4zM118.6 635.7h2.4v1.7h-2.4zM118.6 647.1h2.4v1.7h-2.4zM118.6 655.2h2.4v1.7h-2.4zM118.6 669.8h2.4v1.7h-2.4zM118.6 677.9h2.4v1.7h-2.4zM121.0 609.8h2.4v1.7h-2.4zM121.0 637.4h2.4v1.7h-2.4zM121.0 642.2h2.4v1.7h-2.4zM121.0 643.8h2.4v1.7h-2.4zM121.0 660.0h2.4v1.7h-2.4zM121.0 663.3h2.4v1.7h-2.4zM121.0 673.0h2.4v1.7h-2.4zM123.3 608.2h2.4v1.7h-2.4zM123.3 619.5h2.4v1.7h-2.4zM123.3 622.8h2.4v1.7h-2.4zM123.3 630.9h2.4v1.7h-2.4zM123.3 645.5h2.4v1.7h-2.4zM123.3 663.3h2.4v1.7h-2.4zM125.7 613.1h2.4v1.7h-2.4zM130.4 682.7h2.4v1.7h-2.4zM132.8 630.9h2.4v1.7h-2.4zM132.8 635.7h2.4v1.7h-2.4zM132.8 653.6h2.4v1.7h-2.4zM132.8 668.1h2.4v1.7h-2.4zM132.8 677.9h2.4v1.7h-2.4zM135.1 656.8h2.4v1.7h-2.4zM137.4 635.7h2.4v1.7h-2.4zM137.4 640.6h2.4v1.7h-2.4zM137.4 681.1h2.4v1.7h-2.4zM144.4 611.4h2.4v1.7h-2.4zM144.4 639.0h2.4v1.7h-2.4zM144.4 642.2h2.4v1.7h-2.4zM144.4 645.5h2.4v1.7h-2.4zM144.4 651.9h2.4v1.7h-2.4zM146.7 650.3h2.4v1.7h-2.4zM146.7 658.4h2.4v1.7h-2.4zM149.1 650.3h2.4v1.7h-2.4zM151.4 624.4h2.4v1.7h-2.4z"/>
<path fill="#c96364" d="M24.5 747.5h2.4v1.7h-2.4zM38.5 711.9h2.4v1.7h-2.4zM47.9 668.1h2.4v1.7h-2.4zM64.5 686.0h2.4v1.7h-2.4zM69.2 611.4h2.4v1.7h-2.4zM69.2 619.5h2.4v1.7h-2.4zM69.2 627.6h2.4v1.7h-2.4zM69.2 634.1h2.4v1.7h-2.4zM69.2 651.9h2.4v1.7h-2.4zM69.2 664.9h2.4v1.7h-2.4zM71.6 608.2h2.4v1.7h-2.4zM71.6 609.8h2.4v1.7h-2.4zM71.6 613.1h2.4v1.7h-2.4zM71.6 626.0h2.4v1.7h-2.4zM71.6 630.9h2.4v1.7h-2.4zM71.6 647.1h2.4v1.7h-2.4zM71.6 651.9h2.4v1.7h-2.4zM74.0 614.7h2.4v1.7h-2.4zM74.0 643.8h2.4v1.7h-2.4zM74.0 651.9h2.4v1.7h-2.4zM74.0 666.5h2.4v1.7h-2.4zM76.3 614.7h2.4v1.7h-2.4zM76.3 619.5h2.4v1.7h-2.4zM76.3 626.0h2.4v1.7h-2.4zM76.3 634.1h2.4v1.7h-2.4zM76.3 682.7h2.4v1.7h-2.4zM78.7 632.5h2.4v1.7h-2.4zM78.7 676.2h2.4v1.7h-2.4zM81.1 616.3h2.4v1.7h-2.4zM81.1 671.4h2.4v1.7h-2.4zM81.1 682.7h2.4v1.7h-2.4zM83.5 609.8h2.4v1.7h-2.4zM83.5 616.3h2.4v1.7h-2.4zM83.5 627.6h2.4v1.7h-2.4zM83.5 629.3h2.4v1.7h-2.4zM83.5 663.3h2.4v1.7h-2.4zM85.8 613.1h2.4v1.7h-2.4zM85.8 619.5h2.4v1.7h-2.4zM85.8 622.8h2.4v1.7h-2.4zM85.8 629.3h2.4v1.7h-2.4zM85.8 642.2h2.4v1.7h-2.4zM85.8 682.7h2.4v1.7h-2.4zM85.8 687.6h2.4v1.7h-2.4zM88.2 617.9h2.4v1.7h-2.4zM88.2 634.1h2.4v1.7h-2.4zM88.2 673.0h2.4v1.7h-2.4zM90.5 661.7h2.4v1.7h-2.4zM90.5 668.1h2.4v1.7h-2.4zM92.8 634.1h2.4v1.7h-2.4zM95.1 614.7h2.4v1.7h-2.4zM95.1 617.9h2.4v1.7h-2.4zM95.1 630.9h2.4v1.7h-2.4zM95.1 656.8h2.4v1.7h-2.4zM95.1 658.4h2.4v1.7h-2.4zM95.1 666.5h2.4v1.7h-2.4zM95.1 673.0h2.4v1.7h-2.4zM95.1 681.1h2.4v1.7h-2.4zM97.5 656.8h2.4v1.7h-2.4zM99.8 656.8h2.4v1.7h-2.4zM102.1 640.6h2.4v1.7h-2.4zM102.1 707.0h2.4v1.7h-2.4zM109.1 616.3h2.4v1.7h-2.4zM109.1 627.6h2.4v1.7h-2.4zM109.1 634.1h2.4v1.7h-2.4zM109.1 651.9h2.4v1.7h-2.4zM109.1 671.4h2.4v1.7h-2.4zM111.5 609.8h2.4v1.7h-2.4zM111.5 650.3h2.4v1.7h-2.4zM111.5 674.6h2.4v1.7h-2.4zM111.5 677.9h2.4v1.7h-2.4zM113.8 635.7h2.4v1.7h-2.4zM113.8 660.0h2.4v1.7h-2.4zM116.2 622.8h2.4v1.7h-2.4zM116.2 642.2h2.4v1.7h-2.4zM116.2 663.3h2.4v1.7h-2.4zM116.2 674.6h2.4v1.7h-2.4zM116.2 676.2h2.4v1.7h-2.4zM116.2 682.7h2.4v1.7h-2.4zM118.6 611.4h2.4v1.7h-2.4zM118.6 626.0h2.4v1.7h-2.4zM118.6 645.5h2.4v1.7h-2.4zM118.6 658.4h2.4v1.7h-2.4zM118.6 660.0h2.4v1.7h-2.4zM118.6 676.2h2.4v1.7h-2.4zM121.0 614.7h2.4v1.7h-2.4zM121.0 629.3h2.4v1.7h-2.4zM121.0 679.5h2.4v1.7h-2.4zM123.3 627.6h2.4v1.7h-2.4zM123.3 637.4h2.4v1.7h-2.4zM123.3 647.1h2.4v1.7h-2.4zM123.3 687.6h2.4v1.7h-2.4zM125.7 630.9h2.4v1.7h-2.4zM125.7 648.7h2.4v1.7h-2.4zM125.7 674.6h2.4v1.7h-2.4zM130.4 609.8h2.4v1.7h-2.4zM130.4 627.6h2.4v1.7h-2.4zM130.4 642.2h2.4v1.7h-2.4zM130.4 651.9h2.4v1.7h-2.4zM130.4 671.4h2.4v1.7h-2.4zM130.4 674.6h2.4v1.7h-2.4zM132.8 621.2h2.4v1.7h-2.4zM132.8 643.8h2.4v1.7h-2.4zM132.8 645.5h2.4v1.7h-2.4zM132.8 679.5h2.4v1.7h-2.4zM135.1 608.2h2.4v1.7h-2.4zM135.1 634.1h2.4v1.7h-2.4zM135.1 668.1h2.4v1.7h-2.4zM137.4 629.3h2.4v1.7h-2.4zM137.4 630.9h2.4v1.7h-2.4zM137.4 650.3h2.4v1.7h-2.4zM137.4 666.5h2.4v1.7h-2.4zM137.4 679.5h2.4v1.7h-2.4zM137.4 686.0h2.4v1.7h-2.4zM139.8 673.0h2.4v1.7h-2.4zM139.8 684.3h2.4v1.7h-2.4zM149.1 645.5h2.4v1.7h-2.4zM149.1 661.7h2.4v1.7h-2.4zM149.1 668.1h2.4v1.7h-2.4zM151.4 639.0h2.4v1.7h-2.4zM151.4 684.3h2.4v1.7h-2.4z"/>
<path fill="#c15052" d="M17.5 728.1h2.4v1.7h-2.4zM69.2 629.3h2.4v1.7h-2.4zM69.2 655.2h2.4v1.7h-2.4zM69.2 673.0h2.4v1.7h-2.4zM71.6 611.4h2.4v1.7h-2.4zM71.6 622.8h2.4v1.7h-2.4zM71.6 627.6h2.4v1.7h-2.4zM74.0 619.5h2.4v1.7h-2.4zM74.0 627.6h2.4v1.7h-2.4zM74.0 632.5h2.4v1.7h-2.4zM74.0 669.8h2.4v1.7h-2.4zM74.0 674.6h2.4v1.7h-2.4zM74.0 687.6h2.4v1.7h-2.4zM76.3 609.8h2.4v1.7h-2.4zM76.3 611.4h2.4v1.7h-2.4zM76.3 630.9h2.4v1.7h-2.4zM76.3 666.5h2.4v1.7h-2.4zM76.3 676.2h2.4v1.7h-2.4zM78.7 611.4h2.4v1.7h-2.4zM78.7 642.2h2.4v1.7h-2.4zM78.7 660.0h2.4v1.7h-2.4zM78.7 666.5h2.4v1.7h-2.4zM78.7 669.8h2.4v1.7h-2.4zM78.7 679.5h2.4v1.7h-2.4zM81.1 613.1h2.4v1.7h-2.4zM81.1 647.1h2.4v1.7h-2.4zM81.1 653.6h2.4v1.7h-2.4zM81.1 663.3h2.4v1.7h-2.4zM83.5 642.2h2.4v1.7h-2.4zM83.5 643.8h2.4v1.7h-2.4zM83.5 647.1h2.4v1.7h-2.4zM83.5 669.8h2.4v1.7h-2.4zM85.8 653.6h2.4v1.7h-2.4zM85.8 655.2h2.4v1.7h-2.4zM88.2 668.1h2.4v1.7h-2.4zM95.1 621.2h2.4v1.7h-2.4zM95.1 639.0h2.4v1.7h-2.4zM95.1 653.6h2.4v1.7h-2.4zM95.1 661.7h2.4v1.7h-2.4zM97.5 639.0h2.4v1.7h-2.4zM97.5 661.7h2.4v1.7h-2.4zM102.1 650.3h2.4v1.7h-2.4zM102.1 661.7h2.4v1.7h-2.4zM111.5 614.7h2.4v1.7h-2.4zM111.5 624.4h2.4v1.7h-2.4zM111.5 643.8h2.4v1.7h-2.4zM111.5 645.5h2.4v1.7h-2.4zM111.5 666.5h2.4v1.7h-2.4zM113.8 614.7h2.4v1.7h-2.4zM113.8 632.5h2.4v1.7h-2.4zM113.8 679.5h2.4v1.7h-2.4zM113.8 682.7h2.4v1.7h-2.4zM116.2 609.8h2.4v1.7h-2.4zM116.2 624.4h2.4v1.7h-2.4zM116.2 635.7h2.4v1.7h-2.4zM116.2 648.7h2.4v1.7h-2.4zM116.2 651.9h2.4v1.7h-2.4zM116.2 666.5h2.4v1.7h-2.4zM116.2 673.0h2.4v1.7h-2.4zM118.6 614.7h2.4v1.7h-2.4zM118.6 629.3h2.4v1.7h-2.4zM118.6 637.4h2.4v1.7h-2.4zM118.6 674.6h2.4v1.7h-2.4zM118.6 681.1h2.4v1.7h-2.4zM118.6 686.0h2.4v1.7h-2.4zM118.6 687.6h2.4v1.7h-2.4zM121.0 640.6h2.4v1.7h-2.4zM121.0 647.1h2.4v1.7h-2.4zM121.0 655.2h2.4v1.7h-2.4zM121.0 666.5h2.4v1.7h-2.4zM123.3 617.9h2.4v1.7h-2.4zM123.3 643.8h2.4v1.7h-2.4zM123.3 655.2h2.4v1.7h-2.4zM123.3 681.1h2.4v1.7h-2.4zM125.7 609.8h2.4v1.7h-2.4zM125.7 614.7h2.4v1.7h-2.4zM125.7 622.8h2.4v1.7h-2.4zM125.7 664.9h2.4v1.7h-2.4zM125.7 669.8h2.4v1.7h-2.4zM125.7 671.4h2.4v1.7h-2.4zM125.7 679.5h2.4v1.7h-2.4zM125.7 682.7h2.4v1.7h-2.4zM130.4 611.4h2.4v1.7h-2.4zM130.4 616.3h2.4v1.7h-2.4zM130.4 619.5h2.4v1.7h-2.4zM130.4 626.0h2.4v1.7h-2.4zM130.4 643.8h2.4v1.7h-2.4zM130.4 663.3h2.4v1.7h-2.4zM130.4 679.5h2.4v1.7h-2.4zM132.8 648.7h2.4v1.7h-2.4zM132.8 656.8h2.4v1.7h-2.4zM132.8 686.0h2.4v1.7h-2.4zM137.4 639.0h2.4v1.7h-2.4zM137.4 651.9h2.4v1.7h-2.4zM137.4 653.6h2.4v1.7h-2.4zM137.4 656.8h2.4v1.7h-2.4zM137.4 661.7h2.4v1.7h-2.4zM144.4 643.8h2.4v1.7h-2.4zM151.4 677.9h2.4v1.7h-2.4z"/>
<path fill="#b93e40" d="M69.2 621.2h2.4v1.7h-2.4zM69.2 635.7h2.4v1.7h-2.4zM69.2 637.4h2.4v1.7h-2.4zM69.2 640.6h2.4v1.7h-2.4zM69.2 643.8h2.4v1.7h-2.4zM69.2 647.1h2.4v1.7h-2.4zM69.2 656.8h2.4v1.7h-2.4zM69.2 687.6h2.4v1.7h-2.4zM71.6 617.9h2.4v1.7h-2.4zM71.6 619.5h2.4v1.7h-2.4zM71.6 640.6h2.4v1.7h-2.4zM71.6 642.2h2.4v1.7h-2.4zM71.6 643.8h2.4v1.7h-2.4zM71.6 661.7h2.4v1.7h-2.4zM71.6 666.5h2.4v1.7h-2.4zM71.6 669.8h2.4v1.7h-2.4zM71.6 684.3h2.4v1.7h-2.4zM74.0 611.4h2.4v1.7h-2.4zM74.0 637.4h2.4v1.7h-2.4zM74.0 673.0h2.4v1.7h-2.4zM74.0 677.9h2.4v1.7h-2.4zM74.0 681.1h2.4v1.7h-2.4zM76.3 624.4h2.4v1.7h-2.4zM76.3 632.5h2.4v1.7h-2.4zM76.3 645.5h2.4v1.7h-2.4zM76.3 663.3h2.4v1.7h-2.4zM76.3 664.9h2.4v1.7h-2.4zM76.3 679.5h2.4v1.7h-2.4zM78.7 608.2h2.4v1.7h-2.4zM78.7 630.9h2.4v1.7h-2.4zM78.7 645.5h2.4v1.7h-2.4zM78.7 648.7h2.4v1.7h-2.4zM81.1 637.4h2.4v1.7h-2.4zM83.5 621.2h2.4v1.7h-2.4zM83.5 635.7h2.4v1.7h-2.4zM83.5 645.5h2.4v1.7h-2.4zM83.5 671.4h2.4v1.7h-2.4zM83.5 687.6h2.4v1.7h-2.4zM85.8 608.2h2.4v1.7h-2.4zM85.8 627.6h2.4v1.7h-2.4zM85.8 651.9h2.4v1.7h-2.4zM85.8 658.4h2.4v1.7h-2.4zM85.8 669.8h2.4v1.7h-2.4zM85.8 676.2h2.4v1.7h-2.4zM88.2 655.2h2.4v1.7h-2.4zM95.1 650.3h2.4v1.7h-2.4zM99.8 668.1h2.4v1.7h-2.4zM102.1 634.1h2.4v1.7h-2.4zM102.1 656.8h2.4v1.7h-2.4zM109.1 608.2h2.4v1.7h-2.4zM109.1 645.5h2.4v1.7h-2.4zM109.1 664.9h2.4v1.7h-2.4zM109.1 669.8h2.4v1.7h-2.4zM109.1 674.6h2.4v1.7h-2.4zM109.1 676.2h2.4v1.7h-2.4zM111.5 686.0h2.4v1.7h-2.4zM111.5 687.6h2.4v1.7h-2.4zM113.8 622.8h2.4v1.7h-2.4zM113.8 637.4h2.4v1.7h-2.4zM113.8 681.1h2.4v1.7h-2.4zM113.8 687.6h2.4v1.7h-2.4zM116.2 619.5h2.4v1.7h-2.4zM116.2 626.0h2.4v1.7h-2.4zM116.2 629.3h2.4v1.7h-2.4zM116.2 653.6h2.4v1.7h-2.4zM116.2 660.0h2.4v1.7h-2.4zM116.2 687.6h2.4v1.7h-2.4zM118.6 619.5h2.4v1.7h-2.4zM118.6 651.9h2.4v1.7h-2.4zM118.6 664.9h2.4v1.7h-2.4zM118.6 666.5h2.4v1.7h-2.4zM118.6 684.3h2.4v1.7h-2.4zM121.0 622.8h2.4v1.7h-2.4zM121.0 634.1h2.4v1.7h-2.4zM121.0 635.7h2.4v1.7h-2.4zM121.0 653.6h2.4v1.7h-2.4zM121.0 681.1h2.4v1.7h-2.4zM121.0 684.3h2.4v1.7h-2.4zM121.0 687.6h2.4v1.7h-2.4zM123.3 611.4h2.4v1.7h-2.4zM123.3 634.1h2.4v1.7h-2.4zM123.3 651.9h2.4v1.7h-2.4zM123.3 660.0h2.4v1.7h-2.4zM123.3 666.5h2.4v1.7h-2.4zM123.3 674.6h2.4v1.7h-2.4zM123.3 682.7h2.4v1.7h-2.4zM125.7 608.2h2.4v1.7h-2.4zM125.7 621.2h2.4v1.7h-2.4zM125.7 627.6h2.4v1.7h-2.4zM125.7 645.5h2.4v1.7h-2.4zM125.7 666.5h2.4v1.7h-2.4zM125.7 681.1h2.4v1.7h-2.4zM128.1 668.1h2.4v1.7h-2.4zM130.4 622.8h2.4v1.7h-2.4zM132.8 650.3h2.4v1.7h-2.4zM137.4 609.8h2.4v1.7h-2.4zM146.7 639.0h2.4v1.7h-2.4z"/>
<path fill="#a83438" d="M69.2 639.0h2.4v1.7h-2.4zM71.6 629.3h2.4v1.7h-2.4zM71.6 634.1h2.4v1.7h-2.4zM71.6 648.7h2.4v1.7h-2.4zM71.6 664.9h2.4v1.7h-2.4zM71.6 677.9h2.4v1.7h-2.4zM71.6 679.5h2.4v1.7h-2.4zM71.6 682.7h2.4v1.7h-2.4zM74.0 686.0h2.4v1.7h-2.4zM76.3 629.3h2.4v1.7h-2.4zM76.3 635.7h2.4v1.7h-2.4zM76.3 637.4h2.4v1.7h-2.4zM76.3 639.0h2.4v1.7h-2.4zM76.3 643.8h2.4v1.7h-2.4zM76.3 681.1h2.4v1.7h-2.4zM76.3 684.3h2.4v1.7h-2.4zM78.7 617.9h2.4v1.7h-2.4zM78.7 619.5h2.4v1.7h-2.4zM78.7 624.4h2.4v1.7h-2.4zM78.7 626.0h2.4v1.7h-2.4zM78.7 635.7h2.4v1.7h-2.4zM78.7 637.4h2.4v1.7h-2.4zM78.7 643.8h2.4v1.7h-2.4zM78.7 650.3h2.4v1.7h-2.4zM78.7 653.6h2.4v1.7h-2.4zM78.7 655.2h2.4v1.7h-2.4zM78.7 658.4h2.4v1.7h-2.4zM78.7 664.9h2.4v1.7h-2.4zM78.7 687.6h2.4v1.7h-2.4zM81.1 608.2h2.4v1.7h-2.4zM81.1 622.8h2.4v1.7h-2.4zM81.1 629.3h2.4v1.7h-2.4zM81.1 643.8h2.4v1.7h-2.4zM81.1 645.5h2.4v1.7h-2.4zM81.1 674.6h2.4v1.7h-2.4zM83.5 608.2h2.4v1.7h-2.4zM83.5 611.4h2.4v1.7h-2.4zM83.5 653.6h2.4v1.7h-2.4zM83.5 658.4h2.4v1.7h-2.4zM83.5 660.0h2.4v1.7h-2.4zM83.5 664.9h2.4v1.7h-2.4zM83.5 674.6h2.4v1.7h-2.4zM83.5 681.1h2.4v1.7h-2.4zM83.5 682.7h2.4v1.7h-2.4zM85.8 624.4h2.4v1.7h-2.4zM85.8 635.7h2.4v1.7h-2.4zM85.8 647.1h2.4v1.7h-2.4zM85.8 673.0h2.4v1.7h-2.4zM92.8 650.3h2.4v1.7h-2.4zM95.1 655.2h2.4v1.7h-2.4zM109.1 611.4h2.4v1.7h-2.4zM109.1 619.5h2.4v1.7h-2.4zM109.1 622.8h2.4v1.7h-2.4zM109.1 630.9h2.4v1.7h-2.4zM109.1 640.6h2.4v1.7h-2.4zM109.1 642.2h2.4v1.7h-2.4zM109.1 647.1h2.4v1.7h-2.4zM109.1 653.6h2.4v1.7h-2.4zM109.1 658.4h2.4v1.7h-2.4zM109.1 660.0h2.4v1.7h-2.4zM109.1 663.3h2.4v1.7h-2.4zM109.1 682.7h2.4v1.7h-2.4zM109.1 687.6h2.4v1.7h-2.4zM111.5 611.4h2.4v1.7h-2.4zM111.5 617.9h2.4v1.7h-2.4zM111.5 635.7h2.4v1.7h-2.4zM111.5 640.6h2.4v1.7h-2.4zM111.5 673.0h2.4v1.7h-2.4zM111.5 684.3h2.4v1.7h-2.4zM113.8 611.4h2.4v1.7h-2.4zM113.8 630.9h2.4v1.7h-2.4zM116.2 621.2h2.4v1.7h-2.4zM116.2 634.1h2.4v1.7h-2.4zM116.2 643.8h2.4v1.7h-2.4zM116.2 669.8h2.4v1.7h-2.4zM118.6 634.1h2.4v1.7h-2.4zM118.6 640.6h2.4v1.7h-2.4zM118.6 643.8h2.4v1.7h-2.4zM118.6 682.7h2.4v1.7h-2.4zM121.0 621.2h2.4v1.7h-2.4zM121.0 624.4h2.4v1.7h-2.4zM121.0 632.5h2.4v1.7h-2.4zM121.0 645.5h2.4v1.7h-2.4zM121.0 656.8h2.4v1.7h-2.4zM121.0 676.2h2.4v1.7h-2.4zM123.3 614.7h2.4v1.7h-2.4zM123.3 664.9h2.4v1.7h-2.4zM123.3 669.8h2.4v1.7h-2.4zM123.3 676.2h2.4v1.7h-2.4zM125.7 611.4h2.4v1.7h-2.4zM125.7 632.5h2.4v1.7h-2.4zM125.7 643.8h2.4v1.7h-2.4zM125.7 647.1h2.4v1.7h-2.4zM125.7 676.2h2.4v1.7h-2.4zM128.1 679.5h2.4v1.7h-2.4zM130.4 624.4h2.4v1.7h-2.4zM130.4 629.3h2.4v1.7h-2.4zM130.4 630.9h2.4v1.7h-2.4zM130.4 635.7h2.4v1.7h-2.4zM130.4 653.6h2.4v1.7h-2.4zM130.4 655.2h2.4v1.7h-2.4zM130.4 664.9h2.4v1.7h-2.4zM130.4 676.2h2.4v1.7h-2.4zM132.8 661.7h2.4v1.7h-2.4zM132.8 684.3h2.4v1.7h-2.4zM137.4 621.2h2.4v1.7h-2.4zM137.4 687.6h2.4v1.7h-2.4zM151.4 679.5h2.4v1.7h-2.4z"/>
<path fill="#972b30" d="M69.2 617.9h2.4v1.7h-2.4zM69.2 626.0h2.4v1.7h-2.4zM69.2 648.7h2.4v1.7h-2.4zM69.2 650.3h2.4v1.7h-2.4zM69.2 653.6h2.4v1.7h-2.4zM69.2 686.0h2.4v1.7h-2.4zM71.6 621.2h2.4v1.7h-2.4zM71.6 637.4h2.4v1.7h-2.4zM71.6 681.1h2.4v1.7h-2.4zM74.0 617.9h2.4v1.7h-2.4zM74.0 650.3h2.4v1.7h-2.4zM74.0 682.7h2.4v1.7h-2.4zM76.3 617.9h2.4v1.7h-2.4zM76.3 647.1h2.4v1.7h-2.4zM76.3 651.9h2.4v1.7h-2.4zM76.3 658.4h2.4v1.7h-2.4zM76.3 677.9h2.4v1.7h-2.4zM78.7 614.7h2.4v1.7h-2.4zM78.7 640.6h2.4v1.7h-2.4zM78.7 651.9h2.4v1.7h-2.4zM78.7 682.7h2.4v1.7h-2.4zM78.7 684.3h2.4v1.7h-2.4zM81.1 609.8h2.4v1.7h-2.4zM81.1 619.5h2.4v1.7h-2.4zM81.1 630.9h2.4v1.7h-2.4zM81.1 640.6h2.4v1.7h-2.4zM81.1 648.7h2.4v1.7h-2.4zM81.1 660.0h2.4v1.7h-2.4zM81.1 669.8h2.4v1.7h-2.4zM81.1 673.0h2.4v1.7h-2.4zM81.1 679.5h2.4v1.7h-2.4zM83.5 626.0h2.4v1.7h-2.4zM83.5 632.5h2.4v1.7h-2.4zM83.5 637.4h2.4v1.7h-2.4zM83.5 676.2h2.4v1.7h-2.4zM85.8 614.7h2.4v1.7h-2.4zM85.8 617.9h2.4v1.7h-2.4zM85.8 645.5h2.4v1.7h-2.4zM85.8 648.7h2.4v1.7h-2.4zM85.8 660.0h2.4v1.7h-2.4zM85.8 677.9h2.4v1.7h-2.4zM109.1 609.8h2.4v1.7h-2.4zM109.1 632.5h2.4v1.7h-2.4zM109.1 635.7h2.4v1.7h-2.4zM109.1 677.9h2.4v1.7h-2.4zM109.1 679.5h2.4v1.7h-2.4zM109.1 681.1h2.4v1.7h-2.4zM109.1 686.0h2.4v1.7h-2.4zM111.5 621.2h2.4v1.7h-2.4zM111.5 632.5h2.4v1.7h-2.4zM111.5 639.0h2.4v1.7h-2.4zM111.5 668.1h2.4v1.7h-2.4zM111.5 681.1h2.4v1.7h-2.4zM113.8 617.9h2.4v1.7h-2.4zM113.8 651.9h2.4v1.7h-2.4zM113.8 668.1h2.4v1.7h-2.4zM113.8 673.0h2.4v1.7h-2.4zM113.8 686.0h2.4v1.7h-2.4zM116.2 608.2h2.4v1.7h-2.4zM116.2 611.4h2.4v1.7h-2.4zM116.2 637.4h2.4v1.7h-2.4zM116.2 656.8h2.4v1.7h-2.4zM118.6 661.7h2.4v1.7h-2.4zM118.6 668.1h2.4v1.7h-2.4zM121.0 611.4h2.4v1.7h-2.4zM121.0 617.9h2.4v1.7h-2.4zM121.0 626.0h2.4v1.7h-2.4zM121.0 650.3h2.4v1.7h-2.4zM121.0 677.9h2.4v1.7h-2.4zM121.0 686.0h2.4v1.7h-2.4zM123.3 609.8h2.4v1.7h-2.4zM123.3 621.2h2.4v1.7h-2.4zM123.3 648.7h2.4v1.7h-2.4zM123.3 656.8h2.4v1.7h-2.4zM123.3 677.9h2.4v1.7h-2.4zM123.3 679.5h2.4v1.7h-2.4zM125.7 617.9h2.4v1.7h-2.4zM125.7 624.4h2.4v1.7h-2.4zM125.7 626.0h2.4v1.7h-2.4zM125.7 655.2h2.4v1.7h-2.4zM125.7 686.0h2.4v1.7h-2.4zM125.7 687.6h2.4v1.7h-2.4zM128.1 608.2h2.4v1.7h-2.4zM128.1 609.8h2.4v1.7h-2.4zM128.1 661.7h2.4v1.7h-2.4zM128.1 682.7h2.4v1.7h-2.4zM130.4 621.2h2.4v1.7h-2.4zM130.4 634.1h2.4v1.7h-2.4zM130.4 637.4h2.4v1.7h-2.4zM130.4 640.6h2.4v1.7h-2.4zM130.4 647.1h2.4v1.7h-2.4zM130.4 660.0h2.4v1.7h-2.4zM130.4 673.0h2.4v1.7h-2.4zM130.4 677.9h2.4v1.7h-2.4zM132.8 639.0h2.4v1.7h-2.4zM137.4 668.1h2.4v1.7h-2.4z"/>
<path fill="#872228" d="M69.2 668.1h2.4v1.7h-2.4zM69.2 677.9h2.4v1.7h-2.4zM69.2 681.1h2.4v1.7h-2.4zM71.6 658.4h2.4v1.7h-2.4zM71.6 673.0h2.4v1.7h-2.4zM74.0 656.8h2.4v1.7h-2.4zM74.0 661.7h2.4v1.7h-2.4zM74.0 684.3h2.4v1.7h-2.4zM76.3 621.2h2.4v1.7h-2.4zM76.3 640.6h2.4v1.7h-2.4zM76.3 648.7h2.4v1.7h-2.4zM78.7 621.2h2.4v1.7h-2.4zM78.7 647.1h2.4v1.7h-2.4zM78.7 674.6h2.4v1.7h-2.4zM81.1 627.6h2.4v1.7h-2.4zM81.1 655.2h2.4v1.7h-2.4zM83.5 622.8h2.4v1.7h-2.4zM83.5 640.6h2.4v1.7h-2.4zM83.5 673.0h2.4v1.7h-2.4zM83.5 677.9h2.4v1.7h-2.4zM85.8 640.6h2.4v1.7h-2.4zM85.8 643.8h2.4v1.7h-2.4zM85.8 650.3h2.4v1.7h-2.4zM85.8 664.9h2.4v1.7h-2.4zM85.8 674.6h2.4v1.7h-2.4zM85.8 684.3h2.4v1.7h-2.4zM109.1 643.8h2.4v1.7h-2.4zM109.1 648.7h2.4v1.7h-2.4zM109.1 673.0h2.4v1.7h-2.4zM109.1 684.3h2.4v1.7h-2.4zM113.8 634.1h2.4v1.7h-2.4zM113.8 639.0h2.4v1.7h-2.4zM113.8 643.8h2.4v1.7h-2.4zM113.8 661.7h2.4v1.7h-2.4zM113.8 666.5h2.4v1.7h-2.4zM113.8 677.9h2.4v1.7h-2.4zM116.2 661.7h2.4v1.7h-2.4zM116.2 668.1h2.4v1.7h-2.4zM116.2 677.9h2.4v1.7h-2.4zM116.2 686.0h2.4v1.7h-2.4zM118.6 621.2h2.4v1.7h-2.4zM118.6 639.0h2.4v1.7h-2.4zM118.6 673.0h2.4v1.7h-2.4zM121.0 619.5h2.4v1.7h-2.4zM121.0 639.0h2.4v1.7h-2.4zM121.0 661.7h2.4v1.7h-2.4zM121.0 668.1h2.4v1.7h-2.4zM123.3 624.4h2.4v1.7h-2.4zM123.3 668.1h2.4v1.7h-2.4zM125.7 651.9h2.4v1.7h-2.4zM125.7 653.6h2.4v1.7h-2.4zM125.7 677.9h2.4v1.7h-2.4zM128.1 613.1h2.4v1.7h-2.4zM128.1 614.7h2.4v1.7h-2.4zM128.1 621.2h2.4v1.7h-2.4zM128.1 651.9h2.4v1.7h-2.4zM128.1 655.2h2.4v1.7h-2.4zM128.1 656.8h2.4v1.7h-2.4zM128.1 669.8h2.4v1.7h-2.4zM128.1 676.2h2.4v1.7h-2.4zM128.1 684.3h2.4v1.7h-2.4zM130.4 614.7h2.4v1.7h-2.4zM130.4 648.7h2.4v1.7h-2.4zM130.4 658.4h2.4v1.7h-2.4zM130.4 681.1h2.4v1.7h-2.4zM130.4 687.6h2.4v1.7h-2.4z"/>
<path fill="#761921" d="M71.6 624.4h2.4v1.7h-2.4zM71.6 650.3h2.4v1.7h-2.4zM71.6 655.2h2.4v1.7h-2.4zM74.0 653.6h2.4v1.7h-2.4zM74.0 668.1h2.4v1.7h-2.4zM76.3 653.6h2.4v1.7h-2.4zM76.3 661.7h2.4v1.7h-2.4zM76.3 673.0h2.4v1.7h-2.4zM76.3 686.0h2.4v1.7h-2.4zM78.7 656.8h2.4v1.7h-2.4zM78.7 677.9h2.4v1.7h-2.4zM81.1 611.4h2.4v1.7h-2.4zM81.1 621.2h2.4v1.7h-2.4zM81.1 624.4h2.4v1.7h-2.4zM81.1 635.7h2.4v1.7h-2.4zM83.5 614.7h2.4v1.7h-2.4zM83.5 634.1h2.4v1.7h-2.4zM83.5 655.2h2.4v1.7h-2.4zM83.5 686.0h2.4v1.7h-2.4zM85.8 632.5h2.4v1.7h-2.4zM109.1 614.7h2.4v1.7h-2.4zM109.1 621.2h2.4v1.7h-2.4zM109.1 629.3h2.4v1.7h-2.4zM109.1 637.4h2.4v1.7h-2.4zM109.1 668.1h2.4v1.7h-2.4zM111.5 634.1h2.4v1.7h-2.4zM111.5 655.2h2.4v1.7h-2.4zM111.5 661.7h2.4v1.7h-2.4zM113.8 653.6h2.4v1.7h-2.4zM113.8 655.2h2.4v1.7h-2.4zM113.8 684.3h2.4v1.7h-2.4zM116.2 617.9h2.4v1.7h-2.4zM116.2 650.3h2.4v1.7h-2.4zM118.6 624.4h2.4v1.7h-2.4zM118.6 650.3h2.4v1.7h-2.4zM118.6 656.8h2.4v1.7h-2.4zM118.6 679.5h2.4v1.7h-2.4zM123.3 673.0h2.4v1.7h-2.4zM125.7 619.5h2.4v1.7h-2.4zM125.7 684.3h2.4v1.7h-2.4zM128.1 617.9h2.4v1.7h-2.4zM128.1 629.3h2.4v1.7h-2.4zM128.1 634.1h2.4v1.7h-2.4zM128.1 637.4h2.4v1.7h-2.4zM128.1 639.0h2.4v1.7h-2.4zM128.1 640.6h2.4v1.7h-2.4zM128.1 648.7h2.4v1.7h-2.4zM128.1 653.6h2.4v1.7h-2.4zM128.1 663.3h2.4v1.7h-2.4zM128.1 664.9h2.4v1.7h-2.4zM128.1 666.5h2.4v1.7h-2.4zM128.1 677.9h2.4v1.7h-2.4zM128.1 687.6h2.4v1.7h-2.4zM130.4 639.0h2.4v1.7h-2.4zM130.4 684.3h2.4v1.7h-2.4z"/>
<path fill="#6e151d" d="M69.2 684.3h2.4v1.7h-2.4zM71.6 660.0h2.4v1.7h-2.4zM71.6 668.1h2.4v1.7h-2.4zM71.6 686.0h2.4v1.7h-2.4zM74.0 621.2h2.4v1.7h-2.4zM74.0 679.5h2.4v1.7h-2.4zM76.3 656.8h2.4v1.7h-2.4zM76.3 668.1h2.4v1.7h-2.4zM78.7 673.0h2.4v1.7h-2.4zM78.7 681.1h2.4v1.7h-2.4zM78.7 686.0h2.4v1.7h-2.4zM81.1 614.7h2.4v1.7h-2.4zM81.1 617.9h2.4v1.7h-2.4zM81.1 632.5h2.4v1.7h-2.4zM81.1 642.2h2.4v1.7h-2.4zM81.1 651.9h2.4v1.7h-2.4zM81.1 656.8h2.4v1.7h-2.4zM81.1 658.4h2.4v1.7h-2.4zM81.1 666.5h2.4v1.7h-2.4zM81.1 676.2h2.4v1.7h-2.4zM81.1 681.1h2.4v1.7h-2.4zM83.5 617.9h2.4v1.7h-2.4zM83.5 648.7h2.4v1.7h-2.4zM83.5 650.3h2.4v1.7h-2.4zM83.5 679.5h2.4v1.7h-2.4zM83.5 684.3h2.4v1.7h-2.4zM85.8 621.2h2.4v1.7h-2.4zM85.8 639.0h2.4v1.7h-2.4zM85.8 666.5h2.4v1.7h-2.4zM85.8 668.1h2.4v1.7h-2.4zM85.8 679.5h2.4v1.7h-2.4zM85.8 681.1h2.4v1.7h-2.4zM85.8 686.0h2.4v1.7h-2.4zM109.1 617.9h2.4v1.7h-2.4zM109.1 626.0h2.4v1.7h-2.4zM109.1 655.2h2.4v1.7h-2.4zM113.8 621.2h2.4v1.7h-2.4zM113.8 624.4h2.4v1.7h-2.4zM123.3 632.5h2.4v1.7h-2.4zM123.3 686.0h2.4v1.7h-2.4zM125.7 656.8h2.4v1.7h-2.4zM125.7 673.0h2.4v1.7h-2.4zM128.1 619.5h2.4v1.7h-2.4zM128.1 622.8h2.4v1.7h-2.4zM128.1 642.2h2.4v1.7h-2.4zM128.1 650.3h2.4v1.7h-2.4zM128.1 673.0h2.4v1.7h-2.4zM128.1 674.6h2.4v1.7h-2.4zM130.4 661.7h2.4v1.7h-2.4zM130.4 666.5h2.4v1.7h-2.4zM130.4 668.1h2.4v1.7h-2.4z"/>
<path fill="#6c141c" d="M74.0 634.1h2.4v1.7h-2.4zM76.3 650.3h2.4v1.7h-2.4zM76.3 655.2h2.4v1.7h-2.4zM78.7 661.7h2.4v1.7h-2.4zM78.7 668.1h2.4v1.7h-2.4zM81.1 664.9h2.4v1.7h-2.4zM81.1 686.0h2.4v1.7h-2.4zM83.5 651.9h2.4v1.7h-2.4zM83.5 666.5h2.4v1.7h-2.4zM85.8 661.7h2.4v1.7h-2.4zM109.1 639.0h2.4v1.7h-2.4zM109.1 650.3h2.4v1.7h-2.4zM109.1 661.7h2.4v1.7h-2.4zM113.8 640.6h2.4v1.7h-2.4zM113.8 656.8h2.4v1.7h-2.4zM116.2 655.2h2.4v1.7h-2.4zM118.6 653.6h2.4v1.7h-2.4zM123.3 639.0h2.4v1.7h-2.4zM123.3 640.6h2.4v1.7h-2.4zM123.3 650.3h2.4v1.7h-2.4zM125.7 661.7h2.4v1.7h-2.4zM128.1 611.4h2.4v1.7h-2.4zM128.1 616.3h2.4v1.7h-2.4zM128.1 624.4h2.4v1.7h-2.4zM128.1 626.0h2.4v1.7h-2.4zM128.1 627.6h2.4v1.7h-2.4zM128.1 632.5h2.4v1.7h-2.4zM128.1 635.7h2.4v1.7h-2.4zM128.1 643.8h2.4v1.7h-2.4zM128.1 645.5h2.4v1.7h-2.4zM128.1 647.1h2.4v1.7h-2.4zM128.1 658.4h2.4v1.7h-2.4zM128.1 681.1h2.4v1.7h-2.4zM128.1 686.0h2.4v1.7h-2.4zM130.4 617.9h2.4v1.7h-2.4zM130.4 656.8h2.4v1.7h-2.4z"/>
<path fill="#6a131b" d="M69.2 661.7h2.4v1.7h-2.4zM74.0 639.0h2.4v1.7h-2.4zM78.7 639.0h2.4v1.7h-2.4zM81.1 677.9h2.4v1.7h-2.4zM83.5 656.8h2.4v1.7h-2.4zM83.5 661.7h2.4v1.7h-2.4zM85.8 611.4h2.4v1.7h-2.4zM85.8 634.1h2.4v1.7h-2.4zM85.8 656.8h2.4v1.7h-2.4zM109.1 666.5h2.4v1.7h-2.4zM111.5 656.8h2.4v1.7h-2.4zM113.8 650.3h2.4v1.7h-2.4zM116.2 639.0h2.4v1.7h-2.4zM118.6 617.9h2.4v1.7h-2.4zM123.3 684.3h2.4v1.7h-2.4zM128.1 630.9h2.4v1.7h-2.4zM128.1 660.0h2.4v1.7h-2.4zM130.4 650.3h2.4v1.7h-2.4z"/>
<path fill="#68121a" d="M71.6 639.0h2.4v1.7h-2.4zM71.6 656.8h2.4v1.7h-2.4zM81.1 634.1h2.4v1.7h-2.4zM81.1 650.3h2.4v1.7h-2.4zM81.1 684.3h2.4v1.7h-2.4zM83.5 624.4h2.4v1.7h-2.4zM109.1 656.8h2.4v1.7h-2.4zM125.7 634.1h2.4v1.7h-2.4zM125.7 650.3h2.4v1.7h-2.4zM125.7 668.1h2.4v1.7h-2.4z"/>
<path fill="#661119" d="M81.1 668.1h2.4v1.7h-2.4zM109.1 624.4h2.4v1.7h-2.4zM125.7 639.0h2.4v1.7h-2.4zM128.1 671.4h2.4v1.7h-2.4zM130.4 686.0h2.4v1.7h-2.4z"/>
<path fill="#641018" d="M81.1 639.0h2.4v1.7h-2.4zM81.1 661.7h2.4v1.7h-2.4zM83.5 639.0h2.4v1.7h-2.4zM83.5 668.1h2.4v1.7h-2.4zM123.3 661.7h2.4v1.7h-2.4z"/></g>
<text x="157.30" y="626.20" font-size="8.7" text-anchor="start" fill="#222" >TimePoint</text>
<rect x="157.30" y="631.40" width="8.00" height="8.20" fill="#fffba2" />
<text x="168.20" y="637.90" font-size="8.7" text-anchor="start" fill="#222" >0min</text>
<rect x="157.30" y="639.60" width="8.00" height="8.60" fill="#fd8a3b" />
<text x="168.20" y="646.80" font-size="8.7" text-anchor="start" fill="#222" >3h</text>
<text x="157.30" y="663.50" font-size="8.7" text-anchor="start" fill="#222" >Treatment</text>
<rect x="157.30" y="668.30" width="8.00" height="8.20" fill="#d0d0d0" />
<text x="168.20" y="675.10" font-size="8.7" text-anchor="start" fill="#222" >Handling +ARS</text>
<rect x="157.30" y="676.50" width="8.00" height="9.00" fill="#7866fd" />
<text x="168.20" y="684.20" font-size="8.7" text-anchor="start" fill="#222" >10days CRS +ARS</text>
<text x="157.30" y="699.80" font-size="8.7" text-anchor="start" fill="#222" >scaledLFC</text>
<rect x="156.3" y="704.2" width="9.8" height="47.6" fill="url(#lfc)"/>
<line x1="156.30" y1="706.60" x2="158.30" y2="706.60" stroke="#fff" stroke-width="0.7" />
<line x1="164.10" y1="706.60" x2="166.10" y2="706.60" stroke="#fff" stroke-width="0.7" />
<line x1="156.30" y1="728.30" x2="158.30" y2="728.30" stroke="#fff" stroke-width="0.7" />
<line x1="164.10" y1="728.30" x2="166.10" y2="728.30" stroke="#fff" stroke-width="0.7" />
<line x1="156.30" y1="750.80" x2="158.30" y2="750.80" stroke="#fff" stroke-width="0.7" />
<line x1="164.10" y1="750.80" x2="166.10" y2="750.80" stroke="#fff" stroke-width="0.7" />
<text x="168.20" y="709.70" font-size="8.7" text-anchor="start" fill="#222" >5</text>
<text x="168.20" y="731.80" font-size="8.7" text-anchor="start" fill="#222" >0</text>
<text x="167.60" y="753.80" font-size="8.7" text-anchor="start" fill="#222" >−5</text>
<text x="250.80" y="568.30" font-size="18.6" text-anchor="start" fill="#222" >H</text>
<text x="331.50" y="564.90" font-size="9.5" text-anchor="middle" fill="#222" >Sample-wise</text>
<text x="331.50" y="575.70" font-size="9.5" text-anchor="middle" fill="#222" >response coefficient</text>
<line x1="276.50" y1="585.20" x2="276.50" y2="716.40" stroke="#666" stroke-width="1.4" />
<line x1="275.80" y1="715.70" x2="387.50" y2="715.70" stroke="#707070" stroke-width="1.4" />
<circle cx="281.15" cy="702.95" r="2.3" fill="#a3a3a3" />
<circle cx="281.15" cy="707.82" r="2.3" fill="#a3a3a3" />
<circle cx="283.85" cy="710.26" r="2.3" fill="#a3a3a3" />
<circle cx="302.80" cy="674.53" r="2.3" fill="#a3a3a3" />
<circle cx="305.51" cy="673.17" r="2.3" fill="#a3a3a3" />
<circle cx="310.93" cy="678.05" r="2.3" fill="#a3a3a3" />
<circle cx="316.34" cy="676.69" r="2.3" fill="#a3a3a3" />
<circle cx="317.69" cy="669.11" r="2.3" fill="#a3a3a3" />
<circle cx="330.69" cy="652.06" r="2.3" fill="#a3a3a3" />
<circle cx="335.56" cy="659.10" r="2.3" fill="#a3a3a3" />
<circle cx="342.87" cy="629.05" r="2.3" fill="#a3a3a3" />
<circle cx="351.80" cy="637.98" r="2.3" fill="#a3a3a3" />
<circle cx="361.82" cy="656.39" r="2.3" fill="#a3a3a3" />
<circle cx="368.05" cy="632.57" r="2.3" fill="#a3a3a3" />
<circle cx="374.00" cy="608.20" r="2.3" fill="#a3a3a3" />
<circle cx="378.87" cy="600.08" r="2.3" fill="#a3a3a3" />
<circle cx="382.66" cy="604.95" r="2.3" fill="#a3a3a3" />
<line x1="281.10" y1="706.50" x2="382.70" y2="606.80" stroke="#3170ee" stroke-width="2" />
<path d="M317.7,669.1 Q331,685 331.2,715.1" stroke="#d42020" stroke-width="1.6" fill="none" stroke-dasharray="1.3 1.1"/>
<text x="336.10" y="693.50" font-size="8.8" text-anchor="start" fill="#222" >slope</text>
<text x="273.2" y="652.8" font-size="9.5" text-anchor="middle" fill="#222" transform="rotate(-90 273.2 652.8)">log2(FC) in sample</text>
<text x="334.00" y="726.50" font-size="9.5" text-anchor="middle" fill="#222" >Mean log2(FC) upon</text>
<text x="333.40" y="739.50" font-size="9.5" text-anchor="middle" fill="#222" >Handling + ARS</text>
<text x="415.50" y="567.90" font-size="18.6" text-anchor="start" fill="#222" >I</text>
<line x1="526.10" y1="555.20" x2="526.10" y2="566.20" stroke="#8a8a8a" stroke-width="0.9" />
<rect x="520.60" y="557.40" width="11.00" height="6.80" fill="#d4d4d4" stroke="#8a8a8a" stroke-width="0.9"/>
<line x1="520.60" y1="560.80" x2="531.60" y2="560.80" stroke="#8a8a8a" stroke-width="0.9" />
<text x="535.50" y="564.40" font-size="8.7" text-anchor="start" fill="#222" >Handling + ARS</text>
<line x1="470.50" y1="566.50" x2="470.50" y2="577.50" stroke="#7b68f0" stroke-width="0.9" />
<rect x="465.00" y="568.70" width="11.00" height="6.80" fill="#9e92fb" stroke="#7b68f0" stroke-width="0.9"/>
<line x1="465.00" y1="572.10" x2="476.00" y2="572.10" stroke="#7b68f0" stroke-width="0.9" />
<text x="480.90" y="575.70" font-size="8.7" text-anchor="start" fill="#222" >10days CRS + ARS</text>
<line x1="575.80" y1="566.50" x2="575.80" y2="577.50" stroke="#27277a" stroke-width="0.9" />
<rect x="570.30" y="568.70" width="11.00" height="6.80" fill="#4f4f99" stroke="#27277a" stroke-width="0.9"/>
<line x1="570.30" y1="572.10" x2="581.30" y2="572.10" stroke="#27277a" stroke-width="0.9" />
<text x="584.90" y="575.70" font-size="8.7" text-anchor="start" fill="#222" >20days CRS + ARS</text>
<line x1="454.50" y1="594.70" x2="454.50" y2="731.20" stroke="#5a5a5a" stroke-width="1.3" />
<line x1="453.90" y1="730.60" x2="669.10" y2="730.60" stroke="#5a5a5a" stroke-width="1.3" />
<line x1="451.00" y1="600.90" x2="454.50" y2="600.90" stroke="#444" stroke-width="1" />
<text x="450.30" y="603.80" font-size="8.4" text-anchor="end" fill="#333" >1.5</text>
<line x1="451.00" y1="635.20" x2="454.50" y2="635.20" stroke="#444" stroke-width="1" />
<text x="450.30" y="638.10" font-size="8.4" text-anchor="end" fill="#333" >1.0</text>
<line x1="451.00" y1="669.50" x2="454.50" y2="669.50" stroke="#444" stroke-width="1" />
<text x="450.30" y="672.40" font-size="8.4" text-anchor="end" fill="#333" >0.5</text>
<line x1="451.00" y1="703.80" x2="454.50" y2="703.80" stroke="#444" stroke-width="1" />
<text x="450.30" y="706.70" font-size="8.4" text-anchor="end" fill="#333" >0.0</text>
<line x1="494.40" y1="730.60" x2="494.40" y2="733.50" stroke="#444" stroke-width="1" />
<line x1="561.50" y1="730.60" x2="561.50" y2="733.50" stroke="#444" stroke-width="1" />
<line x1="628.90" y1="730.60" x2="628.90" y2="733.50" stroke="#444" stroke-width="1" />
<text x="494.40" y="740.70" font-size="9" text-anchor="middle" fill="#222" >Baseline</text>
<text x="561.50" y="740.70" font-size="9" text-anchor="middle" fill="#222" >3h ARS</text>
<text x="561.50" y="751.20" font-size="9" text-anchor="middle" fill="#222" >original</text>
<text x="628.90" y="741.20" font-size="9" text-anchor="middle" fill="#222" >3h ARS</text>
<text x="628.90" y="751.20" font-size="9" text-anchor="middle" fill="#222" >replication</text>
<line x1="477.70" y1="680.00" x2="477.70" y2="695.10" stroke="#8d8d8d" stroke-width="1.1" />
<line x1="477.70" y1="709.60" x2="477.70" y2="722.00" stroke="#8d8d8d" stroke-width="1.1" />
<rect x="469.90" y="695.10" width="15.60" height="14.50" fill="#d3d3d3" stroke="#8d8d8d" stroke-width="1.1"/>
<line x1="469.90" y1="698.60" x2="485.50" y2="698.60" stroke="#777" stroke-width="1.8" />
<line x1="493.95" y1="698.60" x2="493.95" y2="704.90" stroke="#8878f7" stroke-width="1.1" />
<line x1="493.95" y1="711.50" x2="493.95" y2="713.00" stroke="#8878f7" stroke-width="1.1" />
<rect x="486.00" y="704.90" width="15.90" height="6.60" fill="#9b8ffb" stroke="#8878f7" stroke-width="1.1"/>
<line x1="486.00" y1="708.50" x2="501.90" y2="708.50" stroke="#7a68f2" stroke-width="1.8" />
<line x1="511.10" y1="682.30" x2="511.10" y2="701.40" stroke="#2c2c80" stroke-width="1.1" />
<line x1="511.10" y1="714.30" x2="511.10" y2="722.70" stroke="#2c2c80" stroke-width="1.1" />
<rect x="503.50" y="701.40" width="15.20" height="12.90" fill="#55559c" stroke="#2c2c80" stroke-width="1.1"/>
<line x1="503.50" y1="710.80" x2="518.70" y2="710.80" stroke="#1c1c6a" stroke-width="1.8" />
<line x1="545.10" y1="618.00" x2="545.10" y2="626.20" stroke="#8d8d8d" stroke-width="1.1" />
<line x1="545.10" y1="637.40" x2="545.10" y2="648.90" stroke="#8d8d8d" stroke-width="1.1" />
<rect x="537.40" y="626.20" width="15.40" height="11.20" fill="#d3d3d3" stroke="#8d8d8d" stroke-width="1.1"/>
<line x1="537.40" y1="627.40" x2="552.80" y2="627.40" stroke="#777" stroke-width="1.8" />
<line x1="561.70" y1="658.20" x2="561.70" y2="665.40" stroke="#8878f7" stroke-width="1.1" />
<line x1="561.70" y1="670.60" x2="561.70" y2="678.30" stroke="#8878f7" stroke-width="1.1" />
<rect x="553.80" y="665.40" width="15.80" height="5.20" fill="#9b8ffb" stroke="#8878f7" stroke-width="1.1"/>
<line x1="553.80" y1="668.00" x2="569.60" y2="668.00" stroke="#7a68f2" stroke-width="1.8" />
<line x1="578.65" y1="657.00" x2="578.65" y2="664.70" stroke="#2c2c80" stroke-width="1.1" />
<line x1="578.65" y1="672.20" x2="578.65" y2="680.40" stroke="#2c2c80" stroke-width="1.1" />
<rect x="570.80" y="664.70" width="15.70" height="7.50" fill="#55559c" stroke="#2c2c80" stroke-width="1.1"/>
<line x1="570.80" y1="667.10" x2="586.50" y2="667.10" stroke="#1c1c6a" stroke-width="1.8" />
<line x1="616.20" y1="629.80" x2="616.20" y2="633.90" stroke="#8d8d8d" stroke-width="1.1" />
<line x1="616.20" y1="641.70" x2="616.20" y2="645.40" stroke="#8d8d8d" stroke-width="1.1" />
<rect x="604.60" y="633.90" width="23.20" height="7.80" fill="#d3d3d3" stroke="#8d8d8d" stroke-width="1.1"/>
<line x1="604.60" y1="636.30" x2="627.80" y2="636.30" stroke="#777" stroke-width="1.8" />
<line x1="641.95" y1="648.30" x2="641.95" y2="652.60" stroke="#8878f7" stroke-width="1.1" />
<line x1="641.95" y1="671.50" x2="641.95" y2="672.60" stroke="#8878f7" stroke-width="1.1" />
<rect x="630.40" y="652.60" width="23.10" height="18.90" fill="#9b8ffb" stroke="#8878f7" stroke-width="1.1"/>
<line x1="630.40" y1="659.10" x2="653.50" y2="659.10" stroke="#7a68f2" stroke-width="1.8" />
<path d="M553.90,588.50L553.90,594.70M551.22,590.05L556.58,593.15M556.58,590.05L551.22,593.15" stroke="#222" stroke-width="1.2" fill="none"/>
<circle cx="553.90" cy="591.60" r="1.1" fill="#222" />
<path d="M562.30,588.50L562.30,594.70M559.62,590.05L564.98,593.15M564.98,590.05L559.62,593.15" stroke="#222" stroke-width="1.2" fill="none"/>
<circle cx="562.30" cy="591.60" r="1.1" fill="#222" />
<path d="M570.70,588.50L570.70,594.70M568.02,590.05L573.38,593.15M573.38,590.05L568.02,593.15" stroke="#222" stroke-width="1.2" fill="none"/>
<circle cx="570.70" cy="591.60" r="1.1" fill="#222" />
<line x1="544.40" y1="598.20" x2="580.60" y2="598.20" stroke="#222" stroke-width="1.2" />
<path d="M544.90,602.80L544.90,609.00M542.22,604.35L547.58,607.45M547.58,604.35L542.22,607.45" stroke="#222" stroke-width="1.2" fill="none"/>
<circle cx="544.90" cy="605.90" r="1.1" fill="#222" />
<path d="M553.30,602.80L553.30,609.00M550.62,604.35L555.98,607.45M555.98,604.35L550.62,607.45" stroke="#222" stroke-width="1.2" fill="none"/>
<circle cx="553.30" cy="605.90" r="1.1" fill="#222" />
<path d="M561.70,602.80L561.70,609.00M559.02,604.35L564.38,607.45M564.38,604.35L559.02,607.45" stroke="#222" stroke-width="1.2" fill="none"/>
<circle cx="561.70" cy="605.90" r="1.1" fill="#222" />
<line x1="544.40" y1="611.50" x2="561.90" y2="611.50" stroke="#222" stroke-width="1.2" />
<path d="M624.70,588.50L624.70,594.70M622.02,590.05L627.38,593.15M627.38,590.05L622.02,593.15" stroke="#222" stroke-width="1.2" fill="none"/>
<circle cx="624.70" cy="591.60" r="1.1" fill="#222" />
<path d="M633.10,588.50L633.10,594.70M630.42,590.05L635.78,593.15M635.78,590.05L630.42,593.15" stroke="#222" stroke-width="1.2" fill="none"/>
<circle cx="633.10" cy="591.60" r="1.1" fill="#222" />
<line x1="615.90" y1="598.30" x2="642.00" y2="598.30" stroke="#222" stroke-width="1.2" />
<text x="425" y="653" font-size="9.3" text-anchor="middle" fill="#222" transform="rotate(-90 425 653)">3h stress</text>
<text x="434.6" y="653" font-size="9.3" text-anchor="middle" fill="#222" transform="rotate(-90 434.6 653)">response coefficient</text>
</svg></div></body></html>
